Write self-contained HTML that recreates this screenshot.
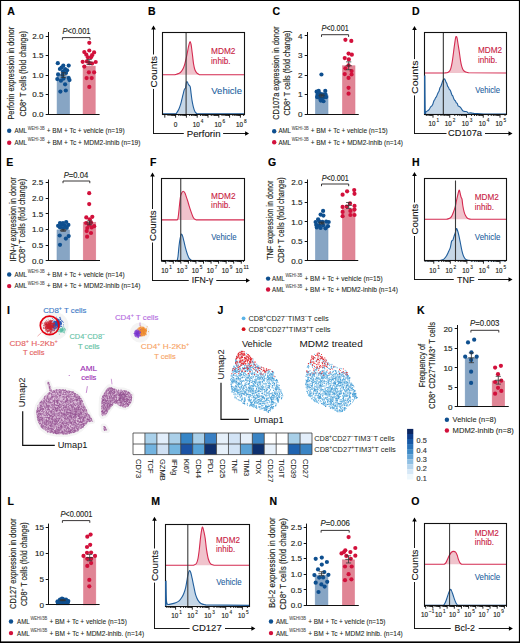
<!DOCTYPE html><html><head><meta charset="utf-8"><style>html,body{margin:0;padding:0;background:#fff;}svg{display:block;}text{font-family:"Liberation Sans",sans-serif;}</style></head><body><svg width="520" height="643" viewBox="0 0 520 643" font-family='"Liberation Sans", sans-serif'>
<rect width="520" height="643" fill="#fff"/>
<text x="7.20" y="14.60" font-size="10.5" fill="#000" stroke="#000" stroke-width="0.15" font-weight="bold">A</text>
<text x="148.00" y="14.60" font-size="10.5" fill="#000" stroke="#000" stroke-width="0.15" font-weight="bold">B</text>
<text x="272.40" y="14.60" font-size="10.5" fill="#000" stroke="#000" stroke-width="0.15" font-weight="bold">C</text>
<text x="412.00" y="14.60" font-size="10.5" fill="#000" stroke="#000" stroke-width="0.15" font-weight="bold">D</text>
<text x="6.30" y="165.60" font-size="10.5" fill="#000" stroke="#000" stroke-width="0.15" font-weight="bold">E</text>
<text x="150.00" y="165.60" font-size="10.5" fill="#000" stroke="#000" stroke-width="0.15" font-weight="bold">F</text>
<text x="268.00" y="165.60" font-size="10.5" fill="#000" stroke="#000" stroke-width="0.15" font-weight="bold">G</text>
<text x="412.00" y="165.60" font-size="10.5" fill="#000" stroke="#000" stroke-width="0.15" font-weight="bold">H</text>
<text x="7.00" y="313.80" font-size="10.5" fill="#000" stroke="#000" stroke-width="0.15" font-weight="bold">I</text>
<text x="217.60" y="313.90" font-size="10.5" fill="#000" stroke="#000" stroke-width="0.15" font-weight="bold">J</text>
<text x="417.00" y="313.80" font-size="10.5" fill="#000" stroke="#000" stroke-width="0.15" font-weight="bold">K</text>
<text x="7.40" y="504.70" font-size="10.5" fill="#000" stroke="#000" stroke-width="0.15" font-weight="bold">L</text>
<text x="151.30" y="504.70" font-size="10.5" fill="#000" stroke="#000" stroke-width="0.15" font-weight="bold">M</text>
<text x="269.50" y="504.70" font-size="10.5" fill="#000" stroke="#000" stroke-width="0.15" font-weight="bold">N</text>
<text x="411.30" y="504.70" font-size="10.5" fill="#000" stroke="#000" stroke-width="0.15" font-weight="bold">O</text>
<rect x="57.10" y="76.00" width="12.40" height="38.10" fill="#87a5c4" stroke="#7a9cc0" stroke-width="0.6"/>
<rect x="83.10" y="66.13" width="12.10" height="47.97" fill="#e08595" stroke="#de7c90" stroke-width="0.6"/>
<circle cx="57.80" cy="63.20" r="2.10" fill="#0e4f8f"/>
<circle cx="63.30" cy="65.60" r="2.10" fill="#0e4f8f"/>
<circle cx="68.70" cy="65.60" r="2.10" fill="#0e4f8f"/>
<circle cx="59.90" cy="69.00" r="2.10" fill="#0e4f8f"/>
<circle cx="65.10" cy="69.00" r="2.10" fill="#0e4f8f"/>
<circle cx="63.00" cy="71.30" r="2.10" fill="#0e4f8f"/>
<circle cx="67.10" cy="70.30" r="2.10" fill="#0e4f8f"/>
<circle cx="58.10" cy="74.40" r="2.10" fill="#0e4f8f"/>
<circle cx="62.50" cy="74.90" r="2.10" fill="#0e4f8f"/>
<circle cx="57.30" cy="79.10" r="2.10" fill="#0e4f8f"/>
<circle cx="60.90" cy="80.70" r="2.10" fill="#0e4f8f"/>
<circle cx="63.50" cy="78.60" r="2.10" fill="#0e4f8f"/>
<circle cx="68.70" cy="78.10" r="2.10" fill="#0e4f8f"/>
<circle cx="69.50" cy="80.10" r="2.10" fill="#0e4f8f"/>
<circle cx="65.10" cy="84.30" r="2.10" fill="#0e4f8f"/>
<circle cx="60.40" cy="91.60" r="2.10" fill="#0e4f8f"/>
<circle cx="65.80" cy="90.50" r="2.10" fill="#0e4f8f"/>
<circle cx="61.50" cy="67.50" r="2.10" fill="#0e4f8f"/>
<circle cx="66.00" cy="73.00" r="2.10" fill="#0e4f8f"/>
<circle cx="89.30" cy="42.80" r="2.10" fill="#d2103b"/>
<circle cx="89.30" cy="50.50" r="2.10" fill="#d2103b"/>
<circle cx="84.30" cy="52.10" r="2.10" fill="#d2103b"/>
<circle cx="94.10" cy="52.40" r="2.10" fill="#d2103b"/>
<circle cx="86.30" cy="54.70" r="2.10" fill="#d2103b"/>
<circle cx="92.10" cy="55.20" r="2.10" fill="#d2103b"/>
<circle cx="87.90" cy="57.30" r="2.10" fill="#d2103b"/>
<circle cx="91.00" cy="57.30" r="2.10" fill="#d2103b"/>
<circle cx="82.70" cy="61.80" r="2.10" fill="#d2103b"/>
<circle cx="95.70" cy="62.00" r="2.10" fill="#d2103b"/>
<circle cx="86.90" cy="61.40" r="2.10" fill="#d2103b"/>
<circle cx="89.50" cy="63.20" r="2.10" fill="#d2103b"/>
<circle cx="92.10" cy="63.50" r="2.10" fill="#d2103b"/>
<circle cx="84.30" cy="66.60" r="2.10" fill="#d2103b"/>
<circle cx="88.90" cy="72.30" r="2.10" fill="#d2103b"/>
<circle cx="94.10" cy="72.30" r="2.10" fill="#d2103b"/>
<circle cx="86.60" cy="78.10" r="2.10" fill="#d2103b"/>
<circle cx="91.70" cy="78.10" r="2.10" fill="#d2103b"/>
<circle cx="89.30" cy="86.90" r="2.10" fill="#d2103b"/>
<line x1="63.30" y1="77.44" x2="63.30" y2="72.76" stroke="#333" stroke-width="0.8"/>
<line x1="60.70" y1="77.44" x2="65.90" y2="77.44" stroke="#333" stroke-width="0.8"/>
<line x1="60.70" y1="72.76" x2="65.90" y2="72.76" stroke="#333" stroke-width="0.8"/>
<line x1="60.10" y1="75.10" x2="66.50" y2="75.10" stroke="#333" stroke-width="0.8"/>
<line x1="89.10" y1="64.53" x2="89.10" y2="59.62" stroke="#333" stroke-width="0.8"/>
<line x1="86.50" y1="64.53" x2="91.70" y2="64.53" stroke="#333" stroke-width="0.8"/>
<line x1="86.50" y1="59.62" x2="91.70" y2="59.62" stroke="#333" stroke-width="0.8"/>
<line x1="85.90" y1="62.07" x2="92.30" y2="62.07" stroke="#333" stroke-width="0.8"/>
<line x1="48.50" y1="32.00" x2="48.50" y2="115.00" stroke="#111" stroke-width="1.0"/>
<line x1="48.00" y1="114.50" x2="99.60" y2="114.50" stroke="#111" stroke-width="1.0"/>
<line x1="45.70" y1="114.50" x2="48.50" y2="114.50" stroke="#111" stroke-width="1.0"/>
<text x="43.60" y="116.95" font-size="8.1" fill="#231f20" stroke="#231f20" stroke-width="0.15" text-anchor="end">0.0</text>
<line x1="45.70" y1="94.50" x2="48.50" y2="94.50" stroke="#111" stroke-width="1.0"/>
<text x="43.60" y="97.45" font-size="8.1" fill="#231f20" stroke="#231f20" stroke-width="0.15" text-anchor="end">0.5</text>
<line x1="45.70" y1="75.50" x2="48.50" y2="75.50" stroke="#111" stroke-width="1.0"/>
<text x="43.60" y="77.95" font-size="8.1" fill="#231f20" stroke="#231f20" stroke-width="0.15" text-anchor="end">1.0</text>
<line x1="45.70" y1="55.50" x2="48.50" y2="55.50" stroke="#111" stroke-width="1.0"/>
<text x="43.60" y="58.45" font-size="8.1" fill="#231f20" stroke="#231f20" stroke-width="0.15" text-anchor="end">1.5</text>
<line x1="45.70" y1="36.50" x2="48.50" y2="36.50" stroke="#111" stroke-width="1.0"/>
<text x="43.60" y="38.95" font-size="8.1" fill="#231f20" stroke="#231f20" stroke-width="0.15" text-anchor="end">2.0</text>
<path d="M62.40 39.80V37.60H90.00V39.80" fill="none" stroke="#231f20" stroke-width="0.9"/>
<text x="62.60" y="33.70" font-size="8.3" fill="#231f20" stroke="#231f20" stroke-width="0.12" textLength="27.90" lengthAdjust="spacingAndGlyphs"><tspan font-style="italic">P</tspan>&lt;0.001</text>
<text x="13.60" y="119.60" font-size="8.9" fill="#231f20" stroke="#231f20" stroke-width="0.15" textLength="92.80" lengthAdjust="spacingAndGlyphs" transform="rotate(-90 13.60 119.60)">Perforin expression in donor</text>
<text x="25.80" y="116.60" font-size="8.9" fill="#231f20" stroke="#231f20" stroke-width="0.15" textLength="85.60" lengthAdjust="spacingAndGlyphs" transform="rotate(-90 25.80 116.60)">CD8<tspan font-size="6.05" dy="-3.20">+</tspan><tspan dy="3.20"> </tspan>T cells (fold change)</text>
<circle cx="9.20" cy="130.70" r="2.20" fill="#0e4f8f"/>
<text x="14.40" y="132.90" font-size="7.4" fill="#231f20" stroke="#231f20" stroke-width="0.08" textLength="12.60" lengthAdjust="spacingAndGlyphs">AML</text>
<text x="27.80" y="129.60" font-size="4.6" fill="#444" stroke="#444" stroke-width="0.05" textLength="16.80" lengthAdjust="spacingAndGlyphs">WEHI-3B</text>
<text x="46.70" y="132.90" font-size="7.4" fill="#231f20" stroke="#231f20" stroke-width="0.08" textLength="77.90" lengthAdjust="spacingAndGlyphs">+ BM + Tc + vehicle (n=19)</text>
<circle cx="9.20" cy="142.80" r="2.20" fill="#d2103b"/>
<text x="14.40" y="144.60" font-size="7.4" fill="#231f20" stroke="#231f20" stroke-width="0.08" textLength="12.60" lengthAdjust="spacingAndGlyphs">AML</text>
<text x="27.80" y="141.30" font-size="4.6" fill="#444" stroke="#444" stroke-width="0.05" textLength="16.80" lengthAdjust="spacingAndGlyphs">WEHI-3B</text>
<text x="46.70" y="144.60" font-size="7.4" fill="#231f20" stroke="#231f20" stroke-width="0.08" textLength="93.80" lengthAdjust="spacingAndGlyphs">+ BM + Tc + MDM2-inhib (n=19)</text>
<rect x="315.50" y="95.61" width="12.50" height="18.64" fill="#87a5c4" stroke="#7a9cc0" stroke-width="0.6"/>
<rect x="342.50" y="65.79" width="12.50" height="48.46" fill="#e08595" stroke="#de7c90" stroke-width="0.6"/>
<circle cx="321.44" cy="74.52" r="2.10" fill="#0e4f8f"/>
<circle cx="316.64" cy="91.64" r="2.10" fill="#0e4f8f"/>
<circle cx="318.70" cy="90.96" r="2.10" fill="#0e4f8f"/>
<circle cx="325.27" cy="90.96" r="2.10" fill="#0e4f8f"/>
<circle cx="317.60" cy="94.38" r="2.10" fill="#0e4f8f"/>
<circle cx="320.07" cy="93.70" r="2.10" fill="#0e4f8f"/>
<circle cx="322.81" cy="94.38" r="2.10" fill="#0e4f8f"/>
<circle cx="325.55" cy="94.38" r="2.10" fill="#0e4f8f"/>
<circle cx="317.05" cy="97.12" r="2.10" fill="#0e4f8f"/>
<circle cx="319.38" cy="97.81" r="2.10" fill="#0e4f8f"/>
<circle cx="322.12" cy="98.49" r="2.10" fill="#0e4f8f"/>
<circle cx="324.86" cy="97.12" r="2.10" fill="#0e4f8f"/>
<circle cx="320.75" cy="100.55" r="2.10" fill="#0e4f8f"/>
<circle cx="323.49" cy="101.23" r="2.10" fill="#0e4f8f"/>
<circle cx="318.70" cy="95.75" r="2.10" fill="#0e4f8f"/>
<circle cx="326.23" cy="97.12" r="2.10" fill="#0e4f8f"/>
<circle cx="345.41" cy="39.86" r="2.10" fill="#d2103b"/>
<circle cx="351.30" cy="40.96" r="2.10" fill="#d2103b"/>
<circle cx="348.56" cy="53.56" r="2.10" fill="#d2103b"/>
<circle cx="351.85" cy="54.66" r="2.10" fill="#d2103b"/>
<circle cx="344.73" cy="58.08" r="2.10" fill="#d2103b"/>
<circle cx="348.84" cy="59.45" r="2.10" fill="#d2103b"/>
<circle cx="348.56" cy="65.34" r="2.10" fill="#d2103b"/>
<circle cx="345.41" cy="68.36" r="2.10" fill="#d2103b"/>
<circle cx="351.58" cy="71.10" r="2.10" fill="#d2103b"/>
<circle cx="344.73" cy="74.11" r="2.10" fill="#d2103b"/>
<circle cx="351.58" cy="74.52" r="2.10" fill="#d2103b"/>
<circle cx="348.56" cy="77.95" r="2.10" fill="#d2103b"/>
<circle cx="348.56" cy="87.81" r="2.10" fill="#d2103b"/>
<circle cx="348.56" cy="93.70" r="2.10" fill="#d2103b"/>
<line x1="321.70" y1="96.98" x2="321.70" y2="94.24" stroke="#333" stroke-width="0.8"/>
<line x1="319.10" y1="96.98" x2="324.30" y2="96.98" stroke="#333" stroke-width="0.8"/>
<line x1="319.10" y1="94.24" x2="324.30" y2="94.24" stroke="#333" stroke-width="0.8"/>
<line x1="318.50" y1="95.61" x2="324.90" y2="95.61" stroke="#333" stroke-width="0.8"/>
<line x1="348.70" y1="69.71" x2="348.70" y2="61.86" stroke="#333" stroke-width="0.8"/>
<line x1="346.10" y1="69.71" x2="351.30" y2="69.71" stroke="#333" stroke-width="0.8"/>
<line x1="346.10" y1="61.86" x2="351.30" y2="61.86" stroke="#333" stroke-width="0.8"/>
<line x1="345.50" y1="65.79" x2="351.90" y2="65.79" stroke="#333" stroke-width="0.8"/>
<line x1="307.50" y1="32.00" x2="307.50" y2="115.00" stroke="#111" stroke-width="1.0"/>
<line x1="307.00" y1="114.50" x2="358.75" y2="114.50" stroke="#111" stroke-width="1.0"/>
<line x1="304.70" y1="114.50" x2="307.50" y2="114.50" stroke="#111" stroke-width="1.0"/>
<text x="302.60" y="117.10" font-size="8.1" fill="#231f20" stroke="#231f20" stroke-width="0.15" text-anchor="end">0</text>
<line x1="304.70" y1="94.50" x2="307.50" y2="94.50" stroke="#111" stroke-width="1.0"/>
<text x="302.60" y="97.48" font-size="8.1" fill="#231f20" stroke="#231f20" stroke-width="0.15" text-anchor="end">1</text>
<line x1="304.70" y1="75.50" x2="307.50" y2="75.50" stroke="#111" stroke-width="1.0"/>
<text x="302.60" y="77.86" font-size="8.1" fill="#231f20" stroke="#231f20" stroke-width="0.15" text-anchor="end">2</text>
<line x1="304.70" y1="55.50" x2="307.50" y2="55.50" stroke="#111" stroke-width="1.0"/>
<text x="302.60" y="58.24" font-size="8.1" fill="#231f20" stroke="#231f20" stroke-width="0.15" text-anchor="end">3</text>
<line x1="304.70" y1="35.50" x2="307.50" y2="35.50" stroke="#111" stroke-width="1.0"/>
<text x="302.60" y="38.62" font-size="8.1" fill="#231f20" stroke="#231f20" stroke-width="0.15" text-anchor="end">4</text>
<path d="M321.50 36.90V34.70H348.60V36.90" fill="none" stroke="#231f20" stroke-width="0.9"/>
<text x="321.50" y="31.20" font-size="8.3" fill="#231f20" stroke="#231f20" stroke-width="0.12" textLength="27.20" lengthAdjust="spacingAndGlyphs"><tspan font-style="italic">P</tspan>&lt;0.001</text>
<text x="279.40" y="119.70" font-size="8.9" fill="#231f20" stroke="#231f20" stroke-width="0.15" textLength="93.20" lengthAdjust="spacingAndGlyphs" transform="rotate(-90 279.40 119.70)">CD107a expression in donor</text>
<text x="290.30" y="115.60" font-size="8.9" fill="#231f20" stroke="#231f20" stroke-width="0.15" textLength="85.00" lengthAdjust="spacingAndGlyphs" transform="rotate(-90 290.30 115.60)">CD8<tspan font-size="6.05" dy="-3.20">+</tspan><tspan dy="3.20"> </tspan>T cells (fold change)</text>
<circle cx="274.20" cy="131.20" r="2.20" fill="#0e4f8f"/>
<text x="278.40" y="133.40" font-size="7.4" fill="#231f20" stroke="#231f20" stroke-width="0.08" textLength="12.60" lengthAdjust="spacingAndGlyphs">AML</text>
<text x="291.80" y="130.10" font-size="4.6" fill="#444" stroke="#444" stroke-width="0.05" textLength="16.80" lengthAdjust="spacingAndGlyphs">WEHI-3B</text>
<text x="310.70" y="133.40" font-size="7.4" fill="#231f20" stroke="#231f20" stroke-width="0.08" textLength="77.00" lengthAdjust="spacingAndGlyphs">+ BM + Tc + vehicle (n=15)</text>
<circle cx="274.20" cy="142.30" r="2.20" fill="#d2103b"/>
<text x="278.40" y="144.50" font-size="7.4" fill="#231f20" stroke="#231f20" stroke-width="0.08" textLength="12.60" lengthAdjust="spacingAndGlyphs">AML</text>
<text x="291.80" y="141.20" font-size="4.6" fill="#444" stroke="#444" stroke-width="0.05" textLength="16.80" lengthAdjust="spacingAndGlyphs">WEHI-3B</text>
<text x="310.70" y="144.50" font-size="7.4" fill="#231f20" stroke="#231f20" stroke-width="0.08" textLength="92.30" lengthAdjust="spacingAndGlyphs">+ BM + Tc + MDM2-inhib (n=14)</text>
<rect x="57.00" y="229.92" width="12.50" height="30.83" fill="#87a5c4" stroke="#7a9cc0" stroke-width="0.6"/>
<rect x="83.25" y="222.25" width="12.50" height="38.50" fill="#e08595" stroke="#de7c90" stroke-width="0.6"/>
<circle cx="60.00" cy="223.00" r="2.10" fill="#0e4f8f"/>
<circle cx="66.20" cy="222.00" r="2.10" fill="#0e4f8f"/>
<circle cx="58.10" cy="225.80" r="2.10" fill="#0e4f8f"/>
<circle cx="61.80" cy="224.90" r="2.10" fill="#0e4f8f"/>
<circle cx="64.90" cy="225.30" r="2.10" fill="#0e4f8f"/>
<circle cx="68.40" cy="224.90" r="2.10" fill="#0e4f8f"/>
<circle cx="60.00" cy="227.40" r="2.10" fill="#0e4f8f"/>
<circle cx="63.10" cy="228.00" r="2.10" fill="#0e4f8f"/>
<circle cx="66.80" cy="227.80" r="2.10" fill="#0e4f8f"/>
<circle cx="59.70" cy="235.50" r="2.10" fill="#0e4f8f"/>
<circle cx="68.70" cy="236.10" r="2.10" fill="#0e4f8f"/>
<circle cx="65.90" cy="238.60" r="2.10" fill="#0e4f8f"/>
<circle cx="60.00" cy="244.80" r="2.10" fill="#0e4f8f"/>
<circle cx="63.00" cy="223.00" r="2.10" fill="#0e4f8f"/>
<circle cx="89.20" cy="193.20" r="2.10" fill="#d2103b"/>
<circle cx="89.20" cy="204.10" r="2.10" fill="#d2103b"/>
<circle cx="86.30" cy="217.40" r="2.10" fill="#d2103b"/>
<circle cx="92.30" cy="216.80" r="2.10" fill="#d2103b"/>
<circle cx="89.80" cy="219.30" r="2.10" fill="#d2103b"/>
<circle cx="86.10" cy="223.00" r="2.10" fill="#d2103b"/>
<circle cx="91.00" cy="222.40" r="2.10" fill="#d2103b"/>
<circle cx="94.20" cy="226.20" r="2.10" fill="#d2103b"/>
<circle cx="87.30" cy="228.00" r="2.10" fill="#d2103b"/>
<circle cx="91.70" cy="227.40" r="2.10" fill="#d2103b"/>
<circle cx="86.70" cy="231.10" r="2.10" fill="#d2103b"/>
<circle cx="91.00" cy="233.00" r="2.10" fill="#d2103b"/>
<circle cx="87.10" cy="236.70" r="2.10" fill="#d2103b"/>
<circle cx="89.00" cy="225.00" r="2.10" fill="#d2103b"/>
<line x1="63.20" y1="231.33" x2="63.20" y2="229.45" stroke="#333" stroke-width="0.8"/>
<line x1="60.60" y1="231.33" x2="65.80" y2="231.33" stroke="#333" stroke-width="0.8"/>
<line x1="60.60" y1="229.45" x2="65.80" y2="229.45" stroke="#333" stroke-width="0.8"/>
<line x1="60.00" y1="230.39" x2="66.40" y2="230.39" stroke="#333" stroke-width="0.8"/>
<line x1="89.50" y1="224.75" x2="89.50" y2="221.00" stroke="#333" stroke-width="0.8"/>
<line x1="86.90" y1="224.75" x2="92.10" y2="224.75" stroke="#333" stroke-width="0.8"/>
<line x1="86.90" y1="221.00" x2="92.10" y2="221.00" stroke="#333" stroke-width="0.8"/>
<line x1="86.30" y1="222.88" x2="92.70" y2="222.88" stroke="#333" stroke-width="0.8"/>
<line x1="48.50" y1="179.50" x2="48.50" y2="261.00" stroke="#111" stroke-width="1.0"/>
<line x1="48.00" y1="260.50" x2="100.00" y2="260.50" stroke="#111" stroke-width="1.0"/>
<line x1="45.70" y1="260.50" x2="48.50" y2="260.50" stroke="#111" stroke-width="1.0"/>
<text x="43.35" y="263.60" font-size="8.1" fill="#231f20" stroke="#231f20" stroke-width="0.15" text-anchor="end">0.0</text>
<line x1="45.70" y1="245.50" x2="48.50" y2="245.50" stroke="#111" stroke-width="1.0"/>
<text x="43.35" y="247.95" font-size="8.1" fill="#231f20" stroke="#231f20" stroke-width="0.15" text-anchor="end">0.5</text>
<line x1="45.70" y1="229.50" x2="48.50" y2="229.50" stroke="#111" stroke-width="1.0"/>
<text x="43.35" y="232.30" font-size="8.1" fill="#231f20" stroke="#231f20" stroke-width="0.15" text-anchor="end">1.0</text>
<line x1="45.70" y1="213.50" x2="48.50" y2="213.50" stroke="#111" stroke-width="1.0"/>
<text x="43.35" y="216.65" font-size="8.1" fill="#231f20" stroke="#231f20" stroke-width="0.15" text-anchor="end">1.5</text>
<line x1="45.70" y1="198.50" x2="48.50" y2="198.50" stroke="#111" stroke-width="1.0"/>
<text x="43.35" y="201.00" font-size="8.1" fill="#231f20" stroke="#231f20" stroke-width="0.15" text-anchor="end">2.0</text>
<line x1="45.70" y1="182.50" x2="48.50" y2="182.50" stroke="#111" stroke-width="1.0"/>
<text x="43.35" y="185.35" font-size="8.1" fill="#231f20" stroke="#231f20" stroke-width="0.15" text-anchor="end">2.5</text>
<path d="M63.00 183.20V181.00H89.80V183.20" fill="none" stroke="#231f20" stroke-width="0.9"/>
<text x="63.70" y="177.50" font-size="8.3" fill="#231f20" stroke="#231f20" stroke-width="0.12" textLength="24.60" lengthAdjust="spacingAndGlyphs"><tspan font-style="italic">P</tspan>=0.04</text>
<text x="15.60" y="261.50" font-size="8.9" fill="#231f20" stroke="#231f20" stroke-width="0.15" textLength="84.20" lengthAdjust="spacingAndGlyphs" transform="rotate(-90 15.60 261.50)">IFN-γ expression in donor</text>
<text x="24.90" y="263.10" font-size="8.9" fill="#231f20" stroke="#231f20" stroke-width="0.15" textLength="84.20" lengthAdjust="spacingAndGlyphs" transform="rotate(-90 24.90 263.10)">CD8<tspan font-size="6.05" dy="-3.20">+</tspan><tspan dy="3.20"> </tspan>T cells (fold change)</text>
<circle cx="9.20" cy="274.50" r="2.20" fill="#0e4f8f"/>
<text x="14.40" y="276.50" font-size="7.4" fill="#231f20" stroke="#231f20" stroke-width="0.08" textLength="12.60" lengthAdjust="spacingAndGlyphs">AML</text>
<text x="27.80" y="273.20" font-size="4.6" fill="#444" stroke="#444" stroke-width="0.05" textLength="16.80" lengthAdjust="spacingAndGlyphs">WEHI-3B</text>
<text x="46.70" y="276.50" font-size="7.4" fill="#231f20" stroke="#231f20" stroke-width="0.08" textLength="77.90" lengthAdjust="spacingAndGlyphs">+ BM + Tc + vehicle (n=14)</text>
<circle cx="9.20" cy="286.10" r="2.20" fill="#d2103b"/>
<text x="14.40" y="288.30" font-size="7.4" fill="#231f20" stroke="#231f20" stroke-width="0.08" textLength="12.60" lengthAdjust="spacingAndGlyphs">AML</text>
<text x="27.80" y="285.00" font-size="4.6" fill="#444" stroke="#444" stroke-width="0.05" textLength="16.80" lengthAdjust="spacingAndGlyphs">WEHI-3B</text>
<text x="46.70" y="288.30" font-size="7.4" fill="#231f20" stroke="#231f20" stroke-width="0.08" textLength="93.80" lengthAdjust="spacingAndGlyphs">+ BM + Tc + MDM2-inhib (n=14)</text>
<rect x="315.50" y="223.21" width="12.50" height="37.54" fill="#87a5c4" stroke="#7a9cc0" stroke-width="0.6"/>
<rect x="342.50" y="208.75" width="12.50" height="52.00" fill="#e08595" stroke="#de7c90" stroke-width="0.6"/>
<circle cx="323.10" cy="210.90" r="2.10" fill="#0e4f8f"/>
<circle cx="320.60" cy="214.60" r="2.10" fill="#0e4f8f"/>
<circle cx="323.40" cy="215.60" r="2.10" fill="#0e4f8f"/>
<circle cx="318.10" cy="219.30" r="2.10" fill="#0e4f8f"/>
<circle cx="315.60" cy="222.00" r="2.10" fill="#0e4f8f"/>
<circle cx="319.30" cy="221.60" r="2.10" fill="#0e4f8f"/>
<circle cx="322.40" cy="221.80" r="2.10" fill="#0e4f8f"/>
<circle cx="326.20" cy="221.60" r="2.10" fill="#0e4f8f"/>
<circle cx="328.70" cy="222.00" r="2.10" fill="#0e4f8f"/>
<circle cx="316.20" cy="224.90" r="2.10" fill="#0e4f8f"/>
<circle cx="319.30" cy="225.50" r="2.10" fill="#0e4f8f"/>
<circle cx="323.10" cy="225.30" r="2.10" fill="#0e4f8f"/>
<circle cx="328.00" cy="226.20" r="2.10" fill="#0e4f8f"/>
<circle cx="316.80" cy="227.40" r="2.10" fill="#0e4f8f"/>
<circle cx="320.60" cy="228.00" r="2.10" fill="#0e4f8f"/>
<circle cx="325.50" cy="228.30" r="2.10" fill="#0e4f8f"/>
<circle cx="342.60" cy="194.70" r="2.10" fill="#d2103b"/>
<circle cx="347.10" cy="191.30" r="2.10" fill="#d2103b"/>
<circle cx="354.20" cy="190.10" r="2.10" fill="#d2103b"/>
<circle cx="354.50" cy="193.80" r="2.10" fill="#d2103b"/>
<circle cx="350.00" cy="203.40" r="2.10" fill="#d2103b"/>
<circle cx="342.60" cy="206.90" r="2.10" fill="#d2103b"/>
<circle cx="346.70" cy="206.60" r="2.10" fill="#d2103b"/>
<circle cx="354.50" cy="205.90" r="2.10" fill="#d2103b"/>
<circle cx="342.60" cy="211.90" r="2.10" fill="#d2103b"/>
<circle cx="350.40" cy="210.90" r="2.10" fill="#d2103b"/>
<circle cx="354.50" cy="209.60" r="2.10" fill="#d2103b"/>
<circle cx="342.60" cy="216.20" r="2.10" fill="#d2103b"/>
<circle cx="350.40" cy="215.00" r="2.10" fill="#d2103b"/>
<circle cx="354.50" cy="215.00" r="2.10" fill="#d2103b"/>
<line x1="321.70" y1="224.00" x2="321.70" y2="222.04" stroke="#333" stroke-width="0.8"/>
<line x1="319.10" y1="224.00" x2="324.30" y2="224.00" stroke="#333" stroke-width="0.8"/>
<line x1="319.10" y1="222.04" x2="324.30" y2="222.04" stroke="#333" stroke-width="0.8"/>
<line x1="318.50" y1="223.02" x2="324.90" y2="223.02" stroke="#333" stroke-width="0.8"/>
<line x1="348.70" y1="208.36" x2="348.70" y2="202.49" stroke="#333" stroke-width="0.8"/>
<line x1="346.10" y1="208.36" x2="351.30" y2="208.36" stroke="#333" stroke-width="0.8"/>
<line x1="346.10" y1="202.49" x2="351.30" y2="202.49" stroke="#333" stroke-width="0.8"/>
<line x1="345.50" y1="205.42" x2="351.90" y2="205.42" stroke="#333" stroke-width="0.8"/>
<line x1="307.50" y1="179.50" x2="307.50" y2="261.00" stroke="#111" stroke-width="1.0"/>
<line x1="307.00" y1="260.50" x2="358.25" y2="260.50" stroke="#111" stroke-width="1.0"/>
<line x1="304.70" y1="260.50" x2="307.50" y2="260.50" stroke="#111" stroke-width="1.0"/>
<text x="302.60" y="263.60" font-size="8.1" fill="#231f20" stroke="#231f20" stroke-width="0.15" text-anchor="end">0.0</text>
<line x1="304.70" y1="241.50" x2="307.50" y2="241.50" stroke="#111" stroke-width="1.0"/>
<text x="302.60" y="244.05" font-size="8.1" fill="#231f20" stroke="#231f20" stroke-width="0.15" text-anchor="end">0.5</text>
<line x1="304.70" y1="221.50" x2="307.50" y2="221.50" stroke="#111" stroke-width="1.0"/>
<text x="302.60" y="224.50" font-size="8.1" fill="#231f20" stroke="#231f20" stroke-width="0.15" text-anchor="end">1.0</text>
<line x1="304.70" y1="202.50" x2="307.50" y2="202.50" stroke="#111" stroke-width="1.0"/>
<text x="302.60" y="204.95" font-size="8.1" fill="#231f20" stroke="#231f20" stroke-width="0.15" text-anchor="end">1.5</text>
<line x1="304.70" y1="182.50" x2="307.50" y2="182.50" stroke="#111" stroke-width="1.0"/>
<text x="302.60" y="185.40" font-size="8.1" fill="#231f20" stroke="#231f20" stroke-width="0.15" text-anchor="end">2.0</text>
<path d="M321.50 186.20V184.00H348.70V186.20" fill="none" stroke="#231f20" stroke-width="0.9"/>
<text x="321.70" y="180.50" font-size="8.3" fill="#231f20" stroke="#231f20" stroke-width="0.12" textLength="27.20" lengthAdjust="spacingAndGlyphs"><tspan font-style="italic">P</tspan>&lt;0.001</text>
<text x="273.40" y="259.80" font-size="8.9" fill="#231f20" stroke="#231f20" stroke-width="0.15" textLength="79.30" lengthAdjust="spacingAndGlyphs" transform="rotate(-90 273.40 259.80)">TNF expression in donor</text>
<text x="284.10" y="263.10" font-size="8.9" fill="#231f20" stroke="#231f20" stroke-width="0.15" textLength="85.80" lengthAdjust="spacingAndGlyphs" transform="rotate(-90 284.10 263.10)">CD8<tspan font-size="6.05" dy="-3.20">+</tspan><tspan dy="3.20"> </tspan>T cells (fold change)</text>
<circle cx="268.10" cy="278.60" r="2.20" fill="#0e4f8f"/>
<text x="272.10" y="280.50" font-size="7.4" fill="#231f20" stroke="#231f20" stroke-width="0.08" textLength="12.60" lengthAdjust="spacingAndGlyphs">AML</text>
<text x="285.50" y="277.20" font-size="4.6" fill="#444" stroke="#444" stroke-width="0.05" textLength="16.80" lengthAdjust="spacingAndGlyphs">WEHI-3B</text>
<text x="304.40" y="280.50" font-size="7.4" fill="#231f20" stroke="#231f20" stroke-width="0.08" textLength="78.20" lengthAdjust="spacingAndGlyphs">+ BM + Tc + vehicle (n=15)</text>
<circle cx="268.10" cy="289.50" r="2.20" fill="#d2103b"/>
<text x="272.10" y="291.60" font-size="7.4" fill="#231f20" stroke="#231f20" stroke-width="0.08" textLength="12.60" lengthAdjust="spacingAndGlyphs">AML</text>
<text x="285.50" y="288.30" font-size="4.6" fill="#444" stroke="#444" stroke-width="0.05" textLength="16.80" lengthAdjust="spacingAndGlyphs">WEHI-3B</text>
<text x="304.40" y="291.60" font-size="7.4" fill="#231f20" stroke="#231f20" stroke-width="0.08" textLength="93.50" lengthAdjust="spacingAndGlyphs">+ BM + Tc + MDM2-inhib (n=14)</text>
<rect x="465.20" y="358.00" width="12.50" height="48.75" fill="#87a5c4" stroke="#7a9cc0" stroke-width="0.6"/>
<rect x="492.20" y="381.01" width="12.40" height="25.74" fill="#e08595" stroke="#de7c90" stroke-width="0.6"/>
<circle cx="468.00" cy="342.40" r="2.10" fill="#0e4f8f"/>
<circle cx="474.20" cy="339.70" r="2.10" fill="#0e4f8f"/>
<circle cx="471.40" cy="352.40" r="2.10" fill="#0e4f8f"/>
<circle cx="465.20" cy="356.70" r="2.10" fill="#0e4f8f"/>
<circle cx="476.70" cy="356.70" r="2.10" fill="#0e4f8f"/>
<circle cx="471.10" cy="359.90" r="2.10" fill="#0e4f8f"/>
<circle cx="471.10" cy="371.70" r="2.10" fill="#0e4f8f"/>
<circle cx="471.10" cy="382.90" r="2.10" fill="#0e4f8f"/>
<circle cx="495.10" cy="367.60" r="2.10" fill="#d2103b"/>
<circle cx="500.90" cy="365.80" r="2.10" fill="#d2103b"/>
<circle cx="498.00" cy="374.20" r="2.10" fill="#d2103b"/>
<circle cx="495.10" cy="382.00" r="2.10" fill="#d2103b"/>
<circle cx="501.30" cy="380.70" r="2.10" fill="#d2103b"/>
<circle cx="498.00" cy="387.80" r="2.10" fill="#d2103b"/>
<circle cx="501.30" cy="390.90" r="2.10" fill="#d2103b"/>
<circle cx="495.10" cy="393.70" r="2.10" fill="#d2103b"/>
<line x1="471.40" y1="362.68" x2="471.40" y2="352.93" stroke="#333" stroke-width="0.8"/>
<line x1="468.80" y1="362.68" x2="474.00" y2="362.68" stroke="#333" stroke-width="0.8"/>
<line x1="468.80" y1="352.93" x2="474.00" y2="352.93" stroke="#333" stroke-width="0.8"/>
<line x1="468.20" y1="357.81" x2="474.60" y2="357.81" stroke="#333" stroke-width="0.8"/>
<line x1="498.30" y1="384.13" x2="498.30" y2="376.33" stroke="#333" stroke-width="0.8"/>
<line x1="495.70" y1="384.13" x2="500.90" y2="384.13" stroke="#333" stroke-width="0.8"/>
<line x1="495.70" y1="376.33" x2="500.90" y2="376.33" stroke="#333" stroke-width="0.8"/>
<line x1="495.10" y1="380.23" x2="501.50" y2="380.23" stroke="#333" stroke-width="0.8"/>
<line x1="457.50" y1="325.00" x2="457.50" y2="407.00" stroke="#111" stroke-width="1.0"/>
<line x1="457.00" y1="406.50" x2="508.75" y2="406.50" stroke="#111" stroke-width="1.0"/>
<line x1="454.70" y1="406.50" x2="457.50" y2="406.50" stroke="#111" stroke-width="1.0"/>
<text x="452.60" y="409.60" font-size="8.1" fill="#231f20" stroke="#231f20" stroke-width="0.15" text-anchor="end">0</text>
<line x1="454.70" y1="387.50" x2="457.50" y2="387.50" stroke="#111" stroke-width="1.0"/>
<text x="452.60" y="390.10" font-size="8.1" fill="#231f20" stroke="#231f20" stroke-width="0.15" text-anchor="end">5</text>
<line x1="454.70" y1="367.50" x2="457.50" y2="367.50" stroke="#111" stroke-width="1.0"/>
<text x="452.60" y="370.60" font-size="8.1" fill="#231f20" stroke="#231f20" stroke-width="0.15" text-anchor="end">10</text>
<line x1="454.70" y1="348.50" x2="457.50" y2="348.50" stroke="#111" stroke-width="1.0"/>
<text x="452.60" y="351.10" font-size="8.1" fill="#231f20" stroke="#231f20" stroke-width="0.15" text-anchor="end">15</text>
<line x1="454.70" y1="328.50" x2="457.50" y2="328.50" stroke="#111" stroke-width="1.0"/>
<text x="452.60" y="331.60" font-size="8.1" fill="#231f20" stroke="#231f20" stroke-width="0.15" text-anchor="end">20</text>
<path d="M470.90 332.50V330.30H498.80V332.50" fill="none" stroke="#231f20" stroke-width="0.9"/>
<text x="470.00" y="326.40" font-size="8.3" fill="#231f20" stroke="#231f20" stroke-width="0.12" textLength="29.40" lengthAdjust="spacingAndGlyphs"><tspan font-style="italic">P</tspan>=0.003</text>
<text x="424.80" y="387.30" font-size="8.9" fill="#231f20" stroke="#231f20" stroke-width="0.15" textLength="43.50" lengthAdjust="spacingAndGlyphs" transform="rotate(-90 424.80 387.30)">Frequency of</text>
<text x="434.90" y="409.00" font-size="8.9" fill="#231f20" stroke="#231f20" stroke-width="0.15" textLength="87.00" lengthAdjust="spacingAndGlyphs" transform="rotate(-90 434.90 409.00)">CD8<tspan font-size="6.05" dy="-3.20">+</tspan><tspan dy="3.20"> </tspan>CD27<tspan font-size="6.05" dy="-3.20">+</tspan><tspan dy="3.20">T</tspan>IM3<tspan font-size="6.05" dy="-3.20">+</tspan><tspan dy="3.20"> </tspan>T cells</text>
<circle cx="446.90" cy="419.70" r="2.20" fill="#0e4f8f"/>
<text x="452.60" y="422.00" font-size="7.6" fill="#231f20" stroke="#231f20" stroke-width="0.08" textLength="43.60" lengthAdjust="spacingAndGlyphs">Vehicle (n=8)</text>
<circle cx="446.90" cy="430.50" r="2.20" fill="#d2103b"/>
<text x="452.60" y="432.60" font-size="7.6" fill="#231f20" stroke="#231f20" stroke-width="0.08" textLength="61.20" lengthAdjust="spacingAndGlyphs">MDM2-inhib (n=8)</text>
<rect x="56.30" y="599.99" width="12.70" height="4.91" fill="#87a5c4" stroke="#7a9cc0" stroke-width="0.6"/>
<rect x="83.60" y="557.59" width="12.20" height="47.31" fill="#e08595" stroke="#de7c90" stroke-width="0.6"/>
<circle cx="57.50" cy="601.50" r="2.10" fill="#0e4f8f"/>
<circle cx="60.00" cy="599.50" r="2.10" fill="#0e4f8f"/>
<circle cx="63.00" cy="599.00" r="2.10" fill="#0e4f8f"/>
<circle cx="66.00" cy="599.50" r="2.10" fill="#0e4f8f"/>
<circle cx="68.30" cy="601.00" r="2.10" fill="#0e4f8f"/>
<circle cx="59.50" cy="602.50" r="2.10" fill="#0e4f8f"/>
<circle cx="62.50" cy="602.50" r="2.10" fill="#0e4f8f"/>
<circle cx="65.50" cy="602.30" r="2.10" fill="#0e4f8f"/>
<circle cx="61.00" cy="600.50" r="2.10" fill="#0e4f8f"/>
<circle cx="64.50" cy="600.80" r="2.10" fill="#0e4f8f"/>
<circle cx="57.80" cy="602.80" r="2.10" fill="#0e4f8f"/>
<circle cx="67.80" cy="602.60" r="2.10" fill="#0e4f8f"/>
<circle cx="62.00" cy="598.60" r="2.10" fill="#0e4f8f"/>
<circle cx="60.50" cy="603.00" r="2.10" fill="#0e4f8f"/>
<circle cx="65.00" cy="603.00" r="2.10" fill="#0e4f8f"/>
<circle cx="87.30" cy="536.70" r="2.10" fill="#d2103b"/>
<circle cx="90.60" cy="534.60" r="2.10" fill="#d2103b"/>
<circle cx="87.00" cy="547.00" r="2.10" fill="#d2103b"/>
<circle cx="90.20" cy="544.80" r="2.10" fill="#d2103b"/>
<circle cx="87.00" cy="552.80" r="2.10" fill="#d2103b"/>
<circle cx="91.10" cy="552.50" r="2.10" fill="#d2103b"/>
<circle cx="83.50" cy="555.90" r="2.10" fill="#d2103b"/>
<circle cx="95.00" cy="555.90" r="2.10" fill="#d2103b"/>
<circle cx="87.30" cy="558.80" r="2.10" fill="#d2103b"/>
<circle cx="91.10" cy="558.80" r="2.10" fill="#d2103b"/>
<circle cx="91.10" cy="563.10" r="2.10" fill="#d2103b"/>
<circle cx="87.30" cy="565.90" r="2.10" fill="#d2103b"/>
<circle cx="89.30" cy="579.90" r="2.10" fill="#d2103b"/>
<circle cx="89.30" cy="586.30" r="2.10" fill="#d2103b"/>
<line x1="62.70" y1="600.76" x2="62.70" y2="599.73" stroke="#333" stroke-width="0.8"/>
<line x1="60.10" y1="600.76" x2="65.30" y2="600.76" stroke="#333" stroke-width="0.8"/>
<line x1="60.10" y1="599.73" x2="65.30" y2="599.73" stroke="#333" stroke-width="0.8"/>
<line x1="59.50" y1="600.25" x2="65.90" y2="600.25" stroke="#333" stroke-width="0.8"/>
<line x1="89.70" y1="560.80" x2="89.70" y2="554.39" stroke="#333" stroke-width="0.8"/>
<line x1="87.10" y1="560.80" x2="92.30" y2="560.80" stroke="#333" stroke-width="0.8"/>
<line x1="87.10" y1="554.39" x2="92.30" y2="554.39" stroke="#333" stroke-width="0.8"/>
<line x1="86.50" y1="557.59" x2="92.90" y2="557.59" stroke="#333" stroke-width="0.8"/>
<line x1="48.50" y1="523.60" x2="48.50" y2="605.00" stroke="#111" stroke-width="1.0"/>
<line x1="48.00" y1="604.50" x2="99.60" y2="604.50" stroke="#111" stroke-width="1.0"/>
<line x1="45.70" y1="604.50" x2="48.50" y2="604.50" stroke="#111" stroke-width="1.0"/>
<text x="44.00" y="607.75" font-size="8.1" fill="#231f20" stroke="#231f20" stroke-width="0.15" text-anchor="end">0</text>
<line x1="45.70" y1="579.50" x2="48.50" y2="579.50" stroke="#111" stroke-width="1.0"/>
<text x="44.00" y="581.90" font-size="8.1" fill="#231f20" stroke="#231f20" stroke-width="0.15" text-anchor="end">5</text>
<line x1="45.70" y1="553.50" x2="48.50" y2="553.50" stroke="#111" stroke-width="1.0"/>
<text x="44.00" y="556.05" font-size="8.1" fill="#231f20" stroke="#231f20" stroke-width="0.15" text-anchor="end">10</text>
<line x1="45.70" y1="527.50" x2="48.50" y2="527.50" stroke="#111" stroke-width="1.0"/>
<text x="44.00" y="530.20" font-size="8.1" fill="#231f20" stroke="#231f20" stroke-width="0.15" text-anchor="end">15</text>
<path d="M62.40 522.80V520.60H89.80V522.80" fill="none" stroke="#231f20" stroke-width="0.9"/>
<text x="60.40" y="516.70" font-size="8.3" fill="#231f20" stroke="#231f20" stroke-width="0.12" textLength="32.00" lengthAdjust="spacingAndGlyphs"><tspan font-style="italic">P</tspan>&lt;0.0001</text>
<text x="16.40" y="609.00" font-size="8.9" fill="#231f20" stroke="#231f20" stroke-width="0.15" textLength="90.40" lengthAdjust="spacingAndGlyphs" transform="rotate(-90 16.40 609.00)">CD127 expression in donor</text>
<text x="27.00" y="606.00" font-size="8.9" fill="#231f20" stroke="#231f20" stroke-width="0.15" textLength="83.70" lengthAdjust="spacingAndGlyphs" transform="rotate(-90 27.00 606.00)">CD8<tspan font-size="6.05" dy="-3.20">+</tspan><tspan dy="3.20"> </tspan>T cells (fold change)</text>
<circle cx="11.00" cy="621.50" r="2.20" fill="#0e4f8f"/>
<text x="17.10" y="623.60" font-size="7.4" fill="#231f20" stroke="#231f20" stroke-width="0.08" textLength="12.60" lengthAdjust="spacingAndGlyphs">AML</text>
<text x="30.50" y="620.30" font-size="4.6" fill="#444" stroke="#444" stroke-width="0.05" textLength="16.80" lengthAdjust="spacingAndGlyphs">WEHI/3B</text>
<text x="49.40" y="623.60" font-size="7.4" fill="#231f20" stroke="#231f20" stroke-width="0.08" textLength="77.50" lengthAdjust="spacingAndGlyphs">+ BM + Tc + vehicle (n=15)</text>
<circle cx="11.00" cy="633.10" r="2.20" fill="#d2103b"/>
<text x="17.10" y="635.50" font-size="7.4" fill="#231f20" stroke="#231f20" stroke-width="0.08" textLength="12.60" lengthAdjust="spacingAndGlyphs">AML</text>
<text x="30.50" y="632.20" font-size="4.6" fill="#444" stroke="#444" stroke-width="0.05" textLength="16.80" lengthAdjust="spacingAndGlyphs">WEHI/3B</text>
<text x="49.40" y="635.50" font-size="7.4" fill="#231f20" stroke="#231f20" stroke-width="0.08" textLength="94.80" lengthAdjust="spacingAndGlyphs">+ BM + Tc + MDM2-inhib. (n=14)</text>
<rect x="315.20" y="575.45" width="12.70" height="29.95" fill="#87a5c4" stroke="#7a9cc0" stroke-width="0.6"/>
<rect x="342.40" y="559.85" width="12.10" height="45.55" fill="#e08595" stroke="#de7c90" stroke-width="0.6"/>
<circle cx="315.70" cy="558.80" r="2.10" fill="#0e4f8f"/>
<circle cx="321.80" cy="557.60" r="2.10" fill="#0e4f8f"/>
<circle cx="326.90" cy="562.00" r="2.10" fill="#0e4f8f"/>
<circle cx="321.80" cy="564.60" r="2.10" fill="#0e4f8f"/>
<circle cx="318.00" cy="569.40" r="2.10" fill="#0e4f8f"/>
<circle cx="324.30" cy="572.00" r="2.10" fill="#0e4f8f"/>
<circle cx="314.40" cy="575.10" r="2.10" fill="#0e4f8f"/>
<circle cx="319.20" cy="577.60" r="2.10" fill="#0e4f8f"/>
<circle cx="323.10" cy="577.40" r="2.10" fill="#0e4f8f"/>
<circle cx="328.40" cy="574.80" r="2.10" fill="#0e4f8f"/>
<circle cx="315.70" cy="582.70" r="2.10" fill="#0e4f8f"/>
<circle cx="321.40" cy="584.40" r="2.10" fill="#0e4f8f"/>
<circle cx="327.20" cy="581.80" r="2.10" fill="#0e4f8f"/>
<circle cx="324.60" cy="586.60" r="2.10" fill="#0e4f8f"/>
<circle cx="318.50" cy="592.00" r="2.10" fill="#0e4f8f"/>
<circle cx="348.60" cy="537.10" r="2.10" fill="#d2103b"/>
<circle cx="355.30" cy="548.00" r="2.10" fill="#d2103b"/>
<circle cx="345.30" cy="550.30" r="2.10" fill="#d2103b"/>
<circle cx="341.50" cy="553.40" r="2.10" fill="#d2103b"/>
<circle cx="344.00" cy="552.10" r="2.10" fill="#d2103b"/>
<circle cx="350.40" cy="552.10" r="2.10" fill="#d2103b"/>
<circle cx="346.30" cy="555.90" r="2.10" fill="#d2103b"/>
<circle cx="355.30" cy="555.70" r="2.10" fill="#d2103b"/>
<circle cx="350.80" cy="558.80" r="2.10" fill="#d2103b"/>
<circle cx="345.00" cy="566.50" r="2.10" fill="#d2103b"/>
<circle cx="351.70" cy="566.50" r="2.10" fill="#d2103b"/>
<circle cx="348.60" cy="574.20" r="2.10" fill="#d2103b"/>
<circle cx="345.00" cy="580.20" r="2.10" fill="#d2103b"/>
<circle cx="351.40" cy="579.30" r="2.10" fill="#d2103b"/>
<line x1="321.50" y1="575.76" x2="321.50" y2="571.70" stroke="#333" stroke-width="0.8"/>
<line x1="318.90" y1="575.76" x2="324.10" y2="575.76" stroke="#333" stroke-width="0.8"/>
<line x1="318.90" y1="571.70" x2="324.10" y2="571.70" stroke="#333" stroke-width="0.8"/>
<line x1="318.30" y1="573.73" x2="324.70" y2="573.73" stroke="#333" stroke-width="0.8"/>
<line x1="348.50" y1="562.97" x2="348.50" y2="555.79" stroke="#333" stroke-width="0.8"/>
<line x1="345.90" y1="562.97" x2="351.10" y2="562.97" stroke="#333" stroke-width="0.8"/>
<line x1="345.90" y1="555.79" x2="351.10" y2="555.79" stroke="#333" stroke-width="0.8"/>
<line x1="345.30" y1="559.38" x2="351.70" y2="559.38" stroke="#333" stroke-width="0.8"/>
<line x1="306.50" y1="523.60" x2="306.50" y2="606.00" stroke="#111" stroke-width="1.0"/>
<line x1="306.00" y1="605.50" x2="358.80" y2="605.50" stroke="#111" stroke-width="1.0"/>
<line x1="303.70" y1="605.50" x2="306.50" y2="605.50" stroke="#111" stroke-width="1.0"/>
<text x="302.00" y="608.25" font-size="8.1" fill="#231f20" stroke="#231f20" stroke-width="0.15" text-anchor="end">0.0</text>
<line x1="303.70" y1="589.50" x2="306.50" y2="589.50" stroke="#111" stroke-width="1.0"/>
<text x="302.00" y="592.65" font-size="8.1" fill="#231f20" stroke="#231f20" stroke-width="0.15" text-anchor="end">0.5</text>
<line x1="303.70" y1="574.50" x2="306.50" y2="574.50" stroke="#111" stroke-width="1.0"/>
<text x="302.00" y="577.05" font-size="8.1" fill="#231f20" stroke="#231f20" stroke-width="0.15" text-anchor="end">1.0</text>
<line x1="303.70" y1="558.50" x2="306.50" y2="558.50" stroke="#111" stroke-width="1.0"/>
<text x="302.00" y="561.45" font-size="8.1" fill="#231f20" stroke="#231f20" stroke-width="0.15" text-anchor="end">1.5</text>
<line x1="303.70" y1="543.50" x2="306.50" y2="543.50" stroke="#111" stroke-width="1.0"/>
<text x="302.00" y="545.85" font-size="8.1" fill="#231f20" stroke="#231f20" stroke-width="0.15" text-anchor="end">2.0</text>
<line x1="303.70" y1="527.50" x2="306.50" y2="527.50" stroke="#111" stroke-width="1.0"/>
<text x="302.00" y="530.25" font-size="8.1" fill="#231f20" stroke="#231f20" stroke-width="0.15" text-anchor="end">2.5</text>
<path d="M321.10 532.60V530.40H349.20V532.60" fill="none" stroke="#231f20" stroke-width="0.9"/>
<text x="320.50" y="526.40" font-size="8.3" fill="#231f20" stroke="#231f20" stroke-width="0.12" textLength="29.40" lengthAdjust="spacingAndGlyphs"><tspan font-style="italic">P</tspan>=0.006</text>
<text x="275.10" y="608.10" font-size="8.9" fill="#231f20" stroke="#231f20" stroke-width="0.15" textLength="90.70" lengthAdjust="spacingAndGlyphs" transform="rotate(-90 275.10 608.10)">Bcl-2 expression in donor</text>
<text x="285.70" y="609.70" font-size="8.9" fill="#231f20" stroke="#231f20" stroke-width="0.15" textLength="91.50" lengthAdjust="spacingAndGlyphs" transform="rotate(-90 285.70 609.70)">CD8<tspan font-size="6.05" dy="-3.20">+</tspan><tspan dy="3.20"> </tspan>T cells (fold change)</text>
<circle cx="271.00" cy="621.50" r="2.20" fill="#0e4f8f"/>
<text x="275.90" y="623.60" font-size="7.4" fill="#231f20" stroke="#231f20" stroke-width="0.08" textLength="12.60" lengthAdjust="spacingAndGlyphs">AML</text>
<text x="289.30" y="620.30" font-size="4.6" fill="#444" stroke="#444" stroke-width="0.05" textLength="16.80" lengthAdjust="spacingAndGlyphs">WEHI/3B</text>
<text x="308.20" y="623.60" font-size="7.4" fill="#231f20" stroke="#231f20" stroke-width="0.08" textLength="77.30" lengthAdjust="spacingAndGlyphs">+ BM + Tc + vehicle (n=15)</text>
<circle cx="271.00" cy="633.10" r="2.20" fill="#d2103b"/>
<text x="275.90" y="635.50" font-size="7.4" fill="#231f20" stroke="#231f20" stroke-width="0.08" textLength="12.60" lengthAdjust="spacingAndGlyphs">AML</text>
<text x="289.30" y="632.20" font-size="4.6" fill="#444" stroke="#444" stroke-width="0.05" textLength="16.80" lengthAdjust="spacingAndGlyphs">WEHI/3B</text>
<text x="308.20" y="635.50" font-size="7.4" fill="#231f20" stroke="#231f20" stroke-width="0.08" textLength="94.60" lengthAdjust="spacingAndGlyphs">+ BM + Tc + MDM2 inhib. (n=14)</text>
<path d="M163.00 74.80L175.00 74.60C175.62 74.43 177.67 74.08 178.70 73.60C179.73 73.12 180.42 72.63 181.20 71.70C181.98 70.77 182.78 69.35 183.40 68.00C184.02 66.65 184.45 65.17 184.90 63.60C185.35 62.03 185.68 60.47 186.10 58.60C186.52 56.73 186.98 54.47 187.40 52.40C187.82 50.33 188.18 47.97 188.60 46.20C189.02 44.43 189.52 42.22 189.90 41.80C190.28 41.38 190.60 42.55 190.90 43.70C191.20 44.85 191.42 46.63 191.70 48.70C191.98 50.77 192.28 53.52 192.60 56.10C192.92 58.68 193.22 61.92 193.60 64.20C193.98 66.48 194.38 68.35 194.90 69.80C195.42 71.25 195.98 72.10 196.70 72.90C197.42 73.70 198.78 74.32 199.20 74.60L244.00 74.80 L244.00 74.80 L163.00 74.80Z" fill="#f0c3cc" stroke="none"/>
<path d="M163.00 74.80L175.00 74.60C175.62 74.43 177.67 74.08 178.70 73.60C179.73 73.12 180.42 72.63 181.20 71.70C181.98 70.77 182.78 69.35 183.40 68.00C184.02 66.65 184.45 65.17 184.90 63.60C185.35 62.03 185.68 60.47 186.10 58.60C186.52 56.73 186.98 54.47 187.40 52.40C187.82 50.33 188.18 47.97 188.60 46.20C189.02 44.43 189.52 42.22 189.90 41.80C190.28 41.38 190.60 42.55 190.90 43.70C191.20 44.85 191.42 46.63 191.70 48.70C191.98 50.77 192.28 53.52 192.60 56.10C192.92 58.68 193.22 61.92 193.60 64.20C193.98 66.48 194.38 68.35 194.90 69.80C195.42 71.25 195.98 72.10 196.70 72.90C197.42 73.70 198.78 74.32 199.20 74.60L244.00 74.80" fill="none" stroke="#d42a50" stroke-width="1.1" stroke-linejoin="round"/>
<path d="M163.00 113.80L176.20 113.60C176.62 112.93 177.98 111.08 178.70 109.60C179.42 108.12 179.98 106.35 180.50 104.70C181.02 103.05 181.38 101.37 181.80 99.70C182.22 98.03 182.58 96.38 183.00 94.70C183.42 93.02 183.88 90.73 184.30 89.60C184.72 88.47 185.15 89.12 185.50 87.90C185.85 86.68 186.08 83.28 186.40 82.30C186.72 81.32 187.07 81.62 187.40 82.00C187.73 82.38 188.08 84.03 188.40 84.60C188.72 85.17 188.98 84.97 189.30 85.40C189.62 85.83 190.00 85.85 190.30 87.20C190.60 88.55 190.80 91.22 191.10 93.50C191.40 95.78 191.72 98.63 192.10 100.90C192.48 103.17 192.93 105.33 193.40 107.10C193.87 108.87 194.35 110.42 194.90 111.50C195.45 112.58 196.40 113.25 196.70 113.60L244.00 113.80 L244.00 113.80 L163.00 113.80Z" fill="#c6d7e7" stroke="none"/>
<path d="M163.00 113.80L176.20 113.60C176.62 112.93 177.98 111.08 178.70 109.60C179.42 108.12 179.98 106.35 180.50 104.70C181.02 103.05 181.38 101.37 181.80 99.70C182.22 98.03 182.58 96.38 183.00 94.70C183.42 93.02 183.88 90.73 184.30 89.60C184.72 88.47 185.15 89.12 185.50 87.90C185.85 86.68 186.08 83.28 186.40 82.30C186.72 81.32 187.07 81.62 187.40 82.00C187.73 82.38 188.08 84.03 188.40 84.60C188.72 85.17 188.98 84.97 189.30 85.40C189.62 85.83 190.00 85.85 190.30 87.20C190.60 88.55 190.80 91.22 191.10 93.50C191.40 95.78 191.72 98.63 192.10 100.90C192.48 103.17 192.93 105.33 193.40 107.10C193.87 108.87 194.35 110.42 194.90 111.50C195.45 112.58 196.40 113.25 196.70 113.60L244.00 113.80" fill="none" stroke="#215e9c" stroke-width="1.1" stroke-linejoin="round"/>
<line x1="186.10" y1="32.50" x2="186.10" y2="114.50" stroke="#3a3a3a" stroke-width="1.1"/>
<rect x="162.50" y="32.50" width="82.00" height="82.00" fill="none" stroke="#111" stroke-width="1.1"/>
<line x1="164.80" y1="114.50" x2="164.80" y2="117.70" stroke="#111" stroke-width="0.9"/>
<line x1="168.05" y1="114.50" x2="168.05" y2="116.00" stroke="#111" stroke-width="0.9"/>
<line x1="169.95" y1="114.50" x2="169.95" y2="116.00" stroke="#111" stroke-width="0.9"/>
<line x1="171.30" y1="114.50" x2="171.30" y2="116.00" stroke="#111" stroke-width="0.9"/>
<line x1="172.35" y1="114.50" x2="172.35" y2="116.00" stroke="#111" stroke-width="0.9"/>
<line x1="173.20" y1="114.50" x2="173.20" y2="116.00" stroke="#111" stroke-width="0.9"/>
<line x1="173.93" y1="114.50" x2="173.93" y2="116.00" stroke="#111" stroke-width="0.9"/>
<line x1="174.55" y1="114.50" x2="174.55" y2="116.00" stroke="#111" stroke-width="0.9"/>
<line x1="175.11" y1="114.50" x2="175.11" y2="116.00" stroke="#111" stroke-width="0.9"/>
<line x1="175.60" y1="114.50" x2="175.60" y2="117.70" stroke="#111" stroke-width="0.9"/>
<line x1="178.85" y1="114.50" x2="178.85" y2="116.00" stroke="#111" stroke-width="0.9"/>
<line x1="180.75" y1="114.50" x2="180.75" y2="116.00" stroke="#111" stroke-width="0.9"/>
<line x1="182.10" y1="114.50" x2="182.10" y2="116.00" stroke="#111" stroke-width="0.9"/>
<line x1="183.15" y1="114.50" x2="183.15" y2="116.00" stroke="#111" stroke-width="0.9"/>
<line x1="184.00" y1="114.50" x2="184.00" y2="116.00" stroke="#111" stroke-width="0.9"/>
<line x1="184.73" y1="114.50" x2="184.73" y2="116.00" stroke="#111" stroke-width="0.9"/>
<line x1="185.35" y1="114.50" x2="185.35" y2="116.00" stroke="#111" stroke-width="0.9"/>
<line x1="185.91" y1="114.50" x2="185.91" y2="116.00" stroke="#111" stroke-width="0.9"/>
<line x1="186.40" y1="114.50" x2="186.40" y2="117.70" stroke="#111" stroke-width="0.9"/>
<line x1="189.65" y1="114.50" x2="189.65" y2="116.00" stroke="#111" stroke-width="0.9"/>
<line x1="191.55" y1="114.50" x2="191.55" y2="116.00" stroke="#111" stroke-width="0.9"/>
<line x1="192.90" y1="114.50" x2="192.90" y2="116.00" stroke="#111" stroke-width="0.9"/>
<line x1="193.95" y1="114.50" x2="193.95" y2="116.00" stroke="#111" stroke-width="0.9"/>
<line x1="194.80" y1="114.50" x2="194.80" y2="116.00" stroke="#111" stroke-width="0.9"/>
<line x1="195.53" y1="114.50" x2="195.53" y2="116.00" stroke="#111" stroke-width="0.9"/>
<line x1="196.15" y1="114.50" x2="196.15" y2="116.00" stroke="#111" stroke-width="0.9"/>
<line x1="196.71" y1="114.50" x2="196.71" y2="116.00" stroke="#111" stroke-width="0.9"/>
<line x1="197.20" y1="114.50" x2="197.20" y2="117.70" stroke="#111" stroke-width="0.9"/>
<line x1="200.45" y1="114.50" x2="200.45" y2="116.00" stroke="#111" stroke-width="0.9"/>
<line x1="202.35" y1="114.50" x2="202.35" y2="116.00" stroke="#111" stroke-width="0.9"/>
<line x1="203.70" y1="114.50" x2="203.70" y2="116.00" stroke="#111" stroke-width="0.9"/>
<line x1="204.75" y1="114.50" x2="204.75" y2="116.00" stroke="#111" stroke-width="0.9"/>
<line x1="205.60" y1="114.50" x2="205.60" y2="116.00" stroke="#111" stroke-width="0.9"/>
<line x1="206.33" y1="114.50" x2="206.33" y2="116.00" stroke="#111" stroke-width="0.9"/>
<line x1="206.95" y1="114.50" x2="206.95" y2="116.00" stroke="#111" stroke-width="0.9"/>
<line x1="207.51" y1="114.50" x2="207.51" y2="116.00" stroke="#111" stroke-width="0.9"/>
<line x1="208.00" y1="114.50" x2="208.00" y2="117.70" stroke="#111" stroke-width="0.9"/>
<line x1="211.25" y1="114.50" x2="211.25" y2="116.00" stroke="#111" stroke-width="0.9"/>
<line x1="213.15" y1="114.50" x2="213.15" y2="116.00" stroke="#111" stroke-width="0.9"/>
<line x1="214.50" y1="114.50" x2="214.50" y2="116.00" stroke="#111" stroke-width="0.9"/>
<line x1="215.55" y1="114.50" x2="215.55" y2="116.00" stroke="#111" stroke-width="0.9"/>
<line x1="216.40" y1="114.50" x2="216.40" y2="116.00" stroke="#111" stroke-width="0.9"/>
<line x1="217.13" y1="114.50" x2="217.13" y2="116.00" stroke="#111" stroke-width="0.9"/>
<line x1="217.75" y1="114.50" x2="217.75" y2="116.00" stroke="#111" stroke-width="0.9"/>
<line x1="218.31" y1="114.50" x2="218.31" y2="116.00" stroke="#111" stroke-width="0.9"/>
<line x1="218.80" y1="114.50" x2="218.80" y2="117.70" stroke="#111" stroke-width="0.9"/>
<line x1="222.05" y1="114.50" x2="222.05" y2="116.00" stroke="#111" stroke-width="0.9"/>
<line x1="223.95" y1="114.50" x2="223.95" y2="116.00" stroke="#111" stroke-width="0.9"/>
<line x1="225.30" y1="114.50" x2="225.30" y2="116.00" stroke="#111" stroke-width="0.9"/>
<line x1="226.35" y1="114.50" x2="226.35" y2="116.00" stroke="#111" stroke-width="0.9"/>
<line x1="227.20" y1="114.50" x2="227.20" y2="116.00" stroke="#111" stroke-width="0.9"/>
<line x1="227.93" y1="114.50" x2="227.93" y2="116.00" stroke="#111" stroke-width="0.9"/>
<line x1="228.55" y1="114.50" x2="228.55" y2="116.00" stroke="#111" stroke-width="0.9"/>
<line x1="229.11" y1="114.50" x2="229.11" y2="116.00" stroke="#111" stroke-width="0.9"/>
<line x1="229.60" y1="114.50" x2="229.60" y2="117.70" stroke="#111" stroke-width="0.9"/>
<line x1="232.85" y1="114.50" x2="232.85" y2="116.00" stroke="#111" stroke-width="0.9"/>
<line x1="234.75" y1="114.50" x2="234.75" y2="116.00" stroke="#111" stroke-width="0.9"/>
<line x1="236.10" y1="114.50" x2="236.10" y2="116.00" stroke="#111" stroke-width="0.9"/>
<line x1="237.15" y1="114.50" x2="237.15" y2="116.00" stroke="#111" stroke-width="0.9"/>
<line x1="238.00" y1="114.50" x2="238.00" y2="116.00" stroke="#111" stroke-width="0.9"/>
<line x1="238.73" y1="114.50" x2="238.73" y2="116.00" stroke="#111" stroke-width="0.9"/>
<line x1="239.35" y1="114.50" x2="239.35" y2="116.00" stroke="#111" stroke-width="0.9"/>
<line x1="239.91" y1="114.50" x2="239.91" y2="116.00" stroke="#111" stroke-width="0.9"/>
<line x1="240.40" y1="114.50" x2="240.40" y2="117.70" stroke="#111" stroke-width="0.9"/>
<line x1="243.65" y1="114.50" x2="243.65" y2="116.00" stroke="#111" stroke-width="0.9"/>
<text x="173.80" y="126.60" font-size="8.1" fill="#231f20" stroke="#231f20" stroke-width="0.2" textLength="3.60" lengthAdjust="spacingAndGlyphs">0</text>
<text x="192.80" y="126.60" font-size="8.1" fill="#231f20" stroke="#231f20" stroke-width="0.2" textLength="7.00" lengthAdjust="spacingAndGlyphs">10</text>
<text x="200.80" y="122.80" font-size="5.0" fill="#231f20" stroke="#231f20" stroke-width="0.12" textLength="2.60" lengthAdjust="spacingAndGlyphs">4</text>
<text x="214.40" y="126.60" font-size="8.1" fill="#231f20" stroke="#231f20" stroke-width="0.2" textLength="7.00" lengthAdjust="spacingAndGlyphs">10</text>
<text x="222.40" y="122.80" font-size="5.0" fill="#231f20" stroke="#231f20" stroke-width="0.12" textLength="2.60" lengthAdjust="spacingAndGlyphs">6</text>
<text x="236.00" y="126.60" font-size="8.1" fill="#231f20" stroke="#231f20" stroke-width="0.2" textLength="7.00" lengthAdjust="spacingAndGlyphs">10</text>
<text x="244.00" y="122.80" font-size="5.0" fill="#231f20" stroke="#231f20" stroke-width="0.12" textLength="2.60" lengthAdjust="spacingAndGlyphs">8</text>
<text x="211.00" y="54.20" font-size="8.3" fill="#c8203f" stroke="#c8203f" stroke-width="0.1" textLength="24.50" lengthAdjust="spacingAndGlyphs">MDM2</text>
<text x="211.00" y="63.50" font-size="8.3" fill="#c8203f" stroke="#c8203f" stroke-width="0.1" textLength="19.60" lengthAdjust="spacingAndGlyphs">inhib.</text>
<text x="211.25" y="93.80" font-size="9.6" fill="#22609e" stroke="#22609e" stroke-width="0.08" textLength="30.75" lengthAdjust="spacingAndGlyphs">Vehicle</text>
<path d="M151.20 29.60L153.50 25.60L155.80 29.60Z" fill="#000"/>
<line x1="153.50" y1="28.60" x2="153.50" y2="54.50" stroke="#000" stroke-width="0.9"/>
<line x1="153.50" y1="88.90" x2="153.50" y2="133.50" stroke="#000" stroke-width="0.9"/>
<line x1="153.05" y1="133.50" x2="183.80" y2="133.50" stroke="#000" stroke-width="0.9"/>
<text x="157.00" y="87.40" font-size="9.6" fill="#111" stroke="#111" stroke-width="0.1" textLength="31.40" lengthAdjust="spacingAndGlyphs" transform="rotate(-90 157.00 87.40)">Counts</text>
<text x="186.80" y="137.00" font-size="9.6" fill="#111" stroke="#111" stroke-width="0.1" textLength="33.80" lengthAdjust="spacingAndGlyphs">Perforin</text>
<line x1="223.10" y1="133.50" x2="246.10" y2="133.50" stroke="#000" stroke-width="0.9"/>
<path d="M245.10 131.20L249.10 133.50L245.10 135.80Z" fill="#000"/>
<path d="M425.00 73.00L444.70 73.00C445.22 72.90 446.97 72.75 447.80 72.40C448.63 72.05 449.18 71.62 449.70 70.90C450.22 70.18 450.50 69.47 450.90 68.10C451.30 66.73 451.72 64.90 452.10 62.70C452.48 60.50 452.82 57.75 453.20 54.90C453.58 52.05 454.00 48.45 454.40 45.60C454.80 42.75 455.28 39.30 455.60 37.80C455.92 36.30 456.05 36.53 456.30 36.60C456.55 36.67 456.77 36.70 457.10 38.20C457.43 39.70 457.90 43.08 458.30 45.60C458.70 48.12 459.12 50.72 459.50 53.30C459.88 55.88 460.22 58.88 460.60 61.10C460.98 63.32 461.35 65.10 461.80 66.60C462.25 68.10 462.65 69.20 463.30 70.10C463.95 71.00 464.78 71.55 465.70 72.00C466.62 72.45 468.28 72.67 468.80 72.80L506.00 73.00 L506.00 73.00 L425.00 73.00Z" fill="#f0c3cc" stroke="none"/>
<path d="M425.00 73.00L444.70 73.00C445.22 72.90 446.97 72.75 447.80 72.40C448.63 72.05 449.18 71.62 449.70 70.90C450.22 70.18 450.50 69.47 450.90 68.10C451.30 66.73 451.72 64.90 452.10 62.70C452.48 60.50 452.82 57.75 453.20 54.90C453.58 52.05 454.00 48.45 454.40 45.60C454.80 42.75 455.28 39.30 455.60 37.80C455.92 36.30 456.05 36.53 456.30 36.60C456.55 36.67 456.77 36.70 457.10 38.20C457.43 39.70 457.90 43.08 458.30 45.60C458.70 48.12 459.12 50.72 459.50 53.30C459.88 55.88 460.22 58.88 460.60 61.10C460.98 63.32 461.35 65.10 461.80 66.60C462.25 68.10 462.65 69.20 463.30 70.10C463.95 71.00 464.78 71.55 465.70 72.00C466.62 72.45 468.28 72.67 468.80 72.80L506.00 73.00" fill="none" stroke="#d42a50" stroke-width="1.1" stroke-linejoin="round"/>
<path d="M425.00 114.00L424.75 75.50C424.82 81.50 424.98 105.51 425.20 111.50C425.42 117.49 425.78 111.45 426.07 111.43C426.36 111.41 426.64 111.48 426.93 111.35C427.22 111.23 427.51 110.92 427.80 110.70C428.09 110.48 428.38 110.28 428.67 110.01C428.96 109.73 429.24 109.54 429.53 109.07C429.82 108.61 430.11 107.64 430.40 107.20C430.69 106.76 430.98 106.69 431.27 106.42C431.56 106.14 431.84 106.00 432.13 105.54C432.42 105.09 432.71 104.47 433.00 103.70C433.29 102.93 433.58 101.62 433.87 100.95C434.16 100.27 434.44 100.19 434.73 99.64C435.02 99.10 435.31 98.19 435.60 97.70C435.89 97.21 436.18 97.21 436.47 96.68C436.76 96.14 437.04 95.17 437.33 94.47C437.62 93.78 437.91 93.06 438.20 92.50C438.49 91.94 438.78 91.89 439.07 91.11C439.36 90.33 439.64 88.60 439.93 87.81C440.22 87.03 440.51 87.03 440.80 86.40C441.09 85.77 441.38 84.88 441.67 84.05C441.96 83.22 442.24 82.15 442.53 81.39C442.82 80.64 443.21 79.84 443.40 79.50C443.59 79.16 443.58 79.42 443.67 79.37C443.76 79.32 443.84 79.30 443.93 79.22C444.02 79.14 444.06 78.91 444.20 78.90C444.34 78.89 444.60 78.91 444.80 79.19C445.00 79.47 445.20 80.09 445.40 80.58C445.60 81.07 445.76 81.62 446.00 82.10C446.24 82.58 446.56 82.79 446.83 83.48C447.11 84.17 447.39 85.60 447.67 86.23C447.94 86.87 448.22 86.76 448.50 87.30C448.78 87.84 449.08 88.97 449.37 89.46C449.66 89.95 449.94 89.72 450.23 90.22C450.52 90.73 450.81 91.71 451.10 92.50C451.39 93.29 451.68 94.41 451.97 94.98C452.26 95.55 452.54 95.33 452.83 95.92C453.12 96.51 453.41 97.79 453.70 98.50C453.99 99.21 454.28 99.77 454.57 100.15C454.86 100.54 455.14 100.38 455.43 100.84C455.72 101.29 456.01 102.50 456.30 102.90C456.59 103.30 456.88 102.76 457.17 103.24C457.46 103.71 457.74 105.25 458.03 105.76C458.32 106.27 458.61 106.14 458.90 106.30C459.19 106.46 459.48 106.49 459.77 106.70C460.06 106.91 460.34 107.21 460.63 107.58C460.92 107.94 461.16 108.41 461.50 108.90C461.84 109.39 462.28 110.15 462.67 110.54C463.06 110.93 463.44 111.07 463.83 111.23C464.22 111.39 464.52 111.43 465.00 111.50C465.48 111.57 466.16 111.35 466.73 111.63C467.31 111.91 467.89 112.96 468.47 113.17C469.04 113.38 469.53 112.90 470.20 112.90C470.87 112.90 471.73 113.07 472.50 113.20C473.27 113.32 474.03 113.58 474.80 113.65C475.57 113.72 475.57 113.54 477.10 113.60C478.63 113.66 482.85 113.93 484.00 114.00L506.00 114.00 L506.00 114.00 L425.00 114.00Z" fill="#c6d7e7" stroke="none"/>
<path d="M425.00 114.00L424.75 75.50C424.82 81.50 424.98 105.51 425.20 111.50C425.42 117.49 425.78 111.45 426.07 111.43C426.36 111.41 426.64 111.48 426.93 111.35C427.22 111.23 427.51 110.92 427.80 110.70C428.09 110.48 428.38 110.28 428.67 110.01C428.96 109.73 429.24 109.54 429.53 109.07C429.82 108.61 430.11 107.64 430.40 107.20C430.69 106.76 430.98 106.69 431.27 106.42C431.56 106.14 431.84 106.00 432.13 105.54C432.42 105.09 432.71 104.47 433.00 103.70C433.29 102.93 433.58 101.62 433.87 100.95C434.16 100.27 434.44 100.19 434.73 99.64C435.02 99.10 435.31 98.19 435.60 97.70C435.89 97.21 436.18 97.21 436.47 96.68C436.76 96.14 437.04 95.17 437.33 94.47C437.62 93.78 437.91 93.06 438.20 92.50C438.49 91.94 438.78 91.89 439.07 91.11C439.36 90.33 439.64 88.60 439.93 87.81C440.22 87.03 440.51 87.03 440.80 86.40C441.09 85.77 441.38 84.88 441.67 84.05C441.96 83.22 442.24 82.15 442.53 81.39C442.82 80.64 443.21 79.84 443.40 79.50C443.59 79.16 443.58 79.42 443.67 79.37C443.76 79.32 443.84 79.30 443.93 79.22C444.02 79.14 444.06 78.91 444.20 78.90C444.34 78.89 444.60 78.91 444.80 79.19C445.00 79.47 445.20 80.09 445.40 80.58C445.60 81.07 445.76 81.62 446.00 82.10C446.24 82.58 446.56 82.79 446.83 83.48C447.11 84.17 447.39 85.60 447.67 86.23C447.94 86.87 448.22 86.76 448.50 87.30C448.78 87.84 449.08 88.97 449.37 89.46C449.66 89.95 449.94 89.72 450.23 90.22C450.52 90.73 450.81 91.71 451.10 92.50C451.39 93.29 451.68 94.41 451.97 94.98C452.26 95.55 452.54 95.33 452.83 95.92C453.12 96.51 453.41 97.79 453.70 98.50C453.99 99.21 454.28 99.77 454.57 100.15C454.86 100.54 455.14 100.38 455.43 100.84C455.72 101.29 456.01 102.50 456.30 102.90C456.59 103.30 456.88 102.76 457.17 103.24C457.46 103.71 457.74 105.25 458.03 105.76C458.32 106.27 458.61 106.14 458.90 106.30C459.19 106.46 459.48 106.49 459.77 106.70C460.06 106.91 460.34 107.21 460.63 107.58C460.92 107.94 461.16 108.41 461.50 108.90C461.84 109.39 462.28 110.15 462.67 110.54C463.06 110.93 463.44 111.07 463.83 111.23C464.22 111.39 464.52 111.43 465.00 111.50C465.48 111.57 466.16 111.35 466.73 111.63C467.31 111.91 467.89 112.96 468.47 113.17C469.04 113.38 469.53 112.90 470.20 112.90C470.87 112.90 471.73 113.07 472.50 113.20C473.27 113.32 474.03 113.58 474.80 113.65C475.57 113.72 475.57 113.54 477.10 113.60C478.63 113.66 482.85 113.93 484.00 114.00L506.00 114.00" fill="none" stroke="#215e9c" stroke-width="1.1" stroke-linejoin="round"/>
<line x1="443.30" y1="32.50" x2="443.30" y2="114.50" stroke="#222" stroke-width="1.0"/>
<rect x="424.50" y="32.50" width="82.00" height="82.00" fill="none" stroke="#111" stroke-width="1.1"/>
<line x1="424.60" y1="75.50" x2="424.60" y2="114.00" stroke="#215e9c" stroke-width="1.2"/>
<line x1="426.33" y1="114.50" x2="426.33" y2="116.00" stroke="#111" stroke-width="0.9"/>
<line x1="427.96" y1="114.50" x2="427.96" y2="116.00" stroke="#111" stroke-width="0.9"/>
<line x1="429.28" y1="114.50" x2="429.28" y2="116.00" stroke="#111" stroke-width="0.9"/>
<line x1="430.41" y1="114.50" x2="430.41" y2="116.00" stroke="#111" stroke-width="0.9"/>
<line x1="431.38" y1="114.50" x2="431.38" y2="116.00" stroke="#111" stroke-width="0.9"/>
<line x1="432.23" y1="114.50" x2="432.23" y2="116.00" stroke="#111" stroke-width="0.9"/>
<line x1="433.00" y1="114.50" x2="433.00" y2="117.70" stroke="#111" stroke-width="0.9"/>
<line x1="438.04" y1="114.50" x2="438.04" y2="116.00" stroke="#111" stroke-width="0.9"/>
<line x1="440.99" y1="114.50" x2="440.99" y2="116.00" stroke="#111" stroke-width="0.9"/>
<line x1="443.08" y1="114.50" x2="443.08" y2="116.00" stroke="#111" stroke-width="0.9"/>
<line x1="444.71" y1="114.50" x2="444.71" y2="116.00" stroke="#111" stroke-width="0.9"/>
<line x1="446.03" y1="114.50" x2="446.03" y2="116.00" stroke="#111" stroke-width="0.9"/>
<line x1="447.16" y1="114.50" x2="447.16" y2="116.00" stroke="#111" stroke-width="0.9"/>
<line x1="448.13" y1="114.50" x2="448.13" y2="116.00" stroke="#111" stroke-width="0.9"/>
<line x1="448.98" y1="114.50" x2="448.98" y2="116.00" stroke="#111" stroke-width="0.9"/>
<line x1="449.75" y1="114.50" x2="449.75" y2="117.70" stroke="#111" stroke-width="0.9"/>
<line x1="454.79" y1="114.50" x2="454.79" y2="116.00" stroke="#111" stroke-width="0.9"/>
<line x1="457.74" y1="114.50" x2="457.74" y2="116.00" stroke="#111" stroke-width="0.9"/>
<line x1="459.83" y1="114.50" x2="459.83" y2="116.00" stroke="#111" stroke-width="0.9"/>
<line x1="461.46" y1="114.50" x2="461.46" y2="116.00" stroke="#111" stroke-width="0.9"/>
<line x1="462.78" y1="114.50" x2="462.78" y2="116.00" stroke="#111" stroke-width="0.9"/>
<line x1="463.91" y1="114.50" x2="463.91" y2="116.00" stroke="#111" stroke-width="0.9"/>
<line x1="464.88" y1="114.50" x2="464.88" y2="116.00" stroke="#111" stroke-width="0.9"/>
<line x1="465.73" y1="114.50" x2="465.73" y2="116.00" stroke="#111" stroke-width="0.9"/>
<line x1="466.50" y1="114.50" x2="466.50" y2="117.70" stroke="#111" stroke-width="0.9"/>
<line x1="471.54" y1="114.50" x2="471.54" y2="116.00" stroke="#111" stroke-width="0.9"/>
<line x1="474.49" y1="114.50" x2="474.49" y2="116.00" stroke="#111" stroke-width="0.9"/>
<line x1="476.58" y1="114.50" x2="476.58" y2="116.00" stroke="#111" stroke-width="0.9"/>
<line x1="478.21" y1="114.50" x2="478.21" y2="116.00" stroke="#111" stroke-width="0.9"/>
<line x1="479.53" y1="114.50" x2="479.53" y2="116.00" stroke="#111" stroke-width="0.9"/>
<line x1="480.66" y1="114.50" x2="480.66" y2="116.00" stroke="#111" stroke-width="0.9"/>
<line x1="481.63" y1="114.50" x2="481.63" y2="116.00" stroke="#111" stroke-width="0.9"/>
<line x1="482.48" y1="114.50" x2="482.48" y2="116.00" stroke="#111" stroke-width="0.9"/>
<line x1="483.25" y1="114.50" x2="483.25" y2="117.70" stroke="#111" stroke-width="0.9"/>
<line x1="488.29" y1="114.50" x2="488.29" y2="116.00" stroke="#111" stroke-width="0.9"/>
<line x1="491.24" y1="114.50" x2="491.24" y2="116.00" stroke="#111" stroke-width="0.9"/>
<line x1="493.33" y1="114.50" x2="493.33" y2="116.00" stroke="#111" stroke-width="0.9"/>
<line x1="494.96" y1="114.50" x2="494.96" y2="116.00" stroke="#111" stroke-width="0.9"/>
<line x1="496.28" y1="114.50" x2="496.28" y2="116.00" stroke="#111" stroke-width="0.9"/>
<line x1="497.41" y1="114.50" x2="497.41" y2="116.00" stroke="#111" stroke-width="0.9"/>
<line x1="498.38" y1="114.50" x2="498.38" y2="116.00" stroke="#111" stroke-width="0.9"/>
<line x1="499.23" y1="114.50" x2="499.23" y2="116.00" stroke="#111" stroke-width="0.9"/>
<line x1="500.00" y1="114.50" x2="500.00" y2="117.70" stroke="#111" stroke-width="0.9"/>
<line x1="505.04" y1="114.50" x2="505.04" y2="116.00" stroke="#111" stroke-width="0.9"/>
<text x="428.60" y="125.50" font-size="8.1" fill="#231f20" stroke="#231f20" stroke-width="0.2" textLength="7.00" lengthAdjust="spacingAndGlyphs">10</text>
<text x="436.60" y="121.70" font-size="5.0" fill="#231f20" stroke="#231f20" stroke-width="0.12" textLength="2.60" lengthAdjust="spacingAndGlyphs">1</text>
<text x="444.85" y="125.50" font-size="8.1" fill="#231f20" stroke="#231f20" stroke-width="0.2" textLength="7.00" lengthAdjust="spacingAndGlyphs">10</text>
<text x="452.85" y="121.70" font-size="5.0" fill="#231f20" stroke="#231f20" stroke-width="0.12" textLength="2.60" lengthAdjust="spacingAndGlyphs">2</text>
<text x="461.85" y="125.50" font-size="8.1" fill="#231f20" stroke="#231f20" stroke-width="0.2" textLength="7.00" lengthAdjust="spacingAndGlyphs">10</text>
<text x="469.85" y="121.70" font-size="5.0" fill="#231f20" stroke="#231f20" stroke-width="0.12" textLength="2.60" lengthAdjust="spacingAndGlyphs">3</text>
<text x="478.85" y="125.50" font-size="8.1" fill="#231f20" stroke="#231f20" stroke-width="0.2" textLength="7.00" lengthAdjust="spacingAndGlyphs">10</text>
<text x="486.85" y="121.70" font-size="5.0" fill="#231f20" stroke="#231f20" stroke-width="0.12" textLength="2.60" lengthAdjust="spacingAndGlyphs">4</text>
<text x="495.60" y="125.50" font-size="8.1" fill="#231f20" stroke="#231f20" stroke-width="0.2" textLength="7.00" lengthAdjust="spacingAndGlyphs">10</text>
<text x="503.60" y="121.70" font-size="5.0" fill="#231f20" stroke="#231f20" stroke-width="0.12" textLength="2.60" lengthAdjust="spacingAndGlyphs">5</text>
<text x="478.00" y="53.30" font-size="8.3" fill="#c8203f" stroke="#c8203f" stroke-width="0.1" textLength="24.20" lengthAdjust="spacingAndGlyphs">MDM2</text>
<text x="478.00" y="62.70" font-size="8.3" fill="#c8203f" stroke="#c8203f" stroke-width="0.1" textLength="19.36" lengthAdjust="spacingAndGlyphs">inhib.</text>
<text x="475.20" y="92.80" font-size="8.2" fill="#22609e" stroke="#22609e" stroke-width="0.08" textLength="24.90" lengthAdjust="spacingAndGlyphs">Vehicle</text>
<path d="M412.20 30.00L414.50 26.00L416.80 30.00Z" fill="#000"/>
<line x1="414.50" y1="29.00" x2="414.50" y2="59.10" stroke="#000" stroke-width="0.9"/>
<line x1="414.50" y1="95.40" x2="414.50" y2="133.50" stroke="#000" stroke-width="0.9"/>
<line x1="414.05" y1="133.50" x2="446.50" y2="133.50" stroke="#000" stroke-width="0.9"/>
<text x="418.00" y="93.90" font-size="9.6" fill="#111" stroke="#111" stroke-width="0.1" textLength="33.30" lengthAdjust="spacingAndGlyphs" transform="rotate(-90 418.00 93.90)">Counts</text>
<text x="448.00" y="136.25" font-size="9.6" fill="#111" stroke="#111" stroke-width="0.1" textLength="34.00" lengthAdjust="spacingAndGlyphs">CD107a</text>
<line x1="485.00" y1="133.50" x2="509.50" y2="133.50" stroke="#000" stroke-width="0.9"/>
<path d="M508.50 131.20L512.50 133.50L508.50 135.80Z" fill="#000"/>
<path d="M162.00 219.90L177.10 219.90C177.25 219.63 177.72 219.63 178.00 218.30C178.28 216.97 178.52 214.45 178.80 211.90C179.08 209.35 179.40 205.65 179.70 203.00C180.00 200.35 180.25 197.70 180.60 196.00C180.95 194.30 181.35 193.60 181.80 192.80C182.25 192.00 182.80 191.20 183.30 191.20C183.80 191.20 184.35 192.00 184.80 192.80C185.25 193.60 185.52 194.63 186.00 196.00C186.48 197.37 187.17 199.32 187.70 201.00C188.23 202.68 188.63 204.28 189.20 206.10C189.77 207.92 190.50 210.18 191.10 211.90C191.70 213.62 192.27 215.23 192.80 216.40C193.33 217.57 193.72 218.32 194.30 218.90C194.88 219.48 195.97 219.73 196.30 219.90L244.00 219.90 L244.00 219.90 L162.00 219.90Z" fill="#f0c3cc" stroke="none"/>
<path d="M162.00 219.90L177.10 219.90C177.25 219.63 177.72 219.63 178.00 218.30C178.28 216.97 178.52 214.45 178.80 211.90C179.08 209.35 179.40 205.65 179.70 203.00C180.00 200.35 180.25 197.70 180.60 196.00C180.95 194.30 181.35 193.60 181.80 192.80C182.25 192.00 182.80 191.20 183.30 191.20C183.80 191.20 184.35 192.00 184.80 192.80C185.25 193.60 185.52 194.63 186.00 196.00C186.48 197.37 187.17 199.32 187.70 201.00C188.23 202.68 188.63 204.28 189.20 206.10C189.77 207.92 190.50 210.18 191.10 211.90C191.70 213.62 192.27 215.23 192.80 216.40C193.33 217.57 193.72 218.32 194.30 218.90C194.88 219.48 195.97 219.73 196.30 219.90L244.00 219.90" fill="none" stroke="#d42a50" stroke-width="1.1" stroke-linejoin="round"/>
<path d="M162.00 260.80L177.10 260.80C177.25 260.08 177.68 258.92 178.00 256.50C178.32 254.08 178.65 249.27 179.00 246.30C179.35 243.33 179.72 240.72 180.10 238.70C180.48 236.68 180.88 234.63 181.30 234.20C181.72 233.77 182.17 234.93 182.60 236.10C183.03 237.27 183.43 239.28 183.90 241.20C184.37 243.12 184.83 245.47 185.40 247.60C185.97 249.73 186.67 252.20 187.30 254.00C187.93 255.80 188.45 257.30 189.20 258.40C189.95 259.50 191.37 260.23 191.80 260.60L244.00 260.80 L244.00 260.80 L162.00 260.80Z" fill="#c6d7e7" stroke="none"/>
<path d="M162.00 260.80L177.10 260.80C177.25 260.08 177.68 258.92 178.00 256.50C178.32 254.08 178.65 249.27 179.00 246.30C179.35 243.33 179.72 240.72 180.10 238.70C180.48 236.68 180.88 234.63 181.30 234.20C181.72 233.77 182.17 234.93 182.60 236.10C183.03 237.27 183.43 239.28 183.90 241.20C184.37 243.12 184.83 245.47 185.40 247.60C185.97 249.73 186.67 252.20 187.30 254.00C187.93 255.80 188.45 257.30 189.20 258.40C189.95 259.50 191.37 260.23 191.80 260.60L244.00 260.80" fill="none" stroke="#215e9c" stroke-width="1.1" stroke-linejoin="round"/>
<line x1="180.75" y1="178.50" x2="180.75" y2="260.50" stroke="#3a3a3a" stroke-width="1.1"/>
<rect x="161.50" y="178.50" width="83.00" height="82.00" fill="none" stroke="#111" stroke-width="1.1"/>
<line x1="161.80" y1="260.50" x2="161.80" y2="262.00" stroke="#111" stroke-width="0.9"/>
<line x1="162.75" y1="260.50" x2="162.75" y2="262.00" stroke="#111" stroke-width="0.9"/>
<line x1="163.48" y1="260.50" x2="163.48" y2="262.00" stroke="#111" stroke-width="0.9"/>
<line x1="164.08" y1="260.50" x2="164.08" y2="262.00" stroke="#111" stroke-width="0.9"/>
<line x1="164.58" y1="260.50" x2="164.58" y2="262.00" stroke="#111" stroke-width="0.9"/>
<line x1="165.02" y1="260.50" x2="165.02" y2="262.00" stroke="#111" stroke-width="0.9"/>
<line x1="165.40" y1="260.50" x2="165.40" y2="262.00" stroke="#111" stroke-width="0.9"/>
<line x1="165.75" y1="260.50" x2="165.75" y2="263.70" stroke="#111" stroke-width="0.9"/>
<line x1="168.02" y1="260.50" x2="168.02" y2="262.00" stroke="#111" stroke-width="0.9"/>
<line x1="169.35" y1="260.50" x2="169.35" y2="262.00" stroke="#111" stroke-width="0.9"/>
<line x1="170.30" y1="260.50" x2="170.30" y2="262.00" stroke="#111" stroke-width="0.9"/>
<line x1="171.03" y1="260.50" x2="171.03" y2="262.00" stroke="#111" stroke-width="0.9"/>
<line x1="171.63" y1="260.50" x2="171.63" y2="262.00" stroke="#111" stroke-width="0.9"/>
<line x1="172.13" y1="260.50" x2="172.13" y2="262.00" stroke="#111" stroke-width="0.9"/>
<line x1="172.57" y1="260.50" x2="172.57" y2="262.00" stroke="#111" stroke-width="0.9"/>
<line x1="172.95" y1="260.50" x2="172.95" y2="262.00" stroke="#111" stroke-width="0.9"/>
<line x1="173.30" y1="260.50" x2="173.30" y2="263.70" stroke="#111" stroke-width="0.9"/>
<line x1="175.57" y1="260.50" x2="175.57" y2="262.00" stroke="#111" stroke-width="0.9"/>
<line x1="176.90" y1="260.50" x2="176.90" y2="262.00" stroke="#111" stroke-width="0.9"/>
<line x1="177.85" y1="260.50" x2="177.85" y2="262.00" stroke="#111" stroke-width="0.9"/>
<line x1="178.58" y1="260.50" x2="178.58" y2="262.00" stroke="#111" stroke-width="0.9"/>
<line x1="179.18" y1="260.50" x2="179.18" y2="262.00" stroke="#111" stroke-width="0.9"/>
<line x1="179.68" y1="260.50" x2="179.68" y2="262.00" stroke="#111" stroke-width="0.9"/>
<line x1="180.12" y1="260.50" x2="180.12" y2="262.00" stroke="#111" stroke-width="0.9"/>
<line x1="180.50" y1="260.50" x2="180.50" y2="262.00" stroke="#111" stroke-width="0.9"/>
<line x1="180.85" y1="260.50" x2="180.85" y2="263.70" stroke="#111" stroke-width="0.9"/>
<line x1="183.12" y1="260.50" x2="183.12" y2="262.00" stroke="#111" stroke-width="0.9"/>
<line x1="184.45" y1="260.50" x2="184.45" y2="262.00" stroke="#111" stroke-width="0.9"/>
<line x1="185.40" y1="260.50" x2="185.40" y2="262.00" stroke="#111" stroke-width="0.9"/>
<line x1="186.13" y1="260.50" x2="186.13" y2="262.00" stroke="#111" stroke-width="0.9"/>
<line x1="186.73" y1="260.50" x2="186.73" y2="262.00" stroke="#111" stroke-width="0.9"/>
<line x1="187.23" y1="260.50" x2="187.23" y2="262.00" stroke="#111" stroke-width="0.9"/>
<line x1="187.67" y1="260.50" x2="187.67" y2="262.00" stroke="#111" stroke-width="0.9"/>
<line x1="188.05" y1="260.50" x2="188.05" y2="262.00" stroke="#111" stroke-width="0.9"/>
<line x1="188.40" y1="260.50" x2="188.40" y2="263.70" stroke="#111" stroke-width="0.9"/>
<line x1="190.67" y1="260.50" x2="190.67" y2="262.00" stroke="#111" stroke-width="0.9"/>
<line x1="192.00" y1="260.50" x2="192.00" y2="262.00" stroke="#111" stroke-width="0.9"/>
<line x1="192.95" y1="260.50" x2="192.95" y2="262.00" stroke="#111" stroke-width="0.9"/>
<line x1="193.68" y1="260.50" x2="193.68" y2="262.00" stroke="#111" stroke-width="0.9"/>
<line x1="194.28" y1="260.50" x2="194.28" y2="262.00" stroke="#111" stroke-width="0.9"/>
<line x1="194.78" y1="260.50" x2="194.78" y2="262.00" stroke="#111" stroke-width="0.9"/>
<line x1="195.22" y1="260.50" x2="195.22" y2="262.00" stroke="#111" stroke-width="0.9"/>
<line x1="195.60" y1="260.50" x2="195.60" y2="262.00" stroke="#111" stroke-width="0.9"/>
<line x1="195.95" y1="260.50" x2="195.95" y2="263.70" stroke="#111" stroke-width="0.9"/>
<line x1="198.22" y1="260.50" x2="198.22" y2="262.00" stroke="#111" stroke-width="0.9"/>
<line x1="199.55" y1="260.50" x2="199.55" y2="262.00" stroke="#111" stroke-width="0.9"/>
<line x1="200.50" y1="260.50" x2="200.50" y2="262.00" stroke="#111" stroke-width="0.9"/>
<line x1="201.23" y1="260.50" x2="201.23" y2="262.00" stroke="#111" stroke-width="0.9"/>
<line x1="201.83" y1="260.50" x2="201.83" y2="262.00" stroke="#111" stroke-width="0.9"/>
<line x1="202.33" y1="260.50" x2="202.33" y2="262.00" stroke="#111" stroke-width="0.9"/>
<line x1="202.77" y1="260.50" x2="202.77" y2="262.00" stroke="#111" stroke-width="0.9"/>
<line x1="203.15" y1="260.50" x2="203.15" y2="262.00" stroke="#111" stroke-width="0.9"/>
<line x1="203.50" y1="260.50" x2="203.50" y2="263.70" stroke="#111" stroke-width="0.9"/>
<line x1="205.77" y1="260.50" x2="205.77" y2="262.00" stroke="#111" stroke-width="0.9"/>
<line x1="207.10" y1="260.50" x2="207.10" y2="262.00" stroke="#111" stroke-width="0.9"/>
<line x1="208.05" y1="260.50" x2="208.05" y2="262.00" stroke="#111" stroke-width="0.9"/>
<line x1="208.78" y1="260.50" x2="208.78" y2="262.00" stroke="#111" stroke-width="0.9"/>
<line x1="209.38" y1="260.50" x2="209.38" y2="262.00" stroke="#111" stroke-width="0.9"/>
<line x1="209.88" y1="260.50" x2="209.88" y2="262.00" stroke="#111" stroke-width="0.9"/>
<line x1="210.32" y1="260.50" x2="210.32" y2="262.00" stroke="#111" stroke-width="0.9"/>
<line x1="210.70" y1="260.50" x2="210.70" y2="262.00" stroke="#111" stroke-width="0.9"/>
<line x1="211.05" y1="260.50" x2="211.05" y2="263.70" stroke="#111" stroke-width="0.9"/>
<line x1="213.32" y1="260.50" x2="213.32" y2="262.00" stroke="#111" stroke-width="0.9"/>
<line x1="214.65" y1="260.50" x2="214.65" y2="262.00" stroke="#111" stroke-width="0.9"/>
<line x1="215.60" y1="260.50" x2="215.60" y2="262.00" stroke="#111" stroke-width="0.9"/>
<line x1="216.33" y1="260.50" x2="216.33" y2="262.00" stroke="#111" stroke-width="0.9"/>
<line x1="216.93" y1="260.50" x2="216.93" y2="262.00" stroke="#111" stroke-width="0.9"/>
<line x1="217.43" y1="260.50" x2="217.43" y2="262.00" stroke="#111" stroke-width="0.9"/>
<line x1="217.87" y1="260.50" x2="217.87" y2="262.00" stroke="#111" stroke-width="0.9"/>
<line x1="218.25" y1="260.50" x2="218.25" y2="262.00" stroke="#111" stroke-width="0.9"/>
<line x1="218.60" y1="260.50" x2="218.60" y2="263.70" stroke="#111" stroke-width="0.9"/>
<line x1="220.87" y1="260.50" x2="220.87" y2="262.00" stroke="#111" stroke-width="0.9"/>
<line x1="222.20" y1="260.50" x2="222.20" y2="262.00" stroke="#111" stroke-width="0.9"/>
<line x1="223.15" y1="260.50" x2="223.15" y2="262.00" stroke="#111" stroke-width="0.9"/>
<line x1="223.88" y1="260.50" x2="223.88" y2="262.00" stroke="#111" stroke-width="0.9"/>
<line x1="224.48" y1="260.50" x2="224.48" y2="262.00" stroke="#111" stroke-width="0.9"/>
<line x1="224.98" y1="260.50" x2="224.98" y2="262.00" stroke="#111" stroke-width="0.9"/>
<line x1="225.42" y1="260.50" x2="225.42" y2="262.00" stroke="#111" stroke-width="0.9"/>
<line x1="225.80" y1="260.50" x2="225.80" y2="262.00" stroke="#111" stroke-width="0.9"/>
<line x1="226.15" y1="260.50" x2="226.15" y2="263.70" stroke="#111" stroke-width="0.9"/>
<line x1="228.42" y1="260.50" x2="228.42" y2="262.00" stroke="#111" stroke-width="0.9"/>
<line x1="229.75" y1="260.50" x2="229.75" y2="262.00" stroke="#111" stroke-width="0.9"/>
<line x1="230.70" y1="260.50" x2="230.70" y2="262.00" stroke="#111" stroke-width="0.9"/>
<line x1="231.43" y1="260.50" x2="231.43" y2="262.00" stroke="#111" stroke-width="0.9"/>
<line x1="232.03" y1="260.50" x2="232.03" y2="262.00" stroke="#111" stroke-width="0.9"/>
<line x1="232.53" y1="260.50" x2="232.53" y2="262.00" stroke="#111" stroke-width="0.9"/>
<line x1="232.97" y1="260.50" x2="232.97" y2="262.00" stroke="#111" stroke-width="0.9"/>
<line x1="233.35" y1="260.50" x2="233.35" y2="262.00" stroke="#111" stroke-width="0.9"/>
<line x1="233.70" y1="260.50" x2="233.70" y2="263.70" stroke="#111" stroke-width="0.9"/>
<line x1="235.97" y1="260.50" x2="235.97" y2="262.00" stroke="#111" stroke-width="0.9"/>
<line x1="237.30" y1="260.50" x2="237.30" y2="262.00" stroke="#111" stroke-width="0.9"/>
<line x1="238.25" y1="260.50" x2="238.25" y2="262.00" stroke="#111" stroke-width="0.9"/>
<line x1="238.98" y1="260.50" x2="238.98" y2="262.00" stroke="#111" stroke-width="0.9"/>
<line x1="239.58" y1="260.50" x2="239.58" y2="262.00" stroke="#111" stroke-width="0.9"/>
<line x1="240.08" y1="260.50" x2="240.08" y2="262.00" stroke="#111" stroke-width="0.9"/>
<line x1="240.52" y1="260.50" x2="240.52" y2="262.00" stroke="#111" stroke-width="0.9"/>
<line x1="240.90" y1="260.50" x2="240.90" y2="262.00" stroke="#111" stroke-width="0.9"/>
<line x1="241.25" y1="260.50" x2="241.25" y2="263.70" stroke="#111" stroke-width="0.9"/>
<line x1="243.52" y1="260.50" x2="243.52" y2="262.00" stroke="#111" stroke-width="0.9"/>
<text x="161.35" y="272.50" font-size="8.1" fill="#231f20" stroke="#231f20" stroke-width="0.2" textLength="7.00" lengthAdjust="spacingAndGlyphs">10</text>
<text x="169.35" y="268.70" font-size="5.0" fill="#231f20" stroke="#231f20" stroke-width="0.12" textLength="2.60" lengthAdjust="spacingAndGlyphs">1</text>
<text x="176.85" y="272.50" font-size="8.1" fill="#231f20" stroke="#231f20" stroke-width="0.2" textLength="7.00" lengthAdjust="spacingAndGlyphs">10</text>
<text x="184.85" y="268.70" font-size="5.0" fill="#231f20" stroke="#231f20" stroke-width="0.12" textLength="2.60" lengthAdjust="spacingAndGlyphs">3</text>
<text x="191.85" y="272.50" font-size="8.1" fill="#231f20" stroke="#231f20" stroke-width="0.2" textLength="7.00" lengthAdjust="spacingAndGlyphs">10</text>
<text x="199.85" y="268.70" font-size="5.0" fill="#231f20" stroke="#231f20" stroke-width="0.12" textLength="2.60" lengthAdjust="spacingAndGlyphs">5</text>
<text x="206.85" y="272.50" font-size="8.1" fill="#231f20" stroke="#231f20" stroke-width="0.2" textLength="7.00" lengthAdjust="spacingAndGlyphs">10</text>
<text x="214.85" y="268.70" font-size="5.0" fill="#231f20" stroke="#231f20" stroke-width="0.12" textLength="2.60" lengthAdjust="spacingAndGlyphs">7</text>
<text x="221.85" y="272.50" font-size="8.1" fill="#231f20" stroke="#231f20" stroke-width="0.2" textLength="7.00" lengthAdjust="spacingAndGlyphs">10</text>
<text x="229.85" y="268.70" font-size="5.0" fill="#231f20" stroke="#231f20" stroke-width="0.12" textLength="2.60" lengthAdjust="spacingAndGlyphs">9</text>
<text x="235.55" y="272.50" font-size="8.1" fill="#231f20" stroke="#231f20" stroke-width="0.2" textLength="7.00" lengthAdjust="spacingAndGlyphs">10</text>
<text x="243.55" y="268.70" font-size="5.0" fill="#231f20" stroke="#231f20" stroke-width="0.12" textLength="5.20" lengthAdjust="spacingAndGlyphs">11</text>
<text x="211.10" y="198.90" font-size="8.3" fill="#c8203f" stroke="#c8203f" stroke-width="0.1" textLength="24.40" lengthAdjust="spacingAndGlyphs">MDM2</text>
<text x="211.10" y="208.10" font-size="8.3" fill="#c8203f" stroke="#c8203f" stroke-width="0.1" textLength="19.52" lengthAdjust="spacingAndGlyphs">inhib.</text>
<text x="211.30" y="240.40" font-size="8.2" fill="#22609e" stroke="#22609e" stroke-width="0.08" textLength="25.20" lengthAdjust="spacingAndGlyphs">Vehicle</text>
<path d="M150.20 176.50L152.50 172.50L154.80 176.50Z" fill="#000"/>
<line x1="152.50" y1="175.50" x2="152.50" y2="209.00" stroke="#000" stroke-width="0.9"/>
<line x1="152.50" y1="242.50" x2="152.50" y2="280.50" stroke="#000" stroke-width="0.9"/>
<line x1="152.05" y1="280.50" x2="188.75" y2="280.50" stroke="#000" stroke-width="0.9"/>
<text x="156.00" y="241.00" font-size="9.6" fill="#111" stroke="#111" stroke-width="0.1" textLength="30.50" lengthAdjust="spacingAndGlyphs" transform="rotate(-90 156.00 241.00)">Counts</text>
<text x="191.75" y="282.50" font-size="9.6" fill="#111" stroke="#111" stroke-width="0.1" textLength="21.25" lengthAdjust="spacingAndGlyphs">IFN-γ</text>
<line x1="216.25" y1="280.50" x2="247.00" y2="280.50" stroke="#000" stroke-width="0.9"/>
<path d="M246.00 278.20L250.00 280.50L246.00 282.80Z" fill="#000"/>
<path d="M425.00 219.30L446.50 219.30C447.03 219.13 448.85 218.78 449.70 218.30C450.55 217.82 450.97 217.47 451.60 216.40C452.23 215.33 452.90 213.50 453.50 211.90C454.10 210.30 454.72 208.62 455.20 206.80C455.68 204.98 455.98 202.92 456.40 201.00C456.82 199.08 457.33 196.88 457.70 195.30C458.07 193.72 458.32 192.35 458.60 191.50C458.88 190.65 459.12 189.78 459.40 190.20C459.68 190.62 460.02 192.83 460.30 194.00C460.58 195.17 460.82 196.35 461.10 197.20C461.38 198.05 461.72 197.72 462.00 199.10C462.28 200.48 462.45 203.37 462.80 205.50C463.15 207.63 463.63 210.20 464.10 211.90C464.57 213.60 465.03 214.63 465.60 215.70C466.17 216.77 466.65 217.70 467.50 218.30C468.35 218.90 470.17 219.13 470.70 219.30L506.00 219.30 L506.00 219.30 L425.00 219.30Z" fill="#f0c3cc" stroke="none"/>
<path d="M425.00 219.30L446.50 219.30C447.03 219.13 448.85 218.78 449.70 218.30C450.55 217.82 450.97 217.47 451.60 216.40C452.23 215.33 452.90 213.50 453.50 211.90C454.10 210.30 454.72 208.62 455.20 206.80C455.68 204.98 455.98 202.92 456.40 201.00C456.82 199.08 457.33 196.88 457.70 195.30C458.07 193.72 458.32 192.35 458.60 191.50C458.88 190.65 459.12 189.78 459.40 190.20C459.68 190.62 460.02 192.83 460.30 194.00C460.58 195.17 460.82 196.35 461.10 197.20C461.38 198.05 461.72 197.72 462.00 199.10C462.28 200.48 462.45 203.37 462.80 205.50C463.15 207.63 463.63 210.20 464.10 211.90C464.57 213.60 465.03 214.63 465.60 215.70C466.17 216.77 466.65 217.70 467.50 218.30C468.35 218.90 470.17 219.13 470.70 219.30L506.00 219.30" fill="none" stroke="#d42a50" stroke-width="1.1" stroke-linejoin="round"/>
<path d="M425.00 260.80L440.10 260.60C440.73 260.35 442.83 259.88 443.90 259.10C444.97 258.32 445.75 257.07 446.50 255.90C447.25 254.73 447.77 253.48 448.40 252.10C449.03 250.72 449.77 249.42 450.30 247.60C450.83 245.78 451.17 242.47 451.60 241.20C452.03 239.93 452.48 240.85 452.90 240.00C453.32 239.15 453.68 237.38 454.10 236.10C454.52 234.82 455.02 233.57 455.40 232.30C455.78 231.03 456.02 228.72 456.40 228.50C456.78 228.28 457.27 229.73 457.70 231.00C458.13 232.27 458.57 234.18 459.00 236.10C459.43 238.02 459.83 240.15 460.30 242.50C460.77 244.85 461.23 247.87 461.80 250.20C462.37 252.53 462.95 254.92 463.70 256.50C464.45 258.08 464.92 258.98 466.30 259.70C467.68 260.42 471.05 260.62 472.00 260.80L506.00 260.80 L506.00 260.80 L425.00 260.80Z" fill="#c6d7e7" stroke="none"/>
<path d="M425.00 260.80L440.10 260.60C440.73 260.35 442.83 259.88 443.90 259.10C444.97 258.32 445.75 257.07 446.50 255.90C447.25 254.73 447.77 253.48 448.40 252.10C449.03 250.72 449.77 249.42 450.30 247.60C450.83 245.78 451.17 242.47 451.60 241.20C452.03 239.93 452.48 240.85 452.90 240.00C453.32 239.15 453.68 237.38 454.10 236.10C454.52 234.82 455.02 233.57 455.40 232.30C455.78 231.03 456.02 228.72 456.40 228.50C456.78 228.28 457.27 229.73 457.70 231.00C458.13 232.27 458.57 234.18 459.00 236.10C459.43 238.02 459.83 240.15 460.30 242.50C460.77 244.85 461.23 247.87 461.80 250.20C462.37 252.53 462.95 254.92 463.70 256.50C464.45 258.08 464.92 258.98 466.30 259.70C467.68 260.42 471.05 260.62 472.00 260.80L506.00 260.80" fill="none" stroke="#215e9c" stroke-width="1.1" stroke-linejoin="round"/>
<line x1="455.50" y1="180.50" x2="455.50" y2="260.50" stroke="#3a3a3a" stroke-width="1.1"/>
<rect x="424.50" y="178.50" width="82.00" height="82.00" fill="none" stroke="#111" stroke-width="1.1"/>
<line x1="425.10" y1="260.50" x2="425.10" y2="262.00" stroke="#111" stroke-width="0.9"/>
<line x1="427.17" y1="260.50" x2="427.17" y2="262.00" stroke="#111" stroke-width="0.9"/>
<line x1="428.77" y1="260.50" x2="428.77" y2="262.00" stroke="#111" stroke-width="0.9"/>
<line x1="430.09" y1="260.50" x2="430.09" y2="262.00" stroke="#111" stroke-width="0.9"/>
<line x1="431.19" y1="260.50" x2="431.19" y2="262.00" stroke="#111" stroke-width="0.9"/>
<line x1="432.16" y1="260.50" x2="432.16" y2="262.00" stroke="#111" stroke-width="0.9"/>
<line x1="433.00" y1="260.50" x2="433.00" y2="262.00" stroke="#111" stroke-width="0.9"/>
<line x1="433.76" y1="260.50" x2="433.76" y2="263.70" stroke="#111" stroke-width="0.9"/>
<line x1="438.75" y1="260.50" x2="438.75" y2="262.00" stroke="#111" stroke-width="0.9"/>
<line x1="441.66" y1="260.50" x2="441.66" y2="262.00" stroke="#111" stroke-width="0.9"/>
<line x1="443.73" y1="260.50" x2="443.73" y2="262.00" stroke="#111" stroke-width="0.9"/>
<line x1="445.33" y1="260.50" x2="445.33" y2="262.00" stroke="#111" stroke-width="0.9"/>
<line x1="446.65" y1="260.50" x2="446.65" y2="262.00" stroke="#111" stroke-width="0.9"/>
<line x1="447.75" y1="260.50" x2="447.75" y2="262.00" stroke="#111" stroke-width="0.9"/>
<line x1="448.72" y1="260.50" x2="448.72" y2="262.00" stroke="#111" stroke-width="0.9"/>
<line x1="449.56" y1="260.50" x2="449.56" y2="262.00" stroke="#111" stroke-width="0.9"/>
<line x1="450.32" y1="260.50" x2="450.32" y2="263.70" stroke="#111" stroke-width="0.9"/>
<line x1="455.31" y1="260.50" x2="455.31" y2="262.00" stroke="#111" stroke-width="0.9"/>
<line x1="458.22" y1="260.50" x2="458.22" y2="262.00" stroke="#111" stroke-width="0.9"/>
<line x1="460.29" y1="260.50" x2="460.29" y2="262.00" stroke="#111" stroke-width="0.9"/>
<line x1="461.89" y1="260.50" x2="461.89" y2="262.00" stroke="#111" stroke-width="0.9"/>
<line x1="463.21" y1="260.50" x2="463.21" y2="262.00" stroke="#111" stroke-width="0.9"/>
<line x1="464.31" y1="260.50" x2="464.31" y2="262.00" stroke="#111" stroke-width="0.9"/>
<line x1="465.28" y1="260.50" x2="465.28" y2="262.00" stroke="#111" stroke-width="0.9"/>
<line x1="466.12" y1="260.50" x2="466.12" y2="262.00" stroke="#111" stroke-width="0.9"/>
<line x1="466.88" y1="260.50" x2="466.88" y2="263.70" stroke="#111" stroke-width="0.9"/>
<line x1="471.87" y1="260.50" x2="471.87" y2="262.00" stroke="#111" stroke-width="0.9"/>
<line x1="474.78" y1="260.50" x2="474.78" y2="262.00" stroke="#111" stroke-width="0.9"/>
<line x1="476.85" y1="260.50" x2="476.85" y2="262.00" stroke="#111" stroke-width="0.9"/>
<line x1="478.45" y1="260.50" x2="478.45" y2="262.00" stroke="#111" stroke-width="0.9"/>
<line x1="479.77" y1="260.50" x2="479.77" y2="262.00" stroke="#111" stroke-width="0.9"/>
<line x1="480.87" y1="260.50" x2="480.87" y2="262.00" stroke="#111" stroke-width="0.9"/>
<line x1="481.84" y1="260.50" x2="481.84" y2="262.00" stroke="#111" stroke-width="0.9"/>
<line x1="482.68" y1="260.50" x2="482.68" y2="262.00" stroke="#111" stroke-width="0.9"/>
<line x1="483.44" y1="260.50" x2="483.44" y2="263.70" stroke="#111" stroke-width="0.9"/>
<line x1="488.43" y1="260.50" x2="488.43" y2="262.00" stroke="#111" stroke-width="0.9"/>
<line x1="491.34" y1="260.50" x2="491.34" y2="262.00" stroke="#111" stroke-width="0.9"/>
<line x1="493.41" y1="260.50" x2="493.41" y2="262.00" stroke="#111" stroke-width="0.9"/>
<line x1="495.01" y1="260.50" x2="495.01" y2="262.00" stroke="#111" stroke-width="0.9"/>
<line x1="496.33" y1="260.50" x2="496.33" y2="262.00" stroke="#111" stroke-width="0.9"/>
<line x1="497.43" y1="260.50" x2="497.43" y2="262.00" stroke="#111" stroke-width="0.9"/>
<line x1="498.40" y1="260.50" x2="498.40" y2="262.00" stroke="#111" stroke-width="0.9"/>
<line x1="499.24" y1="260.50" x2="499.24" y2="262.00" stroke="#111" stroke-width="0.9"/>
<line x1="500.00" y1="260.50" x2="500.00" y2="263.70" stroke="#111" stroke-width="0.9"/>
<line x1="504.99" y1="260.50" x2="504.99" y2="262.00" stroke="#111" stroke-width="0.9"/>
<text x="429.35" y="272.50" font-size="8.1" fill="#231f20" stroke="#231f20" stroke-width="0.2" textLength="7.00" lengthAdjust="spacingAndGlyphs">10</text>
<text x="437.35" y="268.70" font-size="5.0" fill="#231f20" stroke="#231f20" stroke-width="0.12" textLength="2.60" lengthAdjust="spacingAndGlyphs">1</text>
<text x="445.60" y="272.50" font-size="8.1" fill="#231f20" stroke="#231f20" stroke-width="0.2" textLength="7.00" lengthAdjust="spacingAndGlyphs">10</text>
<text x="453.60" y="268.70" font-size="5.0" fill="#231f20" stroke="#231f20" stroke-width="0.12" textLength="2.60" lengthAdjust="spacingAndGlyphs">2</text>
<text x="462.35" y="272.50" font-size="8.1" fill="#231f20" stroke="#231f20" stroke-width="0.2" textLength="7.00" lengthAdjust="spacingAndGlyphs">10</text>
<text x="470.35" y="268.70" font-size="5.0" fill="#231f20" stroke="#231f20" stroke-width="0.12" textLength="2.60" lengthAdjust="spacingAndGlyphs">3</text>
<text x="478.85" y="272.50" font-size="8.1" fill="#231f20" stroke="#231f20" stroke-width="0.2" textLength="7.00" lengthAdjust="spacingAndGlyphs">10</text>
<text x="486.85" y="268.70" font-size="5.0" fill="#231f20" stroke="#231f20" stroke-width="0.12" textLength="2.60" lengthAdjust="spacingAndGlyphs">4</text>
<text x="495.60" y="272.50" font-size="8.1" fill="#231f20" stroke="#231f20" stroke-width="0.2" textLength="7.00" lengthAdjust="spacingAndGlyphs">10</text>
<text x="503.60" y="268.70" font-size="5.0" fill="#231f20" stroke="#231f20" stroke-width="0.12" textLength="2.60" lengthAdjust="spacingAndGlyphs">5</text>
<text x="474.80" y="200.40" font-size="8.3" fill="#c8203f" stroke="#c8203f" stroke-width="0.1" textLength="24.00" lengthAdjust="spacingAndGlyphs">MDM2</text>
<text x="474.80" y="209.70" font-size="8.3" fill="#c8203f" stroke="#c8203f" stroke-width="0.1" textLength="19.20" lengthAdjust="spacingAndGlyphs">inhib.</text>
<text x="474.80" y="239.60" font-size="8.2" fill="#22609e" stroke="#22609e" stroke-width="0.08" textLength="25.50" lengthAdjust="spacingAndGlyphs">Vehicle</text>
<path d="M412.20 176.00L414.50 172.00L416.80 176.00Z" fill="#000"/>
<line x1="414.50" y1="175.00" x2="414.50" y2="202.50" stroke="#000" stroke-width="0.9"/>
<line x1="414.50" y1="236.00" x2="414.50" y2="279.50" stroke="#000" stroke-width="0.9"/>
<line x1="414.05" y1="279.50" x2="453.75" y2="279.50" stroke="#000" stroke-width="0.9"/>
<text x="418.00" y="234.50" font-size="9.6" fill="#111" stroke="#111" stroke-width="0.1" textLength="30.50" lengthAdjust="spacingAndGlyphs" transform="rotate(-90 418.00 234.50)">Counts</text>
<text x="457.00" y="282.50" font-size="9.6" fill="#111" stroke="#111" stroke-width="0.1" textLength="17.50" lengthAdjust="spacingAndGlyphs">TNF</text>
<line x1="478.00" y1="279.50" x2="509.50" y2="279.50" stroke="#000" stroke-width="0.9"/>
<path d="M508.50 277.20L512.50 279.50L508.50 281.80Z" fill="#000"/>
<path d="M166.00 565.20L193.50 565.20C193.95 564.97 195.47 564.83 196.20 563.80C196.93 562.77 197.38 561.40 197.90 559.00C198.42 556.60 198.85 553.05 199.30 549.40C199.75 545.75 200.15 540.63 200.60 537.10C201.05 533.57 201.63 529.80 202.00 528.20C202.37 526.60 202.48 526.93 202.80 527.50C203.12 528.07 203.50 529.78 203.90 531.60C204.30 533.42 204.77 535.43 205.20 538.40C205.63 541.37 205.98 545.97 206.50 549.40C207.02 552.83 207.62 556.60 208.30 559.00C208.98 561.40 209.63 562.77 210.60 563.80C211.57 564.83 213.52 564.97 214.10 565.20L249.00 565.20 L249.00 565.20 L166.00 565.20Z" fill="#f0c3cc" stroke="none"/>
<path d="M166.00 565.20L193.50 565.20C193.95 564.97 195.47 564.83 196.20 563.80C196.93 562.77 197.38 561.40 197.90 559.00C198.42 556.60 198.85 553.05 199.30 549.40C199.75 545.75 200.15 540.63 200.60 537.10C201.05 533.57 201.63 529.80 202.00 528.20C202.37 526.60 202.48 526.93 202.80 527.50C203.12 528.07 203.50 529.78 203.90 531.60C204.30 533.42 204.77 535.43 205.20 538.40C205.63 541.37 205.98 545.97 206.50 549.40C207.02 552.83 207.62 556.60 208.30 559.00C208.98 561.40 209.63 562.77 210.60 563.80C211.57 564.83 213.52 564.97 214.10 565.20L249.00 565.20" fill="none" stroke="#d42a50" stroke-width="1.1" stroke-linejoin="round"/>
<path d="M166.00 605.40L165.95 580.90C166.02 584.10 166.14 596.22 166.40 600.10C166.66 603.98 166.63 603.57 167.50 604.20C168.37 604.83 170.23 604.13 171.60 603.90C172.97 603.67 174.45 603.32 175.70 602.80C176.95 602.28 178.07 601.72 179.10 600.80C180.13 599.88 181.10 598.57 181.90 597.30C182.70 596.03 183.28 594.78 183.90 593.20C184.52 591.62 185.10 589.85 185.60 587.80C186.10 585.75 186.50 583.08 186.90 580.90C187.30 578.72 187.58 576.42 188.00 574.70C188.42 572.98 188.93 570.93 189.40 570.60C189.87 570.27 190.35 571.43 190.80 572.70C191.25 573.97 191.60 575.92 192.10 578.20C192.60 580.48 193.22 583.67 193.80 586.40C194.38 589.13 194.92 592.32 195.60 594.60C196.28 596.88 197.00 598.62 197.90 600.10C198.80 601.58 199.68 602.70 201.00 603.50C202.32 604.30 205.00 604.67 205.80 604.90L249.00 605.40 L249.00 605.40 L166.00 605.40Z" fill="#c6d7e7" stroke="none"/>
<path d="M166.00 605.40L165.95 580.90C166.02 584.10 166.14 596.22 166.40 600.10C166.66 603.98 166.63 603.57 167.50 604.20C168.37 604.83 170.23 604.13 171.60 603.90C172.97 603.67 174.45 603.32 175.70 602.80C176.95 602.28 178.07 601.72 179.10 600.80C180.13 599.88 181.10 598.57 181.90 597.30C182.70 596.03 183.28 594.78 183.90 593.20C184.52 591.62 185.10 589.85 185.60 587.80C186.10 585.75 186.50 583.08 186.90 580.90C187.30 578.72 187.58 576.42 188.00 574.70C188.42 572.98 188.93 570.93 189.40 570.60C189.87 570.27 190.35 571.43 190.80 572.70C191.25 573.97 191.60 575.92 192.10 578.20C192.60 580.48 193.22 583.67 193.80 586.40C194.38 589.13 194.92 592.32 195.60 594.60C196.28 596.88 197.00 598.62 197.90 600.10C198.80 601.58 199.68 602.70 201.00 603.50C202.32 604.30 205.00 604.67 205.80 604.90L249.00 605.40" fill="none" stroke="#215e9c" stroke-width="1.1" stroke-linejoin="round"/>
<line x1="187.80" y1="524.50" x2="187.80" y2="606.50" stroke="#3a3a3a" stroke-width="1.1"/>
<rect x="165.50" y="524.50" width="84.00" height="82.00" fill="none" stroke="#111" stroke-width="1.1"/>
<line x1="165.60" y1="580.90" x2="165.60" y2="606.00" stroke="#215e9c" stroke-width="1.2"/>
<line x1="166.87" y1="606.50" x2="166.87" y2="608.00" stroke="#111" stroke-width="0.9"/>
<line x1="168.95" y1="606.50" x2="168.95" y2="608.00" stroke="#111" stroke-width="0.9"/>
<line x1="170.57" y1="606.50" x2="170.57" y2="608.00" stroke="#111" stroke-width="0.9"/>
<line x1="171.90" y1="606.50" x2="171.90" y2="608.00" stroke="#111" stroke-width="0.9"/>
<line x1="173.01" y1="606.50" x2="173.01" y2="608.00" stroke="#111" stroke-width="0.9"/>
<line x1="173.98" y1="606.50" x2="173.98" y2="608.00" stroke="#111" stroke-width="0.9"/>
<line x1="174.84" y1="606.50" x2="174.84" y2="608.00" stroke="#111" stroke-width="0.9"/>
<line x1="175.60" y1="606.50" x2="175.60" y2="609.70" stroke="#111" stroke-width="0.9"/>
<line x1="180.63" y1="606.50" x2="180.63" y2="608.00" stroke="#111" stroke-width="0.9"/>
<line x1="183.57" y1="606.50" x2="183.57" y2="608.00" stroke="#111" stroke-width="0.9"/>
<line x1="185.65" y1="606.50" x2="185.65" y2="608.00" stroke="#111" stroke-width="0.9"/>
<line x1="187.27" y1="606.50" x2="187.27" y2="608.00" stroke="#111" stroke-width="0.9"/>
<line x1="188.60" y1="606.50" x2="188.60" y2="608.00" stroke="#111" stroke-width="0.9"/>
<line x1="189.71" y1="606.50" x2="189.71" y2="608.00" stroke="#111" stroke-width="0.9"/>
<line x1="190.68" y1="606.50" x2="190.68" y2="608.00" stroke="#111" stroke-width="0.9"/>
<line x1="191.54" y1="606.50" x2="191.54" y2="608.00" stroke="#111" stroke-width="0.9"/>
<line x1="192.30" y1="606.50" x2="192.30" y2="609.70" stroke="#111" stroke-width="0.9"/>
<line x1="197.33" y1="606.50" x2="197.33" y2="608.00" stroke="#111" stroke-width="0.9"/>
<line x1="200.27" y1="606.50" x2="200.27" y2="608.00" stroke="#111" stroke-width="0.9"/>
<line x1="202.35" y1="606.50" x2="202.35" y2="608.00" stroke="#111" stroke-width="0.9"/>
<line x1="203.97" y1="606.50" x2="203.97" y2="608.00" stroke="#111" stroke-width="0.9"/>
<line x1="205.30" y1="606.50" x2="205.30" y2="608.00" stroke="#111" stroke-width="0.9"/>
<line x1="206.41" y1="606.50" x2="206.41" y2="608.00" stroke="#111" stroke-width="0.9"/>
<line x1="207.38" y1="606.50" x2="207.38" y2="608.00" stroke="#111" stroke-width="0.9"/>
<line x1="208.24" y1="606.50" x2="208.24" y2="608.00" stroke="#111" stroke-width="0.9"/>
<line x1="209.00" y1="606.50" x2="209.00" y2="609.70" stroke="#111" stroke-width="0.9"/>
<line x1="214.03" y1="606.50" x2="214.03" y2="608.00" stroke="#111" stroke-width="0.9"/>
<line x1="216.97" y1="606.50" x2="216.97" y2="608.00" stroke="#111" stroke-width="0.9"/>
<line x1="219.05" y1="606.50" x2="219.05" y2="608.00" stroke="#111" stroke-width="0.9"/>
<line x1="220.67" y1="606.50" x2="220.67" y2="608.00" stroke="#111" stroke-width="0.9"/>
<line x1="222.00" y1="606.50" x2="222.00" y2="608.00" stroke="#111" stroke-width="0.9"/>
<line x1="223.11" y1="606.50" x2="223.11" y2="608.00" stroke="#111" stroke-width="0.9"/>
<line x1="224.08" y1="606.50" x2="224.08" y2="608.00" stroke="#111" stroke-width="0.9"/>
<line x1="224.94" y1="606.50" x2="224.94" y2="608.00" stroke="#111" stroke-width="0.9"/>
<line x1="225.70" y1="606.50" x2="225.70" y2="609.70" stroke="#111" stroke-width="0.9"/>
<line x1="230.73" y1="606.50" x2="230.73" y2="608.00" stroke="#111" stroke-width="0.9"/>
<line x1="233.67" y1="606.50" x2="233.67" y2="608.00" stroke="#111" stroke-width="0.9"/>
<line x1="235.75" y1="606.50" x2="235.75" y2="608.00" stroke="#111" stroke-width="0.9"/>
<line x1="237.37" y1="606.50" x2="237.37" y2="608.00" stroke="#111" stroke-width="0.9"/>
<line x1="238.70" y1="606.50" x2="238.70" y2="608.00" stroke="#111" stroke-width="0.9"/>
<line x1="239.81" y1="606.50" x2="239.81" y2="608.00" stroke="#111" stroke-width="0.9"/>
<line x1="240.78" y1="606.50" x2="240.78" y2="608.00" stroke="#111" stroke-width="0.9"/>
<line x1="241.64" y1="606.50" x2="241.64" y2="608.00" stroke="#111" stroke-width="0.9"/>
<line x1="242.40" y1="606.50" x2="242.40" y2="609.70" stroke="#111" stroke-width="0.9"/>
<line x1="247.43" y1="606.50" x2="247.43" y2="608.00" stroke="#111" stroke-width="0.9"/>
<text x="171.20" y="617.60" font-size="8.1" fill="#231f20" stroke="#231f20" stroke-width="0.2" textLength="7.00" lengthAdjust="spacingAndGlyphs">10</text>
<text x="179.20" y="613.80" font-size="5.0" fill="#231f20" stroke="#231f20" stroke-width="0.12" textLength="2.60" lengthAdjust="spacingAndGlyphs">1</text>
<text x="187.20" y="617.60" font-size="8.1" fill="#231f20" stroke="#231f20" stroke-width="0.2" textLength="7.00" lengthAdjust="spacingAndGlyphs">10</text>
<text x="195.20" y="613.80" font-size="5.0" fill="#231f20" stroke="#231f20" stroke-width="0.12" textLength="2.60" lengthAdjust="spacingAndGlyphs">2</text>
<text x="204.20" y="617.60" font-size="8.1" fill="#231f20" stroke="#231f20" stroke-width="0.2" textLength="7.00" lengthAdjust="spacingAndGlyphs">10</text>
<text x="212.20" y="613.80" font-size="5.0" fill="#231f20" stroke="#231f20" stroke-width="0.12" textLength="2.60" lengthAdjust="spacingAndGlyphs">3</text>
<text x="221.40" y="617.60" font-size="8.1" fill="#231f20" stroke="#231f20" stroke-width="0.2" textLength="7.00" lengthAdjust="spacingAndGlyphs">10</text>
<text x="229.40" y="613.80" font-size="5.0" fill="#231f20" stroke="#231f20" stroke-width="0.12" textLength="2.60" lengthAdjust="spacingAndGlyphs">4</text>
<text x="237.90" y="617.60" font-size="8.1" fill="#231f20" stroke="#231f20" stroke-width="0.2" textLength="7.00" lengthAdjust="spacingAndGlyphs">10</text>
<text x="245.90" y="613.80" font-size="5.0" fill="#231f20" stroke="#231f20" stroke-width="0.12" textLength="2.60" lengthAdjust="spacingAndGlyphs">5</text>
<text x="216.10" y="542.70" font-size="8.3" fill="#c8203f" stroke="#c8203f" stroke-width="0.1" textLength="23.90" lengthAdjust="spacingAndGlyphs">MDM2</text>
<text x="216.10" y="552.00" font-size="8.3" fill="#c8203f" stroke="#c8203f" stroke-width="0.1" textLength="19.12" lengthAdjust="spacingAndGlyphs">inhib.</text>
<text x="216.30" y="585.00" font-size="8.2" fill="#22609e" stroke="#22609e" stroke-width="0.08" textLength="25.40" lengthAdjust="spacingAndGlyphs">Vehicle</text>
<path d="M152.20 520.70L154.50 516.70L156.80 520.70Z" fill="#000"/>
<line x1="154.50" y1="519.70" x2="154.50" y2="548.50" stroke="#000" stroke-width="0.9"/>
<line x1="154.50" y1="582.60" x2="154.50" y2="628.50" stroke="#000" stroke-width="0.9"/>
<line x1="154.05" y1="628.50" x2="189.60" y2="628.50" stroke="#000" stroke-width="0.9"/>
<text x="158.00" y="581.10" font-size="9.6" fill="#111" stroke="#111" stroke-width="0.1" textLength="31.10" lengthAdjust="spacingAndGlyphs" transform="rotate(-90 158.00 581.10)">Counts</text>
<text x="192.00" y="630.80" font-size="9.6" fill="#111" stroke="#111" stroke-width="0.1" textLength="29.70" lengthAdjust="spacingAndGlyphs">CD127</text>
<line x1="225.00" y1="628.50" x2="252.40" y2="628.50" stroke="#000" stroke-width="0.9"/>
<path d="M251.40 626.20L255.40 628.50L251.40 630.80Z" fill="#000"/>
<path d="M425.00 564.20L444.20 564.20C444.47 563.98 445.27 563.67 445.80 562.90C446.33 562.13 446.80 560.87 447.40 559.60C448.00 558.33 448.77 556.48 449.40 555.30C450.03 554.12 450.53 553.15 451.20 552.50C451.87 551.85 452.67 551.45 453.40 551.40C454.13 551.35 454.97 551.55 455.60 552.20C456.23 552.85 456.72 554.07 457.20 555.30C457.68 556.53 458.03 558.33 458.50 559.60C458.97 560.87 459.48 562.13 460.00 562.90C460.52 563.67 461.33 563.98 461.60 564.20L506.00 564.20 L506.00 564.20 L425.00 564.20Z" fill="#f0c3cc" stroke="none"/>
<path d="M425.00 564.20L444.20 564.20C444.47 563.98 445.27 563.67 445.80 562.90C446.33 562.13 446.80 560.87 447.40 559.60C448.00 558.33 448.77 556.48 449.40 555.30C450.03 554.12 450.53 553.15 451.20 552.50C451.87 551.85 452.67 551.45 453.40 551.40C454.13 551.35 454.97 551.55 455.60 552.20C456.23 552.85 456.72 554.07 457.20 555.30C457.68 556.53 458.03 558.33 458.50 559.60C458.97 560.87 459.48 562.13 460.00 562.90C460.52 563.67 461.33 563.98 461.60 564.20L506.00 564.20" fill="none" stroke="#d42a50" stroke-width="1.1" stroke-linejoin="round"/>
<path d="M425.00 605.40L443.60 605.40C443.88 604.93 444.75 603.78 445.30 602.60C445.85 601.42 446.37 599.83 446.90 598.30C447.43 596.77 447.95 594.85 448.50 593.40C449.05 591.95 449.75 590.15 450.20 589.60C450.65 589.05 450.75 589.28 451.20 590.10C451.65 590.92 452.35 592.95 452.90 594.50C453.45 596.05 453.97 597.95 454.50 599.40C455.03 600.85 455.55 602.20 456.10 603.20C456.65 604.20 457.52 605.03 457.80 605.40L506.00 605.40 L506.00 605.40 L425.00 605.40Z" fill="#c6d7e7" stroke="none"/>
<path d="M425.00 605.40L443.60 605.40C443.88 604.93 444.75 603.78 445.30 602.60C445.85 601.42 446.37 599.83 446.90 598.30C447.43 596.77 447.95 594.85 448.50 593.40C449.05 591.95 449.75 590.15 450.20 589.60C450.65 589.05 450.75 589.28 451.20 590.10C451.65 590.92 452.35 592.95 452.90 594.50C453.45 596.05 453.97 597.95 454.50 599.40C455.03 600.85 455.55 602.20 456.10 603.20C456.65 604.20 457.52 605.03 457.80 605.40L506.00 605.40" fill="none" stroke="#215e9c" stroke-width="1.1" stroke-linejoin="round"/>
<line x1="449.60" y1="523.50" x2="449.60" y2="605.50" stroke="#1a1a1a" stroke-width="0.9"/>
<rect x="424.50" y="523.50" width="82.00" height="82.00" fill="none" stroke="#111" stroke-width="1.1"/>
<line x1="424.59" y1="605.50" x2="424.59" y2="607.00" stroke="#111" stroke-width="0.9"/>
<line x1="425.01" y1="605.50" x2="425.01" y2="607.00" stroke="#111" stroke-width="0.9"/>
<line x1="425.37" y1="605.50" x2="425.37" y2="607.00" stroke="#111" stroke-width="0.9"/>
<line x1="425.70" y1="605.50" x2="425.70" y2="608.70" stroke="#111" stroke-width="0.9"/>
<line x1="427.85" y1="605.50" x2="427.85" y2="607.00" stroke="#111" stroke-width="0.9"/>
<line x1="429.11" y1="605.50" x2="429.11" y2="607.00" stroke="#111" stroke-width="0.9"/>
<line x1="430.00" y1="605.50" x2="430.00" y2="607.00" stroke="#111" stroke-width="0.9"/>
<line x1="430.70" y1="605.50" x2="430.70" y2="607.00" stroke="#111" stroke-width="0.9"/>
<line x1="431.26" y1="605.50" x2="431.26" y2="607.00" stroke="#111" stroke-width="0.9"/>
<line x1="431.74" y1="605.50" x2="431.74" y2="607.00" stroke="#111" stroke-width="0.9"/>
<line x1="432.16" y1="605.50" x2="432.16" y2="607.00" stroke="#111" stroke-width="0.9"/>
<line x1="432.52" y1="605.50" x2="432.52" y2="607.00" stroke="#111" stroke-width="0.9"/>
<line x1="432.85" y1="605.50" x2="432.85" y2="608.70" stroke="#111" stroke-width="0.9"/>
<line x1="435.00" y1="605.50" x2="435.00" y2="607.00" stroke="#111" stroke-width="0.9"/>
<line x1="436.26" y1="605.50" x2="436.26" y2="607.00" stroke="#111" stroke-width="0.9"/>
<line x1="437.15" y1="605.50" x2="437.15" y2="607.00" stroke="#111" stroke-width="0.9"/>
<line x1="437.85" y1="605.50" x2="437.85" y2="607.00" stroke="#111" stroke-width="0.9"/>
<line x1="438.41" y1="605.50" x2="438.41" y2="607.00" stroke="#111" stroke-width="0.9"/>
<line x1="438.89" y1="605.50" x2="438.89" y2="607.00" stroke="#111" stroke-width="0.9"/>
<line x1="439.31" y1="605.50" x2="439.31" y2="607.00" stroke="#111" stroke-width="0.9"/>
<line x1="439.67" y1="605.50" x2="439.67" y2="607.00" stroke="#111" stroke-width="0.9"/>
<line x1="440.00" y1="605.50" x2="440.00" y2="608.70" stroke="#111" stroke-width="0.9"/>
<line x1="442.15" y1="605.50" x2="442.15" y2="607.00" stroke="#111" stroke-width="0.9"/>
<line x1="443.41" y1="605.50" x2="443.41" y2="607.00" stroke="#111" stroke-width="0.9"/>
<line x1="444.30" y1="605.50" x2="444.30" y2="607.00" stroke="#111" stroke-width="0.9"/>
<line x1="445.00" y1="605.50" x2="445.00" y2="607.00" stroke="#111" stroke-width="0.9"/>
<line x1="445.56" y1="605.50" x2="445.56" y2="607.00" stroke="#111" stroke-width="0.9"/>
<line x1="446.04" y1="605.50" x2="446.04" y2="607.00" stroke="#111" stroke-width="0.9"/>
<line x1="446.46" y1="605.50" x2="446.46" y2="607.00" stroke="#111" stroke-width="0.9"/>
<line x1="446.82" y1="605.50" x2="446.82" y2="607.00" stroke="#111" stroke-width="0.9"/>
<line x1="447.15" y1="605.50" x2="447.15" y2="608.70" stroke="#111" stroke-width="0.9"/>
<line x1="449.30" y1="605.50" x2="449.30" y2="607.00" stroke="#111" stroke-width="0.9"/>
<line x1="450.56" y1="605.50" x2="450.56" y2="607.00" stroke="#111" stroke-width="0.9"/>
<line x1="451.45" y1="605.50" x2="451.45" y2="607.00" stroke="#111" stroke-width="0.9"/>
<line x1="452.15" y1="605.50" x2="452.15" y2="607.00" stroke="#111" stroke-width="0.9"/>
<line x1="452.71" y1="605.50" x2="452.71" y2="607.00" stroke="#111" stroke-width="0.9"/>
<line x1="453.19" y1="605.50" x2="453.19" y2="607.00" stroke="#111" stroke-width="0.9"/>
<line x1="453.61" y1="605.50" x2="453.61" y2="607.00" stroke="#111" stroke-width="0.9"/>
<line x1="453.97" y1="605.50" x2="453.97" y2="607.00" stroke="#111" stroke-width="0.9"/>
<line x1="454.30" y1="605.50" x2="454.30" y2="608.70" stroke="#111" stroke-width="0.9"/>
<line x1="456.45" y1="605.50" x2="456.45" y2="607.00" stroke="#111" stroke-width="0.9"/>
<line x1="457.71" y1="605.50" x2="457.71" y2="607.00" stroke="#111" stroke-width="0.9"/>
<line x1="458.60" y1="605.50" x2="458.60" y2="607.00" stroke="#111" stroke-width="0.9"/>
<line x1="459.30" y1="605.50" x2="459.30" y2="607.00" stroke="#111" stroke-width="0.9"/>
<line x1="459.86" y1="605.50" x2="459.86" y2="607.00" stroke="#111" stroke-width="0.9"/>
<line x1="460.34" y1="605.50" x2="460.34" y2="607.00" stroke="#111" stroke-width="0.9"/>
<line x1="460.76" y1="605.50" x2="460.76" y2="607.00" stroke="#111" stroke-width="0.9"/>
<line x1="461.12" y1="605.50" x2="461.12" y2="607.00" stroke="#111" stroke-width="0.9"/>
<line x1="461.45" y1="605.50" x2="461.45" y2="608.70" stroke="#111" stroke-width="0.9"/>
<line x1="463.60" y1="605.50" x2="463.60" y2="607.00" stroke="#111" stroke-width="0.9"/>
<line x1="464.86" y1="605.50" x2="464.86" y2="607.00" stroke="#111" stroke-width="0.9"/>
<line x1="465.75" y1="605.50" x2="465.75" y2="607.00" stroke="#111" stroke-width="0.9"/>
<line x1="466.45" y1="605.50" x2="466.45" y2="607.00" stroke="#111" stroke-width="0.9"/>
<line x1="467.01" y1="605.50" x2="467.01" y2="607.00" stroke="#111" stroke-width="0.9"/>
<line x1="467.49" y1="605.50" x2="467.49" y2="607.00" stroke="#111" stroke-width="0.9"/>
<line x1="467.91" y1="605.50" x2="467.91" y2="607.00" stroke="#111" stroke-width="0.9"/>
<line x1="468.27" y1="605.50" x2="468.27" y2="607.00" stroke="#111" stroke-width="0.9"/>
<line x1="468.60" y1="605.50" x2="468.60" y2="608.70" stroke="#111" stroke-width="0.9"/>
<line x1="470.75" y1="605.50" x2="470.75" y2="607.00" stroke="#111" stroke-width="0.9"/>
<line x1="472.01" y1="605.50" x2="472.01" y2="607.00" stroke="#111" stroke-width="0.9"/>
<line x1="472.90" y1="605.50" x2="472.90" y2="607.00" stroke="#111" stroke-width="0.9"/>
<line x1="473.60" y1="605.50" x2="473.60" y2="607.00" stroke="#111" stroke-width="0.9"/>
<line x1="474.16" y1="605.50" x2="474.16" y2="607.00" stroke="#111" stroke-width="0.9"/>
<line x1="474.64" y1="605.50" x2="474.64" y2="607.00" stroke="#111" stroke-width="0.9"/>
<line x1="475.06" y1="605.50" x2="475.06" y2="607.00" stroke="#111" stroke-width="0.9"/>
<line x1="475.42" y1="605.50" x2="475.42" y2="607.00" stroke="#111" stroke-width="0.9"/>
<line x1="475.75" y1="605.50" x2="475.75" y2="608.70" stroke="#111" stroke-width="0.9"/>
<line x1="477.90" y1="605.50" x2="477.90" y2="607.00" stroke="#111" stroke-width="0.9"/>
<line x1="479.16" y1="605.50" x2="479.16" y2="607.00" stroke="#111" stroke-width="0.9"/>
<line x1="480.05" y1="605.50" x2="480.05" y2="607.00" stroke="#111" stroke-width="0.9"/>
<line x1="480.75" y1="605.50" x2="480.75" y2="607.00" stroke="#111" stroke-width="0.9"/>
<line x1="481.31" y1="605.50" x2="481.31" y2="607.00" stroke="#111" stroke-width="0.9"/>
<line x1="481.79" y1="605.50" x2="481.79" y2="607.00" stroke="#111" stroke-width="0.9"/>
<line x1="482.21" y1="605.50" x2="482.21" y2="607.00" stroke="#111" stroke-width="0.9"/>
<line x1="482.57" y1="605.50" x2="482.57" y2="607.00" stroke="#111" stroke-width="0.9"/>
<line x1="482.90" y1="605.50" x2="482.90" y2="608.70" stroke="#111" stroke-width="0.9"/>
<line x1="485.05" y1="605.50" x2="485.05" y2="607.00" stroke="#111" stroke-width="0.9"/>
<line x1="486.31" y1="605.50" x2="486.31" y2="607.00" stroke="#111" stroke-width="0.9"/>
<line x1="487.20" y1="605.50" x2="487.20" y2="607.00" stroke="#111" stroke-width="0.9"/>
<line x1="487.90" y1="605.50" x2="487.90" y2="607.00" stroke="#111" stroke-width="0.9"/>
<line x1="488.46" y1="605.50" x2="488.46" y2="607.00" stroke="#111" stroke-width="0.9"/>
<line x1="488.94" y1="605.50" x2="488.94" y2="607.00" stroke="#111" stroke-width="0.9"/>
<line x1="489.36" y1="605.50" x2="489.36" y2="607.00" stroke="#111" stroke-width="0.9"/>
<line x1="489.72" y1="605.50" x2="489.72" y2="607.00" stroke="#111" stroke-width="0.9"/>
<line x1="490.05" y1="605.50" x2="490.05" y2="608.70" stroke="#111" stroke-width="0.9"/>
<line x1="492.20" y1="605.50" x2="492.20" y2="607.00" stroke="#111" stroke-width="0.9"/>
<line x1="493.46" y1="605.50" x2="493.46" y2="607.00" stroke="#111" stroke-width="0.9"/>
<line x1="494.35" y1="605.50" x2="494.35" y2="607.00" stroke="#111" stroke-width="0.9"/>
<line x1="495.05" y1="605.50" x2="495.05" y2="607.00" stroke="#111" stroke-width="0.9"/>
<line x1="495.61" y1="605.50" x2="495.61" y2="607.00" stroke="#111" stroke-width="0.9"/>
<line x1="496.09" y1="605.50" x2="496.09" y2="607.00" stroke="#111" stroke-width="0.9"/>
<line x1="496.51" y1="605.50" x2="496.51" y2="607.00" stroke="#111" stroke-width="0.9"/>
<line x1="496.87" y1="605.50" x2="496.87" y2="607.00" stroke="#111" stroke-width="0.9"/>
<line x1="497.20" y1="605.50" x2="497.20" y2="608.70" stroke="#111" stroke-width="0.9"/>
<line x1="499.35" y1="605.50" x2="499.35" y2="607.00" stroke="#111" stroke-width="0.9"/>
<line x1="500.61" y1="605.50" x2="500.61" y2="607.00" stroke="#111" stroke-width="0.9"/>
<line x1="501.50" y1="605.50" x2="501.50" y2="607.00" stroke="#111" stroke-width="0.9"/>
<line x1="502.20" y1="605.50" x2="502.20" y2="607.00" stroke="#111" stroke-width="0.9"/>
<line x1="502.76" y1="605.50" x2="502.76" y2="607.00" stroke="#111" stroke-width="0.9"/>
<line x1="503.24" y1="605.50" x2="503.24" y2="607.00" stroke="#111" stroke-width="0.9"/>
<line x1="503.66" y1="605.50" x2="503.66" y2="607.00" stroke="#111" stroke-width="0.9"/>
<line x1="504.02" y1="605.50" x2="504.02" y2="607.00" stroke="#111" stroke-width="0.9"/>
<line x1="504.35" y1="605.50" x2="504.35" y2="608.70" stroke="#111" stroke-width="0.9"/>
<line x1="506.50" y1="605.50" x2="506.50" y2="607.00" stroke="#111" stroke-width="0.9"/>
<text x="421.00" y="616.80" font-size="8.1" fill="#231f20" stroke="#231f20" stroke-width="0.2" textLength="7.00" lengthAdjust="spacingAndGlyphs">10</text>
<text x="429.00" y="613.00" font-size="5.0" fill="#231f20" stroke="#231f20" stroke-width="0.12" textLength="5.20" lengthAdjust="spacingAndGlyphs">−1</text>
<text x="435.00" y="616.80" font-size="8.1" fill="#231f20" stroke="#231f20" stroke-width="0.2" textLength="7.00" lengthAdjust="spacingAndGlyphs">10</text>
<text x="443.00" y="613.00" font-size="5.0" fill="#231f20" stroke="#231f20" stroke-width="0.12" textLength="2.60" lengthAdjust="spacingAndGlyphs">1</text>
<text x="449.00" y="616.80" font-size="8.1" fill="#231f20" stroke="#231f20" stroke-width="0.2" textLength="7.00" lengthAdjust="spacingAndGlyphs">10</text>
<text x="457.00" y="613.00" font-size="5.0" fill="#231f20" stroke="#231f20" stroke-width="0.12" textLength="2.60" lengthAdjust="spacingAndGlyphs">3</text>
<text x="464.20" y="616.80" font-size="8.1" fill="#231f20" stroke="#231f20" stroke-width="0.2" textLength="7.00" lengthAdjust="spacingAndGlyphs">10</text>
<text x="472.20" y="613.00" font-size="5.0" fill="#231f20" stroke="#231f20" stroke-width="0.12" textLength="2.60" lengthAdjust="spacingAndGlyphs">5</text>
<text x="478.60" y="616.80" font-size="8.1" fill="#231f20" stroke="#231f20" stroke-width="0.2" textLength="7.00" lengthAdjust="spacingAndGlyphs">10</text>
<text x="486.60" y="613.00" font-size="5.0" fill="#231f20" stroke="#231f20" stroke-width="0.12" textLength="2.60" lengthAdjust="spacingAndGlyphs">7</text>
<text x="493.30" y="616.80" font-size="8.1" fill="#231f20" stroke="#231f20" stroke-width="0.2" textLength="7.00" lengthAdjust="spacingAndGlyphs">10</text>
<text x="501.30" y="613.00" font-size="5.0" fill="#231f20" stroke="#231f20" stroke-width="0.12" textLength="2.60" lengthAdjust="spacingAndGlyphs">9</text>
<text x="474.70" y="536.00" font-size="8.3" fill="#c8203f" stroke="#c8203f" stroke-width="0.1" textLength="24.10" lengthAdjust="spacingAndGlyphs">MDM2</text>
<text x="474.70" y="545.30" font-size="8.3" fill="#c8203f" stroke="#c8203f" stroke-width="0.1" textLength="19.28" lengthAdjust="spacingAndGlyphs">inhib.</text>
<text x="474.70" y="579.50" font-size="8.2" fill="#22609e" stroke="#22609e" stroke-width="0.08" textLength="25.50" lengthAdjust="spacingAndGlyphs">Vehicle</text>
<path d="M412.20 521.50L414.50 517.50L416.80 521.50Z" fill="#000"/>
<line x1="414.50" y1="520.50" x2="414.50" y2="548.00" stroke="#000" stroke-width="0.9"/>
<line x1="414.50" y1="582.00" x2="414.50" y2="628.50" stroke="#000" stroke-width="0.9"/>
<line x1="414.05" y1="628.50" x2="450.80" y2="628.50" stroke="#000" stroke-width="0.9"/>
<text x="418.00" y="580.50" font-size="9.6" fill="#111" stroke="#111" stroke-width="0.1" textLength="31.00" lengthAdjust="spacingAndGlyphs" transform="rotate(-90 418.00 580.50)">Counts</text>
<text x="454.60" y="630.80" font-size="9.6" fill="#111" stroke="#111" stroke-width="0.1" textLength="20.30" lengthAdjust="spacingAndGlyphs">Bcl-2</text>
<line x1="478.70" y1="628.50" x2="509.90" y2="628.50" stroke="#000" stroke-width="0.9"/>
<path d="M508.90 626.20L512.90 628.50L508.90 630.80Z" fill="#000"/>
<path d="M50.2 391.2L56.9 389.1L65.0 389.8L73.1 391.8L78.5 395.2L81.8 399.9L83.8 404.6L86.5 410.0L89.2 415.4L92.6 421.4L87.9 422.1L85.2 424.8L81.1 428.8L75.8 432.2L67.7 434.2L56.9 434.2L47.5 432.2L40.8 427.5L37.4 420.8L36.1 412.7L37.4 406.0L41.4 399.9L45.5 395.2Z" fill="#f4f4f4" stroke="#f4f4f4" stroke-width="5" stroke-linejoin="round"/>
<path d="M109.0 386.7L112.7 388.1L117.4 389.9L123.0 389.9L128.6 391.8L131.9 395.1L131.4 401.1L128.6 405.8L124.9 407.7L120.2 406.3L116.5 403.9L113.7 403.0L110.9 406.7L108.1 410.5L105.3 415.1L102.5 416.5L101.1 414.2L101.1 405.8L101.5 398.3L103.4 393.7L106.2 389.9Z" fill="#f4f4f4" stroke="#f4f4f4" stroke-width="5" stroke-linejoin="round"/>
<path d="M118.0 393.0L127.0 393.5L130.0 399.0L126.0 405.0L119.0 403.0Z" fill="#f4f4f4" stroke="#f4f4f4" stroke-width="5" stroke-linejoin="round"/>
<path d="M47.0 382.4L48.2 382.0L51.6 390.5L49.6 391.5Z" fill="#f4f4f4" stroke="#f4f4f4" stroke-width="5" stroke-linejoin="round"/>
<path d="M103.2 425.9L104.5 426.2L107.3 430.6L103.5 430.2Z" fill="#f4f4f4" stroke="#f4f4f4" stroke-width="5" stroke-linejoin="round"/>
<circle cx="54.50" cy="326.00" r="14.00" fill="#f4f4f4"/>
<circle cx="140.00" cy="332.50" r="10.00" fill="#f4f4f4"/>
<path d="M50.2 391.2L56.9 389.1L65.0 389.8L73.1 391.8L78.5 395.2L81.8 399.9L83.8 404.6L86.5 410.0L89.2 415.4L92.6 421.4L87.9 422.1L85.2 424.8L81.1 428.8L75.8 432.2L67.7 434.2L56.9 434.2L47.5 432.2L40.8 427.5L37.4 420.8L36.1 412.7L37.4 406.0L41.4 399.9L45.5 395.2Z" fill="#d9bad7"/>
<path d="M109.0 386.7L112.7 388.1L117.4 389.9L123.0 389.9L128.6 391.8L131.9 395.1L131.4 401.1L128.6 405.8L124.9 407.7L120.2 406.3L116.5 403.9L113.7 403.0L110.9 406.7L108.1 410.5L105.3 415.1L102.5 416.5L101.1 414.2L101.1 405.8L101.5 398.3L103.4 393.7L106.2 389.9Z" fill="#d9bad7"/>
<path d="M118.0 393.0L127.0 393.5L130.0 399.0L126.0 405.0L119.0 403.0Z" fill="#d9bad7"/>
<path d="M47.0 382.4L48.2 382.0L51.6 390.5L49.6 391.5Z" fill="#d9bad7"/>
<path d="M103.2 425.9L104.5 426.2L107.3 430.6L103.5 430.2Z" fill="#d9bad7"/>
<path d="M61.7 414.3h0.8M64.8 415.6h0.8M46.5 412.2h0.8M71.7 424.9h0.8M37.8 410.0h0.8M61.0 427.1h0.8M65.4 418.0h0.8M61.9 401.6h0.8M53.9 399.5h0.8M52.4 392.3h0.8M79.4 407.2h0.8M83.9 406.5h0.8M40.2 417.5h0.8M80.1 401.3h0.8M41.0 404.1h0.8M67.7 409.3h0.8M43.5 418.1h0.8M48.1 401.3h0.8M48.0 406.9h0.8M48.1 400.7h0.8M79.8 403.9h0.8M52.8 392.4h0.8M49.8 416.2h0.8M68.6 428.2h0.8M50.2 397.7h0.8M47.2 432.0h0.8M85.9 416.3h0.8M59.9 393.8h0.8M49.6 420.9h0.8M50.6 426.2h0.8M69.8 402.3h0.8M46.0 421.6h0.8M67.7 427.5h0.8M70.8 401.7h0.8M61.3 391.8h0.8M56.6 429.3h0.8M75.2 415.5h0.8M40.4 413.7h0.8M77.7 429.7h0.8M77.7 420.8h0.8M56.0 420.0h0.8M59.7 424.8h0.8M84.9 414.9h0.8M71.4 406.3h0.8M69.0 416.6h0.8M40.6 417.9h0.8M77.2 406.6h0.8M61.0 426.9h0.8M40.8 422.9h0.8M75.6 411.5h0.8M70.8 430.6h0.8M53.1 419.7h0.8M47.5 396.7h0.8M87.3 418.9h0.8M61.1 429.3h0.8M47.3 408.5h0.8M43.8 411.5h0.8M61.6 401.5h0.8M53.9 426.9h0.8M61.8 390.2h0.8M71.6 409.2h0.8M71.7 418.6h0.8M74.8 398.1h0.8M62.9 397.2h0.8M36.7 410.4h0.8M76.5 397.2h0.8M51.5 404.7h0.8M75.5 412.6h0.8M70.8 423.2h0.8M58.3 424.8h0.8M88.8 421.7h0.8M71.4 430.1h0.8M57.4 414.8h0.8M76.9 426.0h0.8M72.4 421.5h0.8M48.2 429.7h0.8M54.2 430.1h0.8M40.8 409.0h0.8M67.2 423.7h0.8M83.6 420.2h0.8M52.5 422.0h0.8M83.8 414.4h0.8M53.7 406.3h0.8M47.9 427.5h0.8M66.4 411.8h0.8M58.7 425.2h0.8M66.5 407.8h0.8M51.3 410.4h0.8M43.3 408.7h0.8M63.0 403.4h0.8M46.9 417.0h0.8M74.9 403.6h0.8M56.2 417.1h0.8M42.0 422.1h0.8M43.0 412.1h0.8M57.3 407.7h0.8M66.0 396.3h0.8M72.2 413.0h0.8M78.0 425.7h0.8M53.9 430.7h0.8M49.6 421.9h0.8M83.1 408.1h0.8M58.9 420.0h0.8M74.7 430.2h0.8M64.5 420.0h0.8M67.3 412.3h0.8M46.5 398.3h0.8M62.2 423.6h0.8M54.6 410.2h0.8M65.2 408.5h0.8M75.7 427.2h0.8M77.9 407.4h0.8M75.9 427.9h0.8M50.7 430.2h0.8M78.2 424.2h0.8M82.1 407.4h0.8M75.4 423.7h0.8M79.3 407.4h0.8M72.2 417.2h0.8M73.7 404.3h0.8M66.2 406.7h0.8M75.7 423.5h0.8M70.9 422.4h0.8M50.6 407.2h0.8M57.3 393.5h0.8M50.3 429.9h0.8M67.2 412.0h0.8M69.9 423.3h0.8M45.1 410.4h0.8M45.7 411.4h0.8M65.9 416.1h0.8M56.8 402.0h0.8M73.1 414.4h0.8M52.1 421.4h0.8M44.9 423.1h0.8M58.1 429.6h0.8M60.4 410.6h0.8M65.7 431.4h0.8M76.9 410.2h0.8M70.2 394.3h0.8M61.1 419.2h0.8M61.8 400.9h0.8M69.0 408.0h0.8M80.1 413.0h0.8M77.6 399.9h0.8M80.4 417.3h0.8M56.4 401.3h0.8M74.8 414.6h0.8M78.7 397.7h0.8M51.4 408.3h0.8M71.3 393.7h0.8M41.0 419.6h0.8M67.2 417.6h0.8M57.2 410.7h0.8M78.2 426.9h0.8M81.8 417.2h0.8M79.5 398.7h0.8M54.5 413.8h0.8M40.7 402.8h0.8M77.1 420.4h0.8M81.5 402.8h0.8M54.0 407.1h0.8M56.8 405.5h0.8M58.5 406.6h0.8M81.1 413.5h0.8M83.4 414.5h0.8M66.8 414.7h0.8M90.7 418.5h0.8M67.0 424.6h0.8M77.7 429.6h0.8M44.2 422.7h0.8M72.8 400.2h0.8M65.6 423.6h0.8M90.8 419.4h0.8M64.0 413.3h0.8M76.8 421.0h0.8M82.8 419.2h0.8M84.3 425.4h0.8M90.2 418.0h0.8M65.7 421.1h0.8M81.4 408.1h0.8M59.9 395.7h0.8M57.3 396.7h0.8M47.6 408.3h0.8M52.6 432.8h0.8M39.4 403.0h0.8M42.6 418.3h0.8M39.6 409.8h0.8M69.1 430.1h0.8M46.5 398.9h0.8M49.4 421.4h0.8M69.7 399.2h0.8M46.6 401.8h0.8M45.8 423.3h0.8M53.7 413.8h0.8M82.3 410.7h0.8M50.8 429.1h0.8M67.0 432.3h0.8M63.4 399.1h0.8M81.4 406.5h0.8M65.9 412.4h0.8M73.3 399.8h0.8M57.1 425.0h0.8M76.4 416.4h0.8M54.3 400.8h0.8M85.2 412.4h0.8M51.2 413.2h0.8M44.6 423.8h0.8M40.8 401.3h0.8M63.2 410.2h0.8M80.7 407.9h0.8M45.0 426.6h0.8M56.4 420.1h0.8M42.1 406.9h0.8M62.2 432.7h0.8M76.2 399.8h0.8M68.0 409.8h0.8M57.3 413.4h0.8M52.9 404.3h0.8M50.6 398.1h0.8M77.0 404.1h0.8M74.4 421.0h0.8M46.3 407.2h0.8M83.4 415.8h0.8M59.1 392.4h0.8M57.9 404.0h0.8M58.7 420.7h0.8M73.4 416.5h0.8M82.7 416.7h0.8M87.1 413.8h0.8M56.0 411.7h0.8M44.1 421.3h0.8M76.5 426.8h0.8M47.2 431.7h0.8M68.7 420.5h0.8M54.7 431.0h0.8M82.3 416.2h0.8M43.0 426.3h0.8M52.4 429.6h0.8M49.7 415.0h0.8M73.3 403.0h0.8M74.0 422.4h0.8M57.7 415.8h0.8M47.4 410.2h0.8M68.3 396.9h0.8M65.5 401.0h0.8M74.0 395.6h0.8M62.6 407.7h0.8M71.3 420.2h0.8M78.9 423.0h0.8M63.5 434.0h0.8M60.5 429.9h0.8M54.2 391.6h0.8M77.1 429.7h0.8M77.5 416.0h0.8M78.6 402.8h0.8M69.6 392.2h0.8M43.1 409.3h0.8M39.0 420.4h0.8M65.8 399.9h0.8M73.7 428.2h0.8M59.9 425.4h0.8M48.6 422.8h0.8M68.1 429.8h0.8M41.7 424.8h0.8M49.9 402.6h0.8M58.5 405.2h0.8M69.2 391.2h0.8M53.5 411.6h0.8M62.8 398.4h0.8M52.8 430.7h0.8M83.4 405.1h0.8M62.8 396.9h0.8M47.5 417.6h0.8M46.9 428.8h0.8M77.1 403.2h0.8M75.4 431.4h0.8M61.3 392.7h0.8M76.2 398.0h0.8M46.3 399.7h0.8M73.6 424.8h0.8M57.1 419.0h0.8M49.0 402.7h0.8M88.5 419.2h0.8M51.7 418.0h0.8M61.0 412.9h0.8M70.0 401.9h0.8M50.3 425.3h0.8M41.0 402.0h0.8M78.8 400.2h0.8M51.9 413.8h0.8M57.8 431.0h0.8M64.3 397.2h0.8M67.5 418.2h0.8M56.4 418.8h0.8M80.3 412.4h0.8M64.7 427.2h0.8M70.5 399.7h0.8M61.0 424.0h0.8M80.5 424.8h0.8M48.6 415.3h0.8M64.3 390.7h0.8M69.8 421.3h0.8M68.5 428.5h0.8M37.1 411.5h0.8M51.0 425.1h0.8M80.8 399.8h0.8M71.2 412.8h0.8M51.1 415.7h0.8M45.8 400.6h0.8M83.0 424.6h0.8M39.6 407.6h0.8M63.8 423.4h0.8M61.8 422.7h0.8M58.3 402.5h0.8M60.1 392.5h0.8M79.2 422.2h0.8M49.1 400.5h0.8M62.2 431.2h0.8M72.8 391.7h0.8M84.9 415.7h0.8M86.2 410.0h0.8M58.3 427.1h0.8M57.6 424.3h0.8M46.5 413.9h0.8M53.5 409.3h0.8M75.2 405.5h0.8M46.4 400.9h0.8M58.3 430.8h0.8M76.5 401.2h0.8M79.4 421.7h0.8M58.4 399.8h0.8M66.8 395.2h0.8M76.0 400.8h0.8M77.1 419.1h0.8M44.4 398.3h0.8M51.9 421.2h0.8M52.6 404.7h0.8M37.5 417.5h0.8M68.1 425.6h0.8M74.0 430.6h0.8M73.8 432.2h0.8M71.8 393.2h0.8M54.6 411.5h0.8M51.9 396.3h0.8M58.8 410.5h0.8M44.6 415.4h0.8M75.7 414.0h0.8M58.2 405.5h0.8M39.7 407.3h0.8M39.2 411.4h0.8M69.2 410.2h0.8M54.5 400.5h0.8M86.5 414.6h0.8M50.9 419.2h0.8M70.9 432.2h0.8M56.6 415.1h0.8M71.5 417.1h0.8M59.3 407.8h0.8M51.7 426.5h0.8M43.8 412.0h0.8M53.5 405.4h0.8M74.5 399.7h0.8M64.0 418.4h0.8M67.1 417.3h0.8M55.7 429.1h0.8M75.4 420.1h0.8M45.1 417.1h0.8M63.8 414.5h0.8M57.0 402.0h0.8M78.4 413.2h0.8M54.5 397.1h0.8M42.5 409.5h0.8M79.7 410.8h0.8M45.3 428.2h0.8M50.4 412.0h0.8M81.1 406.8h0.8M76.6 400.5h0.8M76.5 403.8h0.8M68.2 408.1h0.8M76.0 417.2h0.8M83.1 425.2h0.8M69.2 431.5h0.8M74.9 408.0h0.8M71.8 407.0h0.8M38.9 421.3h0.8M52.3 422.1h0.8M57.2 403.0h0.8M81.3 426.9h0.8M52.1 406.8h0.8M71.0 423.6h0.8M75.3 413.7h0.8M63.7 394.5h0.8M71.4 401.5h0.8M56.8 400.8h0.8M63.4 434.1h0.8M47.5 428.2h0.8M63.5 407.8h0.8M81.7 407.0h0.8M39.4 413.9h0.8M73.2 417.2h0.8M51.8 431.4h0.8M61.1 426.7h0.8M77.1 397.0h0.8M56.4 423.1h0.8M53.6 412.3h0.8M65.9 425.6h0.8M80.9 422.3h0.8M82.9 423.7h0.8M68.7 399.3h0.8M58.0 405.8h0.8M56.7 417.9h0.8M56.1 401.7h0.8M78.0 398.6h0.8M78.1 413.7h0.8M74.5 397.1h0.8M55.9 408.5h0.8M36.6 411.8h0.8M58.9 403.6h0.8M66.4 432.0h0.8M54.2 423.1h0.8M60.4 432.5h0.8M48.5 407.5h0.8M76.0 397.1h0.8M46.5 405.2h0.8M72.0 406.2h0.8M72.5 398.7h0.8M84.5 417.5h0.8M64.6 414.7h0.8M42.5 426.9h0.8M75.1 409.5h0.8M73.7 408.0h0.8M57.8 399.5h0.8M70.0 414.9h0.8M69.6 415.9h0.8M62.6 433.9h0.8M77.8 403.2h0.8M58.8 428.2h0.8M83.6 418.4h0.8M81.2 412.2h0.8M50.3 425.5h0.8M61.8 413.3h0.8M51.9 418.1h0.8M80.6 411.2h0.8M49.8 425.2h0.8M84.4 423.9h0.8M67.1 429.9h0.8M58.1 427.4h0.8M71.0 429.8h0.8M47.8 417.5h0.8M85.6 421.9h0.8M75.3 410.1h0.8M89.3 416.6h0.8M77.7 405.4h0.8M53.6 407.5h0.8M60.1 426.1h0.8M59.2 409.7h0.8M64.7 431.6h0.8M55.7 420.8h0.8M49.4 415.2h0.8M52.2 428.5h0.8M52.3 427.6h0.8M78.1 416.2h0.8M61.4 392.0h0.8M61.0 432.1h0.8M52.7 420.4h0.8M74.1 400.1h0.8M59.4 395.1h0.8M59.9 404.5h0.8M82.5 427.4h0.8M57.3 421.7h0.8M73.9 404.6h0.8M37.4 417.6h0.8M62.6 405.4h0.8M62.4 403.4h0.8M82.9 418.4h0.8M58.8 418.7h0.8M47.9 405.8h0.8M44.2 406.9h0.8M50.4 425.7h0.8M77.4 424.1h0.8M66.4 413.2h0.8M42.4 424.7h0.8M53.1 412.0h0.8M43.1 414.7h0.8M80.0 400.2h0.8M59.5 391.5h0.8M67.6 409.8h0.8M59.1 416.7h0.8M59.5 389.6h0.8M44.8 426.0h0.8M77.6 421.2h0.8M44.9 413.1h0.8M53.1 432.7h0.8M38.7 407.9h0.8M73.1 429.1h0.8M64.4 429.9h0.8M77.9 400.7h0.8M63.0 405.3h0.8M60.4 409.4h0.8M39.6 412.9h0.8M67.0 407.1h0.8M48.7 393.6h0.8M57.1 403.3h0.8M63.4 399.5h0.8M78.4 411.1h0.8M69.6 432.4h0.8M56.8 416.1h0.8M56.9 402.7h0.8M70.5 415.7h0.8M65.3 423.1h0.8M81.1 408.3h0.8M84.7 407.2h0.8M52.2 419.8h0.8M83.1 403.9h0.8M39.3 423.5h0.8M38.8 417.3h0.8M67.3 430.9h0.8M77.7 408.0h0.8M80.2 409.0h0.8M78.6 406.1h0.8M61.4 408.8h0.8M42.8 403.5h0.8M42.6 426.7h0.8M73.7 413.8h0.8M53.6 432.1h0.8M67.8 430.7h0.8M48.0 407.8h0.8M66.4 427.0h0.8M43.1 428.5h0.8M62.8 390.5h0.8M60.5 406.1h0.8M74.2 431.0h0.8M64.0 420.2h0.8M58.0 424.2h0.8M45.5 415.5h0.8M47.5 404.7h0.8M45.4 404.9h0.8M69.5 412.6h0.8M58.1 415.0h0.8M69.1 410.8h0.8M75.5 399.6h0.8M50.9 422.0h0.8M68.6 400.7h0.8M67.7 433.1h0.8M38.1 420.6h0.8M54.9 395.9h0.8M80.4 399.0h0.8M47.4 413.2h0.8M70.6 394.5h0.8M79.3 415.4h0.8M89.8 421.5h0.8M52.5 427.8h0.8M52.7 400.5h0.8M51.8 412.1h0.8M77.6 413.2h0.8M73.4 430.6h0.8M49.3 409.5h0.8M57.0 422.0h0.8M68.1 404.8h0.8M49.2 431.9h0.8M73.2 392.3h0.8M91.6 420.0h0.8M65.5 392.6h0.8M65.9 397.4h0.8M64.3 398.0h0.8M75.9 407.9h0.8M63.6 392.6h0.8M63.6 414.2h0.8M55.1 420.8h0.8M37.2 411.2h0.8M69.5 420.0h0.8M70.7 416.8h0.8M65.4 432.4h0.8M65.5 415.3h0.8M78.9 425.5h0.8M83.2 407.5h0.8M55.1 404.7h0.8M50.9 415.5h0.8M65.8 404.2h0.8M74.2 409.6h0.8M49.3 428.9h0.8M50.4 410.7h0.8M80.4 404.1h0.8M49.6 418.6h0.8M50.5 428.7h0.8M77.1 419.5h0.8M80.8 413.5h0.8M40.5 423.5h0.8M57.0 405.2h0.8M80.7 424.4h0.8M55.2 424.7h0.8M57.5 402.0h0.8M69.6 422.5h0.8M63.0 426.0h0.8M36.9 411.6h0.8M47.7 428.7h0.8M55.4 431.1h0.8M86.0 421.9h0.8M57.1 394.5h0.8M51.5 431.4h0.8M53.4 397.3h0.8M66.6 414.7h0.8M48.7 392.6h0.8M53.6 423.4h0.8M62.1 416.3h0.8M79.2 407.2h0.8M45.9 422.3h0.8M48.5 425.1h0.8M64.3 418.5h0.8M62.4 397.3h0.8M71.1 405.8h0.8M62.8 417.2h0.8M86.0 415.3h0.8M62.1 404.1h0.8M64.9 433.5h0.8M52.4 396.8h0.8M77.0 399.7h0.8M69.1 396.2h0.8M41.6 420.1h0.8M55.7 414.3h0.8M64.2 430.7h0.8M65.2 406.2h0.8M51.3 415.0h0.8M41.2 411.5h0.8M61.1 392.9h0.8M82.9 425.1h0.8M50.5 429.8h0.8M64.6 408.3h0.8M67.5 431.8h0.8M63.8 410.8h0.8M47.2 398.8h0.8M83.2 425.3h0.8M74.8 425.1h0.8M76.3 425.6h0.8M37.4 412.2h0.8M70.6 430.2h0.8M88.8 418.2h0.8M39.7 419.2h0.8M46.6 420.4h0.8M71.3 394.8h0.8M85.1 423.8h0.8M80.5 428.5h0.8M68.3 431.6h0.8M72.2 411.3h0.8M81.1 399.4h0.8M73.0 424.1h0.8M75.3 412.4h0.8M54.0 401.4h0.8M74.9 431.6h0.8M54.8 430.9h0.8M54.9 401.7h0.8M65.6 411.1h0.8M66.4 410.4h0.8M49.7 403.9h0.8M89.7 417.9h0.8M59.5 407.4h0.8M79.2 414.1h0.8M72.3 431.4h0.8M66.7 434.1h0.8M65.9 397.6h0.8M79.4 418.3h0.8M76.0 409.7h0.8M60.5 393.9h0.8M75.3 408.8h0.8M68.5 422.7h0.8M58.9 418.4h0.8M74.6 416.9h0.8M38.7 421.1h0.8M62.9 389.9h0.8M62.6 393.9h0.8M63.6 415.6h0.8M42.9 402.8h0.8M48.6 428.1h0.8M64.8 407.6h0.8M58.6 429.1h0.8M50.6 424.8h0.8M76.1 409.3h0.8M56.8 408.8h0.8M71.3 407.6h0.8M53.3 424.0h0.8M85.8 409.6h0.8M57.3 429.6h0.8M73.2 419.3h0.8M60.7 418.6h0.8M66.6 433.3h0.8M55.4 421.2h0.8M37.0 407.9h0.8M79.4 400.8h0.8M70.8 399.1h0.8M47.2 430.3h0.8M39.5 415.4h0.8M82.5 426.9h0.8M58.2 415.7h0.8M76.3 423.5h0.8M78.3 415.2h0.8M50.3 420.9h0.8M80.2 403.7h0.8M65.9 411.4h0.8M45.5 417.3h0.8M86.6 419.0h0.8M59.8 395.6h0.8M70.3 409.9h0.8M66.0 433.8h0.8M68.3 432.1h0.8M56.0 423.3h0.8M40.4 402.6h0.8M51.6 405.3h0.8M44.5 403.1h0.8M81.0 422.4h0.8M51.0 411.2h0.8M48.0 420.8h0.8M61.1 425.7h0.8M68.3 416.6h0.8M60.5 426.4h0.8M87.8 419.6h0.8M76.0 398.8h0.8M48.9 405.5h0.8M49.0 421.5h0.8M56.0 433.5h0.8M46.1 401.4h0.8M73.8 420.5h0.8M54.3 410.2h0.8M56.2 405.3h0.8M51.3 394.2h0.8M83.9 410.3h0.8M86.2 423.1h0.8M71.3 418.8h0.8M75.2 411.7h0.8M59.4 406.7h0.8M64.6 410.2h0.8M66.0 413.1h0.8M81.1 417.1h0.8M74.7 420.3h0.8M78.2 409.6h0.8M58.6 414.0h0.8M84.8 412.4h0.8M44.5 406.7h0.8M72.2 394.1h0.8M67.9 431.5h0.8M69.5 415.4h0.8M45.9 410.0h0.8M87.0 419.5h0.8M48.3 409.3h0.8M66.8 404.3h0.8M68.7 417.6h0.8M73.2 398.8h0.8M40.2 423.5h0.8M55.0 432.3h0.8M67.7 393.7h0.8M72.1 400.9h0.8M82.1 421.8h0.8M44.0 398.2h0.8M62.9 432.3h0.8M54.3 400.8h0.8M67.9 406.4h0.8M76.5 397.5h0.8M64.1 432.8h0.8M49.7 401.7h0.8M87.9 419.5h0.8M83.8 420.7h0.8M71.6 406.4h0.8M76.6 411.4h0.8M39.4 411.3h0.8M57.8 413.0h0.8M54.7 395.8h0.8M69.6 430.4h0.8M46.8 421.8h0.8M62.5 427.2h0.8M71.1 422.7h0.8M44.4 396.4h0.8M83.9 416.2h0.8M42.5 402.0h0.8M44.6 414.7h0.8M70.9 397.8h0.8M86.3 415.6h0.8M57.1 421.0h0.8M52.2 402.3h0.8M78.5 424.5h0.8M75.6 430.8h0.8M46.6 406.8h0.8M84.3 423.6h0.8M77.9 428.2h0.8M56.6 416.4h0.8M68.7 429.2h0.8M73.2 432.4h0.8M44.2 407.3h0.8M71.6 401.7h0.8M75.3 397.7h0.8M67.6 404.4h0.8M72.1 392.0h0.8M76.6 399.6h0.8M63.3 421.7h0.8M58.6 403.2h0.8M74.8 396.0h0.8M59.5 397.4h0.8M77.4 414.9h0.8M82.7 419.9h0.8M67.1 427.7h0.8M70.2 426.3h0.8M74.0 422.0h0.8M86.0 414.1h0.8M69.0 428.0h0.8M71.9 410.2h0.8M64.9 412.1h0.8M70.4 419.9h0.8M52.5 409.7h0.8M64.7 425.4h0.8M58.4 430.6h0.8M63.4 407.0h0.8M63.2 405.2h0.8M74.4 395.9h0.8M70.1 423.5h0.8M61.2 402.4h0.8M56.9 429.2h0.8M86.1 410.9h0.8M86.4 422.9h0.8M39.7 419.5h0.8M48.2 409.2h0.8M44.2 424.3h0.8M70.2 410.3h0.8M47.9 418.1h0.8M89.7 417.0h0.8M38.4 411.8h0.8M44.0 413.7h0.8M50.2 414.0h0.8M54.0 396.7h0.8M55.1 408.1h0.8M75.5 421.9h0.8M62.3 394.4h0.8M82.8 411.5h0.8M72.5 405.5h0.8M56.9 397.0h0.8M43.4 420.8h0.8M69.9 416.8h0.8M79.6 416.5h0.8M59.1 418.3h0.8M57.3 407.6h0.8M56.8 418.3h0.8M74.3 427.1h0.8M57.9 418.1h0.8M41.8 425.1h0.8M44.1 417.9h0.8M50.5 423.3h0.8M48.9 428.7h0.8M56.0 410.5h0.8M47.5 402.2h0.8M60.1 401.6h0.8M80.9 416.3h0.8M37.0 409.5h0.8M38.1 408.1h0.8M56.1 432.9h0.8M56.4 430.7h0.8M43.2 425.5h0.8M59.3 396.1h0.8M78.9 418.2h0.8M62.8 424.2h0.8M73.9 396.2h0.8M66.0 407.7h0.8M65.2 421.3h0.8M75.0 414.8h0.8M80.7 426.3h0.8M68.0 401.7h0.8M80.1 404.1h0.8M83.9 425.3h0.8M79.5 415.7h0.8M73.8 407.7h0.8M62.2 400.7h0.8M74.3 393.9h0.8M66.2 415.3h0.8M83.3 406.2h0.8M78.8 426.0h0.8M49.2 429.7h0.8M43.3 405.0h0.8M49.7 418.3h0.8M76.8 424.1h0.8M60.8 409.7h0.8M62.5 405.8h0.8M76.3 403.8h0.8M68.1 395.6h0.8M56.4 390.6h0.8M40.6 408.3h0.8M56.9 403.1h0.8M83.5 406.3h0.8M49.1 421.8h0.8M46.8 403.3h0.8M79.5 422.3h0.8M53.2 409.5h0.8M56.2 410.4h0.8M70.1 432.4h0.8M53.2 409.0h0.8M83.5 419.8h0.8M47.6 429.6h0.8M52.6 408.0h0.8M89.4 415.9h0.8M50.0 422.1h0.8M55.3 399.4h0.8M59.4 413.7h0.8M58.7 414.6h0.8M74.2 404.2h0.8M63.9 406.1h0.8M51.4 391.4h0.8M63.3 390.0h0.8M61.2 412.8h0.8M80.5 414.2h0.8M78.5 411.8h0.8M80.9 426.8h0.8M86.6 421.8h0.8M74.2 409.9h0.8M66.2 415.2h0.8M65.8 426.0h0.8M78.6 416.9h0.8M69.9 430.1h0.8M38.9 410.5h0.8M45.4 414.5h0.8M63.7 422.3h0.8M53.4 428.9h0.8M77.5 428.7h0.8M80.0 401.5h0.8M40.7 421.1h0.8M38.0 410.7h0.8M55.2 393.8h0.8M51.5 419.4h0.8M42.3 404.1h0.8M59.3 410.4h0.8M60.7 416.0h0.8M70.4 404.9h0.8M47.9 422.1h0.8M51.0 393.7h0.8M78.3 423.7h0.8M64.9 401.3h0.8M54.4 417.9h0.8M48.0 399.3h0.8M77.4 426.8h0.8M39.6 422.1h0.8M63.7 429.4h0.8M75.3 405.7h0.8M72.2 392.2h0.8M87.0 421.7h0.8M81.4 409.9h0.8M47.7 409.4h0.8M74.6 413.8h0.8M58.6 400.1h0.8M48.9 399.1h0.8M87.7 419.6h0.8M70.5 422.1h0.8M70.8 405.1h0.8M55.3 392.3h0.8M74.6 430.2h0.8M73.8 416.4h0.8M62.1 389.8h0.8M70.8 417.9h0.8M84.9 416.7h0.8M83.0 417.3h0.8M84.3 423.9h0.8M55.9 433.9h0.8M75.1 393.5h0.8M53.4 406.9h0.8M43.1 416.1h0.8M60.0 425.3h0.8M55.3 433.2h0.8M47.2 413.0h0.8M53.1 429.5h0.8M65.7 401.1h0.8M66.3 392.1h0.8M82.2 423.8h0.8M85.1 422.5h0.8M78.4 427.0h0.8M71.4 416.4h0.8M64.9 401.2h0.8M50.8 398.9h0.8M53.2 416.5h0.8M50.4 426.3h0.8M41.2 415.3h0.8M76.6 412.9h0.8M74.4 394.4h0.8M76.8 420.7h0.8M54.7 423.9h0.8M65.8 401.5h0.8M56.8 397.7h0.8M69.4 391.9h0.8M70.7 417.2h0.8M64.0 408.0h0.8M56.9 432.0h0.8M53.8 426.4h0.8M37.8 416.6h0.8M74.9 426.7h0.8M77.2 400.1h0.8M66.7 391.4h0.8M39.9 402.4h0.8M56.1 392.8h0.8M56.2 398.3h0.8M60.6 416.9h0.8M73.3 393.5h0.8M66.3 391.6h0.8M50.9 426.2h0.8M67.4 413.3h0.8M75.3 399.2h0.8M52.0 414.1h0.8M59.6 391.4h0.8M45.7 421.8h0.8M40.8 425.3h0.8M70.3 410.6h0.8M42.6 418.1h0.8M74.6 425.6h0.8M63.7 430.2h0.8M55.6 391.6h0.8M60.5 428.2h0.8M51.4 416.9h0.8M39.7 419.6h0.8M39.8 409.9h0.8M40.6 407.9h0.8M82.3 422.4h0.8M84.3 409.7h0.8M61.0 391.6h0.8M80.7 414.8h0.8M59.1 395.6h0.8M60.1 395.3h0.8M50.8 391.2h0.8M67.7 407.6h0.8M37.0 415.1h0.8M50.0 416.8h0.8M51.9 416.5h0.8M52.5 423.4h0.8M50.7 428.3h0.8M74.4 429.3h0.8M55.6 432.1h0.8M69.0 400.7h0.8M72.6 403.1h0.8M70.6 400.0h0.8M41.8 424.1h0.8M44.1 423.1h0.8M70.2 431.3h0.8M71.3 415.4h0.8M72.4 428.1h0.8M76.8 399.3h0.8M37.7 405.6h0.8M60.6 427.3h0.8M70.3 414.0h0.8M74.4 414.3h0.8M67.3 399.7h0.8M43.1 408.9h0.8M52.7 415.0h0.8M65.4 409.6h0.8M46.2 424.7h0.8M51.8 398.3h0.8M72.4 416.2h0.8M70.7 402.4h0.8M62.3 420.2h0.8M69.2 433.1h0.8M70.9 413.9h0.8M79.5 402.1h0.8M57.1 408.6h0.8M77.6 421.5h0.8M57.8 393.0h0.8M37.1 415.8h0.8M76.7 416.9h0.8M80.3 408.8h0.8M78.0 416.3h0.8M71.9 413.8h0.8M73.8 414.4h0.8M41.2 419.5h0.8M56.3 396.6h0.8M76.3 396.8h0.8M65.3 434.1h0.8M72.1 409.8h0.8M61.0 428.3h0.8M42.5 413.4h0.8M62.7 414.0h0.8M80.9 416.1h0.8M54.4 432.2h0.8M69.9 401.3h0.8M67.0 428.2h0.8M38.7 418.3h0.8M63.6 402.1h0.8M45.1 399.6h0.8M60.8 408.1h0.8M81.1 425.4h0.8M67.0 404.2h0.8M50.5 421.2h0.8M60.8 419.9h0.8M50.6 427.9h0.8M51.0 428.3h0.8M68.7 412.7h0.8M67.1 414.4h0.8M82.3 401.5h0.8M64.1 427.2h0.8M90.8 418.3h0.8M84.4 415.7h0.8M87.5 419.5h0.8M63.2 394.1h0.8M81.6 401.4h0.8M69.3 393.2h0.8M49.7 397.6h0.8M69.2 423.0h0.8M64.9 397.1h0.8M40.9 418.2h0.8M47.2 401.0h0.8M79.4 409.2h0.8M44.4 419.7h0.8M61.2 413.4h0.8M80.5 400.3h0.8M46.5 414.4h0.8M52.1 431.6h0.8M60.6 425.9h0.8M73.3 430.7h0.8M75.0 403.4h0.8M65.8 405.2h0.8M58.2 424.0h0.8M36.5 410.8h0.8M58.9 400.3h0.8M74.7 408.3h0.8M80.4 414.0h0.8M50.4 402.5h0.8M77.8 396.1h0.8M71.7 394.4h0.8M48.6 394.8h0.8M79.4 399.7h0.8M64.8 425.2h0.8M70.2 412.8h0.8M46.7 412.8h0.8M69.8 409.9h0.8M72.0 414.5h0.8M72.6 407.6h0.8M82.9 423.9h0.8M75.1 414.0h0.8M50.1 393.7h0.8M73.4 400.3h0.8M70.7 413.9h0.8M70.4 408.5h0.8M49.6 402.8h0.8M54.1 403.2h0.8M61.4 408.5h0.8M71.8 423.2h0.8M79.5 425.6h0.8M61.4 409.2h0.8M72.9 403.3h0.8M83.0 407.9h0.8M67.6 412.5h0.8M80.8 401.7h0.8M40.0 402.6h0.8M89.1 419.5h0.8M82.6 426.7h0.8M46.2 411.9h0.8M41.4 406.2h0.8M64.1 426.0h0.8M52.4 419.2h0.8M69.2 421.3h0.8M76.9 414.7h0.8M52.6 414.0h0.8M70.0 432.2h0.8M47.7 423.5h0.8M71.6 427.6h0.8M67.2 400.6h0.8M62.7 410.1h0.8M44.5 400.5h0.8M65.8 422.4h0.8M58.8 429.8h0.8M52.3 429.6h0.8M55.8 427.2h0.8M49.9 432.0h0.8M77.4 396.1h0.8M45.2 407.1h0.8M41.4 425.0h0.8M56.1 421.2h0.8M60.3 433.1h0.8M85.8 420.9h0.8M60.0 411.0h0.8M83.7 417.6h0.8M49.4 416.9h0.8M59.5 432.2h0.8M61.5 401.4h0.8M55.8 400.1h0.8M66.3 419.3h0.8M54.7 421.7h0.8M74.2 393.3h0.8M53.3 397.3h0.8M52.3 394.3h0.8M78.9 396.3h0.8M80.5 411.9h0.8M65.7 406.0h0.8M58.1 426.4h0.8M42.1 408.6h0.8M66.9 422.1h0.8M70.1 410.6h0.8M45.8 418.1h0.8M42.5 423.5h0.8M80.3 412.6h0.8M52.5 406.8h0.8M85.7 413.6h0.8M74.6 393.8h0.8M60.8 416.7h0.8M59.2 418.5h0.8M55.5 418.6h0.8M47.9 411.2h0.8M60.3 412.8h0.8M70.5 422.2h0.8M58.0 406.9h0.8M62.6 401.3h0.8M67.6 422.1h0.8M84.8 412.0h0.8M70.9 411.2h0.8M81.0 412.4h0.8M38.3 416.8h0.8M83.0 418.5h0.8M46.4 412.0h0.8M72.6 419.2h0.8M50.3 432.0h0.8M88.5 418.4h0.8M62.4 422.8h0.8M78.4 416.2h0.8M42.7 422.7h0.8M46.0 425.1h0.8M71.2 417.8h0.8M40.3 405.6h0.8M84.3 417.5h0.8M49.1 392.8h0.8M45.8 403.5h0.8M79.2 401.2h0.8M68.1 392.9h0.8M77.9 418.4h0.8M72.1 424.6h0.8M69.3 431.5h0.8M51.4 429.5h0.8M71.1 432.4h0.8M67.6 421.8h0.8M79.0 396.7h0.8M73.8 408.9h0.8M48.3 401.5h0.8M56.6 422.2h0.8M67.3 403.6h0.8M78.7 426.8h0.8M52.0 410.0h0.8M61.6 391.4h0.8M37.7 416.4h0.8M70.2 413.6h0.8M40.1 414.4h0.8M65.6 402.8h0.8M63.4 405.6h0.8M69.2 419.5h0.8M51.7 416.5h0.8M50.7 422.7h0.8M77.7 425.2h0.8M66.1 430.2h0.8M56.4 401.1h0.8M72.9 406.6h0.8M66.1 404.5h0.8M54.2 391.5h0.8M55.2 419.7h0.8M41.0 424.7h0.8M80.0 412.0h0.8M80.3 417.7h0.8M68.1 396.8h0.8M48.5 415.9h0.8M70.0 426.0h0.8M56.0 431.1h0.8M71.2 398.0h0.8M65.2 392.2h0.8M66.5 398.7h0.8M69.1 403.2h0.8M83.6 409.3h0.8M59.3 392.4h0.8M46.7 397.1h0.8M37.7 420.4h0.8M53.6 416.2h0.8M70.9 417.3h0.8M49.6 392.9h0.8M64.3 425.3h0.8M56.1 423.1h0.8M42.5 421.5h0.8M50.3 411.5h0.8M81.8 416.1h0.8M75.2 422.5h0.8M75.1 430.5h0.8M69.7 418.9h0.8M47.9 417.0h0.8M58.5 419.8h0.8M62.6 394.1h0.8M41.3 416.9h0.8M70.8 416.7h0.8M60.7 425.8h0.8M73.8 425.4h0.8M48.1 399.6h0.8M86.4 421.7h0.8M69.3 429.4h0.8M70.8 423.1h0.8M71.5 422.5h0.8M45.9 400.8h0.8M68.3 403.7h0.8M74.8 425.8h0.8M66.3 425.7h0.8M79.9 422.3h0.8M40.7 418.0h0.8M80.7 414.5h0.8M47.4 415.5h0.8M59.5 404.1h0.8M72.6 432.1h0.8M71.9 430.6h0.8M56.7 427.3h0.8M69.9 416.8h0.8M43.9 408.8h0.8M40.9 414.4h0.8M48.8 420.6h0.8M51.3 412.6h0.8M39.3 423.9h0.8M76.6 394.4h0.8M66.1 393.3h0.8M66.9 418.6h0.8M48.1 397.8h0.8M59.9 426.8h0.8M60.8 425.8h0.8M62.7 415.3h0.8M50.5 407.6h0.8M52.5 404.3h0.8M47.3 415.1h0.8M51.0 397.3h0.8M83.2 420.1h0.8M64.8 426.7h0.8M55.1 408.4h0.8M43.3 428.5h0.8M46.0 427.4h0.8M42.5 408.9h0.8M48.6 400.2h0.8M92.3 421.3h0.8M72.0 399.3h0.8M38.9 413.7h0.8M63.6 428.0h0.8M81.1 422.5h0.8M79.7 413.4h0.8M63.7 412.8h0.8M58.4 427.5h0.8M46.0 404.9h0.8M54.2 391.2h0.8M63.2 391.9h0.8M51.0 423.9h0.8M67.6 422.7h0.8M59.1 433.8h0.8M43.4 428.9h0.8M80.8 421.6h0.8M68.1 406.6h0.8M76.0 398.9h0.8M80.2 421.3h0.8M54.9 408.9h0.8M76.9 421.0h0.8M62.3 432.1h0.8M71.8 429.0h0.8M47.1 407.5h0.8M59.1 411.2h0.8M57.2 400.1h0.8M40.7 413.3h0.8M55.1 431.9h0.8M71.9 408.5h0.8M59.3 430.0h0.8M54.8 408.6h0.8M76.5 404.6h0.8M70.6 410.0h0.8M38.2 413.4h0.8M49.2 393.7h0.8M40.3 417.3h0.8M85.9 423.9h0.8M69.4 428.5h0.8M57.6 433.0h0.8M89.4 418.0h0.8M71.7 404.5h0.8M49.1 417.6h0.8M73.1 417.5h0.8M47.7 393.6h0.8M57.0 430.3h0.8M62.5 425.1h0.8M46.4 405.1h0.8M81.2 402.3h0.8M77.4 416.1h0.8M56.4 433.5h0.8M57.3 401.7h0.8M75.4 410.9h0.8M71.3 406.7h0.8M48.9 420.4h0.8M64.7 433.7h0.8M80.2 419.3h0.8M78.0 398.4h0.8M64.9 389.9h0.8M55.6 410.5h0.8M79.2 424.6h0.8M75.8 408.2h0.8M68.5 431.0h0.8M61.4 428.4h0.8M76.2 410.9h0.8M54.2 402.8h0.8M48.4 418.8h0.8M81.1 418.4h0.8M80.9 422.4h0.8M66.1 422.5h0.8M82.3 412.6h0.8M74.5 427.6h0.8M84.2 423.2h0.8M45.4 396.1h0.8M73.3 417.2h0.8M45.1 430.0h0.8M48.3 426.7h0.8M54.3 415.8h0.8M59.5 392.0h0.8M57.9 427.3h0.8M78.0 405.2h0.8M79.4 418.8h0.8M40.1 410.3h0.8M67.5 420.2h0.8M58.8 412.5h0.8M82.8 419.8h0.8M51.4 432.0h0.8M58.0 428.8h0.8M90.6 420.6h0.8M64.4 417.8h0.8M74.8 417.5h0.8M46.2 414.7h0.8M79.8 398.4h0.8M61.5 432.6h0.8M80.3 427.8h0.8M64.5 394.8h0.8M57.1 392.9h0.8M63.2 433.2h0.8M66.2 396.6h0.8M46.2 419.8h0.8M65.2 407.6h0.8M74.4 415.8h0.8M38.8 411.5h0.8M50.2 415.4h0.8M62.3 423.4h0.8M47.2 406.2h0.8M69.1 401.0h0.8M84.9 413.7h0.8M68.6 418.3h0.8M61.0 405.8h0.8M78.5 414.1h0.8M51.3 430.7h0.8M66.5 430.2h0.8M52.5 396.5h0.8M61.1 426.7h0.8M81.3 413.6h0.8M69.5 407.9h0.8M46.2 429.8h0.8M74.4 405.3h0.8M78.2 408.1h0.8M75.3 411.9h0.8M86.4 410.8h0.8M58.0 421.3h0.8M64.9 401.7h0.8M72.7 396.6h0.8M52.9 400.5h0.8M84.9 418.0h0.8M72.6 423.4h0.8M58.2 408.4h0.8M55.7 397.2h0.8M70.5 413.3h0.8M70.9 424.2h0.8M82.9 410.3h0.8M72.2 394.2h0.8M40.7 409.5h0.8M63.9 410.2h0.8M50.3 417.7h0.8M61.1 415.2h0.8M42.1 420.6h0.8M54.5 432.0h0.8M57.7 402.8h0.8M46.4 412.5h0.8M68.7 415.0h0.8M77.9 409.5h0.8M48.1 431.6h0.8M42.8 402.8h0.8M59.7 407.7h0.8M48.0 427.9h0.8M53.2 413.8h0.8M70.5 395.0h0.8M60.5 395.1h0.8M66.7 422.0h0.8M42.5 409.8h0.8M58.1 420.5h0.8M83.4 411.4h0.8M59.4 421.1h0.8M65.3 394.2h0.8M64.3 402.7h0.8M64.7 406.4h0.8M67.2 408.7h0.8M79.0 418.8h0.8M60.1 411.8h0.8M50.9 402.4h0.8M57.7 433.8h0.8M77.8 422.4h0.8M56.1 428.9h0.8M68.4 413.1h0.8M80.8 403.0h0.8M87.0 417.6h0.8M75.1 415.0h0.8M48.1 414.5h0.8M50.5 423.9h0.8M75.9 428.7h0.8M70.1 428.8h0.8M59.1 414.7h0.8M78.3 410.1h0.8M64.8 402.7h0.8M53.1 433.3h0.8M65.5 408.4h0.8M69.9 401.9h0.8M86.2 413.7h0.8M66.9 408.7h0.8M66.3 405.5h0.8M40.4 405.6h0.8M37.6 419.0h0.8M54.0 401.3h0.8M67.2 402.3h0.8M77.0 402.8h0.8M72.4 405.4h0.8M66.6 418.4h0.8M68.3 414.7h0.8M85.5 410.8h0.8M59.2 407.4h0.8M66.1 424.2h0.8M70.3 412.5h0.8M73.3 400.9h0.8M54.3 430.7h0.8M47.9 422.1h0.8M66.0 397.6h0.8M84.6 413.3h0.8M86.2 421.5h0.8M51.0 418.4h0.8M79.2 414.3h0.8M77.4 394.7h0.8M57.4 431.1h0.8M59.2 396.0h0.8M72.8 404.9h0.8M80.7 405.6h0.8M70.7 391.8h0.8M44.7 427.2h0.8M70.2 422.8h0.8M77.9 407.2h0.8M73.1 408.5h0.8M80.4 402.3h0.8M57.7 392.8h0.8M37.1 408.2h0.8M41.5 426.5h0.8M56.3 400.2h0.8M74.5 421.6h0.8M79.6 404.6h0.8M59.4 430.3h0.8M55.9 421.6h0.8M73.0 406.3h0.8M84.1 421.6h0.8M74.0 428.1h0.8M59.2 422.5h0.8M79.6 410.9h0.8M42.9 412.7h0.8M62.2 426.7h0.8M55.9 405.5h0.8M75.6 415.0h0.8M52.4 396.1h0.8M59.9 429.2h0.8M75.4 420.1h0.8M44.3 427.1h0.8M58.9 430.5h0.8M71.4 399.3h0.8M39.7 410.4h0.8M67.3 410.2h0.8M68.9 391.9h0.8M56.4 426.5h0.8M52.4 397.6h0.8M74.5 394.4h0.8M77.9 405.2h0.8M38.2 418.8h0.8M50.5 429.1h0.8M60.8 391.2h0.8M79.9 423.9h0.8M48.0 405.9h0.8M66.4 395.1h0.8M53.8 402.3h0.8M62.2 431.5h0.8M77.7 408.5h0.8M46.7 417.8h0.8M79.6 421.8h0.8M64.7 421.7h0.8M54.9 431.9h0.8M77.9 425.2h0.8M61.2 432.0h0.8M54.0 412.4h0.8M67.8 413.9h0.8M46.4 420.9h0.8M65.8 407.3h0.8M41.0 406.0h0.8M56.8 407.7h0.8M49.3 409.4h0.8M56.6 411.0h0.8M46.1 422.7h0.8M88.8 417.4h0.8M66.5 412.6h0.8M40.4 409.5h0.8M82.3 419.5h0.8M76.3 429.0h0.8M63.2 424.5h0.8M46.3 411.7h0.8M88.5 414.7h0.8M72.1 421.2h0.8M74.7 425.2h0.8M83.7 408.7h0.8M43.7 401.4h0.8M81.0 406.3h0.8M67.9 419.9h0.8M74.0 396.6h0.8M64.4 390.6h0.8M77.9 418.5h0.8M68.3 395.1h0.8M51.9 419.1h0.8M36.4 412.8h0.8M68.6 397.6h0.8M83.3 417.9h0.8M51.3 431.0h0.8M54.4 398.5h0.8M48.0 419.9h0.8M79.1 414.4h0.8M81.3 417.4h0.8M62.3 433.7h0.8M62.3 422.5h0.8M71.7 400.8h0.8M72.6 421.5h0.8M51.4 423.9h0.8M84.7 409.8h0.8M68.0 418.6h0.8M46.4 412.8h0.8M72.1 427.7h0.8M51.2 396.7h0.8M73.4 414.6h0.8M71.6 393.1h0.8M65.6 401.3h0.8M51.9 392.5h0.8M75.1 418.7h0.8M51.6 399.5h0.8M75.5 400.2h0.8M89.3 421.5h0.8M60.8 390.2h0.8M48.0 424.4h0.8M55.4 432.7h0.8M45.4 407.9h0.8M66.2 391.2h0.8M54.2 403.6h0.8M53.0 403.9h0.8M54.0 420.3h0.8M53.0 401.3h0.8M67.2 392.2h0.8M83.3 423.5h0.8M83.3 410.6h0.8M48.1 397.2h0.8M73.7 432.4h0.8M57.2 424.8h0.8M39.4 417.2h0.8M44.5 426.3h0.8M79.8 418.4h0.8M83.0 421.4h0.8M38.5 415.9h0.8M55.8 401.2h0.8M75.5 396.5h0.8M53.9 424.5h0.8M48.5 425.3h0.8M79.4 417.5h0.8M49.6 419.2h0.8M78.9 428.3h0.8M43.8 398.3h0.8M39.6 420.4h0.8M56.3 420.6h0.8M51.5 408.9h0.8M69.4 432.0h0.8M46.9 424.4h0.8M78.8 397.4h0.8M58.7 414.3h0.8M73.2 421.6h0.8M58.2 406.3h0.8M46.1 417.3h0.8M54.8 424.6h0.8M82.6 405.2h0.8M36.6 414.3h0.8M61.8 414.0h0.8M62.0 410.3h0.8M44.6 399.9h0.8M66.8 400.7h0.8M51.3 394.1h0.8M60.9 409.5h0.8M75.9 414.8h0.8M52.7 401.5h0.8M63.3 408.0h0.8M72.7 432.6h0.8M69.6 398.0h0.8M70.6 411.4h0.8M52.1 425.4h0.8M51.0 402.9h0.8M51.1 405.1h0.8M64.9 403.0h0.8M65.2 390.2h0.8M58.0 394.3h0.8M63.1 413.0h0.8M52.8 427.3h0.8M42.8 406.2h0.8M46.6 426.8h0.8M75.5 413.7h0.8M61.2 425.4h0.8M62.8 431.8h0.8M58.7 405.7h0.8M54.0 419.1h0.8M73.7 417.1h0.8M65.5 419.4h0.8M75.3 422.0h0.8M47.2 397.6h0.8M48.4 413.2h0.8M80.1 428.0h0.8M58.7 418.9h0.8M70.6 433.2h0.8M75.0 405.3h0.8M84.9 413.2h0.8M66.6 399.0h0.8M67.3 400.2h0.8M49.3 425.4h0.8M63.3 414.5h0.8M73.2 422.6h0.8M44.7 399.6h0.8M82.0 424.6h0.8M64.4 413.9h0.8M78.3 415.7h0.8M40.5 409.8h0.8M54.3 415.3h0.8M73.3 402.9h0.8M86.4 414.2h0.8M57.6 390.2h0.8M60.1 407.8h0.8M65.5 402.0h0.8M67.1 415.8h0.8M45.3 420.9h0.8M86.2 420.1h0.8M73.6 413.6h0.8M62.7 417.5h0.8M40.0 414.5h0.8M72.1 416.0h0.8M70.1 404.3h0.8M76.2 426.8h0.8M82.1 421.1h0.8M64.8 392.6h0.8M62.8 423.2h0.8M56.4 411.0h0.8M51.1 395.0h0.8M68.7 394.7h0.8M44.4 402.2h0.8M62.9 402.7h0.8M54.8 397.0h0.8M75.6 395.0h0.8M86.9 418.2h0.8M82.6 423.9h0.8M45.7 403.3h0.8M45.8 425.7h0.8M47.3 413.0h0.8M49.5 406.4h0.8M37.5 419.3h0.8M41.8 420.5h0.8M48.4 414.1h0.8M38.0 414.6h0.8M55.4 430.1h0.8M63.8 411.0h0.8M52.5 396.7h0.8M64.3 390.4h0.8M57.4 400.7h0.8M76.2 407.8h0.8M70.5 415.7h0.8M76.3 431.1h0.8M67.8 420.4h0.8M83.2 412.9h0.8M38.3 422.6h0.8M64.4 431.8h0.8M79.6 409.1h0.8M60.5 422.3h0.8M75.8 414.4h0.8M67.3 398.7h0.8M48.5 398.3h0.8M74.1 422.8h0.8M72.3 421.3h0.8M81.0 428.4h0.8M82.3 427.1h0.8M55.8 424.7h0.8M59.4 420.5h0.8M55.7 399.9h0.8M76.8 399.1h0.8M78.1 416.4h0.8M68.5 412.8h0.8M59.3 389.8h0.8M66.5 419.0h0.8M72.7 396.3h0.8M84.6 407.8h0.8M38.9 419.6h0.8M54.5 415.8h0.8M77.6 399.4h0.8M42.5 418.4h0.8M85.9 421.3h0.8M69.0 413.1h0.8M64.0 416.0h0.8M61.2 406.2h0.8M79.2 418.3h0.8M64.5 411.5h0.8M55.2 416.2h0.8M72.1 420.3h0.8M64.0 409.4h0.8M42.4 411.5h0.8M71.7 392.6h0.8M68.8 420.3h0.8M55.8 413.4h0.8M58.5 396.0h0.8M50.5 431.6h0.8M72.1 413.5h0.8M81.6 426.8h0.8M78.8 407.2h0.8M66.6 403.6h0.8M40.6 405.9h0.8M44.6 409.3h0.8M72.0 424.9h0.8M55.8 390.2h0.8M38.0 416.3h0.8M76.6 398.5h0.8M54.2 402.8h0.8M59.1 392.8h0.8M62.5 415.3h0.8M78.7 400.2h0.8M68.2 400.4h0.8M80.7 409.3h0.8M65.1 418.9h0.8M50.5 397.6h0.8M59.1 423.0h0.8M77.5 409.8h0.8M70.4 400.6h0.8M89.7 418.0h0.8M68.8 421.1h0.8M66.2 423.4h0.8M51.5 424.5h0.8M46.7 413.6h0.8M73.3 420.1h0.8M70.1 396.0h0.8M66.8 401.8h0.8M36.4 412.0h0.8M38.2 413.9h0.8M52.9 429.9h0.8M73.9 431.2h0.8M84.0 415.4h0.8M62.5 413.0h0.8M54.1 427.6h0.8M55.3 408.9h0.8M70.5 391.6h0.8M80.6 422.9h0.8M46.6 414.7h0.8M80.6 398.6h0.8M61.1 393.2h0.8M84.7 408.7h0.8M40.8 425.9h0.8M69.0 392.8h0.8M49.2 417.7h0.8M52.5 405.3h0.8M41.0 427.3h0.8M40.9 426.5h0.8M54.9 422.6h0.8M49.1 423.2h0.8M80.7 424.9h0.8M74.3 415.3h0.8M63.5 423.7h0.8M46.4 406.0h0.8M40.6 405.6h0.8M65.2 430.4h0.8M69.5 432.1h0.8M44.7 428.9h0.8M69.8 429.6h0.8M65.3 413.9h0.8M61.4 404.2h0.8M58.2 399.1h0.8M42.9 400.5h0.8M83.9 407.7h0.8M48.1 423.9h0.8M57.4 405.7h0.8M60.7 415.7h0.8M84.8 417.6h0.8M54.1 428.0h0.8M52.6 409.2h0.8M80.4 427.5h0.8M65.1 414.4h0.8M66.6 410.2h0.8M80.1 400.4h0.8M56.2 410.3h0.8M51.2 412.2h0.8M63.7 404.9h0.8M83.8 406.3h0.8M79.4 412.1h0.8M52.7 416.1h0.8M55.1 419.3h0.8M81.1 425.3h0.8M51.3 419.2h0.8M72.0 429.4h0.8M39.8 404.8h0.8M79.9 419.9h0.8M59.9 418.3h0.8M50.9 395.3h0.8M67.4 396.5h0.8M46.4 398.3h0.8M73.9 411.8h0.8M78.9 407.8h0.8M62.9 410.3h0.8M69.5 420.3h0.8M82.6 407.6h0.8M70.4 394.5h0.8M48.0 402.7h0.8M75.0 422.6h0.8M66.8 395.8h0.8M56.1 391.8h0.8M58.0 420.0h0.8M67.3 403.7h0.8M79.6 397.1h0.8M73.9 411.8h0.8M59.4 415.3h0.8M52.0 427.0h0.8M47.2 395.6h0.8M42.8 403.9h0.8M46.3 407.0h0.8M67.1 396.2h0.8M53.0 390.8h0.8M62.8 408.7h0.8M67.4 426.7h0.8M59.3 430.6h0.8M41.5 406.9h0.8M73.2 398.3h0.8M68.1 424.2h0.8M53.8 420.8h0.8M77.5 424.1h0.8M54.1 404.4h0.8M69.1 409.3h0.8M48.1 394.8h0.8M61.4 423.7h0.8M52.1 392.7h0.8M49.2 420.9h0.8M55.8 431.7h0.8M44.9 402.8h0.8M64.0 404.2h0.8M64.7 422.9h0.8M57.0 433.5h0.8M71.2 405.4h0.8M77.1 428.7h0.8M80.2 402.7h0.8M57.8 432.4h0.8M54.9 421.6h0.8M45.7 423.2h0.8M80.1 404.7h0.8M65.4 433.2h0.8M65.8 428.6h0.8M58.8 418.3h0.8M63.5 421.1h0.8M77.6 421.5h0.8M79.0 398.7h0.8M73.0 424.9h0.8M78.3 397.1h0.8M50.0 416.3h0.8M53.8 414.2h0.8M80.5 427.8h0.8M66.5 412.4h0.8M54.3 424.8h0.8M80.1 421.1h0.8M75.5 395.8h0.8M63.1 396.8h0.8M51.0 396.2h0.8M59.4 404.4h0.8M44.0 397.1h0.8M52.9 391.1h0.8M47.1 396.6h0.8M73.0 410.9h0.8M76.0 408.8h0.8M83.7 416.1h0.8M51.4 408.1h0.8M49.2 430.4h0.8M38.8 407.2h0.8M41.9 419.4h0.8M43.6 401.6h0.8M53.8 392.4h0.8M87.1 420.0h0.8M88.6 415.8h0.8M67.0 409.2h0.8M67.1 404.0h0.8M87.4 416.4h0.8M47.7 414.3h0.8M78.8 406.1h0.8M60.7 392.6h0.8M73.8 408.1h0.8M42.7 427.7h0.8M66.0 400.3h0.8M88.7 415.7h0.8M60.5 426.6h0.8M79.9 421.2h0.8M81.0 399.9h0.8M49.4 417.3h0.8M71.0 416.9h0.8M53.6 394.5h0.8M75.0 417.1h0.8M63.4 413.4h0.8M45.0 412.0h0.8M78.1 409.2h0.8M87.8 419.6h0.8M51.6 408.5h0.8M47.8 417.6h0.8M58.0 409.9h0.8M55.8 394.9h0.8M70.8 417.2h0.8M67.1 426.5h0.8M69.9 431.4h0.8M67.9 412.4h0.8M47.7 403.6h0.8M56.7 401.1h0.8M51.6 397.4h0.8M42.0 414.2h0.8M60.7 425.3h0.8M77.1 431.0h0.8M73.3 430.9h0.8M42.1 428.1h0.8M54.4 414.8h0.8M56.4 408.1h0.8M72.0 431.5h0.8M76.4 424.6h0.8M71.5 401.8h0.8M67.7 429.5h0.8M69.3 416.0h0.8M57.7 422.9h0.8M72.4 413.0h0.8M50.4 430.0h0.8M40.3 408.1h0.8M88.3 414.9h0.8M58.1 398.5h0.8M57.1 422.8h0.8M74.6 417.1h0.8M52.2 417.1h0.8M88.6 421.0h0.8M37.4 417.9h0.8M80.6 425.4h0.8M46.9 405.9h0.8M45.0 426.5h0.8M75.9 414.3h0.8M67.1 422.3h0.8M61.8 397.2h0.8M64.1 414.5h0.8M39.1 419.0h0.8M82.0 400.9h0.8M47.1 408.6h0.8M52.1 423.2h0.8M59.0 427.9h0.8M73.9 418.6h0.8M77.9 430.7h0.8M67.6 417.1h0.8M70.1 431.0h0.8M91.1 419.1h0.8M63.7 408.2h0.8M74.5 411.0h0.8M78.4 414.8h0.8M51.6 432.1h0.8M41.9 427.7h0.8M53.9 405.3h0.8M41.6 417.4h0.8M66.2 401.5h0.8M72.8 421.1h0.8M43.4 408.6h0.8M87.9 419.7h0.8M42.3 423.0h0.8M81.8 409.9h0.8M72.7 428.4h0.8M60.0 424.7h0.8M68.3 424.5h0.8M46.8 415.6h0.8M55.7 402.5h0.8M48.3 405.9h0.8M45.7 412.8h0.8M61.2 419.9h0.8M56.9 409.4h0.8M83.5 411.1h0.8M60.6 405.5h0.8M78.1 420.0h0.8M70.4 430.5h0.8M69.9 398.4h0.8M41.9 418.4h0.8M72.5 423.9h0.8M44.4 415.4h0.8M42.3 408.3h0.8M56.5 405.1h0.8M59.2 412.3h0.8M42.4 412.9h0.8M38.1 410.9h0.8M61.8 410.0h0.8M56.2 410.8h0.8M55.9 395.4h0.8M69.4 408.8h0.8M48.9 414.7h0.8M54.1 421.5h0.8M55.1 423.3h0.8M55.1 423.9h0.8M78.6 408.3h0.8M63.2 393.0h0.8M81.2 424.5h0.8M71.7 423.5h0.8M60.4 418.0h0.8M56.2 389.7h0.8M65.6 428.7h0.8M64.2 429.8h0.8M57.9 400.5h0.8M45.1 408.5h0.8M53.8 432.1h0.8M49.4 411.5h0.8M54.9 417.0h0.8M52.0 417.1h0.8M79.4 401.7h0.8M48.6 414.7h0.8M68.5 428.9h0.8M82.0 409.9h0.8M64.0 424.6h0.8M68.6 394.5h0.8M74.0 424.3h0.8M47.4 421.4h0.8M72.8 431.2h0.8M79.4 409.6h0.8M60.3 407.2h0.8M44.8 424.5h0.8M65.5 423.5h0.8M63.2 399.7h0.8M76.7 411.7h0.8M57.9 433.1h0.8M48.7 401.6h0.8M50.1 412.2h0.8M59.8 410.3h0.8M70.4 412.2h0.8M52.5 427.3h0.8M39.6 420.8h0.8M58.3 399.2h0.8M67.5 392.4h0.8M63.7 414.4h0.8M65.1 426.1h0.8M60.9 404.8h0.8M72.1 407.5h0.8M61.8 400.2h0.8M71.9 430.2h0.8M42.0 426.1h0.8M47.2 420.7h0.8M59.3 409.1h0.8M66.9 428.4h0.8M73.4 426.9h0.8M48.1 412.2h0.8M50.9 429.6h0.8M76.2 411.3h0.8M81.1 405.0h0.8M58.9 431.4h0.8M53.2 426.1h0.8M57.4 431.7h0.8M36.8 417.0h0.8M68.1 402.4h0.8M66.0 399.2h0.8M77.4 413.2h0.8M51.8 395.3h0.8M76.9 408.0h0.8M81.6 408.3h0.8M67.4 421.5h0.8M42.4 410.8h0.8M44.8 424.9h0.8M55.4 405.2h0.8M40.9 401.4h0.8M56.6 401.1h0.8M64.6 418.4h0.8M70.4 415.5h0.8M73.3 409.3h0.8M51.3 411.4h0.8M58.3 432.8h0.8M41.9 402.1h0.8M60.1 430.1h0.8M80.8 411.1h0.8M81.4 400.4h0.8M54.5 413.9h0.8M84.0 424.3h0.8M70.5 421.2h0.8M59.1 432.6h0.8M53.8 425.8h0.8M52.7 421.0h0.8M68.4 416.0h0.8M45.6 427.5h0.8M88.3 420.1h0.8M63.3 412.2h0.8M69.7 405.3h0.8M83.7 423.5h0.8M73.9 415.0h0.8M49.7 415.3h0.8M74.1 408.6h0.8M58.5 391.0h0.8M61.0 420.3h0.8M75.2 414.7h0.8M56.3 428.2h0.8M90.7 420.4h0.8M46.3 427.5h0.8M79.5 428.1h0.8M46.7 425.2h0.8M60.1 429.2h0.8M40.2 406.2h0.8M49.8 399.2h0.8M44.6 422.2h0.8M55.2 433.5h0.8M54.3 421.0h0.8M50.1 422.5h0.8M66.5 394.8h0.8M38.9 413.4h0.8M58.5 398.5h0.8M56.5 399.3h0.8M77.2 425.8h0.8M69.6 412.7h0.8M69.3 405.4h0.8M66.6 416.8h0.8M64.9 427.7h0.8M69.3 433.6h0.8M46.2 420.6h0.8M77.9 407.5h0.8M82.5 418.2h0.8M51.0 427.4h0.8M83.2 426.5h0.8M67.1 399.9h0.8M57.6 432.4h0.8M45.6 424.2h0.8M68.7 431.6h0.8M58.6 421.1h0.8M69.8 427.0h0.8M66.4 431.2h0.8M82.2 409.6h0.8M60.5 421.3h0.8M46.1 404.4h0.8M49.9 426.6h0.8M54.6 426.4h0.8M84.5 420.4h0.8M55.0 430.9h0.8M71.1 427.8h0.8M73.8 431.0h0.8M50.0 428.6h0.8M79.4 398.6h0.8M60.2 390.2h0.8M80.4 411.2h0.8M68.1 391.0h0.8M56.7 410.1h0.8M60.2 401.0h0.8M52.7 411.4h0.8M49.9 432.7h0.8M55.2 409.7h0.8M49.3 410.6h0.8M53.7 392.4h0.8M40.7 408.0h0.8M74.1 428.9h0.8M62.4 420.9h0.8M38.9 415.0h0.8M73.4 430.5h0.8M79.1 416.7h0.8M61.5 432.9h0.8M79.3 403.0h0.8M81.1 416.2h0.8M41.4 409.0h0.8M52.1 413.0h0.8M85.1 422.7h0.8M63.5 407.9h0.8M77.1 429.1h0.8M54.8 390.6h0.8M71.1 413.2h0.8M86.4 412.4h0.8M84.2 421.2h0.8M71.0 396.5h0.8M77.0 409.8h0.8M69.5 396.1h0.8M54.5 407.6h0.8M44.2 401.8h0.8M61.5 430.3h0.8M58.2 425.6h0.8M76.7 400.4h0.8M54.6 419.1h0.8M69.7 405.9h0.8M55.1 407.5h0.8M55.4 424.9h0.8M87.8 414.8h0.8M42.2 410.2h0.8M60.0 417.1h0.8M66.2 391.5h0.8M59.2 404.4h0.8M70.1 429.4h0.8M40.5 413.5h0.8M47.0 409.5h0.8M42.8 419.5h0.8M49.9 398.6h0.8M46.7 421.9h0.8M65.2 417.9h0.8M60.1 410.8h0.8M64.5 392.2h0.8M71.9 416.1h0.8M72.0 404.3h0.8M46.2 419.8h0.8M81.1 400.3h0.8M64.9 416.7h0.8M79.1 404.1h0.8M81.7 421.2h0.8M49.9 399.6h0.8M61.7 427.8h0.8M85.5 413.1h0.8M66.0 411.4h0.8M76.1 412.4h0.8M67.9 427.7h0.8M70.9 401.6h0.8M79.5 417.9h0.8M55.7 409.1h0.8M62.0 431.7h0.8M59.9 427.1h0.8M48.1 418.5h0.8M63.9 398.5h0.8M57.9 400.8h0.8M78.9 400.7h0.8M52.7 417.9h0.8M55.0 419.0h0.8M82.5 415.7h0.8M61.7 431.9h0.8M89.3 420.5h0.8M49.2 406.1h0.8M48.1 408.9h0.8M65.5 398.8h0.8M71.1 424.7h0.8M52.8 395.7h0.8M74.7 410.9h0.8M70.1 391.7h0.8M60.3 428.6h0.8M80.6 405.9h0.8M62.7 396.5h0.8M59.3 405.0h0.8M46.6 405.4h0.8M56.1 418.0h0.8M61.8 422.2h0.8M54.4 432.8h0.8M52.2 422.3h0.8M70.4 410.5h0.8M82.6 420.6h0.8M60.1 422.6h0.8M66.1 429.6h0.8M54.2 407.0h0.8M75.3 416.4h0.8M64.0 416.2h0.8M60.7 413.0h0.8M77.3 407.0h0.8M55.1 432.3h0.8M65.9 431.1h0.8M60.7 391.0h0.8M58.2 420.5h0.8M49.3 418.8h0.8M49.0 419.3h0.8M47.7 406.6h0.8M82.0 414.7h0.8M65.8 409.8h0.8M72.5 425.9h0.8M43.8 405.2h0.8M64.5 396.2h0.8M42.2 418.1h0.8M54.0 404.3h0.8M69.8 392.7h0.8M43.5 422.9h0.8M45.4 420.0h0.8M65.1 394.1h0.8M58.3 413.4h0.8M47.1 413.0h0.8M64.7 407.7h0.8M72.9 412.1h0.8M126.5 404.6h0.8M124.8 398.7h0.8M107.6 407.7h0.8M107.8 408.1h0.8M115.6 402.3h0.8M107.0 389.7h0.8M111.0 391.6h0.8M113.3 393.6h0.8M113.5 395.0h0.8M114.2 401.8h0.8M112.2 403.2h0.8M106.5 409.8h0.8M125.0 401.3h0.8M108.5 390.5h0.8M113.6 393.8h0.8M127.6 399.5h0.8M123.5 397.4h0.8M121.8 400.1h0.8M114.3 393.0h0.8M101.1 411.7h0.8M113.2 396.7h0.8M110.3 397.8h0.8M111.0 396.8h0.8M125.9 391.3h0.8M127.4 393.2h0.8M101.6 403.8h0.8M109.4 393.3h0.8M119.3 393.5h0.8M106.4 409.8h0.8M109.2 398.3h0.8M115.3 395.1h0.8M109.9 401.6h0.8M104.7 402.1h0.8M118.9 405.3h0.8M107.7 396.2h0.8M109.6 408.2h0.8M118.0 399.3h0.8M113.5 391.6h0.8M106.9 397.8h0.8M111.3 393.1h0.8M102.3 403.7h0.8M115.1 403.2h0.8M112.9 397.0h0.8M123.1 395.8h0.8M108.1 404.6h0.8M107.6 402.1h0.8M124.1 394.8h0.8M104.4 406.9h0.8M110.7 395.8h0.8M122.3 397.0h0.8M127.2 403.7h0.8M102.9 397.7h0.8M106.3 410.3h0.8M103.0 407.4h0.8M121.6 391.4h0.8M105.1 411.2h0.8M117.9 397.5h0.8M106.7 404.3h0.8M126.8 406.1h0.8M104.8 410.1h0.8M105.6 413.8h0.8M109.3 391.7h0.8M112.8 398.6h0.8M108.7 389.5h0.8M106.6 409.7h0.8M107.4 407.0h0.8M109.7 406.6h0.8M107.3 411.7h0.8M108.5 403.7h0.8M108.3 390.0h0.8M102.7 400.6h0.8M127.3 404.0h0.8M112.0 394.9h0.8M107.8 407.3h0.8M124.0 391.4h0.8M102.0 401.9h0.8M109.0 407.2h0.8M119.9 392.4h0.8M101.9 411.6h0.8M107.1 400.2h0.8M104.0 395.1h0.8M103.5 407.9h0.8M116.4 398.3h0.8M124.7 402.2h0.8M130.8 398.9h0.8M123.9 396.9h0.8M122.8 404.4h0.8M113.6 403.0h0.8M105.0 410.8h0.8M115.7 397.4h0.8M131.0 396.8h0.8M125.4 401.8h0.8M121.6 397.8h0.8M128.2 392.3h0.8M127.4 403.1h0.8M105.7 393.9h0.8M108.0 403.5h0.8M111.0 391.9h0.8M130.6 399.7h0.8M109.9 388.4h0.8M121.2 402.2h0.8M104.3 393.0h0.8M105.4 403.9h0.8M124.2 402.2h0.8M108.9 402.4h0.8M102.5 411.7h0.8M112.7 399.9h0.8M125.4 401.3h0.8M106.0 410.3h0.8M111.6 388.8h0.8M114.8 401.9h0.8M109.3 392.5h0.8M116.1 399.6h0.8M130.4 402.5h0.8M110.2 388.6h0.8M109.0 393.9h0.8M113.7 402.7h0.8M120.0 401.6h0.8M122.9 405.2h0.8M107.1 393.8h0.8M106.3 392.0h0.8M109.3 398.7h0.8M106.6 409.7h0.8M106.3 408.6h0.8M127.8 405.3h0.8M117.2 402.8h0.8M107.0 396.2h0.8M101.6 401.6h0.8M126.8 393.6h0.8M101.2 406.5h0.8M123.7 401.7h0.8M114.0 400.4h0.8M103.2 404.3h0.8M114.4 401.0h0.8M115.1 400.2h0.8M108.9 395.1h0.8M120.3 398.7h0.8M111.5 400.9h0.8M111.3 399.2h0.8M101.6 408.6h0.8M110.9 389.2h0.8M102.2 405.8h0.8M109.0 404.0h0.8M125.7 406.0h0.8M129.1 402.4h0.8M109.3 396.2h0.8M118.3 392.9h0.8M103.0 400.7h0.8M116.0 401.9h0.8M109.3 391.3h0.8M106.6 408.7h0.8M119.6 395.4h0.8M128.3 402.8h0.8M108.0 395.4h0.8M103.9 407.9h0.8M119.4 398.8h0.8M101.6 398.5h0.8M113.4 397.4h0.8M126.1 398.4h0.8M114.6 392.3h0.8M123.7 399.5h0.8M125.4 406.2h0.8M107.8 405.1h0.8M123.3 398.8h0.8M122.6 403.7h0.8M122.5 405.6h0.8M109.2 400.4h0.8M106.3 390.3h0.8M121.9 402.7h0.8M127.3 406.2h0.8M121.9 394.8h0.8M119.0 394.5h0.8M113.5 398.4h0.8M124.0 398.9h0.8M111.9 397.9h0.8M104.6 404.2h0.8M112.1 392.5h0.8M122.3 391.8h0.8M111.6 394.4h0.8M117.6 394.2h0.8M117.0 401.1h0.8M130.8 398.1h0.8M101.9 414.8h0.8M117.5 394.6h0.8M116.5 402.4h0.8M103.7 397.3h0.8M121.8 398.4h0.8M106.0 398.2h0.8M120.8 402.1h0.8M113.4 392.7h0.8M102.5 396.4h0.8M120.3 402.3h0.8M102.5 405.5h0.8M116.4 390.7h0.8M120.8 395.6h0.8M124.7 399.4h0.8M129.7 395.2h0.8M127.8 405.0h0.8M102.0 407.0h0.8M102.8 408.4h0.8M103.9 411.4h0.8M115.9 401.8h0.8M110.2 394.3h0.8M130.0 397.4h0.8M108.7 401.9h0.8M124.7 390.7h0.8M109.5 406.7h0.8M108.6 390.3h0.8M109.0 402.3h0.8M102.2 406.4h0.8M102.3 408.6h0.8M122.8 392.1h0.8M103.1 410.6h0.8M122.0 405.7h0.8M129.4 393.8h0.8M103.4 414.0h0.8M107.3 392.6h0.8M126.3 398.6h0.8M106.6 403.3h0.8M119.7 392.1h0.8M104.0 407.6h0.8M102.4 400.8h0.8M109.0 405.3h0.8M104.9 393.9h0.8M107.1 400.4h0.8M117.1 391.2h0.8M110.2 405.4h0.8M126.3 394.1h0.8M123.5 392.1h0.8M123.5 392.0h0.8M127.3 404.0h0.8M101.7 406.3h0.8M109.6 393.3h0.8M102.4 411.7h0.8M116.1 402.9h0.8M117.2 402.6h0.8M108.1 404.1h0.8M125.8 393.4h0.8M106.5 390.0h0.8M117.3 392.7h0.8M127.2 396.0h0.8M128.9 400.8h0.8M117.6 393.3h0.8M126.9 404.5h0.8M114.2 394.9h0.8M110.9 404.7h0.8M109.0 394.1h0.8M114.0 395.7h0.8M119.5 400.7h0.8M117.7 403.8h0.8M105.6 395.9h0.8M104.1 412.8h0.8M103.1 406.6h0.8M120.8 400.3h0.8M105.5 403.7h0.8M107.3 389.8h0.8M117.6 404.5h0.8M130.4 395.0h0.8M102.0 409.6h0.8M119.8 393.3h0.8M128.0 405.0h0.8M116.5 402.3h0.8M109.9 401.2h0.8M104.8 414.9h0.8M120.6 404.4h0.8M123.2 393.9h0.8M107.5 398.6h0.8M102.8 395.5h0.8M118.1 395.5h0.8M124.0 401.6h0.8M109.1 388.1h0.8M108.0 393.4h0.8M112.4 389.3h0.8M102.2 413.3h0.8M123.2 400.0h0.8M108.6 392.8h0.8M110.2 392.0h0.8M110.4 404.5h0.8M123.5 399.0h0.8M105.4 396.0h0.8M112.9 397.0h0.8M121.3 402.4h0.8M102.4 404.7h0.8M105.0 407.7h0.8M107.7 405.7h0.8M120.7 396.0h0.8M122.1 392.1h0.8M113.4 389.8h0.8M117.7 400.5h0.8M128.1 392.6h0.8M130.4 397.4h0.8M109.9 387.9h0.8M120.3 394.8h0.8M126.2 398.4h0.8M120.9 390.2h0.8M101.6 403.3h0.8M108.8 393.0h0.8M108.2 409.5h0.8M102.3 405.9h0.8M124.2 395.1h0.8M109.0 397.2h0.8M114.4 401.3h0.8M112.0 403.1h0.8M118.1 397.3h0.8M119.1 395.9h0.8M112.2 388.7h0.8M103.8 402.4h0.8M112.9 402.2h0.8M118.6 405.1h0.8M107.0 398.7h0.8M120.2 398.1h0.8M114.3 397.7h0.8M102.8 405.3h0.8M109.8 393.0h0.8M106.4 408.1h0.8M102.2 401.7h0.8M113.9 391.0h0.8M111.6 394.1h0.8M113.8 396.5h0.8M114.4 399.3h0.8M101.9 400.1h0.8M102.0 411.3h0.8M124.4 394.6h0.8M126.1 391.1h0.8M105.9 391.5h0.8M126.8 404.8h0.8M129.3 397.3h0.8M120.4 402.9h0.8M113.0 400.0h0.8M110.8 396.2h0.8M114.4 390.3h0.8M107.2 405.0h0.8M127.3 397.2h0.8M111.3 388.0h0.8M126.2 400.9h0.8M117.3 400.6h0.8M127.9 397.3h0.8M121.2 402.0h0.8M102.7 413.4h0.8M103.0 399.7h0.8M101.8 410.8h0.8M103.6 405.2h0.8M119.6 404.3h0.8M115.5 395.6h0.8M102.3 408.4h0.8M106.8 407.6h0.8M116.3 399.0h0.8M104.2 393.5h0.8M111.3 393.6h0.8M127.6 392.1h0.8M103.3 400.3h0.8M112.4 390.4h0.8M109.9 402.2h0.8M120.4 399.6h0.8M109.7 393.4h0.8M106.2 398.5h0.8M110.7 404.6h0.8M113.3 395.0h0.8M104.5 411.0h0.8M120.8 392.6h0.8M120.3 398.6h0.8M112.2 392.4h0.8M104.6 408.7h0.8M104.4 405.3h0.8M131.4 397.6h0.8M121.8 390.9h0.8M118.6 390.7h0.8M105.9 402.0h0.8M102.0 410.4h0.8M129.1 402.4h0.8M106.3 395.9h0.8M101.7 406.0h0.8M108.9 397.1h0.8M122.3 406.7h0.8M105.5 406.1h0.8M113.8 391.9h0.8M107.7 388.4h0.8M102.0 400.7h0.8M105.4 402.0h0.8M111.6 390.4h0.8M131.3 395.2h0.8M114.2 390.1h0.8M104.2 405.4h0.8M122.5 403.3h0.8M119.4 400.3h0.8M119.9 406.0h0.8M125.0 403.6h0.8M114.2 399.1h0.8M115.1 402.2h0.8M113.5 391.7h0.8M102.4 412.8h0.8M127.7 394.2h0.8M115.7 396.0h0.8M108.7 409.1h0.8M109.5 403.0h0.8M115.3 402.9h0.8M128.1 402.2h0.8M102.4 410.1h0.8M103.1 412.4h0.8M107.5 398.7h0.8M118.3 396.7h0.8M102.4 396.6h0.8M129.3 392.5h0.8M111.4 397.7h0.8M109.2 398.3h0.8M104.9 407.0h0.8M122.3 403.5h0.8M126.3 400.7h0.8M103.4 397.5h0.8M103.5 399.8h0.8M113.4 395.4h0.8M103.1 395.4h0.8M116.0 401.5h0.8M108.0 401.3h0.8M121.9 401.6h0.8M111.9 388.4h0.8M103.4 400.2h0.8M108.9 399.6h0.8M115.7 394.2h0.8M107.0 391.4h0.8M125.4 400.9h0.8M120.0 402.7h0.8M111.1 387.7h0.8M108.8 388.7h0.8M103.1 409.1h0.8M120.5 390.0h0.8M108.8 408.2h0.8M103.6 412.4h0.8M108.6 400.2h0.8M121.4 396.4h0.8M128.1 392.4h0.8M110.4 406.9h0.8M121.3 403.7h0.8M125.1 400.4h0.8M106.8 399.0h0.8M119.6 398.4h0.8M113.6 402.4h0.8M107.4 389.7h0.8M114.7 389.2h0.8M128.6 404.4h0.8M107.4 406.1h0.8M122.8 404.1h0.8M103.0 395.8h0.8M110.2 403.7h0.8M103.4 400.4h0.8M127.5 401.1h0.8M105.0 399.2h0.8M110.3 390.8h0.8M120.5 405.0h0.8M113.0 393.6h0.8M116.6 402.5h0.8M103.2 400.0h0.8M110.9 392.5h0.8M111.8 405.5h0.8M121.1 392.6h0.8M109.7 389.7h0.8M123.5 391.1h0.8M106.6 396.2h0.8M103.5 413.4h0.8M108.9 405.2h0.8M120.9 394.8h0.8M101.3 411.6h0.8M129.2 402.4h0.8M106.8 393.5h0.8M126.1 402.3h0.8M106.0 413.5h0.8M112.7 395.9h0.8M128.7 396.5h0.8M120.3 405.5h0.8M105.5 409.5h0.8M114.6 391.2h0.8M105.2 393.5h0.8M116.0 389.9h0.8M107.0 409.8h0.8M120.2 405.1h0.8M106.5 410.2h0.8M126.2 404.3h0.8M102.3 397.2h0.8M129.4 396.9h0.8M109.3 400.6h0.8M127.3 405.9h0.8M118.9 394.3h0.8M105.1 403.4h0.8M107.9 400.4h0.8M106.7 406.9h0.8M121.4 395.2h0.8M123.5 400.0h0.8M120.6 403.6h0.8M116.8 392.7h0.8M123.8 405.3h0.8M129.5 393.6h0.8M110.3 404.8h0.8M123.4 405.7h0.8M117.6 392.5h0.8M118.4 391.8h0.8M106.8 402.8h0.8M106.2 400.9h0.8M119.2 394.1h0.8M129.3 401.2h0.8M106.5 404.4h0.8M125.4 391.3h0.8M124.3 392.6h0.8M124.5 406.5h0.8M116.9 392.7h0.8M128.8 404.0h0.8M107.8 410.0h0.8M113.2 395.5h0.8M120.4 397.7h0.8M106.7 397.2h0.8M118.1 389.9h0.8M106.6 412.6h0.8M111.6 398.9h0.8M103.8 402.4h0.8M117.3 401.0h0.8M119.4 398.5h0.8M128.3 402.4h0.8M123.4 393.5h0.8M110.2 391.8h0.8M114.6 401.8h0.8M127.3 399.1h0.8M110.1 401.0h0.8M111.6 394.9h0.8M110.1 400.8h0.8M104.7 399.3h0.8M107.6 403.0h0.8M105.4 400.3h0.8M104.1 404.3h0.8M109.2 405.6h0.8M118.9 394.8h0.8M108.9 398.3h0.8M127.9 405.8h0.8M115.0 400.9h0.8M105.5 400.3h0.8M127.0 398.9h0.8M106.8 389.3h0.8M104.5 406.4h0.8M124.2 397.2h0.8M109.5 391.6h0.8M108.7 392.2h0.8M109.6 404.8h0.8M110.7 402.7h0.8M103.6 405.6h0.8M113.4 389.2h0.8M130.7 401.1h0.8M105.6 413.7h0.8M112.2 393.2h0.8M104.8 397.8h0.8M105.0 407.6h0.8M106.2 393.0h0.8M104.3 396.7h0.8M120.4 398.8h0.8M130.1 399.3h0.8M118.9 398.1h0.8M123.6 391.0h0.8M103.3 407.5h0.8M124.2 393.9h0.8M131.4 395.0h0.8M103.3 395.4h0.8M114.3 395.6h0.8M103.7 412.4h0.8M122.5 402.3h0.8M114.5 396.1h0.8M109.7 393.6h0.8M109.1 390.7h0.8M116.5 391.5h0.8M114.2 395.7h0.8M105.7 400.6h0.8M123.8 394.7h0.8M112.1 395.6h0.8M114.3 392.5h0.8M106.9 397.6h0.8M107.3 405.1h0.8M112.0 390.8h0.8M118.9 396.2h0.8M110.4 404.4h0.8M102.7 406.8h0.8M129.9 402.8h0.8M107.5 389.1h0.8M103.5 412.1h0.8M111.7 394.2h0.8M105.1 392.7h0.8M120.5 393.3h0.8M106.6 394.6h0.8M111.6 400.2h0.8M118.5 403.3h0.8M122.0 401.2h0.8M115.1 401.0h0.8M123.9 396.2h0.8M128.1 399.8h0.8M103.7 409.1h0.8M110.2 394.3h0.8M130.8 400.1h0.8M107.1 406.3h0.8M106.8 400.8h0.8M106.2 391.9h0.8M106.8 411.6h0.8M108.9 389.3h0.8M110.4 398.4h0.8M118.3 402.6h0.8M118.1 400.2h0.8M102.5 396.8h0.8M107.8 403.2h0.8M112.4 398.8h0.8M107.1 408.4h0.8M102.7 402.7h0.8M122.9 400.1h0.8M109.0 405.6h0.8M125.6 396.9h0.8M116.3 401.0h0.8M129.9 402.6h0.8M115.9 399.1h0.8M117.9 390.7h0.8M106.6 411.9h0.8M110.2 399.9h0.8M112.6 404.3h0.8M110.8 390.4h0.8M116.8 402.5h0.8M104.7 399.1h0.8M102.5 399.8h0.8M112.0 392.9h0.8M109.4 398.5h0.8M109.4 405.7h0.8M122.1 394.0h0.8M104.5 403.3h0.8M109.3 396.2h0.8M109.3 405.1h0.8M113.8 398.2h0.8M104.5 413.2h0.8M112.4 398.2h0.8M105.5 403.6h0.8M112.6 389.0h0.8M125.0 401.4h0.8M115.7 397.9h0.8M106.2 411.1h0.8M127.8 404.4h0.8M126.7 401.1h0.8M104.0 408.1h0.8M106.1 391.1h0.8M114.1 397.9h0.8M111.2 396.6h0.8M112.2 399.4h0.8M106.3 401.5h0.8M102.6 412.2h0.8M122.4 395.0h0.8M113.8 392.1h0.8M124.1 391.1h0.8M104.2 402.2h0.8M113.2 395.5h0.8M119.0 399.2h0.8M111.9 405.2h0.8M101.5 402.3h0.8M104.3 407.5h0.8M121.8 399.3h0.8M106.1 405.9h0.8M106.0 404.8h0.8M104.6 395.7h0.8M102.6 407.7h0.8M127.0 403.6h0.8M126.4 403.6h0.8M114.4 392.2h0.8M111.1 404.5h0.8M131.1 397.7h0.8M102.8 408.7h0.8M104.1 395.4h0.8M103.7 405.6h0.8M112.2 399.9h0.8M124.1 391.5h0.8M111.4 388.4h0.8M121.6 395.5h0.8M120.6 398.7h0.8M118.9 399.7h0.8M103.4 403.1h0.8M115.8 394.7h0.8M110.0 389.6h0.8M115.0 402.0h0.8M109.9 397.2h0.8M121.6 395.9h0.8M105.3 391.1h0.8M103.0 402.7h0.8M114.0 389.7h0.8M105.8 394.4h0.8M128.2 404.9h0.8M123.8 392.1h0.8M121.0 405.3h0.8M123.4 391.4h0.8M103.7 400.4h0.8M130.0 395.9h0.8M108.9 393.7h0.8M124.6 392.4h0.8M125.1 407.5h0.8M104.1 395.2h0.8M107.2 409.3h0.8M111.5 401.4h0.8M127.6 392.2h0.8M107.7 396.0h0.8M103.9 411.6h0.8M116.2 400.4h0.8M109.4 402.9h0.8M109.0 403.7h0.8M123.2 393.1h0.8M125.0 396.5h0.8M126.0 400.1h0.8M116.2 399.8h0.8M105.5 408.0h0.8M109.1 397.0h0.8M102.5 405.8h0.8M106.1 395.7h0.8M108.7 403.3h0.8M123.2 398.7h0.8M115.4 396.4h0.8M110.8 404.7h0.8M110.1 401.6h0.8M115.1 402.3h0.8M103.6 395.8h0.8M123.5 401.4h0.8M112.9 400.4h0.8M105.3 410.7h0.8M107.1 404.3h0.8M123.3 400.4h0.8M108.4 409.3h0.8M114.0 389.1h0.8M111.7 390.1h0.8M107.3 390.6h0.8M117.8 393.5h0.8M124.6 391.4h0.8M112.2 404.6h0.8M113.1 389.7h0.8M121.9 395.3h0.8M105.0 396.4h0.8M117.0 400.4h0.8M104.5 400.0h0.8M129.8 403.0h0.8M113.8 394.0h0.8M103.2 399.1h0.8M115.4 397.5h0.8M106.5 403.1h0.8M114.8 399.5h0.8M131.0 396.4h0.8M104.1 398.5h0.8M123.6 407.2h0.8M125.8 403.5h0.8M104.5 395.4h0.8M108.7 390.4h0.8M127.3 393.4h0.8M120.7 395.7h0.8M116.0 397.4h0.8M126.4 395.8h0.8M107.8 394.4h0.8M121.1 390.6h0.8M116.4 393.8h0.8M119.5 391.7h0.8M128.7 393.4h0.8M102.1 415.5h0.8M128.3 399.3h0.8M117.1 403.2h0.8M124.3 399.8h0.8M102.1 399.7h0.8M130.7 399.3h0.8M107.7 406.4h0.8M110.4 395.5h0.8M125.4 392.5h0.8M111.9 396.9h0.8M116.5 395.2h0.8M130.7 400.7h0.8M111.8 400.2h0.8M105.1 401.0h0.8M106.6 392.2h0.8M119.4 402.7h0.8M131.1 398.3h0.8M111.2 406.1h0.8M102.9 405.9h0.8M108.8 406.5h0.8M122.7 398.0h0.8M126.8 395.6h0.8M105.4 401.0h0.8M111.1 391.6h0.8M103.7 395.7h0.8M107.1 405.9h0.8M104.3 409.2h0.8M119.6 398.3h0.8M126.1 403.1h0.8M107.2 397.8h0.8M101.1 408.2h0.8M123.2 397.5h0.8M103.6 414.5h0.8M109.6 388.6h0.8M110.8 400.8h0.8M114.0 391.7h0.8M126.2 404.1h0.8M105.7 401.1h0.8M123.9 394.6h0.8M109.9 390.7h0.8M127.2 396.4h0.8M118.4 393.7h0.8M119.1 394.9h0.8M126.4 400.0h0.8M106.1 395.1h0.8M103.4 404.8h0.8M108.5 400.7h0.8M101.7 414.2h0.8M126.6 394.5h0.8M126.4 399.2h0.8M127.5 401.5h0.8M119.2 399.3h0.8M118.9 399.3h0.8M120.1 398.9h0.8M127.3 399.9h0.8M119.6 393.6h0.8M124.8 399.9h0.8M122.1 399.8h0.8M120.4 394.2h0.8M123.7 394.5h0.8M126.7 400.8h0.8M127.9 399.5h0.8M120.0 399.9h0.8M119.7 395.8h0.8M127.0 401.8h0.8M120.6 399.2h0.8M120.0 394.7h0.8M124.2 397.3h0.8M119.3 398.3h0.8M121.3 399.9h0.8M123.6 393.9h0.8M120.6 397.0h0.8M119.1 401.8h0.8M122.5 403.7h0.8M122.0 398.9h0.8M122.2 394.3h0.8M121.2 402.7h0.8M119.5 398.1h0.8M124.7 402.3h0.8M118.5 397.7h0.8M120.8 402.4h0.8M126.6 396.7h0.8M119.9 394.7h0.8M125.1 393.4h0.8M121.3 393.4h0.8M125.8 397.0h0.8M126.0 394.5h0.8M128.0 395.8h0.8M121.4 401.6h0.8M126.3 400.8h0.8M124.5 395.2h0.8M121.1 395.1h0.8M119.3 395.8h0.8M122.3 402.8h0.8M125.0 395.4h0.8M121.0 394.4h0.8M127.1 399.9h0.8M124.1 397.9h0.8M125.3 397.3h0.8M124.9 396.4h0.8M119.9 396.8h0.8M119.4 400.3h0.8M124.6 404.2h0.8M123.4 398.3h0.8M123.5 398.9h0.8M121.1 397.8h0.8M124.9 397.2h0.8M128.3 401.1h0.8M119.3 395.3h0.8M124.7 401.2h0.8M122.5 396.1h0.8M123.7 394.7h0.8M122.1 403.8h0.8M118.8 398.0h0.8M123.1 393.9h0.8M124.0 401.3h0.8M124.6 404.3h0.8M120.9 402.6h0.8M119.5 400.5h0.8M118.4 395.1h0.8M124.1 404.2h0.8M120.2 401.8h0.8M122.0 393.8h0.8M126.0 397.8h0.8M121.9 397.8h0.8M119.5 398.4h0.8M127.6 395.0h0.8M121.8 397.2h0.8M118.6 395.5h0.8M128.9 398.7h0.8M122.9 394.8h0.8M120.3 397.6h0.8M126.5 402.6h0.8M119.6 393.8h0.8M127.5 395.8h0.8M122.1 395.0h0.8M125.0 395.7h0.8M127.0 394.9h0.8M129.1 400.0h0.8M125.4 403.6h0.8M120.0 393.7h0.8M120.1 402.4h0.8M126.3 394.5h0.8M122.3 401.4h0.8M123.7 395.9h0.8M119.7 399.4h0.8M122.6 394.9h0.8M121.3 393.2h0.8M129.0 397.5h0.8M120.8 393.3h0.8M123.0 394.6h0.8M122.0 395.1h0.8M121.4 394.0h0.8M124.9 394.3h0.8M125.7 403.8h0.8M121.8 396.4h0.8M123.6 404.3h0.8M126.6 398.6h0.8M119.8 400.0h0.8M122.8 394.0h0.8M127.1 399.7h0.8M126.1 403.8h0.8M125.0 397.4h0.8M125.7 398.9h0.8M119.7 393.2h0.8M126.2 396.6h0.8M120.3 397.9h0.8M124.4 400.2h0.8M119.6 398.3h0.8M120.9 399.4h0.8M119.4 401.3h0.8M126.8 399.3h0.8M120.3 396.2h0.8M125.6 402.0h0.8M120.0 397.0h0.8M119.0 393.1h0.8M125.2 395.2h0.8M122.6 399.6h0.8M47.8 383.7h0.8M49.0 384.7h0.8M47.6 383.7h0.8M49.5 389.2h0.8M49.1 387.9h0.8M48.5 382.7h0.8M51.0 390.7h0.8M48.0 382.4h0.8M49.4 390.5h0.8M49.2 386.2h0.8M50.4 388.0h0.8M48.4 383.2h0.8M47.6 382.3h0.8M50.0 390.7h0.8M49.1 387.0h0.8M49.3 387.8h0.8M48.8 384.1h0.8M49.1 388.0h0.8M50.8 389.7h0.8M49.9 386.3h0.8M105.0 429.3h0.8M104.5 427.9h0.8M104.9 428.0h0.8M104.2 430.1h0.8M104.1 426.6h0.8M104.1 427.6h0.8M104.9 427.2h0.8M106.3 429.2h0.8M103.9 429.8h0.8M104.7 430.1h0.8M103.5 428.8h0.8M103.6 426.5h0.8M105.1 427.9h0.8M105.9 430.0h0.8M104.2 430.2h0.8" stroke="#955493" stroke-width="0.8" fill="none"/>
<path d="M81.1 410.2h0.7M58.6 396.8h0.7M81.4 425.9h0.7M55.2 403.6h0.7M78.8 425.2h0.7M57.0 417.5h0.7M44.8 425.8h0.7M85.5 421.9h0.7M41.1 423.1h0.7M72.2 430.8h0.7M79.0 428.6h0.7M38.1 405.5h0.7M53.7 412.0h0.7M55.5 399.4h0.7M67.2 430.0h0.7M69.8 428.9h0.7M56.0 393.8h0.7M68.1 420.7h0.7M80.8 407.7h0.7M64.7 428.9h0.7M49.3 395.5h0.7M47.0 411.6h0.7M80.0 427.7h0.7M47.1 404.2h0.7M48.4 416.4h0.7M72.3 423.3h0.7M45.4 418.6h0.7M70.3 392.7h0.7M78.2 400.1h0.7M63.6 404.3h0.7M55.2 418.0h0.7M59.4 411.7h0.7M57.3 425.3h0.7M50.5 429.4h0.7M79.0 408.2h0.7M88.6 418.6h0.7M43.5 418.7h0.7M76.6 419.2h0.7M60.4 408.3h0.7M75.9 431.8h0.7M59.7 409.9h0.7M83.3 416.2h0.7M69.3 427.5h0.7M76.7 403.2h0.7M84.0 421.1h0.7M75.9 421.2h0.7M72.1 393.5h0.7M75.8 398.5h0.7M59.1 421.0h0.7M48.1 415.4h0.7M58.2 404.1h0.7M47.5 430.6h0.7M64.2 424.5h0.7M72.8 421.5h0.7M70.3 428.6h0.7M45.7 427.0h0.7M65.0 432.7h0.7M56.0 399.4h0.7M68.9 429.8h0.7M46.8 412.5h0.7M75.9 429.5h0.7M53.2 404.1h0.7M72.8 399.5h0.7M58.3 426.1h0.7M83.7 406.1h0.7M42.5 424.3h0.7M79.8 400.1h0.7M70.3 424.2h0.7M47.6 403.6h0.7M51.6 408.5h0.7M67.2 403.9h0.7M49.8 397.5h0.7M45.6 398.5h0.7M66.2 393.0h0.7M72.1 426.4h0.7M38.5 406.5h0.7M38.0 407.2h0.7M66.9 421.9h0.7M62.3 391.4h0.7M72.0 416.4h0.7M64.8 408.5h0.7M42.9 407.7h0.7M43.3 428.3h0.7M78.7 401.4h0.7M75.0 403.3h0.7M72.4 405.1h0.7M77.8 417.6h0.7M53.0 430.3h0.7M59.2 434.1h0.7M62.2 391.7h0.7M71.0 394.0h0.7M64.7 398.5h0.7M65.6 395.7h0.7M79.2 420.7h0.7M46.9 414.3h0.7M57.9 398.6h0.7M45.2 414.4h0.7M85.0 412.4h0.7M73.9 425.3h0.7M63.3 411.0h0.7M66.6 426.3h0.7M65.2 399.2h0.7M62.9 412.4h0.7M62.7 404.1h0.7M83.7 415.5h0.7M48.7 430.8h0.7M62.6 398.6h0.7M48.3 425.2h0.7M53.3 397.7h0.7M59.7 416.9h0.7M76.0 421.9h0.7M52.4 395.2h0.7M70.1 409.1h0.7M74.5 398.1h0.7M82.2 408.1h0.7M86.1 413.1h0.7M75.5 407.7h0.7M47.0 408.3h0.7M72.8 426.2h0.7M61.6 408.8h0.7M49.2 420.9h0.7M49.7 420.6h0.7M60.7 418.6h0.7M60.8 429.1h0.7M38.5 407.6h0.7M62.3 406.7h0.7M59.9 425.1h0.7M67.4 403.7h0.7M54.9 428.4h0.7M50.4 395.4h0.7M61.4 391.9h0.7M73.0 408.5h0.7M54.1 417.1h0.7M64.1 393.6h0.7M45.5 411.0h0.7M52.4 413.0h0.7M38.5 405.6h0.7M87.4 417.4h0.7M65.4 422.0h0.7M84.8 422.3h0.7M52.4 427.6h0.7M53.6 406.9h0.7M67.3 415.6h0.7M76.5 419.4h0.7M78.6 419.6h0.7M70.9 401.3h0.7M63.3 410.1h0.7M53.6 427.0h0.7M90.0 417.1h0.7M70.0 392.2h0.7M77.8 425.9h0.7M63.4 420.4h0.7M59.5 400.0h0.7M58.1 424.4h0.7M81.4 399.5h0.7M53.3 398.5h0.7M62.6 393.2h0.7M83.7 408.2h0.7M54.7 416.7h0.7M67.7 415.9h0.7M84.3 424.1h0.7M67.0 407.9h0.7M43.4 416.6h0.7M41.2 422.1h0.7M58.1 399.7h0.7M54.3 429.4h0.7M77.7 425.6h0.7M58.7 402.7h0.7M51.1 401.7h0.7M68.7 398.5h0.7M80.7 405.6h0.7M48.3 416.4h0.7M49.5 432.0h0.7M71.7 424.7h0.7M78.8 423.9h0.7M62.6 397.5h0.7M65.7 404.1h0.7M59.4 420.6h0.7M80.0 423.5h0.7M80.8 428.6h0.7M58.4 422.6h0.7M41.8 412.6h0.7M60.9 405.2h0.7M54.4 397.3h0.7M57.0 416.7h0.7M77.4 419.9h0.7M45.4 399.9h0.7M76.5 396.1h0.7M70.7 395.1h0.7M57.9 422.2h0.7M77.6 422.4h0.7M58.4 393.0h0.7M73.1 399.2h0.7M68.6 400.9h0.7M66.6 430.6h0.7M59.8 430.8h0.7M72.0 395.4h0.7M86.3 420.9h0.7M71.7 416.0h0.7M52.8 399.2h0.7M80.5 399.6h0.7M55.0 391.2h0.7M73.4 431.1h0.7M85.4 412.3h0.7M72.0 420.7h0.7M50.8 395.9h0.7M60.0 409.0h0.7M82.4 415.4h0.7M61.4 393.1h0.7M42.0 400.4h0.7M69.4 393.4h0.7M44.1 409.8h0.7M50.1 414.5h0.7M44.3 413.7h0.7M42.5 415.1h0.7M71.3 420.5h0.7M70.6 433.4h0.7M71.0 397.4h0.7M51.0 409.1h0.7M47.0 419.0h0.7M44.0 408.4h0.7M65.1 411.9h0.7M77.8 425.8h0.7M55.4 401.7h0.7M67.6 394.8h0.7M67.4 429.4h0.7M68.5 399.4h0.7M43.8 412.2h0.7M45.7 416.4h0.7M58.6 414.5h0.7M47.3 400.0h0.7M54.0 429.6h0.7M49.8 419.0h0.7M63.9 403.3h0.7M77.2 417.7h0.7M83.8 405.1h0.7M50.4 394.3h0.7M62.7 400.5h0.7M81.1 402.2h0.7M48.3 397.3h0.7M77.4 416.6h0.7M71.7 403.0h0.7M80.7 411.6h0.7M83.9 414.4h0.7M81.4 416.1h0.7M52.5 393.2h0.7M51.6 427.5h0.7M76.9 423.4h0.7M50.3 417.4h0.7M62.0 401.1h0.7M47.6 400.6h0.7M50.2 409.5h0.7M64.1 408.4h0.7M66.5 410.9h0.7M67.1 421.3h0.7M54.0 427.0h0.7M49.5 429.8h0.7M50.9 392.0h0.7M45.3 411.8h0.7M68.5 402.1h0.7M124.2 405.8h0.7M117.2 390.4h0.7M123.5 391.5h0.7M119.5 401.6h0.7M119.3 404.3h0.7M103.5 405.9h0.7M118.5 403.9h0.7M125.9 397.7h0.7M107.1 392.4h0.7M114.7 390.7h0.7M111.6 393.1h0.7M123.4 391.4h0.7M125.4 400.5h0.7M102.4 415.1h0.7M115.4 402.3h0.7M118.4 405.1h0.7M104.0 397.2h0.7M118.8 393.2h0.7M102.4 405.2h0.7M115.1 399.2h0.7M101.8 408.6h0.7M109.4 399.1h0.7M113.9 394.5h0.7M102.2 404.5h0.7M108.3 400.0h0.7M102.3 409.5h0.7M108.4 395.7h0.7M102.5 414.3h0.7M107.7 397.0h0.7M109.2 402.9h0.7M103.4 395.0h0.7M126.5 393.5h0.7M117.3 399.0h0.7M109.2 390.4h0.7M130.9 395.6h0.7M124.8 402.7h0.7M121.4 390.3h0.7M111.7 399.4h0.7M124.4 403.5h0.7M107.2 409.1h0.7M103.4 410.9h0.7M112.7 396.1h0.7M115.5 393.4h0.7M129.8 398.2h0.7M108.0 409.8h0.7M118.2 396.4h0.7M117.0 404.2h0.7M107.0 389.8h0.7M117.5 402.3h0.7M111.1 394.3h0.7M116.9 393.0h0.7M112.0 396.3h0.7M107.1 393.9h0.7M116.7 399.0h0.7M127.0 395.5h0.7M106.1 398.8h0.7M113.7 400.6h0.7M108.2 405.0h0.7M105.8 404.5h0.7M105.5 398.7h0.7M127.0 396.9h0.7M102.5 408.1h0.7M127.2 402.6h0.7M104.1 407.7h0.7M124.9 397.8h0.7M124.3 392.5h0.7M114.7 398.2h0.7M119.4 390.0h0.7M101.8 406.6h0.7M105.4 393.7h0.7M126.0 404.2h0.7M106.8 392.3h0.7M103.7 415.0h0.7M112.7 396.0h0.7M119.6 404.1h0.7M127.0 405.8h0.7M118.0 397.3h0.7M109.6 389.3h0.7M124.8 407.6h0.7M108.9 394.2h0.7M106.8 391.6h0.7M109.0 394.9h0.7M122.6 395.5h0.7M106.8 394.4h0.7M126.7 395.5h0.7M119.2 391.2h0.7M122.3 390.4h0.7M109.5 400.9h0.7M119.2 391.8h0.7M112.7 395.0h0.7M122.2 403.1h0.7M121.4 393.6h0.7M120.8 399.5h0.7M121.8 402.0h0.7M128.2 401.7h0.7" stroke="#f3e6f1" stroke-width="0.7" fill="none"/>
<path d="M60.9 328.4h0.8M61.9 330.2h0.8M62.5 330.2h0.8M61.7 328.2h0.8M60.1 328.8h0.8M63.0 332.2h0.8M62.0 329.2h0.8M60.3 329.8h0.8M60.5 330.2h0.8M61.6 330.4h0.8M58.7 329.3h0.8M56.9 331.4h0.8M64.3 331.3h0.8M62.2 329.2h0.8M61.9 329.7h0.8M61.9 330.3h0.8M59.9 329.0h0.8M62.2 328.8h0.8M62.8 329.6h0.8M61.3 331.3h0.8M60.5 331.2h0.8M62.2 327.7h0.8M64.0 328.5h0.8M60.8 329.6h0.8M61.3 330.9h0.8M62.0 329.2h0.8M57.7 328.3h0.8M60.5 332.0h0.8M59.6 329.8h0.8M58.2 331.7h0.8M59.6 331.2h0.8M62.6 330.1h0.8M60.0 329.8h0.8M61.0 329.3h0.8M58.9 334.2h0.8M61.8 328.9h0.8M64.7 329.4h0.8M61.3 330.1h0.8M64.6 330.5h0.8M61.2 330.0h0.8M58.3 329.1h0.8M63.3 326.7h0.8M59.0 330.0h0.8M59.7 332.1h0.8M61.8 330.3h0.8M62.4 331.7h0.8M61.5 328.8h0.8M61.0 331.4h0.8M62.2 330.3h0.8M63.8 332.2h0.8M57.0 331.4h0.8M61.9 331.0h0.8M55.8 329.7h0.8M64.1 332.9h0.8M63.8 328.0h0.8M60.5 331.6h0.8M62.5 328.3h0.8M59.9 329.0h0.8M60.7 331.8h0.8M60.1 330.2h0.8M61.6 329.7h0.8M58.3 330.6h0.8M63.7 329.9h0.8M63.4 331.9h0.8M58.7 331.2h0.8M63.2 329.2h0.8M61.1 330.6h0.8M63.0 330.4h0.8M61.6 332.3h0.8M61.4 329.6h0.8M60.5 329.8h0.8M61.9 331.3h0.8M60.1 330.7h0.8M60.3 330.9h0.8M59.7 331.1h0.8M64.6 329.9h0.8M61.4 329.7h0.8M62.7 328.0h0.8M64.7 329.2h0.8M61.0 330.2h0.8" stroke="#59bfa6" stroke-width="0.8" fill="none"/>
<path d="M55.7 324.1h0.8M55.4 323.8h0.8M58.2 320.9h0.8M59.1 322.0h0.8M59.7 324.8h0.8M58.5 319.9h0.8M58.0 322.5h0.8M55.5 322.0h0.8M57.5 323.0h0.8M58.5 326.1h0.8M56.0 328.3h0.8M57.3 319.9h0.8M55.6 326.2h0.8M56.6 322.2h0.8M56.6 325.5h0.8M58.3 320.8h0.8M56.3 322.6h0.8M56.3 327.0h0.8M57.6 324.9h0.8M53.5 321.4h0.8M58.8 323.4h0.8M57.7 324.3h0.8M55.9 325.4h0.8M58.7 323.7h0.8M59.4 320.1h0.8M60.3 318.7h0.8M55.4 326.6h0.8M59.3 323.7h0.8M60.7 323.6h0.8M56.3 325.5h0.8M55.5 324.4h0.8M56.3 321.8h0.8M58.9 325.2h0.8M59.0 325.0h0.8M57.3 323.7h0.8M56.8 318.6h0.8M58.6 326.4h0.8M58.6 324.0h0.8M57.4 324.1h0.8M59.3 323.9h0.8M55.1 325.9h0.8M56.7 321.8h0.8M55.5 324.1h0.8M58.5 325.3h0.8M54.6 327.3h0.8M61.0 323.2h0.8M53.1 325.2h0.8M58.4 323.9h0.8M57.2 325.7h0.8M59.2 317.6h0.8M54.2 326.1h0.8M55.6 327.2h0.8M55.3 324.2h0.8M56.5 323.3h0.8M54.3 321.4h0.8M56.3 322.5h0.8M57.0 324.5h0.8M60.5 324.9h0.8M57.5 322.8h0.8M56.4 327.5h0.8M57.0 320.6h0.8M56.4 322.0h0.8M57.8 326.1h0.8M58.7 323.0h0.8M56.2 324.7h0.8M55.0 322.1h0.8M60.3 323.0h0.8M56.8 323.9h0.8M54.2 321.2h0.8M60.2 319.5h0.8M58.6 324.1h0.8M57.9 319.6h0.8M56.8 322.4h0.8M57.7 322.0h0.8M60.3 322.3h0.8M54.6 325.9h0.8M58.2 325.0h0.8M58.6 323.8h0.8M61.4 326.5h0.8M55.5 324.5h0.8M58.5 324.1h0.8M57.0 326.4h0.8M57.8 321.5h0.8M57.7 323.8h0.8M57.1 325.0h0.8M56.2 321.3h0.8M58.9 327.5h0.8M57.0 323.6h0.8M56.7 324.6h0.8M59.0 321.3h0.8M57.2 322.6h0.8M57.9 324.4h0.8M54.7 322.7h0.8M56.3 321.5h0.8M56.8 324.2h0.8M59.7 321.9h0.8M57.1 322.1h0.8M53.4 319.8h0.8M54.5 322.1h0.8M57.2 323.8h0.8M59.4 324.5h0.8M57.8 320.2h0.8M59.6 326.8h0.8M60.2 326.3h0.8M56.1 322.3h0.8M58.3 325.2h0.8M57.9 323.1h0.8M58.5 321.0h0.8M57.6 321.5h0.8M57.0 322.9h0.8M56.5 323.4h0.8M63.2 324.9h0.8M56.0 322.3h0.8M60.1 324.2h0.8M58.8 325.4h0.8M60.3 321.8h0.8M55.3 321.4h0.8M57.5 323.7h0.8M55.4 321.2h0.8M56.9 323.9h0.8M59.3 323.2h0.8M57.5 325.1h0.8M56.5 325.1h0.8M55.6 324.3h0.8M58.5 327.1h0.8M57.9 323.1h0.8M59.5 323.1h0.8M58.6 326.4h0.8M57.1 322.5h0.8M57.4 326.8h0.8M58.2 325.5h0.8M57.7 323.0h0.8M59.9 317.4h0.8M57.7 327.0h0.8M55.0 324.5h0.8M52.0 326.7h0.8M58.0 322.1h0.8M59.6 322.0h0.8M56.8 322.2h0.8M58.1 322.1h0.8M59.6 324.5h0.8M58.2 320.0h0.8M58.0 326.4h0.8M57.0 323.4h0.8M58.0 325.3h0.8M60.8 323.4h0.8M56.5 323.8h0.8M53.8 324.5h0.8M55.9 317.2h0.8M55.3 325.1h0.8M55.2 325.5h0.8M54.4 324.8h0.8M60.4 323.4h0.8M58.0 324.0h0.8M52.1 325.7h0.8M54.6 322.2h0.8M59.8 322.8h0.8M55.3 322.0h0.8M59.3 324.6h0.8M53.5 324.0h0.8M59.3 324.2h0.8M55.4 322.9h0.8M55.5 323.4h0.8M58.1 326.7h0.8M56.8 323.5h0.8M54.5 324.0h0.8M60.9 321.0h0.8M56.7 320.2h0.8M54.6 323.7h0.8M56.5 320.1h0.8M58.0 323.3h0.8M58.5 323.2h0.8M56.5 323.1h0.8M56.2 324.2h0.8M58.4 323.7h0.8M59.7 318.9h0.8M55.2 323.5h0.8M58.7 327.4h0.8M56.9 319.4h0.8M58.2 328.5h0.8M56.9 326.4h0.8M58.9 321.1h0.8M62.1 321.4h0.8M57.8 322.5h0.8M56.5 324.5h0.8M57.3 323.6h0.8M56.5 322.7h0.8M56.1 323.1h0.8M54.3 325.0h0.8M57.5 324.4h0.8M61.7 321.2h0.8M57.8 322.6h0.8M57.5 319.5h0.8M61.1 324.5h0.8M57.1 325.9h0.8M57.5 325.6h0.8M61.2 320.3h0.8M56.6 321.4h0.8M58.2 324.1h0.8M58.7 326.5h0.8M56.2 322.5h0.8M59.8 325.9h0.8M55.6 324.1h0.8M55.2 324.4h0.8M57.8 325.6h0.8M56.7 322.7h0.8M53.9 328.5h0.8M59.9 321.5h0.8M56.8 322.5h0.8M55.0 324.9h0.8M58.4 321.0h0.8M61.1 326.3h0.8M56.7 324.1h0.8M55.1 321.8h0.8M59.1 323.2h0.8M55.4 326.2h0.8M56.0 323.1h0.8M59.8 322.3h0.8M58.4 323.7h0.8M56.9 324.9h0.8M62.9 322.3h0.8M53.2 327.4h0.8M57.5 319.0h0.8M57.6 323.4h0.8M58.0 326.4h0.8M53.0 325.4h0.8M59.6 323.2h0.8M55.9 322.8h0.8M58.6 322.5h0.8M53.4 327.2h0.8M57.3 325.0h0.8M54.5 322.8h0.8M58.4 322.2h0.8M56.8 325.6h0.8M61.1 322.7h0.8M52.7 324.3h0.8M57.1 326.4h0.8M57.7 321.6h0.8M58.2 323.6h0.8M57.9 324.9h0.8M56.9 323.2h0.8M58.2 324.2h0.8M59.8 319.2h0.8M59.8 322.4h0.8M56.7 328.0h0.8M57.7 322.0h0.8M56.9 324.8h0.8M54.3 322.2h0.8M57.0 325.5h0.8M56.3 325.9h0.8M60.8 323.7h0.8M58.2 324.5h0.8M55.8 323.8h0.8M58.5 324.9h0.8M55.2 325.6h0.8M55.0 322.7h0.8M54.4 323.4h0.8M58.0 324.2h0.8M58.0 323.8h0.8M58.8 325.0h0.8M54.9 325.2h0.8M53.8 323.6h0.8M56.5 331.6h0.8M55.0 323.4h0.8M50.6 326.0h0.8M50.2 328.0h0.8M54.0 329.2h0.8M56.9 327.0h0.8M50.5 327.2h0.8M54.4 328.0h0.8M51.8 327.0h0.8M51.3 324.3h0.8M54.0 321.7h0.8M53.2 327.1h0.8M53.1 325.7h0.8M53.5 325.2h0.8M52.9 324.3h0.8M52.6 323.1h0.8M55.1 327.9h0.8M52.8 327.5h0.8M54.9 324.1h0.8M51.6 329.1h0.8M51.8 326.7h0.8M53.3 325.2h0.8M51.8 327.1h0.8M54.6 329.8h0.8M52.0 326.5h0.8M54.8 322.5h0.8M49.5 324.0h0.8M54.3 328.8h0.8M51.8 325.4h0.8M52.0 318.4h0.8M53.0 326.0h0.8M54.9 328.3h0.8M53.0 322.3h0.8M51.9 330.3h0.8M54.5 325.4h0.8M53.9 324.4h0.8M50.6 329.2h0.8M55.3 324.0h0.8M54.3 325.9h0.8M53.2 325.3h0.8M52.8 321.9h0.8M51.3 321.8h0.8M53.7 326.8h0.8M53.1 324.5h0.8M53.7 327.6h0.8M51.3 330.6h0.8M51.2 325.8h0.8M53.9 324.1h0.8M53.6 324.1h0.8M56.7 323.8h0.8M53.4 327.2h0.8M54.0 324.3h0.8M54.4 325.7h0.8M54.7 327.2h0.8M53.6 324.1h0.8M51.4 320.9h0.8M53.0 326.7h0.8M53.3 330.4h0.8M52.4 328.1h0.8M52.0 324.2h0.8M54.5 324.8h0.8M54.0 323.7h0.8M53.0 327.5h0.8M52.9 325.0h0.8M53.2 328.1h0.8M52.5 325.2h0.8M54.4 324.2h0.8M52.6 324.9h0.8M55.2 328.3h0.8M53.9 328.8h0.8M53.7 327.3h0.8M53.3 322.9h0.8M54.6 322.1h0.8M53.8 322.8h0.8M52.7 328.7h0.8M52.6 326.6h0.8M54.5 325.7h0.8M52.3 326.4h0.8" stroke="#2456b8" stroke-width="0.8" fill="none"/>
<path d="M49.5 327.3h0.8M50.2 328.9h0.8M50.2 322.9h0.8M47.8 323.1h0.8M47.8 321.9h0.8M50.4 322.7h0.8M46.0 327.1h0.8M50.3 327.5h0.8M49.3 322.1h0.8M51.5 327.9h0.8M51.6 324.8h0.8M48.2 323.8h0.8M51.5 323.8h0.8M50.0 330.1h0.8M43.2 327.8h0.8M49.0 328.7h0.8M48.2 326.7h0.8M46.1 323.8h0.8M55.9 327.9h0.8M47.9 325.0h0.8M50.7 326.5h0.8M47.8 323.8h0.8M48.5 331.1h0.8M51.5 323.1h0.8M51.6 321.6h0.8M46.2 323.7h0.8M49.4 328.0h0.8M44.6 326.1h0.8M49.0 328.1h0.8M46.9 326.5h0.8M51.6 328.0h0.8M48.3 325.7h0.8M53.6 322.9h0.8M47.9 327.1h0.8M51.6 327.6h0.8M50.0 327.3h0.8M46.7 328.3h0.8M45.7 323.5h0.8M47.5 326.8h0.8M44.8 323.3h0.8M46.7 326.1h0.8M46.2 322.2h0.8M51.8 327.6h0.8M48.5 324.9h0.8M50.9 325.8h0.8M46.0 324.8h0.8M49.7 328.1h0.8M52.0 327.0h0.8M53.2 323.9h0.8M47.3 330.4h0.8M48.4 329.7h0.8M43.8 328.5h0.8M50.0 332.0h0.8M52.5 323.6h0.8M47.0 323.1h0.8M54.7 328.9h0.8M49.4 329.8h0.8M51.5 321.0h0.8M51.3 323.1h0.8M51.6 326.7h0.8M48.3 324.5h0.8M49.4 329.3h0.8M49.7 325.3h0.8M52.5 325.9h0.8M48.0 322.3h0.8M46.9 324.5h0.8M46.6 330.3h0.8M46.9 331.6h0.8M49.5 330.3h0.8M50.0 322.8h0.8M49.7 323.2h0.8M46.5 331.5h0.8M52.3 332.0h0.8M48.9 324.6h0.8M48.7 325.8h0.8M52.2 329.0h0.8M49.4 327.1h0.8M42.3 323.2h0.8M45.2 327.9h0.8M49.9 327.5h0.8M49.7 326.3h0.8M50.1 326.9h0.8M50.4 325.5h0.8M49.3 326.3h0.8M44.8 327.1h0.8M45.6 324.2h0.8M49.1 330.4h0.8M47.7 327.0h0.8M51.8 326.1h0.8M53.8 324.1h0.8M50.1 325.5h0.8M51.8 329.8h0.8M49.9 326.0h0.8M50.4 325.0h0.8M44.8 324.6h0.8M46.7 325.4h0.8M53.1 327.1h0.8M47.4 325.3h0.8M51.6 326.6h0.8M54.0 330.8h0.8M49.7 326.5h0.8M47.8 320.0h0.8M47.9 327.1h0.8M48.0 330.5h0.8M48.6 328.2h0.8M50.6 325.3h0.8M47.5 326.7h0.8M49.4 327.6h0.8M45.0 324.6h0.8M53.3 326.9h0.8M43.9 323.3h0.8M50.4 325.3h0.8M50.6 328.4h0.8M44.3 322.8h0.8M49.9 322.7h0.8M49.8 325.3h0.8M49.8 323.8h0.8M43.3 328.2h0.8M49.0 326.3h0.8M49.0 327.7h0.8M46.5 325.4h0.8M47.0 326.5h0.8M50.6 321.0h0.8M52.2 327.3h0.8M50.4 326.6h0.8M46.9 325.2h0.8M46.2 326.9h0.8M53.5 323.9h0.8M48.2 326.5h0.8M48.7 327.2h0.8M51.7 330.1h0.8M49.3 323.9h0.8M49.6 323.8h0.8M53.3 326.8h0.8M45.0 322.5h0.8M48.8 327.0h0.8M50.6 324.0h0.8M46.1 323.0h0.8M50.8 325.8h0.8M50.2 329.3h0.8M46.9 330.6h0.8M50.5 323.7h0.8M49.9 323.7h0.8M50.1 324.6h0.8M54.9 325.8h0.8M45.5 329.2h0.8M53.2 330.8h0.8M49.3 321.8h0.8M47.1 327.1h0.8M50.7 326.0h0.8M50.0 322.7h0.8M50.7 323.9h0.8M50.5 328.9h0.8M49.4 333.4h0.8M49.6 324.1h0.8M47.7 327.2h0.8M51.7 327.3h0.8M47.9 325.7h0.8M48.4 328.7h0.8M48.7 324.9h0.8M50.8 321.6h0.8M46.5 326.8h0.8M48.8 328.2h0.8M48.1 331.5h0.8M48.7 321.5h0.8M49.8 322.4h0.8M48.1 327.3h0.8M47.7 322.1h0.8M51.1 328.9h0.8M48.9 326.1h0.8M49.4 323.5h0.8M49.9 327.0h0.8M52.7 326.2h0.8M54.2 323.5h0.8M49.8 325.4h0.8M43.8 325.5h0.8M49.2 322.0h0.8M49.2 327.1h0.8M48.9 325.8h0.8M46.3 324.9h0.8M45.8 324.9h0.8M51.5 324.8h0.8M52.4 323.8h0.8M46.6 324.8h0.8M51.6 329.9h0.8M49.5 326.5h0.8M49.5 325.3h0.8M48.9 331.7h0.8M49.0 323.5h0.8M46.6 324.7h0.8M51.2 323.3h0.8M52.4 327.2h0.8M48.5 325.0h0.8M47.7 327.6h0.8M48.4 328.4h0.8M49.5 330.5h0.8M49.1 324.4h0.8M49.5 327.8h0.8M50.4 331.4h0.8M52.2 325.6h0.8M47.1 322.0h0.8M46.0 320.8h0.8M49.8 327.3h0.8M45.1 328.2h0.8M46.5 324.6h0.8M48.3 329.0h0.8M48.4 323.0h0.8M51.3 325.2h0.8M44.7 332.3h0.8M51.5 320.6h0.8M44.9 327.4h0.8M47.9 326.6h0.8M48.1 327.0h0.8M44.9 323.7h0.8M47.3 324.1h0.8M46.1 324.5h0.8M46.5 329.8h0.8M50.7 327.4h0.8M43.1 325.3h0.8M46.1 326.2h0.8M48.9 324.4h0.8M47.0 327.7h0.8M53.0 329.1h0.8M46.4 326.0h0.8M45.9 328.3h0.8M45.3 325.3h0.8M46.1 326.5h0.8M46.7 327.8h0.8M54.2 323.0h0.8M51.0 323.5h0.8M49.5 322.1h0.8M49.9 322.0h0.8M52.9 333.6h0.8M45.7 326.7h0.8M46.5 323.8h0.8M46.5 324.9h0.8M47.2 331.5h0.8M49.2 327.9h0.8M50.1 322.4h0.8M47.1 325.1h0.8M52.7 324.3h0.8M48.2 322.8h0.8M49.7 328.1h0.8M45.7 324.6h0.8M49.7 329.5h0.8M46.5 323.7h0.8M50.2 329.0h0.8M50.4 323.7h0.8M47.9 328.6h0.8M51.9 325.3h0.8M52.1 325.1h0.8M48.9 325.0h0.8M45.0 321.8h0.8M49.1 324.9h0.8M48.1 325.8h0.8M51.1 329.9h0.8M46.9 324.7h0.8M50.0 321.5h0.8M48.4 330.7h0.8M48.8 326.1h0.8M45.6 328.0h0.8M51.6 323.3h0.8M50.3 324.0h0.8M45.5 330.6h0.8M50.5 323.7h0.8M45.1 324.5h0.8M45.1 325.0h0.8M48.5 324.0h0.8M53.6 324.7h0.8M50.4 329.9h0.8M50.0 324.3h0.8M50.5 325.0h0.8M46.4 328.2h0.8M50.4 333.4h0.8M50.1 329.1h0.8M46.7 327.8h0.8M49.8 329.1h0.8M51.1 321.3h0.8M45.3 326.9h0.8M46.7 328.1h0.8M50.5 325.5h0.8M48.3 328.0h0.8M49.5 320.5h0.8M54.1 326.6h0.8M48.3 323.7h0.8M49.5 326.7h0.8M51.7 325.9h0.8M50.0 326.6h0.8M49.6 327.3h0.8M50.7 329.6h0.8M53.4 329.2h0.8M43.5 327.1h0.8M51.2 329.6h0.8M46.3 324.3h0.8M46.4 326.5h0.8M52.7 326.7h0.8M49.7 328.9h0.8M47.2 326.4h0.8M47.4 325.2h0.8M51.0 325.7h0.8M49.3 325.5h0.8M48.2 326.2h0.8M49.1 321.9h0.8M49.6 323.1h0.8M52.0 327.0h0.8M52.3 320.5h0.8M47.9 323.6h0.8M50.7 328.0h0.8M49.1 328.6h0.8M51.4 327.4h0.8M47.7 327.4h0.8M50.1 321.7h0.8M52.5 325.9h0.8M48.6 325.3h0.8M46.5 322.5h0.8M51.2 323.5h0.8M49.2 326.6h0.8M50.1 320.2h0.8M50.7 326.9h0.8M50.1 324.1h0.8M47.0 325.7h0.8M44.8 328.2h0.8M50.7 326.4h0.8M45.2 326.9h0.8M48.1 325.9h0.8M48.0 327.6h0.8M47.7 325.0h0.8M50.1 332.5h0.8M50.4 332.5h0.8M49.2 327.1h0.8M48.6 326.8h0.8M50.6 325.9h0.8M46.5 327.0h0.8M53.7 323.5h0.8M45.7 329.7h0.8M51.3 322.5h0.8M45.7 329.7h0.8M50.8 328.6h0.8M47.3 328.3h0.8M49.6 320.5h0.8M50.9 331.7h0.8M50.0 327.4h0.8M46.9 332.2h0.8M52.5 323.1h0.8M50.5 326.8h0.8M54.0 330.5h0.8M48.5 327.9h0.8M48.2 326.3h0.8M43.9 324.9h0.8M48.8 324.1h0.8M45.9 325.3h0.8M48.9 324.1h0.8M49.1 326.2h0.8M47.7 324.8h0.8M50.9 328.2h0.8M48.5 327.0h0.8M47.4 322.2h0.8M52.2 323.4h0.8M49.9 331.5h0.8M50.6 328.5h0.8M49.6 325.1h0.8M49.6 328.3h0.8M47.3 329.1h0.8M44.4 324.1h0.8M50.6 327.4h0.8M49.7 325.9h0.8M46.5 326.6h0.8M47.2 328.5h0.8M47.4 328.0h0.8M55.8 327.0h0.8M50.5 321.4h0.8M47.8 323.5h0.8M45.1 324.3h0.8M45.7 329.8h0.8M47.0 327.9h0.8M48.2 328.2h0.8M50.6 328.2h0.8M46.5 328.9h0.8M51.2 332.0h0.8M54.0 326.0h0.8" stroke="#cc2230" stroke-width="0.8" fill="none"/>
<circle cx="49.6" cy="325.4" r="9.3" fill="none" stroke="#e3000f" stroke-width="1.7"/>
<ellipse cx="141.6" cy="331.6" rx="5.2" ry="5.0" fill="#f4a560"/>
<ellipse cx="137.2" cy="333.6" rx="3.2" ry="4.0" fill="#a06ad8"/>
<path d="M143.1 331.0h0.8M141.8 330.3h0.8M143.2 329.5h0.8M143.0 332.8h0.8M143.5 333.2h0.8M142.7 331.9h0.8M144.6 330.6h0.8M142.4 329.7h0.8M144.5 334.9h0.8M139.7 332.8h0.8M143.2 333.3h0.8M143.6 332.9h0.8M146.7 326.8h0.8M141.5 334.4h0.8M143.0 333.3h0.8M143.7 334.2h0.8M141.7 333.9h0.8M142.8 334.8h0.8M142.6 333.2h0.8M141.1 334.2h0.8M140.9 335.3h0.8M146.1 334.7h0.8M142.6 327.4h0.8M138.4 331.6h0.8M145.8 329.1h0.8M143.7 330.0h0.8M140.8 328.6h0.8M141.6 331.3h0.8M140.3 326.0h0.8M141.3 331.6h0.8M141.2 332.6h0.8M140.9 330.3h0.8M139.8 333.4h0.8M142.2 330.7h0.8M144.3 335.7h0.8M141.8 330.8h0.8M145.4 329.5h0.8M140.6 330.4h0.8M141.0 333.8h0.8M137.7 332.0h0.8M143.6 329.9h0.8M142.9 333.3h0.8M142.0 328.9h0.8M143.0 333.6h0.8M140.6 330.9h0.8M143.7 332.4h0.8M138.8 333.3h0.8M141.7 329.5h0.8M145.4 329.9h0.8M141.7 332.0h0.8M144.7 333.7h0.8M140.9 333.3h0.8M140.5 334.6h0.8M140.0 327.4h0.8M142.9 328.5h0.8M146.0 330.8h0.8M146.2 328.8h0.8M144.4 331.2h0.8M142.8 329.6h0.8M143.2 332.0h0.8M148.1 331.6h0.8M143.6 330.8h0.8M144.5 330.8h0.8M142.9 331.5h0.8M142.7 332.2h0.8M142.5 328.9h0.8M144.2 330.6h0.8M140.7 329.7h0.8M142.7 332.0h0.8M144.3 330.5h0.8M141.1 332.8h0.8M144.7 333.8h0.8M138.5 332.8h0.8M142.7 331.4h0.8M142.1 335.5h0.8M143.1 333.5h0.8M139.8 330.8h0.8M143.9 333.6h0.8M144.7 331.6h0.8M145.6 330.9h0.8M141.2 331.1h0.8M145.4 330.9h0.8M140.0 331.9h0.8M141.1 333.9h0.8M142.7 332.2h0.8M143.1 328.1h0.8M140.1 331.3h0.8M140.8 332.7h0.8M143.0 330.9h0.8M143.1 331.6h0.8M139.4 332.0h0.8M144.1 330.2h0.8M141.2 331.3h0.8M143.9 332.1h0.8M141.2 331.5h0.8M141.5 328.6h0.8M139.3 330.4h0.8M144.9 334.0h0.8M140.5 336.0h0.8M141.2 329.1h0.8M139.0 328.6h0.8M144.5 332.1h0.8M142.8 329.4h0.8M144.2 329.6h0.8M138.2 330.9h0.8M142.7 334.2h0.8M140.5 335.0h0.8M146.1 330.5h0.8M143.5 329.4h0.8M142.6 330.1h0.8M137.1 331.8h0.8M143.5 332.6h0.8M145.3 333.3h0.8M139.0 332.4h0.8M142.7 331.5h0.8M142.9 329.9h0.8M141.5 329.0h0.8M144.0 329.0h0.8M143.1 332.8h0.8M141.8 333.0h0.8" stroke="#ee8a2c" stroke-width="0.8" fill="none"/>
<path d="M136.9 335.1h0.8M137.7 335.4h0.8M137.2 333.8h0.8M136.1 334.6h0.8M138.8 334.1h0.8M138.4 332.7h0.8M135.7 331.8h0.8M135.8 333.5h0.8M135.8 332.9h0.8M137.4 333.3h0.8M135.9 334.1h0.8M137.6 331.5h0.8M140.1 335.7h0.8M137.9 331.7h0.8M136.3 335.2h0.8M139.9 332.8h0.8M135.2 335.8h0.8M136.6 335.3h0.8M136.1 333.3h0.8M136.6 331.6h0.8M138.4 331.3h0.8M137.0 334.6h0.8M136.5 333.1h0.8M137.2 335.2h0.8M136.2 334.0h0.8M138.8 333.5h0.8M135.5 334.0h0.8M133.6 333.5h0.8M137.6 334.8h0.8M137.7 332.0h0.8M138.3 335.1h0.8M137.4 333.7h0.8M136.8 331.9h0.8M137.3 332.6h0.8M138.4 335.5h0.8M137.0 336.8h0.8M137.8 337.5h0.8M138.6 336.3h0.8M135.0 333.4h0.8M139.5 332.8h0.8M135.2 331.8h0.8M136.9 332.4h0.8M136.3 330.5h0.8M136.6 332.2h0.8M137.8 336.5h0.8M137.4 335.1h0.8M137.1 333.8h0.8M135.9 333.4h0.8M138.3 332.5h0.8M138.1 331.1h0.8M138.0 333.6h0.8M137.8 332.6h0.8M137.0 334.3h0.8M140.0 332.6h0.8M138.0 337.7h0.8M137.6 334.0h0.8M139.1 331.4h0.8M135.6 332.3h0.8M140.0 331.9h0.8M137.1 332.3h0.8M137.8 333.9h0.8M136.3 333.2h0.8M138.2 333.4h0.8M136.4 331.8h0.8M140.3 329.7h0.8M137.0 333.6h0.8M136.6 334.6h0.8M134.5 333.3h0.8M135.7 333.7h0.8M136.8 334.2h0.8M134.9 333.6h0.8M137.0 333.0h0.8M136.5 332.7h0.8M139.4 335.1h0.8M137.2 334.3h0.8M138.4 332.8h0.8M135.6 334.6h0.8M136.7 334.8h0.8M137.6 331.0h0.8M138.7 333.0h0.8" stroke="#7a36d0" stroke-width="0.8" fill="none"/>
<line x1="41.50" y1="332.50" x2="37.50" y2="336.20" stroke="#e57a7a" stroke-width="0.6"/>
<line x1="87.40" y1="386.20" x2="86.30" y2="392.90" stroke="#a040b0" stroke-width="0.6"/>
<line x1="140.00" y1="322.50" x2="140.00" y2="326.00" stroke="#a040b0" stroke-width="0.5"/>
<line x1="111.30" y1="378.80" x2="112.00" y2="384.40" stroke="#a040b0" stroke-width="0.5"/>
<circle cx="69.20" cy="375.60" r="0.50" fill="#a040b0"/>
<text x="43.20" y="313.00" font-size="7.4" fill="#3b78c6" stroke="#3b78c6" stroke-width="0.12" textLength="43.30" lengthAdjust="spacingAndGlyphs"><tspan>CD8</tspan><tspan font-size="5.03" dy="-3">+</tspan><tspan dy="3"> T cells</tspan></text>
<text x="9.40" y="345.80" font-size="7.4" fill="#e46262" stroke="#e46262" stroke-width="0.12" textLength="48.50" lengthAdjust="spacingAndGlyphs"><tspan>CD8</tspan><tspan font-size="5.03" dy="-3">+</tspan><tspan dy="3"> H-2Kb</tspan><tspan font-size="5.03" dy="-3">+</tspan></text>
<text x="22.90" y="355.20" font-size="7.4" fill="#e46262" stroke="#e46262" stroke-width="0.15" textLength="21.50" lengthAdjust="spacingAndGlyphs">T cells</text>
<text x="69.50" y="339.00" font-size="7.4" fill="#62c2a4" stroke="#62c2a4" stroke-width="0.12" textLength="35.50" lengthAdjust="spacingAndGlyphs"><tspan>CD4</tspan><tspan font-size="5.03" dy="-3">−</tspan><tspan dy="3">CD8</tspan><tspan font-size="5.03" dy="-3">−</tspan></text>
<text x="78.00" y="348.50" font-size="7.4" fill="#62c2a4" stroke="#62c2a4" stroke-width="0.15" textLength="21.60" lengthAdjust="spacingAndGlyphs">T cells</text>
<text x="114.90" y="319.50" font-size="7.4" fill="#b46ae0" stroke="#b46ae0" stroke-width="0.12" textLength="43.60" lengthAdjust="spacingAndGlyphs"><tspan>CD4</tspan><tspan font-size="5.03" dy="-3">+</tspan><tspan dy="3"> T cells</tspan></text>
<text x="140.80" y="349.00" font-size="7.4" fill="#f7a464" stroke="#f7a464" stroke-width="0.12" textLength="48.50" lengthAdjust="spacingAndGlyphs"><tspan>CD4</tspan><tspan font-size="5.03" dy="-3">+</tspan><tspan dy="3"> H-2Kb</tspan><tspan font-size="5.03" dy="-3">+</tspan></text>
<text x="154.20" y="358.50" font-size="7.4" fill="#f7a464" stroke="#f7a464" stroke-width="0.15" textLength="21.50" lengthAdjust="spacingAndGlyphs">T cells</text>
<text x="80.20" y="370.50" font-size="7.4" fill="#a033b5" stroke="#a033b5" stroke-width="0.15" textLength="16.80" lengthAdjust="spacingAndGlyphs">AML</text>
<text x="81.30" y="380.20" font-size="7.4" fill="#a033b5" stroke="#a033b5" stroke-width="0.15" textLength="15.10" lengthAdjust="spacingAndGlyphs">cells</text>
<path d="M22.7 411.2V445.4H54.8" fill="none" stroke="#111" stroke-width="1.2"/>
<text x="25.00" y="407.30" font-size="8.2" fill="#111" textLength="29.80" lengthAdjust="spacingAndGlyphs" transform="rotate(-90 25.00 407.30)">Umap2</text>
<text x="57.70" y="448.10" font-size="8.2" fill="#111" textLength="29.80" lengthAdjust="spacingAndGlyphs">Umap1</text>
<path d="M238.8 393.3h0.9M263.7 380.3h0.9M241.5 399.7h0.9M272.9 382.3h0.9M256.8 365.2h0.9M254.1 384.8h0.9M248.2 380.6h0.9M268.1 412.1h0.9M256.3 381.0h0.9M259.2 396.9h0.9M241.8 388.3h0.9M259.5 389.1h0.9M271.1 380.5h0.9M252.3 361.2h0.9M233.7 371.5h0.9M257.9 395.7h0.9M274.5 399.8h0.9M276.8 387.8h0.9M252.6 386.6h0.9M264.2 403.3h0.9M231.3 378.3h0.9M258.6 370.7h0.9M256.2 364.2h0.9M250.1 394.5h0.9M267.7 404.7h0.9M230.4 379.3h0.9M239.3 394.6h0.9M243.4 393.7h0.9M256.7 384.6h0.9M261.9 382.1h0.9M257.9 385.3h0.9M270.4 378.3h0.9M251.3 364.6h0.9M232.6 377.5h0.9M243.1 394.2h0.9M254.2 365.2h0.9M263.5 410.2h0.9M234.5 380.3h0.9M277.3 398.9h0.9M263.3 397.6h0.9M267.1 392.9h0.9M250.5 388.7h0.9M269.4 379.2h0.9M238.1 392.8h0.9M240.6 387.6h0.9M244.7 374.1h0.9M250.4 367.5h0.9M231.0 381.6h0.9M235.0 369.7h0.9M254.1 406.0h0.9M272.0 401.5h0.9M240.0 375.5h0.9M272.6 402.8h0.9M269.7 397.6h0.9M273.3 388.1h0.9M262.9 379.8h0.9M272.5 371.5h0.9M244.3 372.5h0.9M245.8 389.4h0.9M233.6 382.3h0.9M232.0 381.2h0.9M251.7 393.4h0.9M268.6 383.1h0.9M267.7 381.2h0.9M272.8 406.7h0.9M248.7 388.6h0.9M273.3 373.0h0.9M252.5 386.5h0.9M277.5 382.4h0.9M236.5 365.5h0.9M270.9 397.1h0.9M252.8 374.0h0.9M258.6 379.0h0.9M261.1 400.3h0.9M265.3 386.6h0.9M240.5 364.7h0.9M269.0 400.9h0.9M249.7 401.8h0.9M256.5 379.2h0.9M250.7 389.5h0.9M275.9 397.1h0.9M275.0 405.7h0.9M241.6 393.1h0.9M247.8 390.8h0.9M268.5 387.4h0.9M253.6 381.6h0.9M263.8 390.0h0.9M249.4 372.0h0.9M270.1 390.0h0.9M254.3 382.4h0.9M241.9 399.5h0.9M234.6 380.9h0.9M238.8 400.1h0.9M247.4 370.9h0.9M263.1 403.1h0.9M251.5 397.7h0.9M240.8 393.9h0.9M260.6 401.2h0.9M249.0 399.2h0.9M231.8 381.5h0.9M268.2 383.4h0.9M265.3 391.2h0.9M250.7 400.2h0.9M232.8 368.4h0.9M234.8 370.7h0.9M237.9 369.7h0.9M253.5 364.9h0.9M259.5 373.1h0.9M246.2 371.0h0.9M264.5 378.5h0.9M269.1 383.3h0.9M249.9 367.9h0.9M261.6 402.1h0.9M266.7 380.3h0.9M266.1 398.4h0.9M265.9 410.3h0.9M238.9 375.1h0.9M244.2 399.8h0.9M262.5 396.6h0.9M277.4 401.6h0.9M267.3 382.4h0.9M252.9 391.7h0.9M232.6 390.0h0.9M267.3 402.3h0.9M237.2 372.0h0.9M263.6 401.3h0.9M244.8 399.1h0.9M260.4 384.9h0.9M275.1 403.0h0.9M251.0 399.6h0.9M254.5 393.5h0.9M255.8 406.9h0.9M238.9 384.6h0.9M263.7 389.6h0.9M262.2 375.3h0.9M253.4 397.0h0.9M239.9 369.1h0.9M236.2 383.6h0.9M258.4 397.2h0.9M244.0 392.2h0.9M269.8 376.8h0.9M258.4 366.0h0.9M236.1 368.7h0.9M258.6 393.7h0.9M257.1 384.9h0.9M252.3 392.9h0.9M266.8 377.3h0.9M279.5 389.6h0.9M275.5 381.0h0.9M261.1 405.9h0.9M233.2 373.0h0.9M247.8 399.9h0.9M242.0 398.3h0.9M275.0 380.4h0.9M275.6 387.8h0.9M239.0 375.2h0.9M273.6 379.3h0.9M239.9 386.9h0.9M264.2 378.3h0.9M248.2 392.2h0.9M268.6 375.5h0.9M269.9 411.0h0.9M257.8 366.1h0.9M249.0 381.5h0.9M276.9 400.2h0.9M251.8 390.5h0.9M271.3 374.1h0.9M249.2 399.4h0.9M265.3 406.8h0.9M247.5 364.7h0.9M243.8 399.0h0.9M237.4 384.4h0.9M256.1 406.5h0.9M272.7 375.3h0.9M269.1 385.7h0.9M278.9 393.2h0.9M255.8 374.3h0.9M231.3 384.0h0.9M267.7 406.9h0.9M260.8 367.3h0.9M257.8 399.5h0.9M266.9 399.0h0.9M255.2 399.1h0.9M243.3 380.7h0.9M263.6 403.3h0.9M242.9 391.8h0.9M255.3 390.7h0.9M264.0 409.3h0.9M264.2 391.3h0.9M246.7 404.1h0.9M236.9 372.1h0.9M245.9 374.5h0.9M241.0 401.3h0.9M248.1 384.6h0.9M258.1 390.0h0.9M260.7 375.8h0.9M262.2 386.1h0.9M265.7 378.7h0.9M257.9 402.1h0.9M276.3 382.6h0.9M232.3 380.4h0.9M252.6 367.0h0.9M268.6 371.9h0.9M239.3 394.6h0.9M253.2 393.6h0.9M273.2 395.3h0.9M256.0 388.3h0.9M270.7 403.8h0.9M234.3 374.0h0.9M260.3 401.3h0.9M257.7 399.5h0.9M249.8 392.5h0.9M272.3 387.8h0.9M236.1 397.9h0.9M266.9 407.8h0.9M233.8 388.6h0.9M237.1 393.1h0.9M271.4 403.1h0.9M263.1 389.4h0.9M235.1 361.6h0.9M259.7 378.6h0.9M263.8 379.0h0.9M234.1 390.6h0.9M272.7 372.3h0.9M267.8 383.5h0.9M246.6 380.3h0.9M270.4 404.8h0.9M276.0 395.3h0.9M265.0 400.8h0.9M236.3 378.2h0.9M253.1 368.3h0.9M249.8 367.7h0.9M246.3 377.5h0.9M270.7 377.2h0.9M252.1 391.1h0.9M244.7 384.7h0.9M276.4 399.8h0.9M249.5 378.8h0.9M265.7 394.1h0.9M232.2 379.4h0.9M258.1 388.5h0.9M241.4 399.3h0.9M262.2 377.7h0.9M257.7 379.6h0.9M237.2 363.2h0.9M278.0 401.1h0.9M249.7 395.6h0.9M251.8 401.8h0.9M249.1 364.7h0.9M260.8 374.4h0.9M236.9 391.4h0.9M265.4 395.3h0.9M235.4 383.2h0.9M235.8 370.7h0.9M268.0 378.8h0.9M260.1 383.6h0.9M243.2 372.5h0.9M267.8 376.7h0.9M269.4 374.9h0.9M257.2 376.8h0.9M259.0 378.7h0.9M270.0 398.9h0.9M257.7 369.0h0.9M265.0 383.2h0.9M261.3 407.8h0.9M277.5 391.9h0.9M248.0 388.0h0.9M248.2 401.0h0.9M259.4 404.3h0.9M240.8 371.3h0.9M245.4 378.9h0.9M254.4 399.4h0.9M243.6 369.5h0.9M233.7 366.2h0.9M266.7 406.3h0.9M264.3 397.7h0.9M255.2 401.4h0.9M240.3 383.8h0.9M245.5 384.6h0.9M253.6 395.6h0.9M235.5 360.5h0.9M260.7 373.6h0.9M277.6 399.3h0.9M249.9 388.0h0.9M241.6 395.0h0.9M268.1 412.2h0.9M239.6 376.2h0.9M271.9 378.1h0.9M239.3 392.4h0.9M249.0 380.1h0.9M271.4 407.0h0.9M274.9 376.7h0.9M240.1 370.1h0.9M233.5 378.7h0.9M240.6 377.7h0.9M263.9 376.7h0.9M250.7 404.8h0.9M273.6 384.9h0.9M235.4 371.3h0.9M268.9 393.2h0.9M277.3 387.3h0.9M260.6 409.0h0.9M257.6 370.7h0.9M253.5 385.3h0.9M254.5 403.3h0.9M276.0 395.9h0.9M240.5 393.6h0.9M275.9 386.2h0.9M270.1 408.9h0.9M272.7 379.9h0.9M272.9 406.7h0.9M271.3 378.7h0.9M238.5 375.4h0.9M232.8 370.3h0.9M253.8 394.2h0.9M268.0 400.4h0.9M272.3 381.6h0.9M261.8 381.4h0.9M266.9 400.1h0.9M258.6 389.8h0.9M275.8 380.2h0.9M274.4 385.9h0.9M240.1 389.3h0.9M273.8 378.2h0.9M246.6 394.6h0.9M246.4 380.7h0.9M259.0 368.4h0.9M255.4 401.9h0.9M233.4 394.3h0.9M241.7 397.9h0.9M249.9 396.3h0.9M263.6 376.0h0.9M261.9 381.2h0.9M258.8 396.6h0.9M260.4 404.3h0.9M249.1 381.8h0.9M243.3 361.5h0.9M268.2 377.9h0.9M231.2 374.9h0.9M231.2 388.6h0.9M272.8 402.5h0.9M281.6 393.4h0.9M257.0 378.7h0.9M257.9 390.7h0.9M258.7 390.6h0.9M258.5 387.5h0.9M255.4 406.1h0.9M249.4 368.1h0.9M269.9 373.2h0.9M274.5 393.7h0.9M280.7 392.0h0.9M253.0 386.7h0.9M250.6 385.5h0.9M243.8 403.5h0.9M272.2 378.1h0.9M259.5 373.7h0.9M270.9 402.3h0.9M235.9 376.2h0.9M264.2 410.5h0.9M238.4 371.4h0.9M243.1 373.5h0.9M254.6 397.4h0.9M279.4 396.6h0.9M236.7 362.0h0.9M255.7 401.1h0.9M252.2 406.6h0.9M269.9 373.8h0.9M271.4 387.7h0.9M257.5 377.4h0.9M240.0 381.3h0.9M255.5 398.4h0.9M236.6 382.2h0.9M241.1 387.8h0.9M241.0 391.8h0.9M266.4 407.7h0.9M252.1 379.1h0.9M235.4 389.1h0.9M273.4 398.3h0.9M239.1 367.3h0.9M273.3 402.8h0.9M268.9 377.8h0.9M281.2 397.3h0.9M269.9 383.9h0.9M254.2 400.3h0.9M253.5 400.0h0.9M270.5 408.1h0.9M271.3 393.5h0.9M263.2 380.8h0.9M278.9 385.5h0.9M247.0 371.5h0.9M257.9 391.6h0.9M253.0 407.1h0.9M270.8 381.8h0.9M260.3 400.4h0.9M256.5 381.9h0.9M232.8 381.7h0.9M273.7 384.0h0.9M262.4 388.5h0.9M266.5 407.0h0.9M259.5 391.8h0.9M271.8 394.7h0.9M235.5 363.0h0.9M263.3 386.8h0.9M272.8 398.7h0.9M268.4 406.1h0.9M265.3 409.9h0.9M234.4 379.4h0.9M249.9 377.3h0.9M256.6 408.1h0.9M278.7 394.5h0.9M272.1 407.3h0.9M265.1 374.6h0.9M278.0 400.3h0.9M260.3 388.5h0.9M245.6 395.6h0.9M256.3 382.9h0.9M260.2 382.0h0.9M265.6 390.2h0.9M251.2 388.0h0.9M254.2 395.9h0.9M258.7 382.3h0.9M262.2 397.5h0.9M249.8 390.0h0.9M252.1 404.6h0.9M274.4 393.3h0.9M250.4 402.3h0.9M277.8 392.1h0.9M255.2 398.6h0.9M253.2 383.4h0.9M237.2 388.0h0.9M251.7 373.0h0.9M241.2 387.2h0.9M262.2 385.1h0.9M267.7 393.7h0.9M249.5 387.7h0.9M265.8 400.5h0.9M255.2 407.5h0.9M234.8 390.8h0.9M248.8 381.5h0.9M257.9 387.8h0.9M268.7 377.3h0.9M254.3 364.1h0.9M279.3 391.9h0.9M271.8 377.7h0.9M230.7 382.7h0.9M262.6 377.5h0.9M253.2 384.5h0.9M279.2 397.5h0.9M255.1 379.0h0.9M239.3 384.4h0.9M275.7 389.8h0.9M261.8 378.6h0.9M281.1 393.5h0.9M258.0 385.8h0.9M231.3 378.6h0.9M245.6 379.7h0.9M234.6 393.4h0.9M231.1 381.3h0.9M235.8 360.2h0.9M245.1 371.4h0.9M230.7 375.5h0.9M236.5 378.9h0.9M240.9 396.0h0.9M259.4 379.0h0.9M269.3 396.7h0.9M243.1 374.4h0.9M246.8 381.3h0.9M245.2 370.5h0.9M249.3 405.9h0.9M253.6 392.5h0.9M240.7 351.2h0.9M249.8 404.8h0.9M247.1 403.4h0.9M250.2 373.1h0.9M261.2 396.8h0.9M233.2 390.6h0.9M240.2 376.1h0.9M249.4 401.4h0.9M241.0 375.2h0.9M271.4 379.2h0.9M248.7 383.4h0.9M258.4 381.4h0.9M270.3 379.4h0.9M254.8 385.3h0.9M261.8 405.9h0.9M236.6 394.9h0.9M267.7 400.5h0.9M254.0 402.7h0.9M238.5 378.4h0.9M253.0 376.9h0.9M255.5 398.2h0.9M264.3 392.4h0.9M251.3 403.5h0.9M250.5 390.4h0.9M272.3 408.3h0.9M275.8 382.2h0.9M266.7 407.2h0.9M251.2 392.8h0.9M274.8 393.0h0.9M237.4 393.1h0.9M266.2 388.8h0.9M245.4 376.4h0.9M239.3 368.8h0.9M244.3 399.2h0.9M276.1 390.0h0.9M263.5 387.8h0.9M231.6 391.7h0.9M238.1 392.6h0.9M247.2 389.1h0.9M243.5 364.8h0.9M261.3 377.5h0.9M265.5 385.0h0.9M267.8 371.1h0.9M241.3 399.5h0.9M239.7 392.4h0.9M250.3 402.3h0.9M265.6 384.9h0.9M268.6 385.0h0.9M245.0 373.8h0.9M237.0 376.5h0.9M232.7 389.7h0.9M273.0 390.4h0.9M233.5 367.4h0.9M259.6 406.6h0.9M281.1 398.3h0.9M249.1 366.8h0.9M255.6 402.3h0.9M249.4 379.6h0.9M272.7 378.4h0.9M268.7 391.7h0.9M280.8 392.3h0.9M272.0 386.9h0.9M240.6 380.7h0.9M249.8 400.0h0.9M244.9 383.0h0.9M244.3 377.4h0.9M259.4 400.1h0.9M241.0 372.7h0.9M237.3 378.8h0.9M246.4 392.2h0.9M249.3 390.9h0.9M252.8 376.5h0.9M236.6 390.6h0.9M262.1 381.7h0.9M273.2 402.9h0.9M238.2 383.5h0.9M242.7 387.0h0.9M271.9 407.9h0.9M259.5 381.6h0.9M241.2 356.8h0.9M276.3 385.7h0.9M262.8 396.9h0.9M261.3 405.3h0.9M236.3 374.3h0.9M236.5 368.8h0.9M275.3 394.0h0.9M258.3 404.7h0.9M272.3 374.8h0.9M247.6 390.3h0.9M259.7 367.2h0.9M255.1 383.5h0.9M237.7 384.3h0.9M242.0 371.7h0.9M255.7 386.4h0.9M271.4 371.5h0.9M236.7 392.2h0.9M245.4 375.1h0.9M249.5 390.3h0.9M256.8 382.7h0.9M257.4 397.0h0.9M269.1 371.1h0.9M241.4 396.6h0.9M259.5 384.7h0.9M238.9 368.4h0.9M245.6 389.5h0.9M238.7 400.6h0.9M252.9 388.9h0.9M231.2 389.8h0.9M274.4 388.9h0.9M257.8 393.5h0.9M236.0 390.0h0.9M264.3 408.8h0.9M266.1 390.5h0.9M255.2 395.8h0.9M245.4 357.8h0.9M249.2 396.6h0.9M246.8 384.1h0.9M273.1 401.3h0.9M241.8 381.1h0.9M252.3 388.3h0.9M242.0 385.3h0.9M263.6 401.2h0.9M233.3 387.5h0.9M231.7 391.7h0.9M268.3 398.6h0.9M242.0 403.0h0.9M276.2 380.3h0.9M268.4 378.1h0.9M262.9 387.0h0.9M272.5 382.4h0.9M247.4 367.8h0.9M248.9 367.4h0.9M251.8 385.8h0.9M277.6 395.8h0.9M272.5 402.0h0.9M260.5 386.1h0.9M241.2 398.9h0.9M275.6 389.5h0.9M271.1 399.6h0.9M278.5 390.6h0.9M250.1 377.3h0.9M266.4 390.2h0.9M255.9 397.6h0.9M243.2 369.6h0.9M267.9 379.8h0.9M246.6 375.7h0.9M236.6 368.2h0.9M269.7 374.2h0.9M269.0 406.0h0.9M256.4 392.4h0.9M257.8 397.4h0.9M275.5 399.0h0.9M252.6 390.1h0.9M262.1 393.6h0.9M270.9 402.4h0.9M254.4 399.6h0.9M254.0 403.0h0.9M253.7 403.3h0.9M245.8 367.3h0.9M253.0 364.9h0.9M239.0 382.9h0.9M268.6 371.8h0.9M251.1 373.9h0.9M261.0 401.1h0.9M253.5 381.5h0.9M247.7 376.7h0.9M258.7 407.3h0.9M252.1 381.7h0.9M252.7 359.1h0.9M249.8 380.7h0.9M271.8 380.3h0.9M256.6 378.8h0.9M254.6 407.2h0.9M255.7 374.1h0.9M235.4 375.8h0.9M248.8 395.0h0.9M277.7 388.6h0.9M271.7 401.6h0.9M258.3 390.7h0.9M235.4 394.2h0.9M246.0 393.6h0.9M268.9 382.6h0.9M269.9 383.7h0.9M266.4 381.6h0.9M236.5 365.5h0.9M259.6 382.1h0.9M270.2 408.0h0.9M240.2 394.0h0.9M262.6 374.7h0.9M267.7 395.4h0.9M246.0 353.4h0.9M266.0 383.6h0.9M256.2 370.1h0.9M253.9 382.2h0.9M275.5 389.1h0.9M281.5 397.4h0.9M237.9 377.8h0.9M252.1 367.6h0.9M267.0 375.5h0.9M251.3 367.2h0.9M270.8 405.6h0.9M271.7 408.9h0.9M249.7 370.8h0.9M245.2 390.0h0.9M260.3 400.4h0.9M264.0 394.4h0.9M253.6 405.0h0.9M256.5 390.4h0.9M237.7 389.5h0.9M265.6 406.7h0.9M244.1 367.6h0.9M236.8 390.3h0.9M269.4 375.1h0.9M234.6 389.5h0.9M248.0 368.2h0.9M268.8 394.4h0.9M234.6 396.4h0.9M246.3 366.0h0.9M250.8 378.5h0.9M263.3 386.8h0.9M265.5 407.2h0.9M258.1 377.2h0.9M261.7 383.0h0.9M272.9 372.7h0.9M252.3 395.8h0.9M273.3 382.4h0.9M278.5 387.5h0.9M241.3 400.3h0.9M265.6 405.7h0.9M263.6 384.3h0.9M265.5 395.0h0.9M244.9 368.2h0.9M269.4 402.0h0.9M275.2 387.8h0.9M250.3 394.8h0.9M241.1 393.8h0.9M255.5 392.1h0.9M255.8 407.8h0.9M272.3 394.3h0.9M270.4 379.5h0.9M256.3 402.8h0.9M249.3 366.4h0.9M249.7 366.3h0.9M271.8 394.1h0.9M257.1 402.4h0.9M266.7 397.8h0.9M249.9 369.9h0.9M269.6 409.5h0.9M240.5 384.8h0.9M248.4 375.4h0.9M262.2 378.3h0.9M252.2 386.9h0.9M244.3 395.0h0.9M252.0 371.8h0.9M251.5 404.6h0.9M266.5 371.2h0.9M231.9 372.2h0.9M247.4 377.5h0.9M257.2 396.0h0.9M246.3 394.7h0.9M236.5 384.7h0.9M244.1 398.1h0.9M243.8 373.4h0.9M259.4 399.7h0.9M264.8 373.3h0.9M277.9 402.1h0.9M240.9 390.9h0.9M255.7 380.7h0.9M263.3 373.7h0.9M234.8 387.1h0.9M262.9 397.2h0.9M247.7 399.3h0.9M262.1 385.8h0.9M261.5 388.1h0.9M257.8 395.1h0.9M248.3 387.3h0.9M264.2 404.2h0.9M234.7 369.6h0.9M272.1 373.0h0.9M248.9 368.7h0.9M277.1 380.8h0.9M265.9 389.8h0.9M234.8 397.8h0.9M258.0 378.9h0.9M273.7 393.8h0.9M267.2 377.5h0.9M269.2 377.8h0.9M231.1 384.2h0.9M247.0 371.1h0.9M248.8 379.1h0.9M269.3 375.0h0.9M252.1 395.0h0.9M278.8 395.0h0.9M252.8 405.7h0.9M251.9 402.7h0.9M269.2 385.3h0.9M250.1 386.6h0.9M266.5 378.2h0.9M270.5 384.3h0.9M238.0 366.0h0.9M257.1 367.0h0.9M235.8 361.4h0.9M251.9 389.1h0.9M272.1 395.5h0.9M245.3 392.4h0.9M271.1 401.0h0.9M249.9 400.5h0.9M243.2 380.4h0.9M260.7 372.8h0.9M247.9 397.7h0.9M266.7 408.0h0.9M253.2 385.1h0.9M270.1 389.8h0.9M244.8 392.5h0.9M276.5 380.0h0.9M233.4 372.2h0.9M266.7 411.7h0.9M242.9 388.5h0.9M235.6 390.4h0.9M274.0 396.2h0.9M264.8 395.5h0.9M254.0 391.0h0.9M243.0 368.0h0.9M233.2 366.3h0.9M262.4 408.5h0.9M250.1 368.0h0.9M244.7 397.9h0.9M258.6 401.1h0.9M247.1 405.3h0.9M241.8 385.3h0.9M256.0 405.4h0.9M261.9 405.7h0.9M274.1 380.2h0.9M278.5 396.6h0.9M251.5 367.7h0.9M238.2 386.9h0.9M263.3 398.4h0.9M254.1 375.4h0.9M246.3 388.2h0.9M278.3 396.6h0.9M248.3 369.9h0.9M237.2 370.8h0.9M231.6 392.1h0.9M267.4 377.4h0.9M252.0 393.9h0.9M249.6 379.0h0.9M253.5 404.4h0.9M255.7 403.4h0.9M280.9 398.9h0.9M251.6 367.0h0.9M254.4 405.4h0.9M260.1 375.1h0.9M273.1 396.8h0.9M271.2 399.3h0.9M236.3 366.4h0.9M275.8 392.2h0.9M232.9 374.5h0.9M244.9 391.7h0.9M257.2 367.5h0.9M231.2 386.7h0.9M247.8 394.5h0.9M262.5 395.1h0.9M243.5 385.9h0.9M232.2 369.2h0.9M233.8 391.9h0.9M233.0 377.6h0.9M252.5 360.9h0.9M243.3 390.3h0.9M273.5 385.6h0.9M248.3 375.3h0.9M272.4 407.4h0.9M247.4 377.8h0.9M240.3 391.2h0.9M235.9 378.3h0.9M235.0 391.2h0.9M255.1 370.8h0.9M281.2 395.5h0.9M254.0 401.9h0.9M253.7 385.7h0.9M261.6 403.4h0.9M272.7 408.4h0.9M272.4 392.5h0.9M262.4 392.8h0.9M266.3 398.6h0.9M263.9 381.1h0.9M252.6 390.3h0.9M241.1 365.2h0.9M259.6 381.8h0.9M240.0 400.6h0.9M263.1 380.4h0.9M238.8 379.5h0.9M247.7 377.1h0.9M232.6 368.7h0.9M249.1 397.9h0.9M252.9 383.5h0.9M247.1 367.5h0.9M245.6 368.6h0.9M250.8 385.8h0.9M262.8 403.7h0.9M262.0 403.5h0.9M241.1 383.8h0.9M273.4 406.4h0.9M241.9 381.2h0.9M250.6 388.0h0.9M248.2 394.1h0.9M233.8 388.7h0.9M255.7 387.1h0.9M266.3 410.8h0.9M252.4 404.9h0.9M238.2 378.7h0.9M253.5 385.5h0.9M263.5 403.5h0.9M255.8 376.1h0.9M250.7 403.7h0.9M251.5 361.9h0.9M262.0 389.2h0.9M255.1 386.4h0.9M272.1 383.5h0.9M234.8 382.3h0.9M249.1 405.9h0.9M263.7 401.2h0.9M264.6 391.9h0.9M274.3 397.6h0.9M257.5 385.3h0.9M273.9 396.0h0.9M230.8 376.6h0.9M248.0 367.9h0.9M258.4 403.0h0.9M251.4 386.1h0.9M231.6 388.7h0.9M253.4 386.6h0.9M265.2 388.0h0.9M253.5 397.5h0.9M238.8 360.8h0.9M251.3 376.5h0.9M277.0 386.4h0.9M236.3 398.8h0.9M257.2 386.9h0.9M264.5 399.0h0.9M252.9 401.3h0.9M242.7 390.6h0.9M242.0 389.5h0.9M271.0 380.2h0.9M267.3 374.1h0.9M264.2 380.1h0.9M237.0 366.7h0.9M262.1 388.0h0.9M245.8 386.8h0.9M249.6 388.5h0.9M261.2 408.7h0.9M269.2 402.1h0.9M256.4 389.2h0.9M235.2 371.5h0.9M251.6 406.3h0.9M237.5 385.1h0.9M261.7 403.7h0.9M237.7 394.3h0.9M244.1 401.0h0.9M254.9 377.1h0.9M255.0 382.1h0.9M246.0 368.0h0.9M258.7 376.6h0.9M277.1 395.1h0.9M257.9 367.8h0.9M259.2 379.9h0.9M253.9 373.3h0.9M244.0 391.0h0.9M270.0 398.8h0.9M270.8 401.1h0.9M265.4 406.4h0.9M266.7 380.2h0.9M262.7 405.6h0.9M258.4 382.5h0.9M230.2 379.4h0.9M277.0 386.8h0.9M232.8 380.0h0.9M234.6 388.8h0.9M276.2 403.8h0.9M255.1 390.3h0.9M276.7 398.3h0.9M273.3 380.5h0.9M253.3 400.9h0.9M231.9 381.5h0.9M237.6 378.2h0.9M233.6 387.2h0.9M252.3 381.4h0.9M244.1 365.5h0.9M267.7 370.2h0.9M242.1 368.4h0.9M256.6 398.9h0.9M249.2 399.0h0.9M252.8 377.7h0.9M257.1 395.4h0.9M236.7 370.4h0.9M251.0 402.9h0.9M254.5 365.7h0.9M280.6 390.0h0.9M272.1 402.0h0.9M255.1 376.4h0.9M246.9 370.0h0.9M248.4 391.5h0.9M237.8 362.9h0.9M233.4 370.5h0.9M239.0 388.0h0.9M246.2 384.6h0.9M255.6 392.7h0.9M270.8 397.4h0.9M264.6 383.7h0.9M273.4 395.4h0.9M255.2 380.9h0.9M251.8 405.6h0.9M238.4 390.8h0.9M275.6 405.1h0.9M271.8 386.0h0.9M232.9 380.5h0.9M257.5 372.4h0.9M267.4 398.6h0.9M261.5 391.7h0.9M273.4 395.4h0.9M243.8 397.9h0.9M253.5 381.1h0.9M276.5 393.4h0.9M263.5 397.4h0.9M252.5 383.7h0.9M275.0 394.4h0.9M239.8 374.1h0.9M253.5 406.5h0.9M246.1 396.0h0.9M269.3 375.3h0.9M248.6 370.3h0.9M256.7 396.1h0.9M272.4 397.7h0.9M255.0 380.0h0.9M249.8 405.7h0.9M238.2 379.7h0.9M249.7 363.2h0.9M268.2 372.9h0.9M243.4 375.6h0.9M236.4 375.7h0.9M244.3 368.8h0.9M263.9 399.0h0.9M266.4 389.3h0.9M275.2 405.2h0.9M282.4 395.9h0.9M266.8 373.2h0.9M261.7 390.7h0.9M237.4 382.4h0.9M244.9 365.6h0.9M239.3 378.5h0.9M254.3 372.8h0.9M241.2 372.4h0.9M272.6 374.2h0.9M265.6 396.4h0.9M248.1 363.6h0.9M272.5 402.6h0.9M237.1 392.0h0.9M238.2 386.0h0.9M237.7 385.1h0.9M240.5 373.3h0.9M248.6 364.9h0.9M248.9 369.5h0.9M252.1 393.6h0.9M250.7 369.4h0.9M271.7 375.1h0.9M249.0 373.0h0.9M258.1 375.5h0.9M241.9 391.3h0.9M255.7 392.9h0.9M241.3 385.2h0.9M250.1 400.6h0.9M251.8 380.6h0.9M264.4 391.0h0.9M259.4 403.3h0.9M259.8 401.7h0.9M246.7 368.1h0.9M255.1 370.0h0.9M262.2 408.7h0.9" stroke="#5aafe0" stroke-width="0.9" fill="none"/>
<path d="M276.5 388.7h0.9M231.8 371.0h0.9M270.1 397.8h0.9M260.8 395.8h0.9M236.5 380.1h0.9M251.7 373.2h0.9M248.4 387.6h0.9M271.3 373.8h0.9M266.3 392.4h0.9M276.9 381.0h0.9M269.6 380.2h0.9M266.4 409.7h0.9M231.2 387.3h0.9M271.1 399.5h0.9M250.6 369.8h0.9M269.0 410.5h0.9M246.5 393.9h0.9M264.2 378.0h0.9M257.5 374.7h0.9M273.4 395.4h0.9M250.5 380.7h0.9M256.1 395.0h0.9M265.5 403.8h0.9M246.6 369.9h0.9M247.8 390.3h0.9M243.5 402.9h0.9M253.2 388.8h0.9M279.6 394.2h0.9M232.1 388.2h0.9M230.4 384.3h0.9M230.9 386.6h0.9M266.1 391.0h0.9M248.7 383.6h0.9M271.3 406.5h0.9M258.3 406.8h0.9M262.2 397.4h0.9M271.2 396.4h0.9M234.4 375.7h0.9M239.5 384.0h0.9M252.5 390.3h0.9M256.0 367.0h0.9M269.1 395.8h0.9M261.8 393.5h0.9M271.5 399.7h0.9M256.4 394.7h0.9M267.0 376.2h0.9M261.2 386.7h0.9M242.9 387.7h0.9M257.6 391.7h0.9M277.3 398.3h0.9M281.2 398.6h0.9M272.1 397.2h0.9M236.0 391.6h0.9M249.9 404.2h0.9M252.6 393.4h0.9M263.3 379.9h0.9M240.5 381.2h0.9M252.6 363.0h0.9M271.9 404.6h0.9M254.1 397.9h0.9M235.9 382.2h0.9M245.7 378.2h0.9M267.8 376.2h0.9M250.8 395.7h0.9M236.2 372.2h0.9M267.3 403.0h0.9M238.9 372.0h0.9M275.4 396.8h0.9M253.0 404.7h0.9M234.5 394.8h0.9M238.5 376.0h0.9M248.7 383.9h0.9M274.4 391.3h0.9M255.1 398.3h0.9M262.7 396.7h0.9M263.6 408.0h0.9M264.2 389.5h0.9M242.6 377.2h0.9M250.0 362.8h0.9M266.1 409.8h0.9M239.2 387.4h0.9M268.3 392.3h0.9M240.9 382.4h0.9M250.2 391.0h0.9M259.2 399.8h0.9M251.2 391.2h0.9M273.3 397.7h0.9M272.2 377.0h0.9M271.5 407.8h0.9M234.8 367.6h0.9M263.4 383.4h0.9M256.2 376.4h0.9M242.1 367.7h0.9M261.8 387.6h0.9M234.9 386.7h0.9M248.3 373.7h0.9M255.4 391.1h0.9M259.3 387.1h0.9M246.7 394.3h0.9M272.2 372.1h0.9M238.7 383.4h0.9M255.5 366.6h0.9M257.6 377.6h0.9M255.0 392.3h0.9M233.6 371.3h0.9M255.7 400.9h0.9M277.0 400.6h0.9M238.9 395.1h0.9M251.1 389.1h0.9M256.0 388.5h0.9M249.0 375.1h0.9M246.2 390.4h0.9M259.3 377.4h0.9M248.5 378.1h0.9M235.5 372.3h0.9M240.6 395.9h0.9M261.9 378.2h0.9M249.4 387.6h0.9M240.3 388.8h0.9M258.6 391.1h0.9M248.9 388.9h0.9M260.0 403.7h0.9M259.6 403.3h0.9M253.7 372.8h0.9M261.4 398.1h0.9M239.5 373.5h0.9M270.3 407.5h0.9M266.9 379.5h0.9M231.9 382.5h0.9M254.8 368.2h0.9M251.5 377.3h0.9M276.4 388.9h0.9M234.3 381.3h0.9M236.1 387.9h0.9M262.2 379.0h0.9M277.4 397.3h0.9M234.5 371.3h0.9M262.9 407.9h0.9M262.2 401.7h0.9M244.2 394.0h0.9M240.7 374.7h0.9M272.1 385.5h0.9M233.1 381.7h0.9M265.8 409.5h0.9M263.3 376.2h0.9M234.7 388.5h0.9M259.5 409.1h0.9M244.4 401.4h0.9M257.3 403.4h0.9M272.2 378.3h0.9M251.6 402.6h0.9M258.6 401.3h0.9M265.6 407.4h0.9M260.3 389.3h0.9M251.1 405.0h0.9M267.1 389.7h0.9M275.8 383.8h0.9M254.3 402.4h0.9M270.0 409.8h0.9M241.6 354.9h0.9M267.9 387.2h0.9M242.8 374.8h0.9M274.1 383.4h0.9M245.0 393.2h0.9M233.9 367.0h0.9M271.4 401.8h0.9M244.0 385.4h0.9M235.3 359.6h0.9M234.4 389.6h0.9M243.8 401.2h0.9M243.5 401.1h0.9M232.4 386.5h0.9M250.4 402.2h0.9M261.5 377.0h0.9M238.2 383.0h0.9M278.4 385.2h0.9M235.2 385.4h0.9M232.6 389.6h0.9M236.1 381.3h0.9M235.4 364.9h0.9M263.5 401.9h0.9M241.6 381.2h0.9M264.9 410.2h0.9M264.9 375.3h0.9M259.1 368.5h0.9M254.2 367.6h0.9M268.3 379.0h0.9M255.7 369.6h0.9M256.2 389.1h0.9M261.5 396.0h0.9M244.9 368.1h0.9M258.7 394.0h0.9M260.3 396.1h0.9M248.7 400.2h0.9M277.2 384.9h0.9M249.7 391.5h0.9M248.3 368.9h0.9M256.8 366.5h0.9M264.8 408.6h0.9M270.7 407.1h0.9M271.5 393.1h0.9M274.0 383.6h0.9M268.4 397.7h0.9M234.7 370.6h0.9M241.9 364.9h0.9M266.7 385.8h0.9M260.3 371.2h0.9M271.5 371.2h0.9M244.2 403.6h0.9M265.7 402.1h0.9M257.5 391.6h0.9M253.2 400.1h0.9M232.5 375.6h0.9M265.0 406.7h0.9M268.3 410.5h0.9M259.3 388.4h0.9M247.7 377.5h0.9M271.2 374.6h0.9M275.8 386.1h0.9M276.3 387.2h0.9M235.9 386.3h0.9M243.5 393.8h0.9M240.1 373.9h0.9M248.3 365.7h0.9M235.8 379.1h0.9M244.7 383.8h0.9M259.6 403.7h0.9M272.7 399.5h0.9M247.9 396.2h0.9M268.5 379.3h0.9M272.9 406.6h0.9M253.2 362.8h0.9M267.9 412.0h0.9M275.4 389.4h0.9M255.6 371.3h0.9M260.6 389.8h0.9M263.9 398.5h0.9M245.7 387.5h0.9M268.4 410.6h0.9M256.6 395.2h0.9M253.5 364.2h0.9M252.6 391.4h0.9M277.1 397.8h0.9M278.7 397.7h0.9M241.8 377.5h0.9M270.3 377.9h0.9M260.6 387.1h0.9M235.7 389.1h0.9M251.2 374.4h0.9M276.0 379.5h0.9M234.8 369.9h0.9M267.9 412.1h0.9M243.6 394.2h0.9M248.9 376.6h0.9M243.6 381.3h0.9M244.0 367.0h0.9M259.8 378.2h0.9M266.5 393.6h0.9M271.6 376.0h0.9M231.4 386.3h0.9M273.8 384.1h0.9M266.2 399.4h0.9M239.9 368.3h0.9M237.7 399.6h0.9M244.3 404.0h0.9M246.7 366.9h0.9M262.0 399.1h0.9M234.9 368.8h0.9M271.9 385.7h0.9M251.3 382.4h0.9M268.8 381.1h0.9M233.3 392.7h0.9M236.1 365.9h0.9M277.4 399.7h0.9M247.3 394.4h0.9M248.5 397.4h0.9M270.8 398.0h0.9M257.5 383.4h0.9M250.8 378.4h0.9M251.7 385.4h0.9M258.4 367.5h0.9M235.8 378.5h0.9M265.3 400.8h0.9M271.3 404.4h0.9M265.9 408.9h0.9M259.6 374.2h0.9M258.0 399.6h0.9M245.1 379.9h0.9M239.7 396.8h0.9M251.8 373.3h0.9M244.9 400.2h0.9M275.8 380.6h0.9M244.6 385.7h0.9M249.0 375.2h0.9M266.7 387.7h0.9M266.5 395.7h0.9M276.7 393.4h0.9M243.1 403.4h0.9M261.4 393.4h0.9M237.5 392.6h0.9M232.0 390.2h0.9M241.6 378.0h0.9M278.6 388.9h0.9M259.6 407.1h0.9M236.1 386.3h0.9M245.3 391.6h0.9M242.2 377.1h0.9M257.3 375.2h0.9M260.8 389.2h0.9M271.6 374.1h0.9M255.7 379.8h0.9M254.6 383.2h0.9M232.1 376.9h0.9M265.1 371.5h0.9M280.2 391.1h0.9M270.5 376.0h0.9M241.0 374.5h0.9M252.2 361.7h0.9M243.9 403.2h0.9M234.7 381.8h0.9M259.1 407.0h0.9M240.0 379.0h0.9M279.0 389.3h0.9M235.2 361.0h0.9M260.6 376.4h0.9M251.0 403.0h0.9M268.0 385.7h0.9M249.5 364.1h0.9M273.8 402.8h0.9M232.7 379.8h0.9M268.8 378.2h0.9M271.9 401.5h0.9M261.0 399.3h0.9M257.3 400.4h0.9M263.8 394.1h0.9M267.7 387.9h0.9M276.1 385.0h0.9M258.9 383.1h0.9M245.1 371.4h0.9M257.4 396.9h0.9M237.3 389.9h0.9M239.3 370.6h0.9M278.2 400.0h0.9M271.5 377.4h0.9M273.0 390.4h0.9M237.4 369.7h0.9M278.3 387.1h0.9M260.7 379.7h0.9M243.3 386.7h0.9M270.1 393.7h0.9M253.0 396.6h0.9M237.7 377.3h0.9M254.3 381.6h0.9M238.3 364.8h0.9M237.7 386.4h0.9M271.8 395.5h0.9M269.7 405.2h0.9M235.9 381.6h0.9M250.7 405.4h0.9M261.6 389.7h0.9M254.7 382.3h0.9M269.1 387.0h0.9M269.4 386.3h0.9M267.3 406.6h0.9M262.4 397.3h0.9M249.4 382.4h0.9M234.5 397.7h0.9M249.0 388.9h0.9M275.6 390.9h0.9M235.4 371.7h0.9M260.9 369.2h0.9M240.9 382.9h0.9M271.3 400.1h0.9M237.8 390.7h0.9M268.8 386.9h0.9M267.7 372.9h0.9M241.0 395.3h0.9M244.1 375.7h0.9M267.9 406.3h0.9M259.7 398.4h0.9M259.5 382.6h0.9M275.6 389.4h0.9M239.7 391.4h0.9M233.3 377.8h0.9M237.9 383.6h0.9M254.2 379.8h0.9M242.8 368.7h0.9M243.8 401.8h0.9M238.0 378.0h0.9M257.5 397.1h0.9M237.9 383.8h0.9M266.4 409.3h0.9M251.6 370.6h0.9M235.8 372.3h0.9M277.1 394.1h0.9M268.6 408.4h0.9M247.4 378.4h0.9M248.1 383.8h0.9M257.8 402.0h0.9M249.2 385.3h0.9M239.8 397.7h0.9M232.4 383.2h0.9M269.0 391.2h0.9M248.7 386.7h0.9M277.6 401.9h0.9M279.1 393.3h0.9M236.3 356.4h0.9M241.9 393.2h0.9M244.0 388.2h0.9M238.0 371.7h0.9M238.9 380.9h0.9M232.9 374.6h0.9M251.5 382.4h0.9M273.0 378.9h0.9M275.4 394.2h0.9M234.1 391.1h0.9M246.6 380.1h0.9M240.1 379.0h0.9M261.9 381.9h0.9M274.3 393.1h0.9M245.0 380.1h0.9M248.8 400.3h0.9M271.4 398.7h0.9M244.1 392.0h0.9M260.0 377.8h0.9M259.5 384.8h0.9M278.6 395.7h0.9M266.2 399.9h0.9M241.5 374.8h0.9M275.3 405.9h0.9M249.0 381.3h0.9M242.3 393.6h0.9M277.6 389.5h0.9M245.2 385.9h0.9M272.5 378.6h0.9M268.6 394.0h0.9M246.3 382.7h0.9M234.3 380.3h0.9M268.7 406.4h0.9M272.5 404.3h0.9M230.9 385.8h0.9M277.0 398.9h0.9M275.1 388.1h0.9M235.0 363.2h0.9M259.9 391.5h0.9M264.2 407.8h0.9M271.5 400.2h0.9M266.7 406.5h0.9M230.6 380.5h0.9M282.1 394.8h0.9M239.2 389.9h0.9M265.4 405.4h0.9M257.2 384.6h0.9M233.0 375.3h0.9M268.9 388.4h0.9M242.0 371.9h0.9M256.1 408.1h0.9M241.0 386.5h0.9M242.9 389.1h0.9M252.8 397.8h0.9M257.5 386.8h0.9M237.4 396.5h0.9M276.4 398.4h0.9M273.8 383.3h0.9M248.9 394.6h0.9M259.1 395.9h0.9M274.4 392.4h0.9M252.3 374.9h0.9" stroke="#3b93cf" stroke-width="0.9" fill="none"/>
<path d="M242.4 353.2h0.9M239.9 352.9h0.9M254.0 374.5h0.9M239.6 361.1h0.9M246.3 357.0h0.9M249.9 365.9h0.9M243.7 368.5h0.9M258.4 367.7h0.9M238.8 362.0h0.9M250.8 359.6h0.9M244.9 361.4h0.9M249.6 359.0h0.9M240.0 354.3h0.9M244.3 354.2h0.9M238.4 357.0h0.9M241.3 353.1h0.9M241.2 357.2h0.9M249.9 366.1h0.9M234.1 369.7h0.9M266.2 368.9h0.9M241.6 363.4h0.9M249.6 362.6h0.9M237.5 354.2h0.9M254.2 364.3h0.9M241.4 353.6h0.9M239.9 360.0h0.9M241.7 357.5h0.9M235.1 363.2h0.9M238.7 371.7h0.9M245.7 358.6h0.9M250.5 359.1h0.9M263.2 370.0h0.9M241.3 352.2h0.9M243.4 364.0h0.9M247.1 369.4h0.9M246.4 359.4h0.9M260.5 373.1h0.9M246.6 366.8h0.9M240.7 365.5h0.9M248.1 368.6h0.9M266.4 370.1h0.9M249.9 371.7h0.9M242.4 362.1h0.9M239.5 357.6h0.9M247.9 357.7h0.9M246.9 356.9h0.9M255.1 367.4h0.9M240.9 361.0h0.9M269.5 369.6h0.9M241.5 360.3h0.9M243.8 353.1h0.9M264.3 370.1h0.9M264.2 371.9h0.9M255.5 370.7h0.9M236.3 363.2h0.9M244.3 371.1h0.9M237.7 365.8h0.9M241.8 354.7h0.9M261.2 369.5h0.9M241.8 355.9h0.9M237.9 356.8h0.9M238.4 369.2h0.9M273.7 376.3h0.9M248.2 357.1h0.9M239.7 352.1h0.9M248.9 361.4h0.9M238.8 354.5h0.9M254.9 362.1h0.9M239.1 361.8h0.9M250.3 358.8h0.9M239.4 355.9h0.9M244.8 371.5h0.9M245.3 361.0h0.9M250.0 359.4h0.9M240.8 362.1h0.9M245.2 364.2h0.9M236.7 361.3h0.9M247.1 354.4h0.9M242.2 371.0h0.9M237.2 357.5h0.9M234.6 373.5h0.9M244.5 355.0h0.9M245.5 363.7h0.9M253.9 362.1h0.9M260.6 374.2h0.9M238.0 355.6h0.9M266.5 370.4h0.9M250.7 360.2h0.9M238.0 353.4h0.9M240.8 356.3h0.9M248.9 364.0h0.9M263.3 370.4h0.9M247.9 373.4h0.9M249.0 358.8h0.9M232.0 370.3h0.9M231.4 373.6h0.9M246.4 367.9h0.9M236.8 362.3h0.9M248.5 366.0h0.9M252.2 362.0h0.9M236.3 356.4h0.9M243.5 355.5h0.9M251.6 358.8h0.9M250.4 361.7h0.9M257.0 371.7h0.9M240.7 358.8h0.9M263.4 368.3h0.9M261.0 367.2h0.9M241.2 363.4h0.9M257.0 372.2h0.9M248.0 359.7h0.9M262.4 374.2h0.9M247.1 362.9h0.9M243.0 368.5h0.9M242.9 363.3h0.9M257.7 368.9h0.9M247.6 374.0h0.9M242.4 359.6h0.9M249.9 361.3h0.9M241.5 351.4h0.9M247.1 368.2h0.9M243.7 351.6h0.9M245.0 358.0h0.9M238.2 353.8h0.9M257.7 368.3h0.9M250.6 362.9h0.9M244.4 357.4h0.9M239.9 357.9h0.9M235.6 359.1h0.9M249.0 371.2h0.9M240.0 365.1h0.9M241.5 351.4h0.9M236.3 357.4h0.9M262.6 367.6h0.9M248.8 363.0h0.9M242.6 360.8h0.9M248.0 355.0h0.9M248.9 356.3h0.9M263.5 370.5h0.9M239.7 362.5h0.9M247.0 360.7h0.9M245.3 358.5h0.9M240.5 354.9h0.9M245.5 358.8h0.9M244.3 363.0h0.9M259.1 370.6h0.9M241.1 353.8h0.9M249.7 362.6h0.9M248.1 354.9h0.9M244.3 368.3h0.9M240.2 361.2h0.9M242.8 354.4h0.9M242.5 354.0h0.9M241.6 369.9h0.9M237.4 358.0h0.9M236.2 361.8h0.9M264.3 371.1h0.9M250.9 365.5h0.9M242.3 364.0h0.9M244.5 358.7h0.9M239.6 362.9h0.9M241.7 357.6h0.9M239.1 366.6h0.9M242.5 351.4h0.9M246.6 365.6h0.9M244.9 360.1h0.9M245.5 361.0h0.9M247.2 359.9h0.9M244.4 361.6h0.9M255.1 365.2h0.9M243.1 364.4h0.9M265.3 372.2h0.9M245.7 356.0h0.9M246.6 356.0h0.9M235.8 358.3h0.9M243.9 357.7h0.9M253.8 369.6h0.9M235.3 368.2h0.9M239.3 352.4h0.9M249.4 361.3h0.9M272.0 371.6h0.9M241.1 364.0h0.9M239.9 361.1h0.9M247.0 361.4h0.9M248.4 357.1h0.9M246.6 357.0h0.9M243.5 362.7h0.9M235.9 358.4h0.9M244.7 363.4h0.9M235.0 362.7h0.9M249.9 357.4h0.9M247.9 358.5h0.9M237.9 355.7h0.9M241.8 357.1h0.9M268.0 369.8h0.9M244.2 362.0h0.9M241.8 357.0h0.9M243.9 354.4h0.9M237.9 367.4h0.9M250.1 357.3h0.9M265.8 370.8h0.9M241.0 371.2h0.9M251.2 358.3h0.9M243.6 353.5h0.9M243.3 355.3h0.9M243.8 359.8h0.9M241.9 360.5h0.9M236.3 358.7h0.9M262.4 371.1h0.9M232.6 368.9h0.9M236.4 364.5h0.9M239.2 358.7h0.9M250.0 359.3h0.9M252.8 368.7h0.9M238.4 353.1h0.9M237.7 354.3h0.9M238.2 369.3h0.9M239.5 358.8h0.9M239.7 366.7h0.9M233.5 368.4h0.9M249.2 355.8h0.9M242.5 363.5h0.9M236.8 356.1h0.9M246.4 360.1h0.9M241.5 351.5h0.9M238.2 373.7h0.9M256.6 367.8h0.9M237.4 367.3h0.9M252.7 366.2h0.9M265.9 368.9h0.9M259.9 368.7h0.9M244.1 357.9h0.9M250.3 360.7h0.9M248.0 360.4h0.9M264.4 372.0h0.9" stroke="#e0141c" stroke-width="0.9" fill="none"/>
<path d="M323.8 377.7h0.9M331.8 379.5h0.9M334.4 397.8h0.9M330.0 403.3h0.9M310.5 381.1h0.9M338.7 372.3h0.9M320.3 389.5h0.9M346.6 385.1h0.9M334.8 400.6h0.9M326.7 372.2h0.9M308.6 374.1h0.9M309.4 380.2h0.9M329.2 383.4h0.9M313.9 373.3h0.9M312.1 376.9h0.9M343.3 403.8h0.9M343.8 402.9h0.9M307.6 386.5h0.9M341.4 387.1h0.9M327.9 404.3h0.9M329.6 381.3h0.9M335.5 380.5h0.9M343.7 404.7h0.9M327.5 396.8h0.9M313.9 381.9h0.9M342.9 387.7h0.9M338.8 373.7h0.9M321.7 377.2h0.9M344.7 382.1h0.9M314.0 381.2h0.9M337.1 391.9h0.9M342.8 396.3h0.9M320.2 381.8h0.9M308.4 377.4h0.9M311.4 395.7h0.9M319.8 359.9h0.9M315.5 381.5h0.9M311.8 379.7h0.9M349.1 390.5h0.9M317.5 395.9h0.9M354.1 394.0h0.9M324.7 398.1h0.9M322.1 389.4h0.9M332.8 390.0h0.9M320.0 380.3h0.9M344.7 396.4h0.9M346.0 406.0h0.9M352.0 387.9h0.9M339.6 383.8h0.9M333.2 405.4h0.9M344.1 385.3h0.9M332.2 372.0h0.9M339.9 388.9h0.9M316.7 372.2h0.9M329.5 404.7h0.9M343.2 378.7h0.9M319.7 384.3h0.9M336.7 398.6h0.9M355.5 394.9h0.9M321.7 399.5h0.9M317.1 391.2h0.9M336.8 386.1h0.9M335.5 405.0h0.9M329.0 390.8h0.9M321.9 362.2h0.9M306.6 372.2h0.9M333.9 370.3h0.9M339.4 405.8h0.9M334.9 384.0h0.9M347.2 392.8h0.9M335.4 390.6h0.9M336.1 388.2h0.9M340.1 407.0h0.9M342.9 399.5h0.9M306.2 384.3h0.9M312.4 374.4h0.9M346.1 405.4h0.9M323.7 372.2h0.9M331.2 402.3h0.9M339.8 403.6h0.9M312.9 380.6h0.9M331.7 408.3h0.9M326.7 399.7h0.9M326.4 377.1h0.9M338.8 378.1h0.9M347.3 396.4h0.9M349.6 397.9h0.9M323.4 376.2h0.9M325.2 406.4h0.9M311.9 380.9h0.9M333.0 402.2h0.9M341.0 393.5h0.9M337.6 386.2h0.9M316.3 379.3h0.9M336.4 386.4h0.9M334.9 378.4h0.9M313.0 394.0h0.9M323.3 394.2h0.9M312.6 381.7h0.9M307.3 381.1h0.9M339.3 386.7h0.9M349.9 393.6h0.9M319.5 398.6h0.9M353.5 396.8h0.9M339.8 404.1h0.9M335.4 380.2h0.9M343.8 381.5h0.9M356.2 398.4h0.9M354.0 391.2h0.9M309.9 395.0h0.9M343.1 393.0h0.9M333.1 367.4h0.9M322.7 399.7h0.9M345.4 398.3h0.9M342.6 379.3h0.9M311.2 388.8h0.9M314.5 401.0h0.9M344.8 372.8h0.9M337.0 405.9h0.9M336.2 399.9h0.9M345.0 388.7h0.9M329.0 386.9h0.9M315.3 372.5h0.9M332.5 399.6h0.9M328.6 403.7h0.9M353.0 400.0h0.9M338.2 398.0h0.9M337.6 378.4h0.9M345.7 401.0h0.9M315.1 369.7h0.9M329.6 379.5h0.9M331.8 394.7h0.9M328.2 384.0h0.9M319.3 379.4h0.9M316.1 382.5h0.9M308.0 394.8h0.9M310.3 378.9h0.9M317.1 388.4h0.9M336.2 395.7h0.9M308.1 379.7h0.9M329.1 368.8h0.9M343.8 410.4h0.9M323.4 374.8h0.9M313.0 400.2h0.9M318.4 375.5h0.9M348.1 389.5h0.9M314.6 373.8h0.9M348.2 382.9h0.9M340.0 391.4h0.9M336.9 381.6h0.9M313.2 375.9h0.9M330.1 385.9h0.9M307.1 381.3h0.9M339.2 396.3h0.9M343.3 386.7h0.9M335.2 390.8h0.9M348.6 377.3h0.9M349.1 378.2h0.9M330.3 383.6h0.9M314.1 391.1h0.9M323.7 373.7h0.9M323.7 373.6h0.9M312.0 377.1h0.9M325.0 394.4h0.9M310.5 362.2h0.9M334.0 393.4h0.9M316.3 390.9h0.9M335.3 366.9h0.9M323.2 378.7h0.9M328.0 378.3h0.9M311.7 385.0h0.9M311.7 365.8h0.9M337.3 402.5h0.9M334.6 409.0h0.9M334.0 393.1h0.9M345.4 381.6h0.9M328.4 384.4h0.9M336.5 400.1h0.9M334.4 410.2h0.9M340.6 377.1h0.9M342.9 396.6h0.9M333.6 390.9h0.9M313.0 393.0h0.9M307.3 380.1h0.9M335.3 386.6h0.9M311.3 389.2h0.9M327.3 401.0h0.9M327.3 392.7h0.9M327.3 394.3h0.9M332.8 398.7h0.9M324.6 391.5h0.9M316.3 380.7h0.9M342.8 388.2h0.9M349.6 400.4h0.9M344.7 403.7h0.9M353.3 393.1h0.9M314.0 384.8h0.9M355.2 398.2h0.9M337.2 391.9h0.9M346.7 383.7h0.9M315.3 395.6h0.9M317.1 378.6h0.9M334.4 385.2h0.9M351.7 388.0h0.9M335.0 391.1h0.9M305.7 376.5h0.9M319.4 393.8h0.9M333.1 379.3h0.9M324.5 381.6h0.9M333.1 393.7h0.9M343.6 395.1h0.9M305.7 382.1h0.9M328.2 375.6h0.9M341.2 368.7h0.9M349.5 397.4h0.9M350.2 400.8h0.9M328.7 395.9h0.9M345.6 391.9h0.9M332.7 397.5h0.9M305.6 387.2h0.9M327.4 387.7h0.9M320.8 384.0h0.9M329.2 378.2h0.9M307.9 395.2h0.9M342.2 384.5h0.9M349.2 394.2h0.9M323.7 391.4h0.9M334.9 402.5h0.9M309.5 375.2h0.9M316.7 392.3h0.9M339.6 380.4h0.9M312.6 372.9h0.9M326.9 365.3h0.9M320.1 371.5h0.9M327.7 375.3h0.9M341.2 411.6h0.9M345.8 396.3h0.9M315.5 395.1h0.9M347.3 379.9h0.9M342.8 401.3h0.9M334.9 379.5h0.9M335.0 384.1h0.9M316.5 393.3h0.9M322.7 393.1h0.9M331.7 387.7h0.9M337.3 374.7h0.9M337.7 376.8h0.9M335.5 373.1h0.9M338.0 391.4h0.9M342.7 389.5h0.9M342.7 400.6h0.9M313.9 401.1h0.9M337.7 382.9h0.9M316.7 383.3h0.9M329.8 392.1h0.9M346.9 404.4h0.9M336.7 401.0h0.9M315.7 373.0h0.9M333.1 378.7h0.9M328.9 391.7h0.9M327.7 404.5h0.9M339.5 374.2h0.9M341.0 387.1h0.9M341.1 401.8h0.9M336.2 393.5h0.9M330.1 400.4h0.9M321.8 403.9h0.9M329.1 395.2h0.9M326.3 399.6h0.9M324.6 388.4h0.9M316.5 393.2h0.9M355.4 395.9h0.9M314.7 383.2h0.9M342.2 407.3h0.9M351.6 384.9h0.9M329.8 379.4h0.9M336.6 388.5h0.9M321.9 382.7h0.9M334.5 382.1h0.9M323.3 391.1h0.9M351.5 384.5h0.9M338.7 391.9h0.9M346.1 390.2h0.9M341.9 410.6h0.9M346.9 400.5h0.9M323.2 404.0h0.9M325.2 378.1h0.9M333.8 381.6h0.9M331.8 398.2h0.9M348.9 378.9h0.9M335.7 397.8h0.9M328.8 396.4h0.9M349.8 396.9h0.9M307.5 376.9h0.9M330.2 399.3h0.9M338.8 374.3h0.9M345.9 405.0h0.9M340.4 389.8h0.9M340.2 401.7h0.9M335.4 393.6h0.9M318.9 393.6h0.9M332.6 392.9h0.9M344.2 395.5h0.9M311.1 398.8h0.9M340.7 411.4h0.9M314.3 398.4h0.9M335.2 371.5h0.9M316.5 385.0h0.9M340.4 384.2h0.9M354.5 394.5h0.9M317.8 383.4h0.9M322.6 404.2h0.9M325.7 360.0h0.9M315.8 389.7h0.9M337.9 396.3h0.9M343.4 397.2h0.9M326.4 375.8h0.9M345.9 381.5h0.9M330.9 380.8h0.9M340.9 382.7h0.9M321.4 393.8h0.9M315.2 391.3h0.9M332.0 388.4h0.9M347.4 388.4h0.9M331.4 374.0h0.9M327.2 399.2h0.9M336.4 406.6h0.9M327.1 363.5h0.9M315.6 378.3h0.9M336.6 385.0h0.9M318.0 403.3h0.9M314.1 400.6h0.9M337.7 374.9h0.9M340.3 379.6h0.9M330.5 389.1h0.9M347.6 390.0h0.9M307.1 392.2h0.9M329.6 368.9h0.9M342.7 408.8h0.9M324.8 378.3h0.9M351.8 399.5h0.9M336.2 410.9h0.9M327.3 382.6h0.9M350.6 382.8h0.9M308.0 372.3h0.9M307.4 384.4h0.9M330.1 394.8h0.9M349.1 404.8h0.9M353.8 393.6h0.9M339.6 376.7h0.9M321.0 397.9h0.9M326.3 391.4h0.9M349.1 400.5h0.9M316.0 383.7h0.9M311.7 389.0h0.9M344.6 391.6h0.9M315.8 401.3h0.9M312.6 374.6h0.9M349.7 387.5h0.9M341.5 402.0h0.9M332.5 391.6h0.9M310.0 393.9h0.9M334.8 387.5h0.9M329.5 401.2h0.9M341.4 383.8h0.9M321.7 373.5h0.9M322.1 384.3h0.9M336.0 385.4h0.9M339.8 410.8h0.9M330.6 395.0h0.9M330.7 396.7h0.9M349.6 396.4h0.9M334.3 406.5h0.9M340.9 409.2h0.9M310.4 383.5h0.9M317.5 377.0h0.9M349.2 392.1h0.9M311.7 395.6h0.9M345.6 372.5h0.9M340.7 401.3h0.9M337.4 390.5h0.9M324.3 381.1h0.9M336.7 406.1h0.9M322.7 403.0h0.9M339.1 407.0h0.9M332.4 408.1h0.9M339.6 390.9h0.9M324.0 377.5h0.9M308.2 377.6h0.9M343.3 378.8h0.9M316.4 385.0h0.9M309.9 395.8h0.9M351.3 387.8h0.9M332.3 408.8h0.9M327.4 402.1h0.9M349.9 384.8h0.9M308.2 387.0h0.9M321.4 374.0h0.9M335.5 379.5h0.9M347.0 378.9h0.9M325.6 390.5h0.9M320.4 383.3h0.9M341.6 400.9h0.9M336.7 384.6h0.9M351.4 383.8h0.9M342.3 380.1h0.9M317.1 391.4h0.9M339.1 393.2h0.9M331.1 366.1h0.9M354.3 390.3h0.9M340.3 378.3h0.9M339.7 379.4h0.9M343.7 400.5h0.9M328.2 381.5h0.9M339.2 393.2h0.9M340.8 399.6h0.9M322.3 393.3h0.9M323.5 391.0h0.9M324.4 405.5h0.9M331.7 392.7h0.9M324.1 400.2h0.9M344.8 370.4h0.9M312.7 382.7h0.9M322.3 378.7h0.9M339.4 394.5h0.9M354.0 399.1h0.9M316.7 402.4h0.9M324.6 391.8h0.9M312.7 378.1h0.9M340.3 385.8h0.9M309.2 380.6h0.9M338.6 394.4h0.9M329.2 398.9h0.9M329.5 404.8h0.9M319.4 387.3h0.9M314.7 401.7h0.9M344.0 382.5h0.9M343.7 372.8h0.9M348.9 389.8h0.9M329.9 393.2h0.9M334.8 396.5h0.9M344.4 396.5h0.9M337.9 384.7h0.9M337.5 388.3h0.9M309.1 392.8h0.9M325.2 397.9h0.9M329.3 387.0h0.9M337.1 389.5h0.9M314.3 386.3h0.9M325.8 381.4h0.9M344.5 379.7h0.9M317.1 389.4h0.9M352.0 402.1h0.9M344.6 375.9h0.9M330.5 374.1h0.9M324.1 367.7h0.9M313.6 397.5h0.9M321.5 386.3h0.9M341.7 410.9h0.9M348.5 393.6h0.9M310.5 391.6h0.9M329.0 394.3h0.9M310.8 393.9h0.9M317.5 395.5h0.9M336.7 395.6h0.9M308.9 386.7h0.9M352.0 390.0h0.9M306.7 389.2h0.9M316.6 381.0h0.9M323.3 402.5h0.9M329.8 373.8h0.9M320.0 382.3h0.9M341.0 392.7h0.9M319.3 382.6h0.9M321.6 399.0h0.9M328.9 380.6h0.9M311.9 383.7h0.9M312.2 385.4h0.9M332.1 407.1h0.9M319.3 393.5h0.9M325.7 397.4h0.9M311.1 386.0h0.9M336.9 399.8h0.9M335.6 406.4h0.9M341.5 375.7h0.9M323.8 403.5h0.9M332.9 380.3h0.9M340.2 396.5h0.9M325.1 390.8h0.9M328.2 368.5h0.9M334.6 375.2h0.9M320.4 375.6h0.9M328.4 393.4h0.9M341.6 385.1h0.9M346.2 373.8h0.9M314.6 386.5h0.9M309.3 363.0h0.9M313.4 393.7h0.9M339.8 383.1h0.9M330.8 382.3h0.9M343.9 408.6h0.9M342.2 404.8h0.9M349.2 380.7h0.9M338.7 381.5h0.9M334.8 374.5h0.9M323.5 401.7h0.9M327.8 362.7h0.9M354.1 398.1h0.9M334.9 406.6h0.9M315.8 395.1h0.9M356.4 397.5h0.9M319.3 386.0h0.9M340.9 372.9h0.9M332.8 383.0h0.9M352.1 388.1h0.9M325.7 374.5h0.9M326.1 390.7h0.9M335.5 399.0h0.9M353.4 394.6h0.9M347.5 406.0h0.9M330.9 376.8h0.9M321.3 389.7h0.9M334.2 397.3h0.9M309.9 390.7h0.9M318.4 397.2h0.9M338.7 397.0h0.9M329.7 406.8h0.9M342.6 398.6h0.9M315.3 393.7h0.9M339.1 409.8h0.9M342.5 372.7h0.9M343.3 394.4h0.9M334.7 388.8h0.9M314.4 387.6h0.9M317.3 386.1h0.9M339.5 390.8h0.9M317.7 379.6h0.9M313.1 391.4h0.9M344.9 399.8h0.9M330.2 387.6h0.9M327.8 387.3h0.9M323.3 397.7h0.9M339.7 382.3h0.9M353.0 394.0h0.9M323.8 402.9h0.9M315.6 367.7h0.9M333.5 374.5h0.9M336.0 408.1h0.9M324.3 364.2h0.9M330.5 388.3h0.9M328.0 400.8h0.9M344.0 409.9h0.9M308.5 366.5h0.9M336.0 398.3h0.9M323.0 366.9h0.9M335.6 378.8h0.9M337.5 380.4h0.9M308.0 381.2h0.9M322.6 382.8h0.9M333.5 376.9h0.9M350.0 399.0h0.9M305.4 380.0h0.9M343.8 382.3h0.9M308.2 374.8h0.9M322.2 368.2h0.9M320.8 385.9h0.9M325.3 372.2h0.9M334.1 389.9h0.9M319.3 378.6h0.9M330.6 402.3h0.9M330.9 377.2h0.9M327.4 395.1h0.9M349.2 391.0h0.9M346.5 381.6h0.9M346.2 390.3h0.9M330.4 379.3h0.9M348.2 385.7h0.9M343.4 387.0h0.9M339.2 376.7h0.9M334.0 396.2h0.9M329.5 377.7h0.9M322.9 401.8h0.9M343.1 388.8h0.9M345.1 408.7h0.9M339.5 401.5h0.9M338.1 381.6h0.9M307.7 384.2h0.9M344.4 405.0h0.9M322.0 384.6h0.9M332.9 400.1h0.9M315.3 390.1h0.9M338.6 411.8h0.9M331.2 388.9h0.9M348.2 378.8h0.9M338.3 404.7h0.9M347.3 405.7h0.9M340.9 375.7h0.9M311.0 381.5h0.9M333.5 382.9h0.9M329.8 381.4h0.9M319.9 397.0h0.9M352.9 393.6h0.9M342.9 374.9h0.9M325.8 385.7h0.9M330.6 392.2h0.9M316.2 370.2h0.9M333.3 376.7h0.9M322.1 399.9h0.9M343.6 399.7h0.9M313.3 358.9h0.9M312.1 389.2h0.9M320.3 394.7h0.9M336.2 373.7h0.9M322.4 359.9h0.9M311.9 374.8h0.9M338.1 381.6h0.9M314.1 389.9h0.9M353.1 392.0h0.9M355.2 395.9h0.9M318.7 374.1h0.9M329.7 364.6h0.9M315.3 381.2h0.9M320.1 380.5h0.9M313.3 390.3h0.9M308.5 373.6h0.9M330.5 390.9h0.9M322.8 360.8h0.9M344.6 394.2h0.9M345.4 391.2h0.9M340.7 380.5h0.9M338.5 398.6h0.9M343.5 402.8h0.9M336.9 394.5h0.9M347.3 377.2h0.9M321.6 391.0h0.9M320.5 376.1h0.9M341.9 411.5h0.9M325.8 381.9h0.9M323.5 372.4h0.9M335.3 370.6h0.9M327.1 401.5h0.9M310.7 393.2h0.9M319.6 401.8h0.9M312.0 384.7h0.9M340.8 408.4h0.9M353.7 395.1h0.9M319.7 374.3h0.9M325.8 362.1h0.9M339.8 411.8h0.9M324.4 394.6h0.9M339.6 373.8h0.9M344.2 405.0h0.9M330.3 391.8h0.9M316.8 401.2h0.9M340.4 410.4h0.9M340.7 374.4h0.9M317.3 402.1h0.9M352.6 393.8h0.9M344.8 407.5h0.9M322.0 375.6h0.9M340.6 401.8h0.9M329.7 398.6h0.9M348.0 392.1h0.9M316.6 387.5h0.9M323.4 391.8h0.9M349.5 390.4h0.9M340.4 394.4h0.9M306.8 386.2h0.9M335.0 378.9h0.9M318.4 381.6h0.9M327.6 395.4h0.9M342.7 379.6h0.9M312.5 387.8h0.9M329.8 402.9h0.9M321.7 380.1h0.9M315.0 399.3h0.9M306.3 380.5h0.9M330.7 400.9h0.9M343.4 403.8h0.9M336.2 408.2h0.9M320.2 382.9h0.9M318.1 398.3h0.9M343.1 378.3h0.9M333.7 388.7h0.9M306.8 384.1h0.9M352.8 391.1h0.9M337.8 397.3h0.9M307.9 378.4h0.9M345.8 371.3h0.9M327.2 402.1h0.9M330.5 403.1h0.9M338.8 397.1h0.9M345.5 385.2h0.9M332.8 404.1h0.9M310.0 374.9h0.9M353.0 400.9h0.9M344.0 401.4h0.9M342.0 372.3h0.9M331.0 402.6h0.9M342.1 384.4h0.9M313.8 399.7h0.9M339.0 410.5h0.9M313.3 378.3h0.9M323.8 374.0h0.9M344.1 390.0h0.9M342.3 395.5h0.9M345.8 396.3h0.9M332.4 379.5h0.9M348.8 405.0h0.9M330.8 400.3h0.9M342.5 407.4h0.9M347.0 382.4h0.9M343.7 379.5h0.9M353.1 389.5h0.9M336.8 376.6h0.9M315.0 383.4h0.9M331.4 367.0h0.9M322.9 386.2h0.9M320.7 387.4h0.9M322.6 385.9h0.9M316.6 377.7h0.9M334.0 386.3h0.9M319.9 400.5h0.9M323.1 389.8h0.9M339.5 399.9h0.9M321.2 385.4h0.9M347.7 376.5h0.9M332.8 397.7h0.9M327.2 389.3h0.9M316.1 401.9h0.9M341.9 379.5h0.9M320.1 373.7h0.9M313.5 365.2h0.9M342.6 396.2h0.9M325.7 384.1h0.9M317.7 397.3h0.9M330.3 385.2h0.9M314.8 367.5h0.9M321.8 395.0h0.9M305.8 382.9h0.9M339.7 383.5h0.9M332.3 394.3h0.9M309.0 395.8h0.9M342.7 373.2h0.9M320.8 377.9h0.9M327.7 390.4h0.9M325.5 373.5h0.9M344.6 390.1h0.9M334.5 403.6h0.9M347.3 384.7h0.9M344.2 382.7h0.9M316.2 398.9h0.9M327.7 400.3h0.9M334.5 384.1h0.9M319.9 388.8h0.9M324.5 387.0h0.9M333.1 371.7h0.9M347.9 388.3h0.9M334.8 388.6h0.9M331.1 380.9h0.9M330.2 390.8h0.9M330.2 404.5h0.9M316.2 360.8h0.9M332.3 400.9h0.9M322.6 400.3h0.9M310.1 374.8h0.9M315.4 399.5h0.9M329.0 365.4h0.9M345.8 408.4h0.9M327.5 390.1h0.9M330.4 389.8h0.9M341.2 374.9h0.9M309.3 386.2h0.9M323.2 381.4h0.9M307.8 377.7h0.9M336.7 407.7h0.9M326.8 381.9h0.9M351.9 389.4h0.9M332.7 392.9h0.9M338.4 395.5h0.9M328.7 393.9h0.9M328.3 383.6h0.9M334.7 402.1h0.9M317.2 380.9h0.9M339.6 404.0h0.9M348.0 401.5h0.9M330.0 399.5h0.9M319.9 395.1h0.9M328.0 399.0h0.9M314.2 381.8h0.9M325.4 403.4h0.9M344.0 382.8h0.9M337.6 403.8h0.9M344.1 389.6h0.9M309.3 396.2h0.9M338.7 382.0h0.9M320.9 378.5h0.9M312.0 384.5h0.9M330.8 389.8h0.9M348.3 399.6h0.9M344.2 393.3h0.9M340.4 406.4h0.9M316.5 376.0h0.9M318.2 389.7h0.9M318.7 399.0h0.9M315.0 383.6h0.9M310.5 377.0h0.9M321.6 398.5h0.9M328.3 388.1h0.9M328.1 392.3h0.9M307.3 393.2h0.9M306.7 388.5h0.9M320.7 401.6h0.9M328.2 382.3h0.9M327.2 400.0h0.9M321.1 371.0h0.9M328.5 387.1h0.9M324.6 405.0h0.9M342.8 384.8h0.9M306.8 367.4h0.9M332.0 389.3h0.9M335.1 384.1h0.9M314.1 390.5h0.9M310.3 387.8h0.9M344.3 390.6h0.9M323.0 376.9h0.9M334.0 383.5h0.9M331.6 406.3h0.9M352.7 396.2h0.9M321.3 374.6h0.9M306.2 372.6h0.9M319.0 398.4h0.9M356.2 397.8h0.9M335.2 410.4h0.9M316.0 393.6h0.9M314.2 372.0h0.9M337.5 397.8h0.9M347.9 375.6h0.9M319.5 355.5h0.9M348.1 384.1h0.9M351.3 388.5h0.9M333.6 385.1h0.9M341.4 385.3h0.9M348.4 377.9h0.9M333.9 408.1h0.9M348.0 387.1h0.9M308.8 389.0h0.9M315.3 382.1h0.9M345.1 387.2h0.9M352.4 395.1h0.9M314.4 389.0h0.9M314.1 354.4h0.9M339.5 377.9h0.9M308.0 367.1h0.9M313.8 371.0h0.9M340.6 406.4h0.9M311.7 393.0h0.9M317.1 368.2h0.9M314.4 397.6h0.9M318.9 368.0h0.9M331.6 379.6h0.9M355.0 394.5h0.9M323.6 380.3h0.9M342.7 382.7h0.9M310.9 395.8h0.9M332.8 374.3h0.9M331.8 372.5h0.9M330.8 404.9h0.9M342.3 398.2h0.9M308.5 395.8h0.9M334.6 374.9h0.9M325.0 374.4h0.9M341.6 381.8h0.9M328.4 388.1h0.9M336.8 409.1h0.9M346.2 382.3h0.9M344.7 395.7h0.9M333.4 394.1h0.9M327.6 389.8h0.9M307.3 393.1h0.9M333.4 408.7h0.9M310.2 364.1h0.9M331.6 383.4h0.9M352.9 393.0h0.9M337.4 374.7h0.9M307.0 366.6h0.9M314.0 375.5h0.9M328.6 385.8h0.9M324.3 385.8h0.9M319.2 373.0h0.9M316.9 389.7h0.9M323.7 404.0h0.9M347.7 386.3h0.9M330.8 407.6h0.9M350.1 401.5h0.9M307.3 378.1h0.9M342.8 382.9h0.9M314.9 361.2h0.9M306.0 381.4h0.9M340.4 399.8h0.9M336.2 376.9h0.9M330.7 405.1h0.9M311.4 386.2h0.9M315.4 386.3h0.9M340.0 380.4h0.9M333.0 374.7h0.9M338.8 372.1h0.9M343.3 377.1h0.9M310.6 373.5h0.9M335.7 382.2h0.9M340.1 393.3h0.9M318.6 398.2h0.9M307.2 377.4h0.9M327.3 393.0h0.9M318.5 377.6h0.9M316.0 369.6h0.9M320.1 398.4h0.9M331.6 399.1h0.9M332.2 404.6h0.9M328.7 374.2h0.9M339.3 385.8h0.9M345.5 374.6h0.9M325.9 383.6h0.9M342.4 384.0h0.9M312.4 375.0h0.9M322.2 373.5h0.9M309.4 395.3h0.9M331.6 387.7h0.9M336.6 401.3h0.9M337.5 392.1h0.9M347.1 375.1h0.9M346.3 403.6h0.9M328.5 393.9h0.9M337.9 385.5h0.9M330.2 401.1h0.9M340.2 407.9h0.9M325.8 364.9h0.9M319.1 393.7h0.9M344.5 393.9h0.9M324.1 376.3h0.9M337.0 394.2h0.9M307.6 365.8h0.9M334.4 389.1h0.9M322.0 377.2h0.9M307.3 373.7h0.9M353.9 395.1h0.9M333.6 395.1h0.9M325.5 392.8h0.9M330.5 391.0h0.9M318.1 373.5h0.9M308.9 391.1h0.9M306.3 382.5h0.9M306.9 386.3h0.9M309.9 385.2h0.9M319.5 381.5h0.9M323.3 402.5h0.9M327.7 391.3h0.9M325.1 402.0h0.9M331.6 401.3h0.9M331.8 378.8h0.9M323.9 391.7h0.9M310.0 396.3h0.9M331.8 399.4h0.9M339.4 409.6h0.9M341.9 376.4h0.9M306.2 385.3h0.9M346.8 391.9h0.9M330.7 367.3h0.9M337.2 381.7h0.9M319.5 381.2h0.9M337.4 411.1h0.9M313.4 373.8h0.9M334.3 405.1h0.9M344.8 402.9h0.9M325.8 374.8h0.9M337.2 411.8h0.9M349.2 387.3h0.9M326.2 371.7h0.9M320.9 381.9h0.9M324.9 388.9h0.9M331.3 380.8h0.9M315.9 389.3h0.9M320.0 396.3h0.9M350.2 404.0h0.9M339.5 373.9h0.9M314.7 369.8h0.9M329.6 399.9h0.9M345.7 405.6h0.9M338.4 376.4h0.9M315.1 398.9h0.9M317.0 368.7h0.9M318.8 368.2h0.9M335.5 378.7h0.9M319.5 390.5h0.9M334.4 373.5h0.9M310.4 396.9h0.9M312.8 399.5h0.9M317.7 396.2h0.9M348.5 380.2h0.9M350.4 389.0h0.9M317.0 358.8h0.9M306.2 387.2h0.9M334.9 373.4h0.9M340.9 382.5h0.9M325.7 395.1h0.9M348.5 395.1h0.9M335.3 371.1h0.9M319.2 372.2h0.9M334.8 405.7h0.9M331.1 388.4h0.9M322.7 370.9h0.9M332.7 406.0h0.9M342.1 402.0h0.9M307.0 391.6h0.9M321.2 374.0h0.9M326.6 399.3h0.9M309.2 394.2h0.9M331.5 389.9h0.9M346.8 384.6h0.9M348.5 378.7h0.9M333.4 393.1h0.9M328.4 391.8h0.9M339.4 378.0h0.9M353.8 394.4h0.9M310.9 378.4h0.9M335.4 409.2h0.9M324.4 372.7h0.9M347.5 376.1h0.9M342.0 410.7h0.9M337.9 379.3h0.9M343.3 381.0h0.9M315.5 369.7h0.9" stroke="#5aafe0" stroke-width="0.9" fill="none"/>
<path d="M325.0 406.5h0.9M343.8 405.5h0.9M350.7 390.6h0.9M311.3 377.9h0.9M347.2 393.9h0.9M306.2 380.8h0.9M339.0 404.1h0.9M313.4 388.3h0.9M306.8 381.8h0.9M335.3 377.1h0.9M328.9 375.2h0.9M342.8 393.0h0.9M331.3 396.8h0.9M340.3 381.7h0.9M313.9 389.4h0.9M330.1 386.0h0.9M307.5 387.1h0.9M321.4 403.6h0.9M336.3 372.2h0.9M356.7 397.5h0.9M347.1 382.7h0.9M308.5 377.4h0.9M349.9 401.7h0.9M333.5 407.5h0.9M308.1 365.6h0.9M314.0 374.4h0.9M326.6 387.6h0.9M339.5 403.4h0.9M338.0 383.0h0.9M321.0 373.5h0.9M309.3 384.1h0.9M346.8 401.0h0.9M335.3 392.0h0.9M311.3 361.1h0.9M326.4 377.1h0.9M335.1 382.8h0.9M333.5 390.8h0.9M336.4 377.7h0.9M333.6 393.3h0.9M306.3 374.4h0.9M313.2 379.0h0.9M341.1 403.4h0.9M308.3 371.7h0.9M332.5 378.2h0.9M323.2 373.0h0.9M313.9 357.7h0.9M318.0 394.1h0.9M324.4 393.2h0.9M340.2 407.9h0.9M327.1 376.1h0.9M349.0 397.9h0.9M307.5 381.7h0.9M344.1 408.6h0.9M336.7 396.2h0.9M310.8 385.6h0.9M346.4 376.1h0.9M324.5 392.7h0.9M335.1 389.7h0.9M308.3 371.5h0.9M339.2 394.0h0.9M354.5 390.7h0.9M352.3 394.5h0.9M321.0 376.9h0.9M344.5 379.2h0.9M329.9 408.1h0.9M343.8 376.8h0.9M348.5 401.2h0.9M311.6 398.6h0.9M328.6 394.5h0.9M311.6 383.1h0.9M307.2 375.1h0.9M322.3 370.4h0.9M355.8 397.4h0.9M346.4 386.0h0.9M335.3 370.7h0.9M306.8 380.3h0.9M328.5 363.8h0.9M312.1 382.9h0.9M312.3 397.1h0.9M321.2 377.9h0.9M313.4 393.1h0.9M337.5 410.3h0.9M330.5 391.3h0.9M336.4 398.7h0.9M321.2 403.5h0.9M349.3 378.0h0.9M336.3 392.2h0.9M315.4 393.2h0.9M347.7 389.1h0.9M330.9 389.7h0.9M306.8 374.9h0.9M346.2 383.2h0.9M351.5 393.1h0.9M321.1 388.9h0.9M310.6 392.9h0.9M320.9 380.9h0.9M338.7 397.4h0.9M312.6 380.6h0.9M313.3 374.0h0.9M318.4 382.6h0.9M324.2 399.1h0.9M347.1 390.1h0.9M309.1 387.6h0.9M340.2 393.0h0.9M316.0 378.2h0.9M334.5 383.2h0.9M336.5 403.9h0.9M346.1 385.6h0.9M354.3 390.9h0.9M314.8 389.5h0.9M330.9 366.6h0.9M326.6 379.1h0.9M339.9 385.5h0.9M336.7 375.2h0.9M334.5 388.0h0.9M317.6 387.1h0.9M344.4 409.8h0.9M332.1 375.3h0.9M308.9 380.4h0.9M336.0 392.0h0.9M339.6 382.7h0.9M334.7 377.0h0.9M333.1 408.1h0.9M310.2 389.7h0.9M329.6 373.3h0.9M334.4 383.1h0.9M349.9 393.7h0.9M323.7 362.3h0.9M338.3 393.9h0.9M305.6 376.1h0.9M346.8 399.8h0.9M319.8 385.0h0.9M350.3 385.2h0.9M352.1 385.5h0.9M336.0 386.8h0.9M334.6 405.5h0.9M318.6 393.1h0.9M336.8 400.5h0.9M346.6 373.4h0.9M351.2 388.7h0.9M321.6 386.4h0.9M318.7 385.3h0.9M336.6 411.1h0.9M322.1 377.0h0.9M349.1 396.5h0.9M310.0 378.5h0.9M319.0 353.7h0.9M325.5 393.1h0.9M349.9 393.1h0.9M341.6 390.6h0.9M315.7 400.5h0.9M322.2 396.2h0.9M308.4 385.2h0.9M323.9 368.1h0.9M342.2 386.2h0.9M324.6 389.4h0.9M327.0 404.4h0.9M342.8 399.0h0.9M315.1 379.3h0.9M332.6 385.7h0.9M308.7 381.7h0.9M331.9 407.3h0.9M315.2 390.8h0.9M339.5 375.2h0.9M349.4 377.8h0.9M354.5 393.6h0.9M331.3 403.5h0.9M339.9 391.1h0.9M345.5 390.9h0.9M326.6 378.3h0.9M332.3 392.2h0.9M335.4 394.6h0.9M328.7 406.4h0.9M330.0 408.1h0.9M307.1 384.8h0.9M322.2 380.9h0.9M327.4 401.9h0.9M348.0 402.7h0.9M309.9 393.8h0.9M335.2 398.9h0.9M346.2 387.6h0.9M352.1 396.2h0.9M312.8 382.5h0.9M313.3 379.6h0.9M332.8 388.9h0.9M311.5 379.4h0.9M333.3 403.8h0.9M318.1 374.8h0.9M347.6 399.0h0.9M333.9 394.4h0.9M307.4 379.5h0.9M337.9 398.7h0.9M333.6 382.6h0.9M326.7 404.7h0.9M354.2 395.0h0.9M337.9 396.6h0.9M349.6 397.4h0.9M347.0 385.4h0.9M350.3 386.3h0.9M311.3 372.4h0.9M342.4 387.9h0.9M325.1 393.7h0.9M338.6 406.2h0.9M321.2 381.3h0.9M342.1 374.3h0.9M306.8 371.3h0.9M342.9 375.9h0.9M319.1 396.4h0.9M313.3 374.2h0.9M353.0 389.8h0.9M345.8 377.7h0.9M317.9 384.0h0.9M349.6 392.5h0.9M354.4 396.5h0.9M327.1 397.3h0.9M335.3 405.1h0.9M346.4 395.9h0.9M345.9 386.7h0.9M345.8 394.2h0.9M332.3 377.2h0.9M330.6 385.1h0.9M323.6 370.8h0.9M319.0 393.5h0.9M307.9 390.4h0.9M342.7 401.0h0.9M309.8 373.7h0.9M343.1 393.5h0.9M347.1 377.2h0.9M342.3 372.3h0.9M343.2 376.2h0.9M330.7 398.1h0.9M326.5 384.0h0.9M343.1 387.5h0.9M341.0 391.2h0.9M309.6 391.9h0.9M310.6 374.0h0.9M324.0 375.1h0.9M342.1 380.8h0.9M314.4 370.9h0.9M339.4 410.7h0.9M345.0 378.1h0.9M315.9 377.7h0.9M341.4 382.4h0.9M334.3 366.8h0.9M333.3 383.6h0.9M319.8 373.3h0.9M347.5 398.9h0.9M333.1 404.3h0.9M345.1 403.0h0.9M317.8 378.1h0.9M339.3 394.2h0.9M347.3 395.5h0.9M346.3 389.2h0.9M334.1 378.5h0.9M338.1 383.5h0.9M332.7 396.6h0.9M337.5 379.3h0.9M344.4 383.8h0.9M346.6 378.6h0.9M319.9 391.9h0.9M325.5 406.0h0.9M324.1 383.3h0.9M331.9 379.6h0.9M311.5 376.3h0.9M337.8 398.3h0.9M354.3 393.1h0.9M335.9 400.8h0.9M317.5 397.7h0.9M323.9 363.2h0.9M325.9 372.1h0.9M336.3 402.6h0.9M353.4 386.8h0.9M334.3 393.2h0.9M311.7 387.0h0.9M345.7 395.3h0.9M350.8 385.8h0.9M314.3 388.9h0.9M337.3 404.1h0.9M309.0 394.1h0.9M320.0 397.0h0.9M331.1 368.3h0.9M321.9 378.7h0.9M339.3 376.8h0.9M327.4 380.3h0.9M307.4 387.8h0.9M338.6 403.5h0.9M335.6 398.4h0.9M350.2 403.6h0.9M311.5 381.8h0.9M312.1 367.2h0.9M323.3 404.8h0.9M312.5 375.4h0.9M331.5 364.4h0.9M344.0 407.4h0.9M331.1 388.6h0.9M330.7 374.8h0.9M320.3 394.9h0.9M322.5 395.4h0.9M319.8 385.6h0.9M328.1 380.2h0.9M345.5 374.3h0.9M323.2 374.3h0.9M313.7 371.6h0.9M336.9 384.7h0.9M331.2 400.0h0.9M305.1 384.7h0.9M309.6 370.7h0.9M330.1 401.8h0.9M346.6 402.5h0.9M318.5 387.1h0.9M352.1 394.3h0.9M353.1 396.0h0.9M314.3 376.5h0.9M332.8 371.2h0.9M354.1 397.7h0.9M319.7 373.6h0.9M337.6 380.8h0.9M307.5 385.9h0.9M347.9 398.1h0.9M341.6 405.5h0.9M329.3 401.7h0.9M333.5 367.1h0.9M339.5 385.5h0.9M310.5 363.9h0.9M350.5 383.8h0.9M335.1 383.4h0.9M334.6 381.3h0.9M326.3 394.1h0.9M327.2 391.5h0.9M349.0 386.2h0.9M328.9 389.0h0.9M325.2 376.1h0.9M319.7 379.4h0.9M337.8 395.9h0.9M341.9 410.8h0.9M355.5 396.6h0.9M325.5 404.6h0.9M331.6 378.9h0.9M355.5 393.4h0.9M348.3 388.8h0.9M305.4 383.7h0.9M321.0 357.7h0.9M344.8 400.5h0.9M332.8 376.0h0.9M340.7 404.8h0.9M326.7 375.3h0.9M319.0 397.7h0.9M310.1 375.0h0.9M352.9 385.4h0.9M323.0 377.9h0.9M354.4 391.4h0.9M310.2 387.5h0.9M349.0 382.9h0.9M329.2 392.0h0.9M317.7 395.3h0.9M330.1 397.0h0.9M344.8 383.2h0.9M319.6 386.8h0.9M342.4 409.6h0.9M339.9 379.5h0.9M323.6 383.1h0.9M314.4 396.0h0.9M317.6 378.5h0.9M318.0 400.3h0.9M339.4 381.7h0.9M328.8 379.5h0.9M336.7 367.8h0.9M323.9 381.1h0.9M316.4 374.0h0.9M322.2 389.8h0.9M338.1 371.2h0.9M326.0 398.1h0.9M320.1 385.1h0.9M342.9 398.3h0.9M337.5 395.7h0.9M306.3 391.3h0.9M338.9 382.9h0.9M350.6 384.2h0.9M339.6 368.4h0.9M335.0 378.0h0.9M312.7 394.3h0.9M332.0 386.9h0.9M320.3 386.2h0.9M332.1 401.3h0.9M343.1 397.6h0.9M336.1 388.7h0.9M355.0 393.5h0.9M308.2 367.9h0.9M338.3 377.4h0.9M323.2 367.5h0.9M319.9 397.9h0.9M325.0 402.1h0.9M340.4 388.3h0.9M329.8 371.5h0.9M345.4 392.1h0.9M326.5 387.7h0.9M349.2 395.3h0.9M325.2 373.6h0.9M320.7 390.4h0.9M326.8 377.3h0.9M344.6 380.3h0.9M332.9 385.1h0.9M325.8 394.8h0.9M318.5 396.0h0.9M339.7 382.4h0.9M328.0 382.2h0.9M323.7 403.3h0.9M348.7 381.3h0.9M320.2 372.3h0.9M346.1 375.3h0.9M318.7 388.3h0.9M355.2 396.4h0.9M338.1 403.5h0.9M316.0 387.0h0.9M319.8 385.3h0.9M314.1 390.6h0.9M319.5 396.7h0.9M336.6 408.6h0.9M332.1 397.7h0.9M311.7 385.9h0.9M349.8 387.8h0.9M325.8 393.4h0.9M347.3 375.9h0.9M325.1 398.0h0.9M327.2 367.5h0.9M324.4 368.9h0.9M336.1 373.2h0.9M323.5 399.1h0.9M331.7 401.4h0.9M316.7 391.9h0.9" stroke="#3b93cf" stroke-width="0.9" fill="none"/>
<path d="M346.7 372.5h0.9M306.5 371.2h0.9M319.8 358.8h0.9M318.0 359.4h0.9M323.3 365.3h0.9M314.8 373.0h0.9M326.2 366.5h0.9M322.9 359.3h0.9M311.2 357.7h0.9M311.7 359.1h0.9M320.0 356.5h0.9M339.1 369.4h0.9M316.7 367.4h0.9M312.9 356.7h0.9M322.3 358.4h0.9M326.6 367.1h0.9M319.7 358.4h0.9M316.5 354.1h0.9M321.1 358.6h0.9M327.5 364.3h0.9M323.2 375.4h0.9M312.1 362.0h0.9M346.9 374.6h0.9M327.2 364.4h0.9M322.9 361.6h0.9M311.5 356.0h0.9M319.0 366.5h0.9M311.4 356.1h0.9M321.8 357.7h0.9M317.2 355.0h0.9M319.7 367.3h0.9M322.3 359.1h0.9M321.9 365.2h0.9M321.5 366.8h0.9M315.4 355.5h0.9M332.2 369.0h0.9M315.9 364.5h0.9M311.9 364.5h0.9M318.3 356.8h0.9M310.1 362.6h0.9M312.6 357.0h0.9M329.6 372.5h0.9M317.9 359.5h0.9M339.0 373.7h0.9M325.9 360.3h0.9M316.4 360.7h0.9M310.2 361.6h0.9M343.7 373.2h0.9M313.3 361.8h0.9M322.2 363.4h0.9M326.7 370.2h0.9M314.5 363.5h0.9M317.4 358.0h0.9M313.0 358.4h0.9M313.6 357.5h0.9M318.2 370.3h0.9M313.4 362.8h0.9M324.0 363.6h0.9M313.5 368.8h0.9M317.2 354.2h0.9M321.5 372.8h0.9M324.0 360.8h0.9M314.1 366.6h0.9M345.5 374.1h0.9M316.0 361.6h0.9M339.7 370.5h0.9M317.4 353.1h0.9M320.6 357.0h0.9M306.3 371.0h0.9M318.7 372.9h0.9M317.4 364.2h0.9M342.9 368.9h0.9M345.9 372.6h0.9M321.4 357.0h0.9M314.7 358.0h0.9M325.4 362.2h0.9M318.7 362.1h0.9M321.6 362.7h0.9M312.4 373.2h0.9M318.5 364.8h0.9M323.1 359.5h0.9M329.8 369.5h0.9M324.1 366.1h0.9M318.8 362.8h0.9M316.5 366.2h0.9M310.2 360.4h0.9M318.8 360.7h0.9M319.6 366.2h0.9M324.6 365.7h0.9M317.3 359.6h0.9M316.8 367.1h0.9M321.1 354.5h0.9M318.4 355.4h0.9M333.3 366.3h0.9M313.3 370.3h0.9M318.4 368.7h0.9M312.2 365.6h0.9M307.4 372.5h0.9M322.3 371.6h0.9M313.4 363.4h0.9M316.0 368.3h0.9M318.8 353.4h0.9M321.8 356.9h0.9M322.2 367.4h0.9M327.1 363.1h0.9M310.6 362.5h0.9M342.9 371.6h0.9M341.4 372.4h0.9M315.4 355.5h0.9M313.0 359.6h0.9M320.8 373.7h0.9M307.9 363.7h0.9M310.7 359.4h0.9M322.1 363.3h0.9M325.2 361.2h0.9M308.0 363.6h0.9M316.8 359.6h0.9M317.3 355.9h0.9M318.4 353.0h0.9M320.1 365.6h0.9M324.9 364.1h0.9M324.3 357.9h0.9M325.5 366.2h0.9M324.6 359.3h0.9M317.6 362.9h0.9M312.2 358.3h0.9M328.3 373.3h0.9M309.5 375.1h0.9" stroke="#e0141c" stroke-width="0.9" fill="none"/>
<circle cx="243.60" cy="318.30" r="1.90" fill="#5ab3e6"/>
<circle cx="243.60" cy="329.20" r="1.90" fill="#d8121c"/>
<text x="248.40" y="320.80" font-size="7.0" fill="#231f20" textLength="80.30" lengthAdjust="spacingAndGlyphs">CD8<tspan font-size="4.8" dy="-2.8">+</tspan><tspan dy="2.8">CD27</tspan><tspan font-size="4.8" dy="-2.8">−</tspan><tspan dy="2.8">TIM3</tspan><tspan font-size="4.8" dy="-2.8">−</tspan><tspan dy="2.8">T cells</tspan></text>
<text x="248.40" y="331.80" font-size="7.0" fill="#231f20" textLength="82.20" lengthAdjust="spacingAndGlyphs">CD8<tspan font-size="4.8" dy="-2.8">+</tspan><tspan dy="2.8">CD27</tspan><tspan font-size="4.8" dy="-2.8">+</tspan><tspan dy="2.8">TIM3</tspan><tspan font-size="4.8" dy="-2.8">+</tspan><tspan dy="2.8">T cells</tspan></text>
<text x="241.90" y="347.30" font-size="8.2" fill="#111" textLength="30.00" lengthAdjust="spacingAndGlyphs">Vehicle</text>
<text x="299.50" y="347.30" font-size="8.2" fill="#111" textLength="63.20" lengthAdjust="spacingAndGlyphs">MDM2 treated</text>
<path d="M221 382.7V419.4H248.8" fill="none" stroke="#111" stroke-width="1.2"/>
<text x="223.60" y="379.40" font-size="8.2" fill="#111" textLength="30.00" lengthAdjust="spacingAndGlyphs" transform="rotate(-90 223.60 379.40)">Umap2</text>
<text x="254.00" y="422.70" font-size="8.2" fill="#111" textLength="29.50" lengthAdjust="spacingAndGlyphs">Umap1</text>
<rect x="133.00" y="433.00" width="11.93" height="11.00" fill="#ffffff"/>
<rect x="133.00" y="444.00" width="11.93" height="10.60" fill="#ffffff"/>
<rect x="144.93" y="433.00" width="11.93" height="11.00" fill="#a9d0ea"/>
<rect x="144.93" y="444.00" width="11.93" height="10.60" fill="#72b3e0"/>
<rect x="156.87" y="433.00" width="11.93" height="11.00" fill="#e2eefb"/>
<rect x="156.87" y="444.00" width="11.93" height="10.60" fill="#cfe0f3"/>
<rect x="168.80" y="433.00" width="11.93" height="11.00" fill="#aacfe8"/>
<rect x="168.80" y="444.00" width="11.93" height="10.60" fill="#74b5df"/>
<rect x="180.73" y="433.00" width="11.93" height="11.00" fill="#3685c6"/>
<rect x="180.73" y="444.00" width="11.93" height="10.60" fill="#1b53a5"/>
<rect x="192.67" y="433.00" width="11.93" height="11.00" fill="#a9cfe9"/>
<rect x="192.67" y="444.00" width="11.93" height="10.60" fill="#57a3d8"/>
<rect x="204.60" y="433.00" width="11.93" height="11.00" fill="#3a80c4"/>
<rect x="204.60" y="444.00" width="11.93" height="10.60" fill="#0e2f6e"/>
<rect x="216.53" y="433.00" width="11.93" height="11.00" fill="#e6f0fa"/>
<rect x="216.53" y="444.00" width="11.93" height="10.60" fill="#e6f0fa"/>
<rect x="228.47" y="433.00" width="11.93" height="11.00" fill="#d2e3f5"/>
<rect x="228.47" y="444.00" width="11.93" height="10.60" fill="#d2e3f5"/>
<rect x="240.40" y="433.00" width="11.93" height="11.00" fill="#e6f0fa"/>
<rect x="240.40" y="444.00" width="11.93" height="10.60" fill="#5aa2d6"/>
<rect x="252.33" y="433.00" width="11.93" height="11.00" fill="#3a84c4"/>
<rect x="252.33" y="444.00" width="11.93" height="10.60" fill="#0d306e"/>
<rect x="264.27" y="433.00" width="11.93" height="11.00" fill="#ffffff"/>
<rect x="264.27" y="444.00" width="11.93" height="10.60" fill="#e6f0fa"/>
<rect x="276.20" y="433.00" width="11.93" height="11.00" fill="#ffffff"/>
<rect x="276.20" y="444.00" width="11.93" height="10.60" fill="#ffffff"/>
<rect x="288.13" y="433.00" width="11.93" height="11.00" fill="#a8cfe8"/>
<rect x="288.13" y="444.00" width="11.93" height="10.60" fill="#1f63b0"/>
<rect x="300.07" y="433.00" width="11.93" height="11.00" fill="#e3eefa"/>
<rect x="300.07" y="444.00" width="11.93" height="10.60" fill="#3a84c4"/>
<path d="M133.00 433.00V454.60M144.93 433.00V454.60M156.87 433.00V454.60M168.80 433.00V454.60M180.73 433.00V454.60M192.67 433.00V454.60M204.60 433.00V454.60M216.53 433.00V454.60M228.47 433.00V454.60M240.40 433.00V454.60M252.33 433.00V454.60M264.27 433.00V454.60M276.20 433.00V454.60M288.13 433.00V454.60M300.07 433.00V454.60M312.00 433.00V454.60M133.00 433.00H312M133.00 444.00H312M133.00 454.60H312" stroke="#3c3c3c" stroke-width="0.8" fill="none"/>
<text x="136.27" y="459.00" font-size="7.5" fill="#222" stroke="#222" stroke-width="0.05" transform="rotate(90 136.27 459.00)">CD73</text>
<text x="148.20" y="459.00" font-size="7.5" fill="#222" stroke="#222" stroke-width="0.05" transform="rotate(90 148.20 459.00)">TCF</text>
<text x="160.13" y="459.00" font-size="7.5" fill="#222" stroke="#222" stroke-width="0.05" transform="rotate(90 160.13 459.00)">GZMB</text>
<text x="172.07" y="459.00" font-size="7.5" fill="#222" stroke="#222" stroke-width="0.05" transform="rotate(90 172.07 459.00)">IFNg</text>
<text x="184.00" y="459.00" font-size="7.5" fill="#222" stroke="#222" stroke-width="0.05" transform="rotate(90 184.00 459.00)">Ki67</text>
<text x="195.93" y="459.00" font-size="7.5" fill="#222" stroke="#222" stroke-width="0.05" transform="rotate(90 195.93 459.00)">CD44</text>
<text x="207.87" y="459.00" font-size="7.5" fill="#222" stroke="#222" stroke-width="0.05" transform="rotate(90 207.87 459.00)">PD1</text>
<text x="219.80" y="459.00" font-size="7.5" fill="#222" stroke="#222" stroke-width="0.05" transform="rotate(90 219.80 459.00)">CD25</text>
<text x="231.73" y="459.00" font-size="7.5" fill="#222" stroke="#222" stroke-width="0.05" transform="rotate(90 231.73 459.00)">TNF</text>
<text x="243.67" y="459.00" font-size="7.5" fill="#222" stroke="#222" stroke-width="0.05" transform="rotate(90 243.67 459.00)">TIM3</text>
<text x="255.60" y="459.00" font-size="7.5" fill="#222" stroke="#222" stroke-width="0.05" transform="rotate(90 255.60 459.00)">TOX</text>
<text x="267.53" y="459.00" font-size="7.5" fill="#222" stroke="#222" stroke-width="0.05" transform="rotate(90 267.53 459.00)">CD127</text>
<text x="279.47" y="459.00" font-size="7.5" fill="#222" stroke="#222" stroke-width="0.05" transform="rotate(90 279.47 459.00)">TIGIT</text>
<text x="291.40" y="459.00" font-size="7.5" fill="#222" stroke="#222" stroke-width="0.05" transform="rotate(90 291.40 459.00)">CD39</text>
<text x="303.33" y="459.00" font-size="7.5" fill="#222" stroke="#222" stroke-width="0.05" transform="rotate(90 303.33 459.00)">CD27</text>
<text x="314.30" y="441.20" font-size="7.0" fill="#231f20" textLength="80.30" lengthAdjust="spacingAndGlyphs">CD8<tspan font-size="4.8" dy="-2.8">+</tspan><tspan dy="2.8">CD27</tspan><tspan font-size="4.8" dy="-2.8">−</tspan><tspan dy="2.8">TIM3</tspan><tspan font-size="4.8" dy="-2.8">−</tspan><tspan dy="2.8">T cells</tspan></text>
<text x="314.30" y="451.60" font-size="7.0" fill="#231f20" textLength="81.50" lengthAdjust="spacingAndGlyphs">CD8<tspan font-size="4.8" dy="-2.8">+</tspan><tspan dy="2.8">CD27</tspan><tspan font-size="4.8" dy="-2.8">+</tspan><tspan dy="2.8">TIM3</tspan><tspan font-size="4.8" dy="-2.8">+</tspan><tspan dy="2.8">T cells</tspan></text>
<rect x="407.10" y="428.90" width="6.20" height="5.10" fill="#0b2560"/>
<rect x="407.10" y="433.95" width="6.20" height="5.10" fill="#0e3e8c"/>
<rect x="407.10" y="439.00" width="6.20" height="5.10" fill="#1658a5"/>
<rect x="407.10" y="444.05" width="6.20" height="5.10" fill="#2a72b8"/>
<rect x="407.10" y="449.10" width="6.20" height="5.10" fill="#3f8ac6"/>
<rect x="407.10" y="454.15" width="6.20" height="5.10" fill="#63a4d6"/>
<rect x="407.10" y="459.20" width="6.20" height="5.10" fill="#8fbfe3"/>
<rect x="407.10" y="464.25" width="6.20" height="5.10" fill="#b6d5ee"/>
<rect x="407.10" y="469.30" width="6.20" height="5.10" fill="#d6e8f7"/>
<rect x="407.10" y="474.35" width="6.20" height="5.10" fill="#eef8fd"/>
<text x="416.60" y="442.90" font-size="7.2" fill="#333" stroke="#333" stroke-width="0.15" textLength="10.10" lengthAdjust="spacingAndGlyphs">0.5</text>
<text x="416.60" y="452.50" font-size="7.2" fill="#333" stroke="#333" stroke-width="0.15" textLength="10.10" lengthAdjust="spacingAndGlyphs">0.4</text>
<text x="416.60" y="462.00" font-size="7.2" fill="#333" stroke="#333" stroke-width="0.15" textLength="10.10" lengthAdjust="spacingAndGlyphs">0.3</text>
<text x="416.60" y="471.20" font-size="7.2" fill="#333" stroke="#333" stroke-width="0.15" textLength="10.10" lengthAdjust="spacingAndGlyphs">0.2</text>
<text x="416.60" y="480.80" font-size="7.2" fill="#333" stroke="#333" stroke-width="0.15" textLength="10.10" lengthAdjust="spacingAndGlyphs">0.1</text>
<rect x="0" y="0" width="1.1" height="643" fill="#000"/>
<rect x="0" y="0" width="520" height="1" fill="#000"/>
<rect x="518.9" y="0" width="1.1" height="643" fill="#000"/>
<rect x="0" y="641.4" width="520" height="1.6" fill="#000"/>
</svg></body></html>
